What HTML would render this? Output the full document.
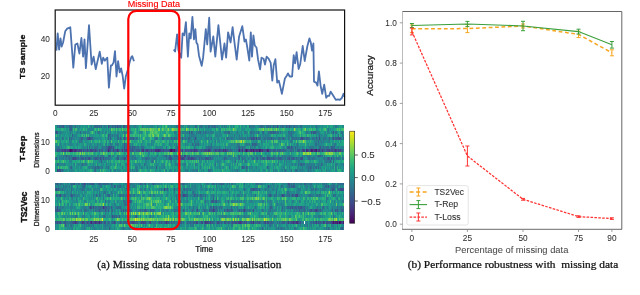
<!DOCTYPE html>
<html><head><meta charset="utf-8"><style>
html,body{margin:0;padding:0;background:#fff;width:640px;height:295px;overflow:hidden}
svg{display:block;font-family:'Liberation Sans', sans-serif;filter:blur(0.25px)}
</style></head><body>
<svg width="640" height="295" viewBox="0 0 640 295">
<defs><linearGradient id="cb" x1="0" y1="0" x2="0" y2="1"><stop offset="0.00" stop-color="#fde725"/><stop offset="0.05" stop-color="#dfe318"/><stop offset="0.10" stop-color="#bddf26"/><stop offset="0.15" stop-color="#9bd93c"/><stop offset="0.20" stop-color="#7ad151"/><stop offset="0.25" stop-color="#5ec962"/><stop offset="0.30" stop-color="#44bf70"/><stop offset="0.35" stop-color="#2fb47c"/><stop offset="0.40" stop-color="#22a884"/><stop offset="0.45" stop-color="#1e9c89"/><stop offset="0.50" stop-color="#21918c"/><stop offset="0.55" stop-color="#25848e"/><stop offset="0.60" stop-color="#2a788e"/><stop offset="0.65" stop-color="#2f6c8e"/><stop offset="0.70" stop-color="#355f8d"/><stop offset="0.75" stop-color="#3b528b"/><stop offset="0.80" stop-color="#414487"/><stop offset="0.85" stop-color="#463480"/><stop offset="0.90" stop-color="#482475"/><stop offset="0.95" stop-color="#471365"/><stop offset="1.00" stop-color="#440154"/></linearGradient></defs>
<polyline points="56.4,50.6 57.7,33.3 59.1,49.6 60.5,38.4 61.7,46.5 63.1,42.5 65.2,31.3 67.2,28.6 70.3,27.2 73.3,67.6 75.3,44.5 77.4,43.5 79.4,53.6 81.4,38.0 83.1,56.7 84.5,39.4 85.9,68.2 89.0,25.2 91.6,64.5 93.6,56.7 95.7,69.2 99.7,51.6 101.8,63.8 103.2,57.7 104.8,60.7 107.3,57.7 108.9,87.7 110.9,65.3 112.0,65.3 113.6,62.3 115.0,51.1 116.5,76.5 118.1,61.2 119.7,72.4 121.1,68.4 122.6,75.5 124.2,88.7 125.8,76.5 127.9,69.4 129.9,61.2 131.3,57.2 132.3,56.2 134.0,61.2" fill="none" stroke="#4c72b0" stroke-width="1.8" stroke-linejoin="round"/>
<polyline points="173.7,49.6 175.1,51.6 177.1,34.3 178.5,50.6 181.2,57.7 182.6,33.3 184.2,35.3 185.9,22.1 187.9,56.7 189.3,33.3 190.7,38.4 192.4,17.0 194.0,39.4 195.4,29.2 196.4,42.5 197.6,44.5 199.0,55.7 201.7,65.8 203.1,57.7 205.8,29.2 207.2,44.5 209.2,17.7 210.6,51.6 211.9,44.5 213.3,36.4 215.3,56.7 218.4,25.2 220.0,40.4 222.0,59.7 224.5,43.5 226.1,57.7 228.1,32.3 230.6,42.5 232.6,27.2 234.6,43.5 236.7,59.7 239.1,36.4 242.3,26.2 244.5,41.5 245.9,39.4 247.3,47.5 249.3,60.7 250.8,32.3 252.0,56.7 253.4,35.3 254.8,45.5 256.5,47.5 258.1,59.7 260.1,69.4 261.5,57.7 263.6,58.7 265.0,64.5 266.6,56.7 268.6,58.7 270.7,62.8 272.3,80.6 273.7,65.3 275.4,59.2 277.2,82.6 278.8,80.6 279.8,84.6 281.9,93.8 283.3,86.7 284.9,78.5 286.9,75.5 288.0,73.4 289.7,76.5 292.1,76.5 293.7,55.1 295.1,63.3 296.6,52.1 298.6,69.0 300.2,64.3 302.7,46.0 304.7,61.0 307.3,46.5 309.4,38.4 310.8,42.5 312.0,50.6 313.4,43.5 314.0,81.6 316.1,82.6 317.5,85.6 318.9,71.4 320.6,85.6 322.2,93.8 324.2,84.6 326.2,97.8 327.7,95.8 329.1,95.8 330.7,91.7 332.7,94.8 335.8,99.9 337.8,99.3 339.9,99.9 341.9,97.8 343.5,93.8 344.5,96.8" fill="none" stroke="#4c72b0" stroke-width="1.8" stroke-linejoin="round"/>
<rect x="55.2" y="10" width="289.4" height="95.2" fill="none" stroke="#111" stroke-width="1.2"/>
<text transform="translate(49.90,42.03) scale(0.87,1)" text-anchor="end" style="font-size:9.5px;fill:#2a2a2a;stroke:#2a2a2a;stroke-width:0.04px">40</text>
<text transform="translate(49.90,79.38) scale(0.87,1)" text-anchor="end" style="font-size:9.5px;fill:#2a2a2a;stroke:#2a2a2a;stroke-width:0.04px">20</text>
<text transform="translate(55.20,116.42) scale(0.87,1)" text-anchor="middle" style="font-size:9.5px;fill:#2a2a2a;stroke:#2a2a2a;stroke-width:0.04px">0</text>
<text transform="translate(93.78,116.42) scale(0.87,1)" text-anchor="middle" style="font-size:9.5px;fill:#2a2a2a;stroke:#2a2a2a;stroke-width:0.04px">25</text>
<text transform="translate(132.35,116.42) scale(0.87,1)" text-anchor="middle" style="font-size:9.5px;fill:#2a2a2a;stroke:#2a2a2a;stroke-width:0.04px">50</text>
<text transform="translate(170.93,116.42) scale(0.87,1)" text-anchor="middle" style="font-size:9.5px;fill:#2a2a2a;stroke:#2a2a2a;stroke-width:0.04px">75</text>
<text transform="translate(209.50,116.42) scale(0.87,1)" text-anchor="middle" style="font-size:9.5px;fill:#2a2a2a;stroke:#2a2a2a;stroke-width:0.04px">100</text>
<text transform="translate(248.07,116.42) scale(0.87,1)" text-anchor="middle" style="font-size:9.5px;fill:#2a2a2a;stroke:#2a2a2a;stroke-width:0.04px">125</text>
<text transform="translate(286.65,116.42) scale(0.87,1)" text-anchor="middle" style="font-size:9.5px;fill:#2a2a2a;stroke:#2a2a2a;stroke-width:0.04px">150</text>
<text transform="translate(325.22,116.42) scale(0.87,1)" text-anchor="middle" style="font-size:9.5px;fill:#2a2a2a;stroke:#2a2a2a;stroke-width:0.04px">175</text>
<text transform="translate(24.90,78.99) rotate(-90) scale(1.102,1)" style="font-family:'Liberation Sans', sans-serif;font-weight:bold;font-size:8.09px;fill:#111;stroke:#111;stroke-width:0.35px;white-space:pre">TS sample</text>
<g shape-rendering="crispEdges" style="filter:blur(0.45px)">
<path fill="#46085c" d="M70.06 148.60h1.00v2.95h-1.00zM170.82 148.60h1.00v2.95h-1.00z"/>
<path fill="#48186a" d="M71.06 148.60h1.00v2.95h-1.00zM169.82 148.60h1.00v2.95h-1.00zM173.81 148.60h1.00v2.95h-1.00zM245.64 148.60h1.00v2.95h-1.00zM252.62 148.60h1.00v2.95h-1.00zM258.61 148.60h1.00v2.95h-1.00zM311.48 148.60h1.00v2.95h-1.00zM316.47 148.60h1.00v2.95h-1.00z"/>
<path fill="#482576" d="M69.07 148.60h1.00v2.95h-1.00zM72.06 148.60h1.00v2.95h-1.00zM75.05 148.60h1.00v2.95h-1.00zM107.97 148.60h1.00v2.95h-1.00zM157.85 148.60h1.00v2.95h-1.00zM171.82 148.60h1.00v2.95h-1.00zM238.66 148.60h1.00v2.95h-1.00zM250.63 148.60h1.00v2.95h-1.00zM259.61 148.60h1.00v2.95h-1.00zM266.59 148.60h1.00v2.95h-1.00zM306.49 148.60h1.00v2.95h-1.00zM312.48 148.60h1.00v2.95h-1.00zM315.47 148.60h1.00v2.95h-1.00z"/>
<path fill="#46337f" d="M65.08 148.60h1.00v2.95h-1.00zM74.05 148.60h1.00v2.95h-1.00zM116.95 148.60h1.00v2.95h-1.00zM142.89 148.60h1.00v2.95h-1.00zM154.86 148.60h2.99v2.95h-2.99zM158.85 148.60h1.00v2.95h-1.00zM172.82 148.60h1.00v2.95h-1.00zM177.80 148.60h1.00v2.95h-1.00zM193.76 148.60h1.00v2.95h-1.00zM207.73 148.60h1.00v2.95h-1.00zM222.69 148.60h1.00v2.95h-1.00zM224.69 148.60h1.00v2.95h-1.00zM241.65 148.60h1.00v2.95h-1.00zM244.64 148.60h1.00v2.95h-1.00zM246.64 148.60h1.00v2.95h-1.00zM249.63 148.60h1.00v2.95h-1.00zM255.61 148.60h2.00v2.95h-2.00zM261.60 148.60h1.00v2.95h-1.00zM267.59 148.60h1.00v2.95h-1.00zM307.49 148.60h1.00v2.95h-1.00zM314.47 148.60h1.00v2.95h-1.00zM319.46 148.60h1.00v2.95h-1.00zM322.45 148.60h1.00v2.95h-1.00zM335.42 148.60h1.00v2.95h-1.00z"/>
<path fill="#424086" d="M89.02 136.80h1.00v2.95h-1.00zM255.61 136.80h1.00v2.95h-1.00zM108.97 145.65h1.00v2.95h-1.00zM62.08 148.60h1.00v2.95h-1.00zM64.08 148.60h1.00v2.95h-1.00zM67.07 148.60h2.00v2.95h-2.00zM73.06 148.60h1.00v2.95h-1.00zM76.05 148.60h1.00v2.95h-1.00zM79.04 148.60h1.00v2.95h-1.00zM81.04 148.60h1.00v2.95h-1.00zM90.02 148.60h2.00v2.95h-2.00zM95.00 148.60h1.00v2.95h-1.00zM108.97 148.60h1.00v2.95h-1.00zM112.96 148.60h1.00v2.95h-1.00zM121.94 148.60h1.00v2.95h-1.00zM123.93 148.60h1.00v2.95h-1.00zM125.93 148.60h2.00v2.95h-2.00zM141.89 148.60h1.00v2.95h-1.00zM145.88 148.60h2.00v2.95h-2.00zM150.87 148.60h1.00v2.95h-1.00zM159.85 148.60h1.00v2.95h-1.00zM162.84 148.60h1.00v2.95h-1.00zM168.82 148.60h1.00v2.95h-1.00zM181.79 148.60h1.00v2.95h-1.00zM190.77 148.60h1.00v2.95h-1.00zM194.76 148.60h2.00v2.95h-2.00zM205.74 148.60h1.00v2.95h-1.00zM208.73 148.60h1.00v2.95h-1.00zM214.71 148.60h1.00v2.95h-1.00zM218.70 148.60h1.00v2.95h-1.00zM251.62 148.60h1.00v2.95h-1.00zM253.62 148.60h2.00v2.95h-2.00zM257.61 148.60h1.00v2.95h-1.00zM260.60 148.60h1.00v2.95h-1.00zM302.50 148.60h2.00v2.95h-2.00zM310.48 148.60h1.00v2.95h-1.00zM313.47 148.60h1.00v2.95h-1.00zM318.46 148.60h1.00v2.95h-1.00zM329.44 148.60h1.00v2.95h-1.00zM336.42 148.60h1.00v2.95h-1.00zM338.41 148.60h1.00v2.95h-1.00zM340.41 148.60h1.00v2.95h-1.00zM183.79 154.50h2.00v2.95h-2.00zM73.06 157.45h1.00v2.95h-1.00zM75.05 157.45h1.00v2.95h-1.00zM177.80 157.45h1.00v2.95h-1.00zM181.79 157.45h2.00v2.95h-2.00zM187.78 157.45h1.00v2.95h-1.00zM190.77 157.45h1.00v2.95h-1.00zM57.10 169.25h1.00v2.95h-1.00z"/>
<path fill="#3e4c8a" d="M107.97 125.00h1.00v2.95h-1.00zM116.95 125.00h1.00v2.95h-1.00zM276.56 125.00h1.00v2.95h-1.00zM288.54 125.00h1.00v2.95h-1.00zM56.10 130.90h1.00v2.95h-1.00zM188.78 130.90h1.00v2.95h-1.00zM88.02 136.80h1.00v2.95h-1.00zM123.93 136.80h1.00v2.95h-1.00zM194.76 136.80h1.00v2.95h-1.00zM252.62 136.80h1.00v2.95h-1.00zM300.51 136.80h2.00v2.95h-2.00zM319.46 136.80h1.00v2.95h-1.00zM333.43 136.80h1.00v2.95h-1.00zM339.41 136.80h1.00v2.95h-1.00zM107.97 145.65h1.00v2.95h-1.00zM110.96 145.65h1.00v2.95h-1.00zM123.93 145.65h1.00v2.95h-1.00zM290.53 145.65h1.00v2.95h-1.00zM61.09 148.60h1.00v2.95h-1.00zM63.08 148.60h1.00v2.95h-1.00zM77.05 148.60h2.00v2.95h-2.00zM80.04 148.60h1.00v2.95h-1.00zM83.03 148.60h1.00v2.95h-1.00zM87.02 148.60h1.00v2.95h-1.00zM92.01 148.60h1.00v2.95h-1.00zM98.99 148.60h1.00v2.95h-1.00zM109.97 148.60h1.00v2.95h-1.00zM117.95 148.60h1.00v2.95h-1.00zM131.91 148.60h1.00v2.95h-1.00zM140.89 148.60h1.00v2.95h-1.00zM152.86 148.60h1.00v2.95h-1.00zM174.81 148.60h2.00v2.95h-2.00zM178.80 148.60h1.00v2.95h-1.00zM184.79 148.60h1.00v2.95h-1.00zM187.78 148.60h1.00v2.95h-1.00zM189.77 148.60h1.00v2.95h-1.00zM192.77 148.60h1.00v2.95h-1.00zM196.76 148.60h1.00v2.95h-1.00zM200.75 148.60h1.00v2.95h-1.00zM203.74 148.60h2.00v2.95h-2.00zM209.73 148.60h1.00v2.95h-1.00zM215.71 148.60h1.00v2.95h-1.00zM217.71 148.60h1.00v2.95h-1.00zM219.70 148.60h1.00v2.95h-1.00zM223.69 148.60h1.00v2.95h-1.00zM225.69 148.60h1.00v2.95h-1.00zM237.66 148.60h1.00v2.95h-1.00zM247.63 148.60h2.00v2.95h-2.00zM265.59 148.60h1.00v2.95h-1.00zM301.50 148.60h1.00v2.95h-1.00zM308.49 148.60h1.00v2.95h-1.00zM327.44 148.60h2.00v2.95h-2.00zM331.43 148.60h2.00v2.95h-2.00zM334.42 148.60h1.00v2.95h-1.00zM89.02 157.45h1.00v2.95h-1.00zM99.99 157.45h1.00v2.95h-1.00zM102.98 157.45h1.00v2.95h-1.00zM169.82 157.45h1.00v2.95h-1.00zM179.80 157.45h2.00v2.95h-2.00zM191.77 157.45h2.00v2.95h-2.00zM205.74 157.45h1.00v2.95h-1.00zM266.59 157.45h1.00v2.95h-1.00zM268.58 157.45h1.00v2.95h-1.00zM288.54 157.45h1.00v2.95h-1.00zM301.50 157.45h1.00v2.95h-1.00zM328.44 157.45h1.00v2.95h-1.00zM331.43 157.45h1.00v2.95h-1.00zM59.09 169.25h2.00v2.95h-2.00z"/>
<path fill="#38588c" d="M63.08 125.00h1.00v2.95h-1.00zM114.96 125.00h1.00v2.95h-1.00zM122.94 125.00h2.00v2.95h-2.00zM126.93 125.00h1.00v2.95h-1.00zM272.57 125.00h1.00v2.95h-1.00zM285.54 125.00h1.00v2.95h-1.00zM190.77 130.90h1.00v2.95h-1.00zM272.57 130.90h1.00v2.95h-1.00zM311.48 130.90h1.00v2.95h-1.00zM313.47 130.90h2.00v2.95h-2.00zM333.43 130.90h1.00v2.95h-1.00zM107.97 133.85h1.00v2.95h-1.00zM81.04 136.80h1.00v2.95h-1.00zM87.02 136.80h1.00v2.95h-1.00zM90.02 136.80h1.00v2.95h-1.00zM127.92 136.80h1.00v2.95h-1.00zM132.91 136.80h1.00v2.95h-1.00zM173.81 136.80h1.00v2.95h-1.00zM181.79 136.80h1.00v2.95h-1.00zM250.63 136.80h2.00v2.95h-2.00zM253.62 136.80h1.00v2.95h-1.00zM270.58 136.80h1.00v2.95h-1.00zM336.42 136.80h1.00v2.95h-1.00zM338.41 136.80h1.00v2.95h-1.00zM123.93 142.70h1.00v2.95h-1.00zM251.62 142.70h1.00v2.95h-1.00zM109.97 145.65h1.00v2.95h-1.00zM112.96 145.65h1.00v2.95h-1.00zM131.91 145.65h1.00v2.95h-1.00zM133.91 145.65h1.00v2.95h-1.00zM287.54 145.65h2.00v2.95h-2.00zM320.46 145.65h1.00v2.95h-1.00zM331.43 145.65h1.00v2.95h-1.00zM57.10 148.60h2.99v2.95h-2.99zM66.07 148.60h1.00v2.95h-1.00zM93.01 148.60h2.00v2.95h-2.00zM101.99 148.60h1.00v2.95h-1.00zM106.97 148.60h1.00v2.95h-1.00zM114.96 148.60h2.00v2.95h-2.00zM124.93 148.60h1.00v2.95h-1.00zM127.92 148.60h1.00v2.95h-1.00zM129.92 148.60h1.00v2.95h-1.00zM135.90 148.60h1.00v2.95h-1.00zM137.90 148.60h2.00v2.95h-2.00zM144.88 148.60h1.00v2.95h-1.00zM147.88 148.60h2.00v2.95h-2.00zM153.86 148.60h1.00v2.95h-1.00zM160.84 148.60h2.00v2.95h-2.00zM164.83 148.60h2.00v2.95h-2.00zM167.83 148.60h1.00v2.95h-1.00zM179.80 148.60h1.00v2.95h-1.00zM185.78 148.60h1.00v2.95h-1.00zM191.77 148.60h1.00v2.95h-1.00zM202.74 148.60h1.00v2.95h-1.00zM206.73 148.60h1.00v2.95h-1.00zM220.70 148.60h2.00v2.95h-2.00zM226.68 148.60h1.00v2.95h-1.00zM239.65 148.60h2.00v2.95h-2.00zM243.64 148.60h1.00v2.95h-1.00zM262.60 148.60h2.99v2.95h-2.99zM268.58 148.60h2.00v2.95h-2.00zM272.57 148.60h2.99v2.95h-2.99zM276.56 148.60h1.00v2.95h-1.00zM278.56 148.60h2.00v2.95h-2.00zM297.51 148.60h1.00v2.95h-1.00zM309.48 148.60h1.00v2.95h-1.00zM317.47 148.60h1.00v2.95h-1.00zM320.46 148.60h1.00v2.95h-1.00zM324.45 148.60h1.00v2.95h-1.00zM326.44 148.60h1.00v2.95h-1.00zM333.43 148.60h1.00v2.95h-1.00zM339.41 148.60h1.00v2.95h-1.00zM342.40 148.60h1.00v2.95h-1.00zM169.82 154.50h1.00v2.95h-1.00zM179.80 154.50h1.00v2.95h-1.00zM188.78 154.50h1.00v2.95h-1.00zM72.06 157.45h1.00v2.95h-1.00zM74.05 157.45h1.00v2.95h-1.00zM82.03 157.45h1.00v2.95h-1.00zM85.03 157.45h1.00v2.95h-1.00zM88.02 157.45h1.00v2.95h-1.00zM95.00 157.45h2.00v2.95h-2.00zM117.95 157.45h1.00v2.95h-1.00zM123.93 157.45h2.00v2.95h-2.00zM168.82 157.45h1.00v2.95h-1.00zM170.82 157.45h1.00v2.95h-1.00zM178.80 157.45h1.00v2.95h-1.00zM183.79 157.45h1.00v2.95h-1.00zM188.78 157.45h2.00v2.95h-2.00zM207.73 157.45h1.00v2.95h-1.00zM209.73 157.45h1.00v2.95h-1.00zM223.69 157.45h1.00v2.95h-1.00zM256.61 157.45h1.00v2.95h-1.00zM262.60 157.45h1.00v2.95h-1.00zM267.59 157.45h1.00v2.95h-1.00zM272.57 157.45h1.00v2.95h-1.00zM279.56 157.45h1.00v2.95h-1.00zM292.53 157.45h1.00v2.95h-1.00zM299.51 157.45h2.00v2.95h-2.00zM300.51 163.35h1.00v2.95h-1.00zM155.86 166.30h1.00v2.95h-1.00zM241.65 166.30h1.00v2.95h-1.00zM58.09 169.25h1.00v2.95h-1.00z"/>
<path fill="#33638d" d="M59.09 125.00h1.00v2.95h-1.00zM62.08 125.00h1.00v2.95h-1.00zM69.07 125.00h2.99v2.95h-2.99zM75.05 125.00h1.00v2.95h-1.00zM95.00 125.00h1.00v2.95h-1.00zM97.00 125.00h1.00v2.95h-1.00zM98.99 125.00h1.00v2.95h-1.00zM100.99 125.00h1.00v2.95h-1.00zM111.96 125.00h1.00v2.95h-1.00zM118.95 125.00h2.00v2.95h-2.00zM194.76 125.00h1.00v2.95h-1.00zM207.73 125.00h1.00v2.95h-1.00zM213.72 125.00h2.00v2.95h-2.00zM248.63 125.00h1.00v2.95h-1.00zM260.60 125.00h1.00v2.95h-1.00zM267.59 125.00h1.00v2.95h-1.00zM269.58 125.00h1.00v2.95h-1.00zM281.55 125.00h1.00v2.95h-1.00zM70.06 127.95h2.00v2.95h-2.00zM57.10 130.90h1.00v2.95h-1.00zM80.04 130.90h1.00v2.95h-1.00zM199.75 130.90h1.00v2.95h-1.00zM227.68 130.90h2.00v2.95h-2.00zM257.61 130.90h1.00v2.95h-1.00zM262.60 130.90h1.00v2.95h-1.00zM269.58 130.90h2.00v2.95h-2.00zM274.57 130.90h1.00v2.95h-1.00zM290.53 130.90h1.00v2.95h-1.00zM315.47 130.90h1.00v2.95h-1.00zM72.06 133.85h1.00v2.95h-1.00zM69.07 136.80h1.00v2.95h-1.00zM71.06 136.80h1.00v2.95h-1.00zM82.03 136.80h1.00v2.95h-1.00zM91.01 136.80h2.00v2.95h-2.00zM107.97 136.80h1.00v2.95h-1.00zM109.97 136.80h1.00v2.95h-1.00zM117.95 136.80h1.00v2.95h-1.00zM119.94 136.80h1.00v2.95h-1.00zM130.92 136.80h1.00v2.95h-1.00zM161.84 136.80h1.00v2.95h-1.00zM170.82 136.80h1.00v2.95h-1.00zM187.78 136.80h1.00v2.95h-1.00zM226.68 136.80h1.00v2.95h-1.00zM257.61 136.80h2.00v2.95h-2.00zM282.55 136.80h1.00v2.95h-1.00zM291.53 136.80h1.00v2.95h-1.00zM295.52 136.80h1.00v2.95h-1.00zM299.51 136.80h1.00v2.95h-1.00zM302.50 136.80h1.00v2.95h-1.00zM306.49 136.80h2.00v2.95h-2.00zM316.47 136.80h1.00v2.95h-1.00zM329.44 136.80h1.00v2.95h-1.00zM335.42 136.80h1.00v2.95h-1.00zM337.42 136.80h1.00v2.95h-1.00zM340.41 136.80h1.00v2.95h-1.00zM343.40 136.80h1.00v2.95h-1.00zM318.46 139.75h1.00v2.95h-1.00zM126.93 142.70h1.00v2.95h-1.00zM191.77 142.70h1.00v2.95h-1.00zM194.76 142.70h1.00v2.95h-1.00zM197.75 142.70h1.00v2.95h-1.00zM253.62 142.70h2.99v2.95h-2.99zM89.02 145.65h1.00v2.95h-1.00zM105.98 145.65h1.00v2.95h-1.00zM126.93 145.65h1.00v2.95h-1.00zM129.92 145.65h1.00v2.95h-1.00zM237.66 145.65h2.00v2.95h-2.00zM241.65 145.65h1.00v2.95h-1.00zM286.54 145.65h1.00v2.95h-1.00zM294.52 145.65h1.00v2.95h-1.00zM332.43 145.65h1.00v2.95h-1.00zM334.42 145.65h1.00v2.95h-1.00zM60.09 148.60h1.00v2.95h-1.00zM84.03 148.60h2.99v2.95h-2.99zM88.02 148.60h1.00v2.95h-1.00zM96.00 148.60h2.00v2.95h-2.00zM100.99 148.60h1.00v2.95h-1.00zM104.98 148.60h1.00v2.95h-1.00zM113.96 148.60h1.00v2.95h-1.00zM128.92 148.60h1.00v2.95h-1.00zM130.92 148.60h1.00v2.95h-1.00zM132.91 148.60h1.00v2.95h-1.00zM136.90 148.60h1.00v2.95h-1.00zM149.87 148.60h1.00v2.95h-1.00zM151.87 148.60h1.00v2.95h-1.00zM163.84 148.60h1.00v2.95h-1.00zM166.83 148.60h1.00v2.95h-1.00zM180.80 148.60h1.00v2.95h-1.00zM186.78 148.60h1.00v2.95h-1.00zM188.78 148.60h1.00v2.95h-1.00zM199.75 148.60h1.00v2.95h-1.00zM201.75 148.60h1.00v2.95h-1.00zM212.72 148.60h2.00v2.95h-2.00zM216.71 148.60h1.00v2.95h-1.00zM227.68 148.60h1.00v2.95h-1.00zM229.68 148.60h2.00v2.95h-2.00zM281.55 148.60h2.99v2.95h-2.99zM289.53 148.60h2.00v2.95h-2.00zM292.53 148.60h1.00v2.95h-1.00zM296.52 148.60h1.00v2.95h-1.00zM298.51 148.60h1.00v2.95h-1.00zM305.49 148.60h1.00v2.95h-1.00zM321.46 148.60h1.00v2.95h-1.00zM323.45 148.60h1.00v2.95h-1.00zM330.43 148.60h1.00v2.95h-1.00zM337.42 148.60h1.00v2.95h-1.00zM341.41 148.60h1.00v2.95h-1.00zM66.07 154.50h1.00v2.95h-1.00zM108.97 154.50h1.00v2.95h-1.00zM165.83 154.50h1.00v2.95h-1.00zM168.82 154.50h1.00v2.95h-1.00zM173.81 154.50h1.00v2.95h-1.00zM175.81 154.50h1.00v2.95h-1.00zM181.79 154.50h1.00v2.95h-1.00zM186.78 154.50h1.00v2.95h-1.00zM238.66 154.50h1.00v2.95h-1.00zM259.61 154.50h1.00v2.95h-1.00zM318.46 154.50h2.99v2.95h-2.99zM56.10 157.45h1.00v2.95h-1.00zM69.07 157.45h1.00v2.95h-1.00zM76.05 157.45h1.00v2.95h-1.00zM78.04 157.45h1.00v2.95h-1.00zM81.04 157.45h1.00v2.95h-1.00zM83.03 157.45h1.00v2.95h-1.00zM97.00 157.45h1.00v2.95h-1.00zM116.95 157.45h1.00v2.95h-1.00zM122.94 157.45h1.00v2.95h-1.00zM145.88 157.45h1.00v2.95h-1.00zM186.78 157.45h1.00v2.95h-1.00zM193.76 157.45h2.00v2.95h-2.00zM198.75 157.45h1.00v2.95h-1.00zM200.75 157.45h1.00v2.95h-1.00zM204.74 157.45h1.00v2.95h-1.00zM206.73 157.45h1.00v2.95h-1.00zM238.66 157.45h1.00v2.95h-1.00zM241.65 157.45h1.00v2.95h-1.00zM252.62 157.45h1.00v2.95h-1.00zM259.61 157.45h1.00v2.95h-1.00zM261.60 157.45h1.00v2.95h-1.00zM263.60 157.45h1.00v2.95h-1.00zM270.58 157.45h1.00v2.95h-1.00zM277.56 157.45h2.00v2.95h-2.00zM286.54 157.45h1.00v2.95h-1.00zM290.53 157.45h2.00v2.95h-2.00zM295.52 157.45h1.00v2.95h-1.00zM327.44 157.45h1.00v2.95h-1.00zM329.44 157.45h1.00v2.95h-1.00zM333.43 157.45h1.00v2.95h-1.00zM100.99 160.40h1.00v2.95h-1.00zM330.43 160.40h1.00v2.95h-1.00zM333.43 160.40h1.00v2.95h-1.00zM321.46 163.35h1.00v2.95h-1.00zM71.06 166.30h1.00v2.95h-1.00zM95.00 166.30h1.00v2.95h-1.00zM98.00 166.30h1.00v2.95h-1.00zM242.65 166.30h1.00v2.95h-1.00zM245.64 166.30h1.00v2.95h-1.00zM266.59 166.30h1.00v2.95h-1.00zM310.48 166.30h1.00v2.95h-1.00zM316.47 166.30h1.00v2.95h-1.00zM318.46 166.30h1.00v2.95h-1.00zM62.08 169.25h1.00v2.95h-1.00zM95.00 169.25h1.00v2.95h-1.00zM207.73 169.25h1.00v2.95h-1.00z"/>
<path fill="#2e6d8e" d="M57.10 125.00h1.00v2.95h-1.00zM60.09 125.00h2.00v2.95h-2.00zM91.01 125.00h1.00v2.95h-1.00zM94.01 125.00h1.00v2.95h-1.00zM96.00 125.00h1.00v2.95h-1.00zM108.97 125.00h1.00v2.95h-1.00zM112.96 125.00h1.00v2.95h-1.00zM117.95 125.00h1.00v2.95h-1.00zM128.92 125.00h1.00v2.95h-1.00zM134.91 125.00h1.00v2.95h-1.00zM141.89 125.00h1.00v2.95h-1.00zM175.81 125.00h1.00v2.95h-1.00zM195.76 125.00h1.00v2.95h-1.00zM199.75 125.00h2.00v2.95h-2.00zM208.73 125.00h1.00v2.95h-1.00zM210.72 125.00h2.99v2.95h-2.99zM216.71 125.00h1.00v2.95h-1.00zM223.69 125.00h1.00v2.95h-1.00zM259.61 125.00h1.00v2.95h-1.00zM261.60 125.00h1.00v2.95h-1.00zM265.59 125.00h2.00v2.95h-2.00zM274.57 125.00h1.00v2.95h-1.00zM279.56 125.00h1.00v2.95h-1.00zM282.55 125.00h1.00v2.95h-1.00zM286.54 125.00h1.00v2.95h-1.00zM290.53 125.00h1.00v2.95h-1.00zM292.53 125.00h2.00v2.95h-2.00zM299.51 125.00h2.00v2.95h-2.00zM316.47 125.00h1.00v2.95h-1.00zM335.42 125.00h1.00v2.95h-1.00zM69.07 127.95h1.00v2.95h-1.00zM328.44 127.95h1.00v2.95h-1.00zM55.10 130.90h1.00v2.95h-1.00zM98.00 130.90h1.00v2.95h-1.00zM123.93 130.90h1.00v2.95h-1.00zM173.81 130.90h1.00v2.95h-1.00zM178.80 130.90h1.00v2.95h-1.00zM191.77 130.90h1.00v2.95h-1.00zM197.75 130.90h1.00v2.95h-1.00zM202.74 130.90h1.00v2.95h-1.00zM204.74 130.90h1.00v2.95h-1.00zM224.69 130.90h1.00v2.95h-1.00zM249.63 130.90h2.00v2.95h-2.00zM267.59 130.90h1.00v2.95h-1.00zM271.58 130.90h1.00v2.95h-1.00zM273.57 130.90h1.00v2.95h-1.00zM276.56 130.90h2.00v2.95h-2.00zM279.56 130.90h1.00v2.95h-1.00zM287.54 130.90h2.00v2.95h-2.00zM316.47 130.90h1.00v2.95h-1.00zM335.42 130.90h2.00v2.95h-2.00zM341.41 130.90h2.00v2.95h-2.00zM108.97 133.85h2.00v2.95h-2.00zM111.96 133.85h1.00v2.95h-1.00zM116.95 133.85h1.00v2.95h-1.00zM233.67 133.85h1.00v2.95h-1.00zM290.53 133.85h1.00v2.95h-1.00zM319.46 133.85h1.00v2.95h-1.00zM338.41 133.85h1.00v2.95h-1.00zM342.40 133.85h1.00v2.95h-1.00zM62.08 136.80h1.00v2.95h-1.00zM116.95 136.80h1.00v2.95h-1.00zM124.93 136.80h1.00v2.95h-1.00zM128.92 136.80h2.00v2.95h-2.00zM131.91 136.80h1.00v2.95h-1.00zM135.90 136.80h1.00v2.95h-1.00zM154.86 136.80h2.00v2.95h-2.00zM162.84 136.80h1.00v2.95h-1.00zM171.82 136.80h1.00v2.95h-1.00zM175.81 136.80h1.00v2.95h-1.00zM184.79 136.80h1.00v2.95h-1.00zM188.78 136.80h1.00v2.95h-1.00zM207.73 136.80h1.00v2.95h-1.00zM210.72 136.80h1.00v2.95h-1.00zM230.68 136.80h1.00v2.95h-1.00zM246.64 136.80h1.00v2.95h-1.00zM248.63 136.80h2.00v2.95h-2.00zM259.61 136.80h1.00v2.95h-1.00zM263.60 136.80h2.00v2.95h-2.00zM266.59 136.80h2.99v2.95h-2.99zM272.57 136.80h1.00v2.95h-1.00zM277.56 136.80h2.00v2.95h-2.00zM281.55 136.80h1.00v2.95h-1.00zM293.52 136.80h1.00v2.95h-1.00zM297.51 136.80h1.00v2.95h-1.00zM303.50 136.80h2.00v2.95h-2.00zM308.49 136.80h2.00v2.95h-2.00zM312.48 136.80h2.00v2.95h-2.00zM324.45 136.80h1.00v2.95h-1.00zM332.43 136.80h1.00v2.95h-1.00zM341.41 136.80h1.00v2.95h-1.00zM79.04 139.75h1.00v2.95h-1.00zM193.76 139.75h1.00v2.95h-1.00zM109.97 142.70h1.00v2.95h-1.00zM124.93 142.70h1.00v2.95h-1.00zM178.80 142.70h1.00v2.95h-1.00zM210.72 142.70h1.00v2.95h-1.00zM252.62 142.70h1.00v2.95h-1.00zM296.52 142.70h1.00v2.95h-1.00zM315.47 142.70h2.00v2.95h-2.00zM58.09 145.65h1.00v2.95h-1.00zM87.02 145.65h1.00v2.95h-1.00zM106.97 145.65h1.00v2.95h-1.00zM111.96 145.65h1.00v2.95h-1.00zM125.93 145.65h1.00v2.95h-1.00zM128.92 145.65h1.00v2.95h-1.00zM132.91 145.65h1.00v2.95h-1.00zM137.90 145.65h1.00v2.95h-1.00zM140.89 145.65h2.99v2.95h-2.99zM165.83 145.65h1.00v2.95h-1.00zM176.81 145.65h2.00v2.95h-2.00zM207.73 145.65h3.99v2.95h-3.99zM249.63 145.65h1.00v2.95h-1.00zM291.53 145.65h1.00v2.95h-1.00zM319.46 145.65h1.00v2.95h-1.00zM323.45 145.65h1.00v2.95h-1.00zM326.44 145.65h2.99v2.95h-2.99zM333.43 145.65h1.00v2.95h-1.00zM56.10 148.60h1.00v2.95h-1.00zM89.02 148.60h1.00v2.95h-1.00zM105.98 148.60h1.00v2.95h-1.00zM110.96 148.60h2.00v2.95h-2.00zM118.95 148.60h1.00v2.95h-1.00zM120.94 148.60h1.00v2.95h-1.00zM133.91 148.60h2.00v2.95h-2.00zM143.89 148.60h1.00v2.95h-1.00zM197.75 148.60h2.00v2.95h-2.00zM210.72 148.60h1.00v2.95h-1.00zM228.68 148.60h1.00v2.95h-1.00zM231.67 148.60h1.00v2.95h-1.00zM233.67 148.60h1.00v2.95h-1.00zM235.66 148.60h1.00v2.95h-1.00zM242.65 148.60h1.00v2.95h-1.00zM270.58 148.60h2.00v2.95h-2.00zM277.56 148.60h1.00v2.95h-1.00zM280.55 148.60h1.00v2.95h-1.00zM284.54 148.60h1.00v2.95h-1.00zM294.52 148.60h1.00v2.95h-1.00zM300.51 148.60h1.00v2.95h-1.00zM325.45 148.60h1.00v2.95h-1.00zM69.07 154.50h1.00v2.95h-1.00zM71.06 154.50h1.00v2.95h-1.00zM101.99 154.50h1.00v2.95h-1.00zM107.97 154.50h1.00v2.95h-1.00zM109.97 154.50h1.00v2.95h-1.00zM116.95 154.50h1.00v2.95h-1.00zM125.93 154.50h1.00v2.95h-1.00zM156.85 154.50h1.00v2.95h-1.00zM164.83 154.50h1.00v2.95h-1.00zM177.80 154.50h2.00v2.95h-2.00zM187.78 154.50h1.00v2.95h-1.00zM199.75 154.50h1.00v2.95h-1.00zM218.70 154.50h1.00v2.95h-1.00zM237.66 154.50h1.00v2.95h-1.00zM277.56 154.50h1.00v2.95h-1.00zM281.55 154.50h1.00v2.95h-1.00zM307.49 154.50h1.00v2.95h-1.00zM322.45 154.50h1.00v2.95h-1.00zM63.08 157.45h1.00v2.95h-1.00zM77.05 157.45h1.00v2.95h-1.00zM80.04 157.45h1.00v2.95h-1.00zM86.03 157.45h2.00v2.95h-2.00zM90.02 157.45h1.00v2.95h-1.00zM93.01 157.45h2.00v2.95h-2.00zM98.00 157.45h1.00v2.95h-1.00zM100.99 157.45h1.00v2.95h-1.00zM104.98 157.45h2.00v2.95h-2.00zM107.97 157.45h1.00v2.95h-1.00zM131.91 157.45h1.00v2.95h-1.00zM134.91 157.45h1.00v2.95h-1.00zM144.88 157.45h1.00v2.95h-1.00zM146.88 157.45h1.00v2.95h-1.00zM165.83 157.45h1.00v2.95h-1.00zM167.83 157.45h1.00v2.95h-1.00zM171.82 157.45h1.00v2.95h-1.00zM184.79 157.45h2.00v2.95h-2.00zM195.76 157.45h1.00v2.95h-1.00zM202.74 157.45h1.00v2.95h-1.00zM211.72 157.45h1.00v2.95h-1.00zM225.69 157.45h1.00v2.95h-1.00zM237.66 157.45h1.00v2.95h-1.00zM251.62 157.45h1.00v2.95h-1.00zM255.61 157.45h1.00v2.95h-1.00zM269.58 157.45h1.00v2.95h-1.00zM271.58 157.45h1.00v2.95h-1.00zM273.57 157.45h2.00v2.95h-2.00zM280.55 157.45h2.00v2.95h-2.00zM284.54 157.45h1.00v2.95h-1.00zM287.54 157.45h1.00v2.95h-1.00zM293.52 157.45h1.00v2.95h-1.00zM297.51 157.45h1.00v2.95h-1.00zM308.49 157.45h2.00v2.95h-2.00zM312.48 157.45h2.00v2.95h-2.00zM324.45 157.45h1.00v2.95h-1.00zM336.42 157.45h1.00v2.95h-1.00zM338.41 157.45h1.00v2.95h-1.00zM342.40 157.45h1.00v2.95h-1.00zM151.87 160.40h1.00v2.95h-1.00zM234.67 160.40h1.00v2.95h-1.00zM57.10 163.35h1.00v2.95h-1.00zM82.03 163.35h1.00v2.95h-1.00zM143.89 163.35h1.00v2.95h-1.00zM194.76 163.35h1.00v2.95h-1.00zM214.71 163.35h1.00v2.95h-1.00zM297.51 163.35h1.00v2.95h-1.00zM299.51 163.35h1.00v2.95h-1.00zM302.50 163.35h2.00v2.95h-2.00zM343.40 163.35h1.00v2.95h-1.00zM70.06 166.30h1.00v2.95h-1.00zM97.00 166.30h1.00v2.95h-1.00zM107.97 166.30h1.00v2.95h-1.00zM228.68 166.30h1.00v2.95h-1.00zM243.64 166.30h1.00v2.95h-1.00zM246.64 166.30h1.00v2.95h-1.00zM308.49 166.30h1.00v2.95h-1.00zM311.48 166.30h1.00v2.95h-1.00zM313.47 166.30h1.00v2.95h-1.00zM114.96 169.25h1.00v2.95h-1.00zM131.91 169.25h1.00v2.95h-1.00zM135.90 169.25h1.00v2.95h-1.00zM196.76 169.25h1.00v2.95h-1.00zM208.73 169.25h1.00v2.95h-1.00zM236.66 169.25h1.00v2.95h-1.00zM284.54 169.25h1.00v2.95h-1.00zM290.53 169.25h1.00v2.95h-1.00zM294.52 169.25h2.00v2.95h-2.00zM308.49 169.25h1.00v2.95h-1.00z"/>
<path fill="#2a778e" d="M66.07 125.00h2.00v2.95h-2.00zM72.06 125.00h1.00v2.95h-1.00zM77.05 125.00h1.00v2.95h-1.00zM79.04 125.00h1.00v2.95h-1.00zM98.00 125.00h1.00v2.95h-1.00zM99.99 125.00h1.00v2.95h-1.00zM103.98 125.00h2.00v2.95h-2.00zM109.97 125.00h2.00v2.95h-2.00zM113.96 125.00h1.00v2.95h-1.00zM115.95 125.00h1.00v2.95h-1.00zM120.94 125.00h1.00v2.95h-1.00zM124.93 125.00h2.00v2.95h-2.00zM156.85 125.00h1.00v2.95h-1.00zM176.81 125.00h2.00v2.95h-2.00zM187.78 125.00h1.00v2.95h-1.00zM198.75 125.00h1.00v2.95h-1.00zM201.75 125.00h1.00v2.95h-1.00zM204.74 125.00h2.00v2.95h-2.00zM221.70 125.00h1.00v2.95h-1.00zM225.69 125.00h1.00v2.95h-1.00zM249.63 125.00h4.99v2.95h-4.99zM258.61 125.00h1.00v2.95h-1.00zM262.60 125.00h2.00v2.95h-2.00zM268.58 125.00h1.00v2.95h-1.00zM277.56 125.00h1.00v2.95h-1.00zM280.55 125.00h1.00v2.95h-1.00zM287.54 125.00h1.00v2.95h-1.00zM289.53 125.00h1.00v2.95h-1.00zM294.52 125.00h2.99v2.95h-2.99zM315.47 125.00h1.00v2.95h-1.00zM336.42 125.00h1.00v2.95h-1.00zM60.09 130.90h1.00v2.95h-1.00zM70.06 130.90h1.00v2.95h-1.00zM83.03 130.90h1.00v2.95h-1.00zM85.03 130.90h1.00v2.95h-1.00zM95.00 130.90h1.00v2.95h-1.00zM98.99 130.90h1.00v2.95h-1.00zM104.98 130.90h1.00v2.95h-1.00zM109.97 130.90h1.00v2.95h-1.00zM124.93 130.90h1.00v2.95h-1.00zM126.93 130.90h2.00v2.95h-2.00zM129.92 130.90h1.00v2.95h-1.00zM182.79 130.90h1.00v2.95h-1.00zM184.79 130.90h1.00v2.95h-1.00zM186.78 130.90h1.00v2.95h-1.00zM195.76 130.90h1.00v2.95h-1.00zM198.75 130.90h1.00v2.95h-1.00zM205.74 130.90h1.00v2.95h-1.00zM207.73 130.90h1.00v2.95h-1.00zM209.73 130.90h2.99v2.95h-2.99zM219.70 130.90h1.00v2.95h-1.00zM223.69 130.90h1.00v2.95h-1.00zM225.69 130.90h2.00v2.95h-2.00zM236.66 130.90h1.00v2.95h-1.00zM243.64 130.90h2.00v2.95h-2.00zM251.62 130.90h2.99v2.95h-2.99zM255.61 130.90h1.00v2.95h-1.00zM261.60 130.90h1.00v2.95h-1.00zM268.58 130.90h1.00v2.95h-1.00zM292.53 130.90h1.00v2.95h-1.00zM306.49 130.90h2.00v2.95h-2.00zM312.48 130.90h1.00v2.95h-1.00zM318.46 130.90h1.00v2.95h-1.00zM327.44 130.90h1.00v2.95h-1.00zM332.43 130.90h1.00v2.95h-1.00zM113.96 133.85h1.00v2.95h-1.00zM117.95 133.85h1.00v2.95h-1.00zM184.79 133.85h1.00v2.95h-1.00zM188.78 133.85h1.00v2.95h-1.00zM190.77 133.85h2.99v2.95h-2.99zM238.66 133.85h1.00v2.95h-1.00zM252.62 133.85h1.00v2.95h-1.00zM287.54 133.85h1.00v2.95h-1.00zM289.53 133.85h1.00v2.95h-1.00zM63.08 136.80h1.00v2.95h-1.00zM80.04 136.80h1.00v2.95h-1.00zM86.03 136.80h1.00v2.95h-1.00zM120.94 136.80h1.00v2.95h-1.00zM122.94 136.80h1.00v2.95h-1.00zM126.93 136.80h1.00v2.95h-1.00zM133.91 136.80h1.00v2.95h-1.00zM136.90 136.80h1.00v2.95h-1.00zM156.85 136.80h1.00v2.95h-1.00zM166.83 136.80h1.00v2.95h-1.00zM174.81 136.80h1.00v2.95h-1.00zM189.77 136.80h1.00v2.95h-1.00zM193.76 136.80h1.00v2.95h-1.00zM195.76 136.80h1.00v2.95h-1.00zM205.74 136.80h1.00v2.95h-1.00zM223.69 136.80h1.00v2.95h-1.00zM225.69 136.80h1.00v2.95h-1.00zM227.68 136.80h2.00v2.95h-2.00zM231.67 136.80h1.00v2.95h-1.00zM238.66 136.80h6.98v2.95h-6.98zM247.63 136.80h1.00v2.95h-1.00zM254.62 136.80h1.00v2.95h-1.00zM262.60 136.80h1.00v2.95h-1.00zM269.58 136.80h1.00v2.95h-1.00zM271.58 136.80h1.00v2.95h-1.00zM274.57 136.80h1.00v2.95h-1.00zM279.56 136.80h1.00v2.95h-1.00zM283.55 136.80h1.00v2.95h-1.00zM287.54 136.80h2.00v2.95h-2.00zM290.53 136.80h1.00v2.95h-1.00zM292.53 136.80h1.00v2.95h-1.00zM294.52 136.80h1.00v2.95h-1.00zM305.49 136.80h1.00v2.95h-1.00zM314.47 136.80h1.00v2.95h-1.00zM317.47 136.80h1.00v2.95h-1.00zM320.46 136.80h1.00v2.95h-1.00zM323.45 136.80h1.00v2.95h-1.00zM325.45 136.80h1.00v2.95h-1.00zM334.42 136.80h1.00v2.95h-1.00zM69.07 139.75h1.00v2.95h-1.00zM80.04 139.75h2.00v2.95h-2.00zM187.78 139.75h1.00v2.95h-1.00zM214.71 139.75h1.00v2.95h-1.00zM260.60 139.75h1.00v2.95h-1.00zM289.53 139.75h2.00v2.95h-2.00zM316.47 139.75h1.00v2.95h-1.00zM321.46 139.75h1.00v2.95h-1.00zM323.45 139.75h1.00v2.95h-1.00zM329.44 139.75h1.00v2.95h-1.00zM97.00 142.70h1.00v2.95h-1.00zM99.99 142.70h1.00v2.95h-1.00zM114.96 142.70h1.00v2.95h-1.00zM116.95 142.70h2.00v2.95h-2.00zM125.93 142.70h1.00v2.95h-1.00zM173.81 142.70h1.00v2.95h-1.00zM175.81 142.70h1.00v2.95h-1.00zM177.80 142.70h1.00v2.95h-1.00zM184.79 142.70h1.00v2.95h-1.00zM195.76 142.70h2.00v2.95h-2.00zM233.67 142.70h1.00v2.95h-1.00zM236.66 142.70h2.99v2.95h-2.99zM244.64 142.70h2.99v2.95h-2.99zM248.63 142.70h1.00v2.95h-1.00zM318.46 142.70h1.00v2.95h-1.00zM334.42 142.70h2.00v2.95h-2.00zM56.10 145.65h2.00v2.95h-2.00zM59.09 145.65h1.00v2.95h-1.00zM61.09 145.65h1.00v2.95h-1.00zM94.01 145.65h3.99v2.95h-3.99zM101.99 145.65h2.99v2.95h-2.99zM121.94 145.65h1.00v2.95h-1.00zM124.93 145.65h1.00v2.95h-1.00zM130.92 145.65h1.00v2.95h-1.00zM134.91 145.65h2.99v2.95h-2.99zM175.81 145.65h1.00v2.95h-1.00zM178.80 145.65h1.00v2.95h-1.00zM193.76 145.65h1.00v2.95h-1.00zM205.74 145.65h2.00v2.95h-2.00zM213.72 145.65h1.00v2.95h-1.00zM218.70 145.65h1.00v2.95h-1.00zM224.69 145.65h1.00v2.95h-1.00zM229.68 145.65h1.00v2.95h-1.00zM235.66 145.65h1.00v2.95h-1.00zM239.65 145.65h1.00v2.95h-1.00zM243.64 145.65h1.00v2.95h-1.00zM253.62 145.65h1.00v2.95h-1.00zM289.53 145.65h1.00v2.95h-1.00zM292.53 145.65h1.00v2.95h-1.00zM296.52 145.65h1.00v2.95h-1.00zM301.50 145.65h1.00v2.95h-1.00zM309.48 145.65h4.99v2.95h-4.99zM322.45 145.65h1.00v2.95h-1.00zM324.45 145.65h1.00v2.95h-1.00zM338.41 145.65h1.00v2.95h-1.00zM55.10 148.60h1.00v2.95h-1.00zM82.03 148.60h1.00v2.95h-1.00zM99.99 148.60h1.00v2.95h-1.00zM119.94 148.60h1.00v2.95h-1.00zM122.94 148.60h1.00v2.95h-1.00zM176.81 148.60h1.00v2.95h-1.00zM183.79 148.60h1.00v2.95h-1.00zM211.72 148.60h1.00v2.95h-1.00zM236.66 148.60h1.00v2.95h-1.00zM285.54 148.60h1.00v2.95h-1.00zM287.54 148.60h1.00v2.95h-1.00zM291.53 148.60h1.00v2.95h-1.00zM299.51 148.60h1.00v2.95h-1.00zM343.40 148.60h1.00v2.95h-1.00zM61.09 154.50h1.00v2.95h-1.00zM63.08 154.50h2.99v2.95h-2.99zM67.07 154.50h2.00v2.95h-2.00zM80.04 154.50h2.00v2.95h-2.00zM87.02 154.50h1.00v2.95h-1.00zM91.01 154.50h1.00v2.95h-1.00zM97.00 154.50h2.00v2.95h-2.00zM99.99 154.50h2.00v2.95h-2.00zM102.98 154.50h1.00v2.95h-1.00zM112.96 154.50h1.00v2.95h-1.00zM126.93 154.50h1.00v2.95h-1.00zM131.91 154.50h2.00v2.95h-2.00zM147.88 154.50h1.00v2.95h-1.00zM163.84 154.50h1.00v2.95h-1.00zM174.81 154.50h1.00v2.95h-1.00zM180.80 154.50h1.00v2.95h-1.00zM190.77 154.50h1.00v2.95h-1.00zM193.76 154.50h1.00v2.95h-1.00zM195.76 154.50h3.99v2.95h-3.99zM208.73 154.50h1.00v2.95h-1.00zM227.68 154.50h2.00v2.95h-2.00zM233.67 154.50h1.00v2.95h-1.00zM240.65 154.50h1.00v2.95h-1.00zM250.63 154.50h1.00v2.95h-1.00zM254.62 154.50h2.00v2.95h-2.00zM266.59 154.50h2.00v2.95h-2.00zM273.57 154.50h1.00v2.95h-1.00zM283.55 154.50h1.00v2.95h-1.00zM285.54 154.50h1.00v2.95h-1.00zM287.54 154.50h2.99v2.95h-2.99zM301.50 154.50h1.00v2.95h-1.00zM306.49 154.50h1.00v2.95h-1.00zM309.48 154.50h1.00v2.95h-1.00zM317.47 154.50h1.00v2.95h-1.00zM321.46 154.50h1.00v2.95h-1.00zM324.45 154.50h1.00v2.95h-1.00zM55.10 157.45h1.00v2.95h-1.00zM59.09 157.45h1.00v2.95h-1.00zM65.08 157.45h2.00v2.95h-2.00zM68.07 157.45h1.00v2.95h-1.00zM70.06 157.45h2.00v2.95h-2.00zM84.03 157.45h1.00v2.95h-1.00zM91.01 157.45h1.00v2.95h-1.00zM98.99 157.45h1.00v2.95h-1.00zM101.99 157.45h1.00v2.95h-1.00zM103.98 157.45h1.00v2.95h-1.00zM106.97 157.45h1.00v2.95h-1.00zM108.97 157.45h2.00v2.95h-2.00zM115.95 157.45h1.00v2.95h-1.00zM119.94 157.45h2.99v2.95h-2.99zM126.93 157.45h2.00v2.95h-2.00zM133.91 157.45h1.00v2.95h-1.00zM141.89 157.45h1.00v2.95h-1.00zM147.88 157.45h2.00v2.95h-2.00zM151.87 157.45h3.99v2.95h-3.99zM173.81 157.45h3.99v2.95h-3.99zM197.75 157.45h1.00v2.95h-1.00zM201.75 157.45h1.00v2.95h-1.00zM203.74 157.45h1.00v2.95h-1.00zM208.73 157.45h1.00v2.95h-1.00zM210.72 157.45h1.00v2.95h-1.00zM224.69 157.45h1.00v2.95h-1.00zM234.67 157.45h1.00v2.95h-1.00zM243.64 157.45h2.00v2.95h-2.00zM247.63 157.45h1.00v2.95h-1.00zM260.60 157.45h1.00v2.95h-1.00zM264.59 157.45h2.00v2.95h-2.00zM275.57 157.45h2.00v2.95h-2.00zM283.55 157.45h1.00v2.95h-1.00zM296.52 157.45h1.00v2.95h-1.00zM306.49 157.45h1.00v2.95h-1.00zM310.48 157.45h1.00v2.95h-1.00zM314.47 157.45h1.00v2.95h-1.00zM323.45 157.45h1.00v2.95h-1.00zM325.45 157.45h2.00v2.95h-2.00zM334.42 157.45h1.00v2.95h-1.00zM337.42 157.45h1.00v2.95h-1.00zM339.41 157.45h1.00v2.95h-1.00zM343.40 157.45h1.00v2.95h-1.00zM150.87 160.40h1.00v2.95h-1.00zM170.82 160.40h1.00v2.95h-1.00zM241.65 160.40h1.00v2.95h-1.00zM244.64 160.40h2.00v2.95h-2.00zM283.55 160.40h1.00v2.95h-1.00zM285.54 160.40h1.00v2.95h-1.00zM297.51 160.40h1.00v2.95h-1.00zM325.45 160.40h4.99v2.95h-4.99zM58.09 163.35h1.00v2.95h-1.00zM64.08 163.35h1.00v2.95h-1.00zM74.05 163.35h1.00v2.95h-1.00zM81.04 163.35h1.00v2.95h-1.00zM83.03 163.35h1.00v2.95h-1.00zM85.03 163.35h2.00v2.95h-2.00zM97.00 163.35h1.00v2.95h-1.00zM105.98 163.35h1.00v2.95h-1.00zM125.93 163.35h1.00v2.95h-1.00zM174.81 163.35h1.00v2.95h-1.00zM176.81 163.35h1.00v2.95h-1.00zM183.79 163.35h2.00v2.95h-2.00zM236.66 163.35h1.00v2.95h-1.00zM291.53 163.35h1.00v2.95h-1.00zM294.52 163.35h1.00v2.95h-1.00zM301.50 163.35h1.00v2.95h-1.00zM307.49 163.35h1.00v2.95h-1.00zM309.48 163.35h1.00v2.95h-1.00zM311.48 163.35h1.00v2.95h-1.00zM314.47 163.35h1.00v2.95h-1.00zM318.46 163.35h1.00v2.95h-1.00zM322.45 163.35h1.00v2.95h-1.00zM335.42 163.35h2.00v2.95h-2.00zM89.02 166.30h1.00v2.95h-1.00zM92.01 166.30h2.99v2.95h-2.99zM96.00 166.30h1.00v2.95h-1.00zM98.99 166.30h1.00v2.95h-1.00zM100.99 166.30h2.00v2.95h-2.00zM121.94 166.30h1.00v2.95h-1.00zM134.91 166.30h2.99v2.95h-2.99zM140.89 166.30h1.00v2.95h-1.00zM146.88 166.30h1.00v2.95h-1.00zM163.84 166.30h1.00v2.95h-1.00zM199.75 166.30h1.00v2.95h-1.00zM218.70 166.30h1.00v2.95h-1.00zM255.61 166.30h1.00v2.95h-1.00zM267.59 166.30h1.00v2.95h-1.00zM288.54 166.30h1.00v2.95h-1.00zM301.50 166.30h1.00v2.95h-1.00zM306.49 166.30h1.00v2.95h-1.00zM309.48 166.30h1.00v2.95h-1.00zM315.47 166.30h1.00v2.95h-1.00zM320.46 166.30h1.00v2.95h-1.00zM335.42 166.30h1.00v2.95h-1.00zM61.09 169.25h1.00v2.95h-1.00zM94.01 169.25h1.00v2.95h-1.00zM109.97 169.25h1.00v2.95h-1.00zM129.92 169.25h1.00v2.95h-1.00zM133.91 169.25h1.00v2.95h-1.00zM136.90 169.25h1.00v2.95h-1.00zM173.81 169.25h1.00v2.95h-1.00zM184.79 169.25h1.00v2.95h-1.00zM186.78 169.25h1.00v2.95h-1.00zM192.77 169.25h1.00v2.95h-1.00zM195.76 169.25h1.00v2.95h-1.00zM209.73 169.25h1.00v2.95h-1.00zM245.64 169.25h1.00v2.95h-1.00zM272.57 169.25h1.00v2.95h-1.00zM274.57 169.25h1.00v2.95h-1.00zM283.55 169.25h1.00v2.95h-1.00zM296.52 169.25h1.00v2.95h-1.00zM299.51 169.25h1.00v2.95h-1.00zM310.48 169.25h1.00v2.95h-1.00zM326.44 169.25h1.00v2.95h-1.00z"/>
<path fill="#26828e" d="M58.09 125.00h1.00v2.95h-1.00zM64.08 125.00h1.00v2.95h-1.00zM68.07 125.00h1.00v2.95h-1.00zM74.05 125.00h1.00v2.95h-1.00zM93.01 125.00h1.00v2.95h-1.00zM102.98 125.00h1.00v2.95h-1.00zM105.98 125.00h1.00v2.95h-1.00zM127.92 125.00h1.00v2.95h-1.00zM129.92 125.00h1.00v2.95h-1.00zM132.91 125.00h2.00v2.95h-2.00zM147.88 125.00h1.00v2.95h-1.00zM149.87 125.00h2.99v2.95h-2.99zM170.82 125.00h1.00v2.95h-1.00zM174.81 125.00h1.00v2.95h-1.00zM178.80 125.00h2.99v2.95h-2.99zM182.79 125.00h1.00v2.95h-1.00zM188.78 125.00h1.00v2.95h-1.00zM209.73 125.00h1.00v2.95h-1.00zM218.70 125.00h1.00v2.95h-1.00zM220.70 125.00h1.00v2.95h-1.00zM230.68 125.00h1.00v2.95h-1.00zM232.67 125.00h1.00v2.95h-1.00zM241.65 125.00h1.00v2.95h-1.00zM244.64 125.00h1.00v2.95h-1.00zM271.58 125.00h1.00v2.95h-1.00zM273.57 125.00h1.00v2.95h-1.00zM275.57 125.00h1.00v2.95h-1.00zM283.55 125.00h2.00v2.95h-2.00zM298.51 125.00h1.00v2.95h-1.00zM301.50 125.00h1.00v2.95h-1.00zM305.49 125.00h1.00v2.95h-1.00zM309.48 125.00h1.00v2.95h-1.00zM312.48 125.00h1.00v2.95h-1.00zM318.46 125.00h1.00v2.95h-1.00zM322.45 125.00h1.00v2.95h-1.00zM333.43 125.00h1.00v2.95h-1.00zM89.02 127.95h3.99v2.95h-3.99zM107.97 127.95h1.00v2.95h-1.00zM198.75 127.95h1.00v2.95h-1.00zM250.63 127.95h1.00v2.95h-1.00zM330.43 127.95h1.00v2.95h-1.00zM58.09 130.90h2.00v2.95h-2.00zM61.09 130.90h1.00v2.95h-1.00zM76.05 130.90h2.00v2.95h-2.00zM84.03 130.90h1.00v2.95h-1.00zM87.02 130.90h2.00v2.95h-2.00zM97.00 130.90h1.00v2.95h-1.00zM101.99 130.90h1.00v2.95h-1.00zM116.95 130.90h2.00v2.95h-2.00zM128.92 130.90h1.00v2.95h-1.00zM130.92 130.90h1.00v2.95h-1.00zM138.90 130.90h2.99v2.95h-2.99zM174.81 130.90h2.00v2.95h-2.00zM181.79 130.90h1.00v2.95h-1.00zM183.79 130.90h1.00v2.95h-1.00zM185.78 130.90h1.00v2.95h-1.00zM187.78 130.90h1.00v2.95h-1.00zM192.77 130.90h1.00v2.95h-1.00zM196.76 130.90h1.00v2.95h-1.00zM200.75 130.90h1.00v2.95h-1.00zM203.74 130.90h1.00v2.95h-1.00zM206.73 130.90h1.00v2.95h-1.00zM208.73 130.90h1.00v2.95h-1.00zM212.72 130.90h1.00v2.95h-1.00zM218.70 130.90h1.00v2.95h-1.00zM230.68 130.90h1.00v2.95h-1.00zM235.66 130.90h1.00v2.95h-1.00zM240.65 130.90h1.00v2.95h-1.00zM245.64 130.90h1.00v2.95h-1.00zM275.57 130.90h1.00v2.95h-1.00zM281.55 130.90h1.00v2.95h-1.00zM289.53 130.90h1.00v2.95h-1.00zM291.53 130.90h1.00v2.95h-1.00zM305.49 130.90h1.00v2.95h-1.00zM308.49 130.90h1.00v2.95h-1.00zM317.47 130.90h1.00v2.95h-1.00zM319.46 130.90h1.00v2.95h-1.00zM325.45 130.90h1.00v2.95h-1.00zM328.44 130.90h2.00v2.95h-2.00zM331.43 130.90h1.00v2.95h-1.00zM73.06 133.85h1.00v2.95h-1.00zM75.05 133.85h2.00v2.95h-2.00zM114.96 133.85h2.00v2.95h-2.00zM119.94 133.85h1.00v2.95h-1.00zM193.76 133.85h2.99v2.95h-2.99zM201.75 133.85h1.00v2.95h-1.00zM204.74 133.85h1.00v2.95h-1.00zM214.71 133.85h2.99v2.95h-2.99zM218.70 133.85h1.00v2.95h-1.00zM220.70 133.85h1.00v2.95h-1.00zM229.68 133.85h1.00v2.95h-1.00zM231.67 133.85h1.00v2.95h-1.00zM240.65 133.85h1.00v2.95h-1.00zM249.63 133.85h2.00v2.95h-2.00zM259.61 133.85h1.00v2.95h-1.00zM261.60 133.85h2.00v2.95h-2.00zM264.59 133.85h3.99v2.95h-3.99zM285.54 133.85h1.00v2.95h-1.00zM288.54 133.85h1.00v2.95h-1.00zM316.47 133.85h1.00v2.95h-1.00zM318.46 133.85h1.00v2.95h-1.00zM321.46 133.85h1.00v2.95h-1.00zM325.45 133.85h2.00v2.95h-2.00zM335.42 133.85h1.00v2.95h-1.00zM57.10 136.80h1.00v2.95h-1.00zM59.09 136.80h1.00v2.95h-1.00zM66.07 136.80h1.00v2.95h-1.00zM70.06 136.80h1.00v2.95h-1.00zM72.06 136.80h2.99v2.95h-2.99zM76.05 136.80h1.00v2.95h-1.00zM78.04 136.80h2.00v2.95h-2.00zM83.03 136.80h2.99v2.95h-2.99zM93.01 136.80h2.00v2.95h-2.00zM104.98 136.80h1.00v2.95h-1.00zM108.97 136.80h1.00v2.95h-1.00zM110.96 136.80h1.00v2.95h-1.00zM113.96 136.80h1.00v2.95h-1.00zM134.91 136.80h1.00v2.95h-1.00zM153.86 136.80h1.00v2.95h-1.00zM163.84 136.80h1.00v2.95h-1.00zM165.83 136.80h1.00v2.95h-1.00zM167.83 136.80h1.00v2.95h-1.00zM169.82 136.80h1.00v2.95h-1.00zM172.82 136.80h1.00v2.95h-1.00zM178.80 136.80h2.00v2.95h-2.00zM182.79 136.80h2.00v2.95h-2.00zM185.78 136.80h2.00v2.95h-2.00zM190.77 136.80h1.00v2.95h-1.00zM192.77 136.80h1.00v2.95h-1.00zM200.75 136.80h1.00v2.95h-1.00zM203.74 136.80h2.00v2.95h-2.00zM209.73 136.80h1.00v2.95h-1.00zM216.71 136.80h2.00v2.95h-2.00zM229.68 136.80h1.00v2.95h-1.00zM232.67 136.80h2.00v2.95h-2.00zM235.66 136.80h1.00v2.95h-1.00zM237.66 136.80h1.00v2.95h-1.00zM256.61 136.80h1.00v2.95h-1.00zM261.60 136.80h1.00v2.95h-1.00zM265.59 136.80h1.00v2.95h-1.00zM273.57 136.80h1.00v2.95h-1.00zM276.56 136.80h1.00v2.95h-1.00zM280.55 136.80h1.00v2.95h-1.00zM284.54 136.80h1.00v2.95h-1.00zM296.52 136.80h1.00v2.95h-1.00zM298.51 136.80h1.00v2.95h-1.00zM315.47 136.80h1.00v2.95h-1.00zM318.46 136.80h1.00v2.95h-1.00zM322.45 136.80h1.00v2.95h-1.00zM326.44 136.80h2.99v2.95h-2.99zM60.09 139.75h1.00v2.95h-1.00zM70.06 139.75h2.00v2.95h-2.00zM82.03 139.75h1.00v2.95h-1.00zM105.98 139.75h1.00v2.95h-1.00zM150.87 139.75h1.00v2.95h-1.00zM188.78 139.75h1.00v2.95h-1.00zM190.77 139.75h1.00v2.95h-1.00zM196.76 139.75h2.00v2.95h-2.00zM208.73 139.75h1.00v2.95h-1.00zM218.70 139.75h1.00v2.95h-1.00zM252.62 139.75h1.00v2.95h-1.00zM279.56 139.75h1.00v2.95h-1.00zM291.53 139.75h1.00v2.95h-1.00zM314.47 139.75h2.00v2.95h-2.00zM320.46 139.75h1.00v2.95h-1.00zM328.44 139.75h1.00v2.95h-1.00zM60.09 142.70h1.00v2.95h-1.00zM70.06 142.70h2.00v2.95h-2.00zM77.05 142.70h1.00v2.95h-1.00zM87.02 142.70h1.00v2.95h-1.00zM90.02 142.70h1.00v2.95h-1.00zM94.01 142.70h1.00v2.95h-1.00zM104.98 142.70h2.00v2.95h-2.00zM110.96 142.70h2.00v2.95h-2.00zM115.95 142.70h1.00v2.95h-1.00zM121.94 142.70h2.00v2.95h-2.00zM127.92 142.70h2.99v2.95h-2.99zM131.91 142.70h1.00v2.95h-1.00zM140.89 142.70h1.00v2.95h-1.00zM150.87 142.70h1.00v2.95h-1.00zM168.82 142.70h2.99v2.95h-2.99zM186.78 142.70h1.00v2.95h-1.00zM192.77 142.70h1.00v2.95h-1.00zM230.68 142.70h2.00v2.95h-2.00zM235.66 142.70h1.00v2.95h-1.00zM247.63 142.70h1.00v2.95h-1.00zM256.61 142.70h2.00v2.95h-2.00zM274.57 142.70h1.00v2.95h-1.00zM293.52 142.70h1.00v2.95h-1.00zM295.52 142.70h1.00v2.95h-1.00zM308.49 142.70h1.00v2.95h-1.00zM317.47 142.70h1.00v2.95h-1.00zM319.46 142.70h1.00v2.95h-1.00zM321.46 142.70h1.00v2.95h-1.00zM332.43 142.70h1.00v2.95h-1.00zM83.03 145.65h1.00v2.95h-1.00zM91.01 145.65h2.00v2.95h-2.00zM100.99 145.65h1.00v2.95h-1.00zM104.98 145.65h1.00v2.95h-1.00zM113.96 145.65h1.00v2.95h-1.00zM116.95 145.65h1.00v2.95h-1.00zM122.94 145.65h1.00v2.95h-1.00zM155.86 145.65h1.00v2.95h-1.00zM159.85 145.65h2.99v2.95h-2.99zM174.81 145.65h1.00v2.95h-1.00zM194.76 145.65h1.00v2.95h-1.00zM211.72 145.65h1.00v2.95h-1.00zM215.71 145.65h2.00v2.95h-2.00zM227.68 145.65h1.00v2.95h-1.00zM236.66 145.65h1.00v2.95h-1.00zM240.65 145.65h1.00v2.95h-1.00zM242.65 145.65h1.00v2.95h-1.00zM244.64 145.65h1.00v2.95h-1.00zM251.62 145.65h1.00v2.95h-1.00zM254.62 145.65h1.00v2.95h-1.00zM257.61 145.65h2.99v2.95h-2.99zM282.55 145.65h2.00v2.95h-2.00zM285.54 145.65h1.00v2.95h-1.00zM295.52 145.65h1.00v2.95h-1.00zM297.51 145.65h2.00v2.95h-2.00zM306.49 145.65h1.00v2.95h-1.00zM315.47 145.65h2.00v2.95h-2.00zM318.46 145.65h1.00v2.95h-1.00zM321.46 145.65h1.00v2.95h-1.00zM325.45 145.65h1.00v2.95h-1.00zM330.43 145.65h1.00v2.95h-1.00zM337.42 145.65h1.00v2.95h-1.00zM340.41 145.65h3.99v2.95h-3.99zM98.00 148.60h1.00v2.95h-1.00zM102.98 148.60h2.00v2.95h-2.00zM139.89 148.60h1.00v2.95h-1.00zM182.79 148.60h1.00v2.95h-1.00zM234.67 148.60h1.00v2.95h-1.00zM275.57 148.60h1.00v2.95h-1.00zM286.54 148.60h1.00v2.95h-1.00zM288.54 148.60h1.00v2.95h-1.00zM304.50 148.60h1.00v2.95h-1.00zM147.88 151.55h1.00v2.95h-1.00zM59.09 154.50h1.00v2.95h-1.00zM93.01 154.50h1.00v2.95h-1.00zM117.95 154.50h2.00v2.95h-2.00zM122.94 154.50h2.00v2.95h-2.00zM129.92 154.50h1.00v2.95h-1.00zM134.91 154.50h1.00v2.95h-1.00zM155.86 154.50h1.00v2.95h-1.00zM161.84 154.50h2.00v2.95h-2.00zM166.83 154.50h2.00v2.95h-2.00zM170.82 154.50h1.00v2.95h-1.00zM172.82 154.50h1.00v2.95h-1.00zM176.81 154.50h1.00v2.95h-1.00zM182.79 154.50h1.00v2.95h-1.00zM185.78 154.50h1.00v2.95h-1.00zM192.77 154.50h1.00v2.95h-1.00zM194.76 154.50h1.00v2.95h-1.00zM200.75 154.50h1.00v2.95h-1.00zM204.74 154.50h1.00v2.95h-1.00zM209.73 154.50h1.00v2.95h-1.00zM211.72 154.50h1.00v2.95h-1.00zM213.72 154.50h1.00v2.95h-1.00zM215.71 154.50h1.00v2.95h-1.00zM219.70 154.50h1.00v2.95h-1.00zM223.69 154.50h2.99v2.95h-2.99zM239.65 154.50h1.00v2.95h-1.00zM243.64 154.50h1.00v2.95h-1.00zM246.64 154.50h1.00v2.95h-1.00zM257.61 154.50h2.00v2.95h-2.00zM260.60 154.50h1.00v2.95h-1.00zM268.58 154.50h1.00v2.95h-1.00zM272.57 154.50h1.00v2.95h-1.00zM274.57 154.50h1.00v2.95h-1.00zM284.54 154.50h1.00v2.95h-1.00zM290.53 154.50h1.00v2.95h-1.00zM303.50 154.50h1.00v2.95h-1.00zM308.49 154.50h1.00v2.95h-1.00zM310.48 154.50h1.00v2.95h-1.00zM313.47 154.50h1.00v2.95h-1.00zM316.47 154.50h1.00v2.95h-1.00zM333.43 154.50h1.00v2.95h-1.00zM342.40 154.50h1.00v2.95h-1.00zM57.10 157.45h1.00v2.95h-1.00zM60.09 157.45h2.99v2.95h-2.99zM67.07 157.45h1.00v2.95h-1.00zM79.04 157.45h1.00v2.95h-1.00zM114.96 157.45h1.00v2.95h-1.00zM125.93 157.45h1.00v2.95h-1.00zM129.92 157.45h2.00v2.95h-2.00zM132.91 157.45h1.00v2.95h-1.00zM135.90 157.45h1.00v2.95h-1.00zM142.89 157.45h2.00v2.95h-2.00zM150.87 157.45h1.00v2.95h-1.00zM155.86 157.45h1.00v2.95h-1.00zM162.84 157.45h1.00v2.95h-1.00zM166.83 157.45h1.00v2.95h-1.00zM172.82 157.45h1.00v2.95h-1.00zM196.76 157.45h1.00v2.95h-1.00zM199.75 157.45h1.00v2.95h-1.00zM212.72 157.45h1.00v2.95h-1.00zM214.71 157.45h1.00v2.95h-1.00zM216.71 157.45h1.00v2.95h-1.00zM221.70 157.45h2.00v2.95h-2.00zM226.68 157.45h2.00v2.95h-2.00zM229.68 157.45h2.99v2.95h-2.99zM233.67 157.45h1.00v2.95h-1.00zM235.66 157.45h1.00v2.95h-1.00zM240.65 157.45h1.00v2.95h-1.00zM242.65 157.45h1.00v2.95h-1.00zM250.63 157.45h1.00v2.95h-1.00zM257.61 157.45h2.00v2.95h-2.00zM282.55 157.45h1.00v2.95h-1.00zM289.53 157.45h1.00v2.95h-1.00zM294.52 157.45h1.00v2.95h-1.00zM298.51 157.45h1.00v2.95h-1.00zM303.50 157.45h1.00v2.95h-1.00zM307.49 157.45h1.00v2.95h-1.00zM311.48 157.45h1.00v2.95h-1.00zM315.47 157.45h2.00v2.95h-2.00zM318.46 157.45h2.00v2.95h-2.00zM332.43 157.45h1.00v2.95h-1.00zM340.41 157.45h1.00v2.95h-1.00zM69.07 160.40h2.99v2.95h-2.99zM98.99 160.40h2.00v2.95h-2.00zM144.88 160.40h2.00v2.95h-2.00zM152.86 160.40h1.00v2.95h-1.00zM155.86 160.40h1.00v2.95h-1.00zM198.75 160.40h1.00v2.95h-1.00zM204.74 160.40h1.00v2.95h-1.00zM214.71 160.40h1.00v2.95h-1.00zM216.71 160.40h2.00v2.95h-2.00zM219.70 160.40h1.00v2.95h-1.00zM223.69 160.40h1.00v2.95h-1.00zM231.67 160.40h1.00v2.95h-1.00zM233.67 160.40h1.00v2.95h-1.00zM237.66 160.40h1.00v2.95h-1.00zM243.64 160.40h1.00v2.95h-1.00zM277.56 160.40h1.00v2.95h-1.00zM298.51 160.40h1.00v2.95h-1.00zM319.46 160.40h1.00v2.95h-1.00zM324.45 160.40h1.00v2.95h-1.00zM331.43 160.40h1.00v2.95h-1.00zM60.09 163.35h2.00v2.95h-2.00zM63.08 163.35h1.00v2.95h-1.00zM77.05 163.35h1.00v2.95h-1.00zM79.04 163.35h1.00v2.95h-1.00zM84.03 163.35h1.00v2.95h-1.00zM93.01 163.35h1.00v2.95h-1.00zM109.97 163.35h1.00v2.95h-1.00zM116.95 163.35h1.00v2.95h-1.00zM119.94 163.35h1.00v2.95h-1.00zM124.93 163.35h1.00v2.95h-1.00zM135.90 163.35h1.00v2.95h-1.00zM137.90 163.35h2.00v2.95h-2.00zM144.88 163.35h2.00v2.95h-2.00zM155.86 163.35h1.00v2.95h-1.00zM163.84 163.35h1.00v2.95h-1.00zM175.81 163.35h1.00v2.95h-1.00zM178.80 163.35h2.00v2.95h-2.00zM182.79 163.35h1.00v2.95h-1.00zM195.76 163.35h2.00v2.95h-2.00zM199.75 163.35h1.00v2.95h-1.00zM218.70 163.35h1.00v2.95h-1.00zM259.61 163.35h1.00v2.95h-1.00zM273.57 163.35h1.00v2.95h-1.00zM277.56 163.35h1.00v2.95h-1.00zM283.55 163.35h1.00v2.95h-1.00zM285.54 163.35h1.00v2.95h-1.00zM298.51 163.35h1.00v2.95h-1.00zM304.50 163.35h1.00v2.95h-1.00zM306.49 163.35h1.00v2.95h-1.00zM308.49 163.35h1.00v2.95h-1.00zM310.48 163.35h1.00v2.95h-1.00zM312.48 163.35h2.00v2.95h-2.00zM317.47 163.35h1.00v2.95h-1.00zM319.46 163.35h1.00v2.95h-1.00zM326.44 163.35h1.00v2.95h-1.00zM337.42 163.35h1.00v2.95h-1.00zM341.41 163.35h1.00v2.95h-1.00zM76.05 166.30h1.00v2.95h-1.00zM80.04 166.30h1.00v2.95h-1.00zM88.02 166.30h1.00v2.95h-1.00zM91.01 166.30h1.00v2.95h-1.00zM99.99 166.30h1.00v2.95h-1.00zM104.98 166.30h2.99v2.95h-2.99zM138.90 166.30h1.00v2.95h-1.00zM141.89 166.30h1.00v2.95h-1.00zM149.87 166.30h1.00v2.95h-1.00zM151.87 166.30h1.00v2.95h-1.00zM158.85 166.30h1.00v2.95h-1.00zM160.84 166.30h2.99v2.95h-2.99zM187.78 166.30h1.00v2.95h-1.00zM219.70 166.30h1.00v2.95h-1.00zM240.65 166.30h1.00v2.95h-1.00zM244.64 166.30h1.00v2.95h-1.00zM248.63 166.30h3.99v2.95h-3.99zM272.57 166.30h1.00v2.95h-1.00zM282.55 166.30h2.00v2.95h-2.00zM297.51 166.30h1.00v2.95h-1.00zM305.49 166.30h1.00v2.95h-1.00zM307.49 166.30h1.00v2.95h-1.00zM314.47 166.30h1.00v2.95h-1.00zM333.43 166.30h1.00v2.95h-1.00zM336.42 166.30h1.00v2.95h-1.00zM338.41 166.30h1.00v2.95h-1.00zM343.40 166.30h1.00v2.95h-1.00zM63.08 169.25h1.00v2.95h-1.00zM69.07 169.25h1.00v2.95h-1.00zM71.06 169.25h2.00v2.95h-2.00zM85.03 169.25h1.00v2.95h-1.00zM116.95 169.25h1.00v2.95h-1.00zM118.95 169.25h1.00v2.95h-1.00zM126.93 169.25h1.00v2.95h-1.00zM154.86 169.25h1.00v2.95h-1.00zM164.83 169.25h2.00v2.95h-2.00zM169.82 169.25h2.00v2.95h-2.00zM185.78 169.25h1.00v2.95h-1.00zM189.77 169.25h1.00v2.95h-1.00zM191.77 169.25h1.00v2.95h-1.00zM193.76 169.25h2.00v2.95h-2.00zM200.75 169.25h1.00v2.95h-1.00zM202.74 169.25h1.00v2.95h-1.00zM210.72 169.25h1.00v2.95h-1.00zM231.67 169.25h1.00v2.95h-1.00zM233.67 169.25h1.00v2.95h-1.00zM235.66 169.25h1.00v2.95h-1.00zM258.61 169.25h1.00v2.95h-1.00zM268.58 169.25h1.00v2.95h-1.00zM281.55 169.25h1.00v2.95h-1.00zM285.54 169.25h1.00v2.95h-1.00zM298.51 169.25h1.00v2.95h-1.00zM300.51 169.25h2.99v2.95h-2.99zM304.50 169.25h1.00v2.95h-1.00zM307.49 169.25h1.00v2.95h-1.00zM309.48 169.25h1.00v2.95h-1.00zM311.48 169.25h1.00v2.95h-1.00zM313.47 169.25h1.00v2.95h-1.00zM321.46 169.25h1.00v2.95h-1.00zM335.42 169.25h2.00v2.95h-2.00zM342.40 169.25h1.00v2.95h-1.00z"/>
<path fill="#228b8d" d="M65.08 125.00h1.00v2.95h-1.00zM73.06 125.00h1.00v2.95h-1.00zM80.04 125.00h1.00v2.95h-1.00zM82.03 125.00h1.00v2.95h-1.00zM86.03 125.00h2.00v2.95h-2.00zM90.02 125.00h1.00v2.95h-1.00zM130.92 125.00h2.00v2.95h-2.00zM135.90 125.00h2.00v2.95h-2.00zM142.89 125.00h1.00v2.95h-1.00zM144.88 125.00h2.99v2.95h-2.99zM148.87 125.00h1.00v2.95h-1.00zM152.86 125.00h1.00v2.95h-1.00zM157.85 125.00h1.00v2.95h-1.00zM160.84 125.00h1.00v2.95h-1.00zM167.83 125.00h1.00v2.95h-1.00zM169.82 125.00h1.00v2.95h-1.00zM172.82 125.00h2.00v2.95h-2.00zM181.79 125.00h1.00v2.95h-1.00zM184.79 125.00h1.00v2.95h-1.00zM186.78 125.00h1.00v2.95h-1.00zM189.77 125.00h1.00v2.95h-1.00zM191.77 125.00h2.99v2.95h-2.99zM196.76 125.00h1.00v2.95h-1.00zM202.74 125.00h2.00v2.95h-2.00zM206.73 125.00h1.00v2.95h-1.00zM215.71 125.00h1.00v2.95h-1.00zM217.71 125.00h1.00v2.95h-1.00zM224.69 125.00h1.00v2.95h-1.00zM227.68 125.00h1.00v2.95h-1.00zM238.66 125.00h1.00v2.95h-1.00zM245.64 125.00h1.00v2.95h-1.00zM254.62 125.00h1.00v2.95h-1.00zM256.61 125.00h2.00v2.95h-2.00zM270.58 125.00h1.00v2.95h-1.00zM291.53 125.00h1.00v2.95h-1.00zM297.51 125.00h1.00v2.95h-1.00zM303.50 125.00h2.00v2.95h-2.00zM306.49 125.00h2.99v2.95h-2.99zM311.48 125.00h1.00v2.95h-1.00zM313.47 125.00h1.00v2.95h-1.00zM317.47 125.00h1.00v2.95h-1.00zM319.46 125.00h1.00v2.95h-1.00zM337.42 125.00h2.00v2.95h-2.00zM342.40 125.00h2.00v2.95h-2.00zM67.07 127.95h1.00v2.95h-1.00zM72.06 127.95h1.00v2.95h-1.00zM78.04 127.95h1.00v2.95h-1.00zM87.02 127.95h2.00v2.95h-2.00zM93.01 127.95h1.00v2.95h-1.00zM101.99 127.95h1.00v2.95h-1.00zM105.98 127.95h1.00v2.95h-1.00zM109.97 127.95h1.00v2.95h-1.00zM129.92 127.95h1.00v2.95h-1.00zM136.90 127.95h1.00v2.95h-1.00zM202.74 127.95h1.00v2.95h-1.00zM204.74 127.95h1.00v2.95h-1.00zM206.73 127.95h2.00v2.95h-2.00zM209.73 127.95h1.00v2.95h-1.00zM214.71 127.95h1.00v2.95h-1.00zM218.70 127.95h2.00v2.95h-2.00zM241.65 127.95h1.00v2.95h-1.00zM243.64 127.95h1.00v2.95h-1.00zM252.62 127.95h1.00v2.95h-1.00zM300.51 127.95h1.00v2.95h-1.00zM316.47 127.95h2.00v2.95h-2.00zM327.44 127.95h1.00v2.95h-1.00zM62.08 130.90h2.00v2.95h-2.00zM65.08 130.90h1.00v2.95h-1.00zM67.07 130.90h1.00v2.95h-1.00zM69.07 130.90h1.00v2.95h-1.00zM71.06 130.90h2.00v2.95h-2.00zM78.04 130.90h2.00v2.95h-2.00zM81.04 130.90h1.00v2.95h-1.00zM89.02 130.90h1.00v2.95h-1.00zM99.99 130.90h1.00v2.95h-1.00zM102.98 130.90h1.00v2.95h-1.00zM105.98 130.90h1.00v2.95h-1.00zM107.97 130.90h1.00v2.95h-1.00zM114.96 130.90h1.00v2.95h-1.00zM118.95 130.90h1.00v2.95h-1.00zM121.94 130.90h2.00v2.95h-2.00zM141.89 130.90h1.00v2.95h-1.00zM177.80 130.90h1.00v2.95h-1.00zM179.80 130.90h1.00v2.95h-1.00zM189.77 130.90h1.00v2.95h-1.00zM193.76 130.90h1.00v2.95h-1.00zM201.75 130.90h1.00v2.95h-1.00zM214.71 130.90h3.99v2.95h-3.99zM222.69 130.90h1.00v2.95h-1.00zM231.67 130.90h1.00v2.95h-1.00zM237.66 130.90h1.00v2.95h-1.00zM246.64 130.90h1.00v2.95h-1.00zM254.62 130.90h1.00v2.95h-1.00zM256.61 130.90h1.00v2.95h-1.00zM258.61 130.90h1.00v2.95h-1.00zM263.60 130.90h1.00v2.95h-1.00zM266.59 130.90h1.00v2.95h-1.00zM285.54 130.90h1.00v2.95h-1.00zM293.52 130.90h1.00v2.95h-1.00zM309.48 130.90h2.00v2.95h-2.00zM324.45 130.90h1.00v2.95h-1.00zM337.42 130.90h1.00v2.95h-1.00zM340.41 130.90h1.00v2.95h-1.00zM57.10 133.85h1.00v2.95h-1.00zM59.09 133.85h2.00v2.95h-2.00zM64.08 133.85h1.00v2.95h-1.00zM69.07 133.85h2.00v2.95h-2.00zM74.05 133.85h1.00v2.95h-1.00zM89.02 133.85h1.00v2.95h-1.00zM98.99 133.85h1.00v2.95h-1.00zM110.96 133.85h1.00v2.95h-1.00zM123.93 133.85h1.00v2.95h-1.00zM174.81 133.85h2.00v2.95h-2.00zM186.78 133.85h1.00v2.95h-1.00zM189.77 133.85h1.00v2.95h-1.00zM197.75 133.85h1.00v2.95h-1.00zM199.75 133.85h2.00v2.95h-2.00zM202.74 133.85h1.00v2.95h-1.00zM208.73 133.85h1.00v2.95h-1.00zM217.71 133.85h1.00v2.95h-1.00zM219.70 133.85h1.00v2.95h-1.00zM227.68 133.85h1.00v2.95h-1.00zM235.66 133.85h2.99v2.95h-2.99zM241.65 133.85h1.00v2.95h-1.00zM246.64 133.85h1.00v2.95h-1.00zM263.60 133.85h1.00v2.95h-1.00zM268.58 133.85h2.00v2.95h-2.00zM275.57 133.85h1.00v2.95h-1.00zM291.53 133.85h2.00v2.95h-2.00zM294.52 133.85h1.00v2.95h-1.00zM320.46 133.85h1.00v2.95h-1.00zM322.45 133.85h1.00v2.95h-1.00zM324.45 133.85h1.00v2.95h-1.00zM333.43 133.85h1.00v2.95h-1.00zM343.40 133.85h1.00v2.95h-1.00zM55.10 136.80h2.00v2.95h-2.00zM58.09 136.80h1.00v2.95h-1.00zM95.00 136.80h3.99v2.95h-3.99zM99.99 136.80h2.00v2.95h-2.00zM106.97 136.80h1.00v2.95h-1.00zM114.96 136.80h2.00v2.95h-2.00zM118.95 136.80h1.00v2.95h-1.00zM138.90 136.80h1.00v2.95h-1.00zM140.89 136.80h1.00v2.95h-1.00zM146.88 136.80h1.00v2.95h-1.00zM159.85 136.80h1.00v2.95h-1.00zM164.83 136.80h1.00v2.95h-1.00zM168.82 136.80h1.00v2.95h-1.00zM176.81 136.80h1.00v2.95h-1.00zM180.80 136.80h1.00v2.95h-1.00zM191.77 136.80h1.00v2.95h-1.00zM196.76 136.80h1.00v2.95h-1.00zM198.75 136.80h2.00v2.95h-2.00zM206.73 136.80h1.00v2.95h-1.00zM213.72 136.80h2.00v2.95h-2.00zM220.70 136.80h2.99v2.95h-2.99zM236.66 136.80h1.00v2.95h-1.00zM245.64 136.80h1.00v2.95h-1.00zM260.60 136.80h1.00v2.95h-1.00zM275.57 136.80h1.00v2.95h-1.00zM286.54 136.80h1.00v2.95h-1.00zM310.48 136.80h2.00v2.95h-2.00zM321.46 136.80h1.00v2.95h-1.00zM330.43 136.80h2.00v2.95h-2.00zM342.40 136.80h1.00v2.95h-1.00zM77.05 139.75h1.00v2.95h-1.00zM85.03 139.75h2.00v2.95h-2.00zM108.97 139.75h2.00v2.95h-2.00zM116.95 139.75h1.00v2.95h-1.00zM141.89 139.75h1.00v2.95h-1.00zM151.87 139.75h2.99v2.95h-2.99zM168.82 139.75h1.00v2.95h-1.00zM171.82 139.75h1.00v2.95h-1.00zM178.80 139.75h1.00v2.95h-1.00zM189.77 139.75h1.00v2.95h-1.00zM194.76 139.75h2.00v2.95h-2.00zM211.72 139.75h1.00v2.95h-1.00zM213.72 139.75h1.00v2.95h-1.00zM216.71 139.75h2.00v2.95h-2.00zM220.70 139.75h1.00v2.95h-1.00zM254.62 139.75h2.00v2.95h-2.00zM261.60 139.75h1.00v2.95h-1.00zM263.60 139.75h1.00v2.95h-1.00zM266.59 139.75h1.00v2.95h-1.00zM272.57 139.75h1.00v2.95h-1.00zM317.47 139.75h1.00v2.95h-1.00zM319.46 139.75h1.00v2.95h-1.00zM322.45 139.75h1.00v2.95h-1.00zM324.45 139.75h3.99v2.95h-3.99zM333.43 139.75h1.00v2.95h-1.00zM340.41 139.75h1.00v2.95h-1.00zM59.09 142.70h1.00v2.95h-1.00zM61.09 142.70h1.00v2.95h-1.00zM64.08 142.70h2.00v2.95h-2.00zM68.07 142.70h2.00v2.95h-2.00zM72.06 142.70h2.00v2.95h-2.00zM76.05 142.70h1.00v2.95h-1.00zM83.03 142.70h1.00v2.95h-1.00zM89.02 142.70h1.00v2.95h-1.00zM91.01 142.70h1.00v2.95h-1.00zM98.00 142.70h1.00v2.95h-1.00zM101.99 142.70h1.00v2.95h-1.00zM107.97 142.70h2.00v2.95h-2.00zM119.94 142.70h1.00v2.95h-1.00zM146.88 142.70h2.99v2.95h-2.99zM151.87 142.70h2.00v2.95h-2.00zM162.84 142.70h2.00v2.95h-2.00zM189.77 142.70h1.00v2.95h-1.00zM193.76 142.70h1.00v2.95h-1.00zM198.75 142.70h2.00v2.95h-2.00zM202.74 142.70h1.00v2.95h-1.00zM207.73 142.70h1.00v2.95h-1.00zM209.73 142.70h1.00v2.95h-1.00zM214.71 142.70h1.00v2.95h-1.00zM228.68 142.70h2.00v2.95h-2.00zM250.63 142.70h1.00v2.95h-1.00zM258.61 142.70h1.00v2.95h-1.00zM260.60 142.70h2.00v2.95h-2.00zM272.57 142.70h1.00v2.95h-1.00zM276.56 142.70h1.00v2.95h-1.00zM284.54 142.70h1.00v2.95h-1.00zM288.54 142.70h1.00v2.95h-1.00zM290.53 142.70h1.00v2.95h-1.00zM297.51 142.70h1.00v2.95h-1.00zM314.47 142.70h1.00v2.95h-1.00zM320.46 142.70h1.00v2.95h-1.00zM322.45 142.70h2.00v2.95h-2.00zM333.43 142.70h1.00v2.95h-1.00zM336.42 142.70h1.00v2.95h-1.00zM55.10 145.65h1.00v2.95h-1.00zM65.08 145.65h1.00v2.95h-1.00zM77.05 145.65h1.00v2.95h-1.00zM82.03 145.65h1.00v2.95h-1.00zM84.03 145.65h2.00v2.95h-2.00zM98.00 145.65h1.00v2.95h-1.00zM119.94 145.65h2.00v2.95h-2.00zM127.92 145.65h1.00v2.95h-1.00zM138.90 145.65h2.00v2.95h-2.00zM143.89 145.65h1.00v2.95h-1.00zM154.86 145.65h1.00v2.95h-1.00zM156.85 145.65h2.99v2.95h-2.99zM170.82 145.65h1.00v2.95h-1.00zM201.75 145.65h1.00v2.95h-1.00zM204.74 145.65h1.00v2.95h-1.00zM212.72 145.65h1.00v2.95h-1.00zM214.71 145.65h1.00v2.95h-1.00zM217.71 145.65h1.00v2.95h-1.00zM219.70 145.65h1.00v2.95h-1.00zM226.68 145.65h1.00v2.95h-1.00zM228.68 145.65h1.00v2.95h-1.00zM232.67 145.65h2.99v2.95h-2.99zM250.63 145.65h1.00v2.95h-1.00zM263.60 145.65h1.00v2.95h-1.00zM293.52 145.65h1.00v2.95h-1.00zM299.51 145.65h1.00v2.95h-1.00zM302.50 145.65h1.00v2.95h-1.00zM307.49 145.65h2.00v2.95h-2.00zM314.47 145.65h1.00v2.95h-1.00zM329.44 145.65h1.00v2.95h-1.00zM335.42 145.65h2.00v2.95h-2.00zM232.67 148.60h1.00v2.95h-1.00zM295.52 148.60h1.00v2.95h-1.00zM148.87 151.55h1.00v2.95h-1.00zM264.59 151.55h2.00v2.95h-2.00zM267.59 151.55h1.00v2.95h-1.00zM290.53 151.55h1.00v2.95h-1.00zM57.10 154.50h1.00v2.95h-1.00zM60.09 154.50h1.00v2.95h-1.00zM62.08 154.50h1.00v2.95h-1.00zM70.06 154.50h1.00v2.95h-1.00zM74.05 154.50h2.00v2.95h-2.00zM78.04 154.50h1.00v2.95h-1.00zM82.03 154.50h1.00v2.95h-1.00zM85.03 154.50h2.00v2.95h-2.00zM89.02 154.50h1.00v2.95h-1.00zM94.01 154.50h2.00v2.95h-2.00zM111.96 154.50h1.00v2.95h-1.00zM120.94 154.50h2.00v2.95h-2.00zM127.92 154.50h2.00v2.95h-2.00zM130.92 154.50h1.00v2.95h-1.00zM133.91 154.50h1.00v2.95h-1.00zM150.87 154.50h2.00v2.95h-2.00zM191.77 154.50h1.00v2.95h-1.00zM201.75 154.50h2.00v2.95h-2.00zM212.72 154.50h1.00v2.95h-1.00zM216.71 154.50h1.00v2.95h-1.00zM220.70 154.50h2.00v2.95h-2.00zM229.68 154.50h2.00v2.95h-2.00zM236.66 154.50h1.00v2.95h-1.00zM242.65 154.50h1.00v2.95h-1.00zM244.64 154.50h1.00v2.95h-1.00zM248.63 154.50h2.00v2.95h-2.00zM253.62 154.50h1.00v2.95h-1.00zM256.61 154.50h1.00v2.95h-1.00zM261.60 154.50h1.00v2.95h-1.00zM265.59 154.50h1.00v2.95h-1.00zM269.58 154.50h1.00v2.95h-1.00zM280.55 154.50h1.00v2.95h-1.00zM282.55 154.50h1.00v2.95h-1.00zM286.54 154.50h1.00v2.95h-1.00zM291.53 154.50h1.00v2.95h-1.00zM297.51 154.50h2.00v2.95h-2.00zM304.50 154.50h2.00v2.95h-2.00zM311.48 154.50h1.00v2.95h-1.00zM314.47 154.50h2.00v2.95h-2.00zM336.42 154.50h1.00v2.95h-1.00zM92.01 157.45h1.00v2.95h-1.00zM110.96 157.45h2.00v2.95h-2.00zM128.92 157.45h1.00v2.95h-1.00zM136.90 157.45h1.00v2.95h-1.00zM140.89 157.45h1.00v2.95h-1.00zM149.87 157.45h1.00v2.95h-1.00zM158.85 157.45h2.99v2.95h-2.99zM163.84 157.45h2.00v2.95h-2.00zM218.70 157.45h2.99v2.95h-2.99zM228.68 157.45h1.00v2.95h-1.00zM232.67 157.45h1.00v2.95h-1.00zM236.66 157.45h1.00v2.95h-1.00zM246.64 157.45h1.00v2.95h-1.00zM248.63 157.45h1.00v2.95h-1.00zM253.62 157.45h2.00v2.95h-2.00zM285.54 157.45h1.00v2.95h-1.00zM302.50 157.45h1.00v2.95h-1.00zM317.47 157.45h1.00v2.95h-1.00zM320.46 157.45h2.99v2.95h-2.99zM330.43 157.45h1.00v2.95h-1.00zM335.42 157.45h1.00v2.95h-1.00zM85.03 160.40h1.00v2.95h-1.00zM98.00 160.40h1.00v2.95h-1.00zM101.99 160.40h1.00v2.95h-1.00zM103.98 160.40h2.00v2.95h-2.00zM107.97 160.40h1.00v2.95h-1.00zM109.97 160.40h1.00v2.95h-1.00zM147.88 160.40h1.00v2.95h-1.00zM169.82 160.40h1.00v2.95h-1.00zM173.81 160.40h2.00v2.95h-2.00zM199.75 160.40h2.00v2.95h-2.00zM207.73 160.40h1.00v2.95h-1.00zM218.70 160.40h1.00v2.95h-1.00zM255.61 160.40h1.00v2.95h-1.00zM279.56 160.40h2.00v2.95h-2.00zM287.54 160.40h3.99v2.95h-3.99zM295.52 160.40h1.00v2.95h-1.00zM320.46 160.40h2.99v2.95h-2.99zM59.09 163.35h1.00v2.95h-1.00zM62.08 163.35h1.00v2.95h-1.00zM65.08 163.35h1.00v2.95h-1.00zM69.07 163.35h1.00v2.95h-1.00zM71.06 163.35h1.00v2.95h-1.00zM73.06 163.35h1.00v2.95h-1.00zM78.04 163.35h1.00v2.95h-1.00zM80.04 163.35h1.00v2.95h-1.00zM90.02 163.35h1.00v2.95h-1.00zM100.99 163.35h2.99v2.95h-2.99zM107.97 163.35h1.00v2.95h-1.00zM113.96 163.35h1.00v2.95h-1.00zM126.93 163.35h1.00v2.95h-1.00zM129.92 163.35h1.00v2.95h-1.00zM133.91 163.35h2.00v2.95h-2.00zM139.89 163.35h1.00v2.95h-1.00zM156.85 163.35h2.00v2.95h-2.00zM160.84 163.35h2.99v2.95h-2.99zM170.82 163.35h1.00v2.95h-1.00zM177.80 163.35h1.00v2.95h-1.00zM181.79 163.35h1.00v2.95h-1.00zM189.77 163.35h1.00v2.95h-1.00zM202.74 163.35h1.00v2.95h-1.00zM213.72 163.35h1.00v2.95h-1.00zM225.69 163.35h1.00v2.95h-1.00zM227.68 163.35h2.99v2.95h-2.99zM231.67 163.35h1.00v2.95h-1.00zM233.67 163.35h1.00v2.95h-1.00zM243.64 163.35h1.00v2.95h-1.00zM250.63 163.35h1.00v2.95h-1.00zM267.59 163.35h1.00v2.95h-1.00zM269.58 163.35h1.00v2.95h-1.00zM272.57 163.35h1.00v2.95h-1.00zM276.56 163.35h1.00v2.95h-1.00zM288.54 163.35h2.99v2.95h-2.99zM293.52 163.35h1.00v2.95h-1.00zM295.52 163.35h1.00v2.95h-1.00zM316.47 163.35h1.00v2.95h-1.00zM320.46 163.35h1.00v2.95h-1.00zM324.45 163.35h1.00v2.95h-1.00zM332.43 163.35h1.00v2.95h-1.00zM340.41 163.35h1.00v2.95h-1.00zM342.40 163.35h1.00v2.95h-1.00zM69.07 166.30h1.00v2.95h-1.00zM72.06 166.30h1.00v2.95h-1.00zM78.04 166.30h1.00v2.95h-1.00zM81.04 166.30h1.00v2.95h-1.00zM90.02 166.30h1.00v2.95h-1.00zM108.97 166.30h1.00v2.95h-1.00zM126.93 166.30h1.00v2.95h-1.00zM143.89 166.30h1.00v2.95h-1.00zM145.88 166.30h1.00v2.95h-1.00zM148.87 166.30h1.00v2.95h-1.00zM150.87 166.30h1.00v2.95h-1.00zM153.86 166.30h1.00v2.95h-1.00zM156.85 166.30h1.00v2.95h-1.00zM182.79 166.30h2.99v2.95h-2.99zM194.76 166.30h1.00v2.95h-1.00zM196.76 166.30h1.00v2.95h-1.00zM210.72 166.30h1.00v2.95h-1.00zM214.71 166.30h1.00v2.95h-1.00zM216.71 166.30h1.00v2.95h-1.00zM221.70 166.30h2.00v2.95h-2.00zM229.68 166.30h1.00v2.95h-1.00zM231.67 166.30h1.00v2.95h-1.00zM238.66 166.30h1.00v2.95h-1.00zM254.62 166.30h1.00v2.95h-1.00zM268.58 166.30h1.00v2.95h-1.00zM280.55 166.30h2.00v2.95h-2.00zM286.54 166.30h1.00v2.95h-1.00zM296.52 166.30h1.00v2.95h-1.00zM299.51 166.30h1.00v2.95h-1.00zM304.50 166.30h1.00v2.95h-1.00zM312.48 166.30h1.00v2.95h-1.00zM317.47 166.30h1.00v2.95h-1.00zM319.46 166.30h1.00v2.95h-1.00zM324.45 166.30h1.00v2.95h-1.00zM330.43 166.30h1.00v2.95h-1.00zM332.43 166.30h1.00v2.95h-1.00zM340.41 166.30h1.00v2.95h-1.00zM65.08 169.25h2.00v2.95h-2.00zM70.06 169.25h1.00v2.95h-1.00zM74.05 169.25h1.00v2.95h-1.00zM78.04 169.25h1.00v2.95h-1.00zM98.99 169.25h1.00v2.95h-1.00zM107.97 169.25h1.00v2.95h-1.00zM112.96 169.25h2.00v2.95h-2.00zM117.95 169.25h1.00v2.95h-1.00zM119.94 169.25h1.00v2.95h-1.00zM122.94 169.25h1.00v2.95h-1.00zM124.93 169.25h1.00v2.95h-1.00zM128.92 169.25h1.00v2.95h-1.00zM134.91 169.25h1.00v2.95h-1.00zM158.85 169.25h2.00v2.95h-2.00zM168.82 169.25h1.00v2.95h-1.00zM174.81 169.25h1.00v2.95h-1.00zM187.78 169.25h1.00v2.95h-1.00zM190.77 169.25h1.00v2.95h-1.00zM211.72 169.25h1.00v2.95h-1.00zM229.68 169.25h1.00v2.95h-1.00zM234.67 169.25h1.00v2.95h-1.00zM237.66 169.25h2.00v2.95h-2.00zM246.64 169.25h1.00v2.95h-1.00zM248.63 169.25h1.00v2.95h-1.00zM251.62 169.25h2.99v2.95h-2.99zM255.61 169.25h1.00v2.95h-1.00zM257.61 169.25h1.00v2.95h-1.00zM262.60 169.25h2.99v2.95h-2.99zM267.59 169.25h1.00v2.95h-1.00zM275.57 169.25h2.00v2.95h-2.00zM279.56 169.25h2.00v2.95h-2.00zM288.54 169.25h2.00v2.95h-2.00zM297.51 169.25h1.00v2.95h-1.00zM303.50 169.25h1.00v2.95h-1.00zM314.47 169.25h1.00v2.95h-1.00zM328.44 169.25h2.00v2.95h-2.00z"/>
<path fill="#1f958b" d="M56.10 125.00h1.00v2.95h-1.00zM76.05 125.00h1.00v2.95h-1.00zM78.04 125.00h1.00v2.95h-1.00zM83.03 125.00h1.00v2.95h-1.00zM85.03 125.00h1.00v2.95h-1.00zM89.02 125.00h1.00v2.95h-1.00zM101.99 125.00h1.00v2.95h-1.00zM121.94 125.00h1.00v2.95h-1.00zM137.90 125.00h1.00v2.95h-1.00zM143.89 125.00h1.00v2.95h-1.00zM153.86 125.00h2.00v2.95h-2.00zM158.85 125.00h1.00v2.95h-1.00zM163.84 125.00h1.00v2.95h-1.00zM168.82 125.00h1.00v2.95h-1.00zM171.82 125.00h1.00v2.95h-1.00zM190.77 125.00h1.00v2.95h-1.00zM222.69 125.00h1.00v2.95h-1.00zM229.68 125.00h1.00v2.95h-1.00zM233.67 125.00h1.00v2.95h-1.00zM240.65 125.00h1.00v2.95h-1.00zM255.61 125.00h1.00v2.95h-1.00zM264.59 125.00h1.00v2.95h-1.00zM278.56 125.00h1.00v2.95h-1.00zM302.50 125.00h1.00v2.95h-1.00zM320.46 125.00h2.00v2.95h-2.00zM324.45 125.00h2.99v2.95h-2.99zM328.44 125.00h2.00v2.95h-2.00zM56.10 127.95h1.00v2.95h-1.00zM66.07 127.95h1.00v2.95h-1.00zM74.05 127.95h1.00v2.95h-1.00zM77.05 127.95h1.00v2.95h-1.00zM79.04 127.95h1.00v2.95h-1.00zM81.04 127.95h1.00v2.95h-1.00zM102.98 127.95h2.00v2.95h-2.00zM196.76 127.95h1.00v2.95h-1.00zM200.75 127.95h1.00v2.95h-1.00zM205.74 127.95h1.00v2.95h-1.00zM208.73 127.95h1.00v2.95h-1.00zM210.72 127.95h1.00v2.95h-1.00zM236.66 127.95h1.00v2.95h-1.00zM240.65 127.95h1.00v2.95h-1.00zM242.65 127.95h1.00v2.95h-1.00zM251.62 127.95h1.00v2.95h-1.00zM288.54 127.95h1.00v2.95h-1.00zM321.46 127.95h1.00v2.95h-1.00zM332.43 127.95h2.00v2.95h-2.00zM64.08 130.90h1.00v2.95h-1.00zM68.07 130.90h1.00v2.95h-1.00zM74.05 130.90h1.00v2.95h-1.00zM82.03 130.90h1.00v2.95h-1.00zM86.03 130.90h1.00v2.95h-1.00zM100.99 130.90h1.00v2.95h-1.00zM108.97 130.90h1.00v2.95h-1.00zM112.96 130.90h2.00v2.95h-2.00zM119.94 130.90h2.00v2.95h-2.00zM125.93 130.90h1.00v2.95h-1.00zM131.91 130.90h1.00v2.95h-1.00zM136.90 130.90h1.00v2.95h-1.00zM145.88 130.90h2.00v2.95h-2.00zM159.85 130.90h1.00v2.95h-1.00zM163.84 130.90h2.00v2.95h-2.00zM180.80 130.90h1.00v2.95h-1.00zM194.76 130.90h1.00v2.95h-1.00zM221.70 130.90h1.00v2.95h-1.00zM229.68 130.90h1.00v2.95h-1.00zM232.67 130.90h2.99v2.95h-2.99zM238.66 130.90h2.00v2.95h-2.00zM248.63 130.90h1.00v2.95h-1.00zM260.60 130.90h1.00v2.95h-1.00zM264.59 130.90h2.00v2.95h-2.00zM278.56 130.90h1.00v2.95h-1.00zM280.55 130.90h1.00v2.95h-1.00zM283.55 130.90h2.00v2.95h-2.00zM286.54 130.90h1.00v2.95h-1.00zM294.52 130.90h2.00v2.95h-2.00zM304.50 130.90h1.00v2.95h-1.00zM320.46 130.90h1.00v2.95h-1.00zM334.42 130.90h1.00v2.95h-1.00zM343.40 130.90h1.00v2.95h-1.00zM62.08 133.85h2.00v2.95h-2.00zM66.07 133.85h1.00v2.95h-1.00zM68.07 133.85h1.00v2.95h-1.00zM77.05 133.85h1.00v2.95h-1.00zM80.04 133.85h1.00v2.95h-1.00zM85.03 133.85h1.00v2.95h-1.00zM90.02 133.85h3.99v2.95h-3.99zM95.00 133.85h1.00v2.95h-1.00zM112.96 133.85h1.00v2.95h-1.00zM128.92 133.85h1.00v2.95h-1.00zM176.81 133.85h3.99v2.95h-3.99zM183.79 133.85h1.00v2.95h-1.00zM187.78 133.85h1.00v2.95h-1.00zM196.76 133.85h1.00v2.95h-1.00zM198.75 133.85h1.00v2.95h-1.00zM203.74 133.85h1.00v2.95h-1.00zM207.73 133.85h1.00v2.95h-1.00zM209.73 133.85h2.00v2.95h-2.00zM225.69 133.85h1.00v2.95h-1.00zM228.68 133.85h1.00v2.95h-1.00zM230.68 133.85h1.00v2.95h-1.00zM234.67 133.85h1.00v2.95h-1.00zM243.64 133.85h1.00v2.95h-1.00zM245.64 133.85h1.00v2.95h-1.00zM248.63 133.85h1.00v2.95h-1.00zM251.62 133.85h1.00v2.95h-1.00zM253.62 133.85h1.00v2.95h-1.00zM258.61 133.85h1.00v2.95h-1.00zM260.60 133.85h1.00v2.95h-1.00zM281.55 133.85h1.00v2.95h-1.00zM286.54 133.85h1.00v2.95h-1.00zM295.52 133.85h2.00v2.95h-2.00zM300.51 133.85h1.00v2.95h-1.00zM306.49 133.85h1.00v2.95h-1.00zM311.48 133.85h1.00v2.95h-1.00zM313.47 133.85h1.00v2.95h-1.00zM323.45 133.85h1.00v2.95h-1.00zM332.43 133.85h1.00v2.95h-1.00zM337.42 133.85h1.00v2.95h-1.00zM340.41 133.85h1.00v2.95h-1.00zM60.09 136.80h2.00v2.95h-2.00zM65.08 136.80h1.00v2.95h-1.00zM67.07 136.80h1.00v2.95h-1.00zM75.05 136.80h1.00v2.95h-1.00zM77.05 136.80h1.00v2.95h-1.00zM98.99 136.80h1.00v2.95h-1.00zM111.96 136.80h1.00v2.95h-1.00zM144.88 136.80h2.00v2.95h-2.00zM147.88 136.80h2.00v2.95h-2.00zM151.87 136.80h1.00v2.95h-1.00zM158.85 136.80h1.00v2.95h-1.00zM160.84 136.80h1.00v2.95h-1.00zM197.75 136.80h1.00v2.95h-1.00zM201.75 136.80h2.00v2.95h-2.00zM208.73 136.80h1.00v2.95h-1.00zM212.72 136.80h1.00v2.95h-1.00zM215.71 136.80h1.00v2.95h-1.00zM218.70 136.80h1.00v2.95h-1.00zM234.67 136.80h1.00v2.95h-1.00zM285.54 136.80h1.00v2.95h-1.00zM74.05 139.75h1.00v2.95h-1.00zM78.04 139.75h1.00v2.95h-1.00zM87.02 139.75h2.00v2.95h-2.00zM90.02 139.75h1.00v2.95h-1.00zM92.01 139.75h2.00v2.95h-2.00zM100.99 139.75h1.00v2.95h-1.00zM118.95 139.75h2.00v2.95h-2.00zM123.93 139.75h1.00v2.95h-1.00zM133.91 139.75h1.00v2.95h-1.00zM142.89 139.75h1.00v2.95h-1.00zM165.83 139.75h1.00v2.95h-1.00zM179.80 139.75h1.00v2.95h-1.00zM186.78 139.75h1.00v2.95h-1.00zM191.77 139.75h1.00v2.95h-1.00zM198.75 139.75h2.00v2.95h-2.00zM202.74 139.75h1.00v2.95h-1.00zM204.74 139.75h1.00v2.95h-1.00zM210.72 139.75h1.00v2.95h-1.00zM222.69 139.75h1.00v2.95h-1.00zM224.69 139.75h1.00v2.95h-1.00zM250.63 139.75h2.00v2.95h-2.00zM253.62 139.75h1.00v2.95h-1.00zM256.61 139.75h1.00v2.95h-1.00zM262.60 139.75h1.00v2.95h-1.00zM264.59 139.75h1.00v2.95h-1.00zM277.56 139.75h2.00v2.95h-2.00zM283.55 139.75h1.00v2.95h-1.00zM285.54 139.75h1.00v2.95h-1.00zM287.54 139.75h2.00v2.95h-2.00zM296.52 139.75h1.00v2.95h-1.00zM309.48 139.75h1.00v2.95h-1.00zM313.47 139.75h1.00v2.95h-1.00zM332.43 139.75h1.00v2.95h-1.00zM335.42 139.75h1.00v2.95h-1.00zM338.41 139.75h1.00v2.95h-1.00zM55.10 142.70h2.99v2.95h-2.99zM63.08 142.70h1.00v2.95h-1.00zM66.07 142.70h1.00v2.95h-1.00zM75.05 142.70h1.00v2.95h-1.00zM78.04 142.70h2.00v2.95h-2.00zM81.04 142.70h2.00v2.95h-2.00zM88.02 142.70h1.00v2.95h-1.00zM92.01 142.70h1.00v2.95h-1.00zM95.00 142.70h2.00v2.95h-2.00zM98.99 142.70h1.00v2.95h-1.00zM100.99 142.70h1.00v2.95h-1.00zM130.92 142.70h1.00v2.95h-1.00zM132.91 142.70h1.00v2.95h-1.00zM137.90 142.70h1.00v2.95h-1.00zM141.89 142.70h2.99v2.95h-2.99zM149.87 142.70h1.00v2.95h-1.00zM155.86 142.70h1.00v2.95h-1.00zM161.84 142.70h1.00v2.95h-1.00zM171.82 142.70h1.00v2.95h-1.00zM174.81 142.70h1.00v2.95h-1.00zM179.80 142.70h1.00v2.95h-1.00zM182.79 142.70h1.00v2.95h-1.00zM185.78 142.70h1.00v2.95h-1.00zM187.78 142.70h1.00v2.95h-1.00zM190.77 142.70h1.00v2.95h-1.00zM201.75 142.70h1.00v2.95h-1.00zM204.74 142.70h2.00v2.95h-2.00zM208.73 142.70h1.00v2.95h-1.00zM213.72 142.70h1.00v2.95h-1.00zM218.70 142.70h1.00v2.95h-1.00zM221.70 142.70h1.00v2.95h-1.00zM223.69 142.70h2.00v2.95h-2.00zM227.68 142.70h1.00v2.95h-1.00zM232.67 142.70h1.00v2.95h-1.00zM234.67 142.70h1.00v2.95h-1.00zM240.65 142.70h1.00v2.95h-1.00zM243.64 142.70h1.00v2.95h-1.00zM249.63 142.70h1.00v2.95h-1.00zM268.58 142.70h2.00v2.95h-2.00zM273.57 142.70h1.00v2.95h-1.00zM277.56 142.70h1.00v2.95h-1.00zM279.56 142.70h1.00v2.95h-1.00zM285.54 142.70h1.00v2.95h-1.00zM292.53 142.70h1.00v2.95h-1.00zM299.51 142.70h2.00v2.95h-2.00zM303.50 142.70h1.00v2.95h-1.00zM307.49 142.70h1.00v2.95h-1.00zM310.48 142.70h3.99v2.95h-3.99zM330.43 142.70h1.00v2.95h-1.00zM339.41 142.70h1.00v2.95h-1.00zM60.09 145.65h1.00v2.95h-1.00zM62.08 145.65h2.00v2.95h-2.00zM70.06 145.65h1.00v2.95h-1.00zM73.06 145.65h2.00v2.95h-2.00zM81.04 145.65h1.00v2.95h-1.00zM86.03 145.65h1.00v2.95h-1.00zM90.02 145.65h1.00v2.95h-1.00zM93.01 145.65h1.00v2.95h-1.00zM98.99 145.65h2.00v2.95h-2.00zM114.96 145.65h1.00v2.95h-1.00zM117.95 145.65h1.00v2.95h-1.00zM144.88 145.65h2.00v2.95h-2.00zM147.88 145.65h2.00v2.95h-2.00zM169.82 145.65h1.00v2.95h-1.00zM171.82 145.65h1.00v2.95h-1.00zM184.79 145.65h1.00v2.95h-1.00zM192.77 145.65h1.00v2.95h-1.00zM195.76 145.65h1.00v2.95h-1.00zM197.75 145.65h1.00v2.95h-1.00zM220.70 145.65h1.00v2.95h-1.00zM222.69 145.65h1.00v2.95h-1.00zM225.69 145.65h1.00v2.95h-1.00zM230.68 145.65h2.00v2.95h-2.00zM247.63 145.65h1.00v2.95h-1.00zM252.62 145.65h1.00v2.95h-1.00zM260.60 145.65h2.00v2.95h-2.00zM266.59 145.65h2.00v2.95h-2.00zM273.57 145.65h2.00v2.95h-2.00zM276.56 145.65h1.00v2.95h-1.00zM280.55 145.65h2.00v2.95h-2.00zM300.51 145.65h1.00v2.95h-1.00zM303.50 145.65h1.00v2.95h-1.00zM305.49 145.65h1.00v2.95h-1.00zM317.47 145.65h1.00v2.95h-1.00zM339.41 145.65h1.00v2.95h-1.00zM293.52 148.60h1.00v2.95h-1.00zM94.01 151.55h1.00v2.95h-1.00zM98.99 151.55h1.00v2.95h-1.00zM123.93 151.55h2.00v2.95h-2.00zM130.92 151.55h1.00v2.95h-1.00zM133.91 151.55h1.00v2.95h-1.00zM152.86 151.55h1.00v2.95h-1.00zM156.85 151.55h1.00v2.95h-1.00zM241.65 151.55h1.00v2.95h-1.00zM253.62 151.55h1.00v2.95h-1.00zM268.58 151.55h1.00v2.95h-1.00zM287.54 151.55h1.00v2.95h-1.00zM298.51 151.55h1.00v2.95h-1.00zM58.09 154.50h1.00v2.95h-1.00zM72.06 154.50h2.00v2.95h-2.00zM76.05 154.50h2.00v2.95h-2.00zM83.03 154.50h2.00v2.95h-2.00zM88.02 154.50h1.00v2.95h-1.00zM90.02 154.50h1.00v2.95h-1.00zM92.01 154.50h1.00v2.95h-1.00zM98.99 154.50h1.00v2.95h-1.00zM103.98 154.50h1.00v2.95h-1.00zM113.96 154.50h1.00v2.95h-1.00zM119.94 154.50h1.00v2.95h-1.00zM124.93 154.50h1.00v2.95h-1.00zM136.90 154.50h2.99v2.95h-2.99zM140.89 154.50h1.00v2.95h-1.00zM145.88 154.50h2.00v2.95h-2.00zM149.87 154.50h1.00v2.95h-1.00zM153.86 154.50h2.00v2.95h-2.00zM157.85 154.50h3.99v2.95h-3.99zM171.82 154.50h1.00v2.95h-1.00zM189.77 154.50h1.00v2.95h-1.00zM203.74 154.50h1.00v2.95h-1.00zM207.73 154.50h1.00v2.95h-1.00zM210.72 154.50h1.00v2.95h-1.00zM214.71 154.50h1.00v2.95h-1.00zM222.69 154.50h1.00v2.95h-1.00zM241.65 154.50h1.00v2.95h-1.00zM245.64 154.50h1.00v2.95h-1.00zM251.62 154.50h2.00v2.95h-2.00zM263.60 154.50h1.00v2.95h-1.00zM278.56 154.50h1.00v2.95h-1.00zM292.53 154.50h2.00v2.95h-2.00zM300.51 154.50h1.00v2.95h-1.00zM302.50 154.50h1.00v2.95h-1.00zM326.44 154.50h1.00v2.95h-1.00zM332.43 154.50h1.00v2.95h-1.00zM339.41 154.50h2.00v2.95h-2.00zM58.09 157.45h1.00v2.95h-1.00zM64.08 157.45h1.00v2.95h-1.00zM113.96 157.45h1.00v2.95h-1.00zM118.95 157.45h1.00v2.95h-1.00zM137.90 157.45h2.00v2.95h-2.00zM156.85 157.45h2.00v2.95h-2.00zM161.84 157.45h1.00v2.95h-1.00zM213.72 157.45h1.00v2.95h-1.00zM215.71 157.45h1.00v2.95h-1.00zM217.71 157.45h1.00v2.95h-1.00zM245.64 157.45h1.00v2.95h-1.00zM249.63 157.45h1.00v2.95h-1.00zM304.50 157.45h2.00v2.95h-2.00zM66.07 160.40h1.00v2.95h-1.00zM80.04 160.40h1.00v2.95h-1.00zM93.01 160.40h1.00v2.95h-1.00zM95.00 160.40h1.00v2.95h-1.00zM97.00 160.40h1.00v2.95h-1.00zM102.98 160.40h1.00v2.95h-1.00zM105.98 160.40h1.00v2.95h-1.00zM123.93 160.40h1.00v2.95h-1.00zM126.93 160.40h2.99v2.95h-2.99zM136.90 160.40h1.00v2.95h-1.00zM141.89 160.40h1.00v2.95h-1.00zM146.88 160.40h1.00v2.95h-1.00zM149.87 160.40h1.00v2.95h-1.00zM154.86 160.40h1.00v2.95h-1.00zM157.85 160.40h2.00v2.95h-2.00zM163.84 160.40h1.00v2.95h-1.00zM167.83 160.40h1.00v2.95h-1.00zM175.81 160.40h1.00v2.95h-1.00zM183.79 160.40h2.00v2.95h-2.00zM205.74 160.40h1.00v2.95h-1.00zM209.73 160.40h1.00v2.95h-1.00zM213.72 160.40h1.00v2.95h-1.00zM215.71 160.40h1.00v2.95h-1.00zM220.70 160.40h1.00v2.95h-1.00zM222.69 160.40h1.00v2.95h-1.00zM229.68 160.40h2.00v2.95h-2.00zM232.67 160.40h1.00v2.95h-1.00zM239.65 160.40h2.00v2.95h-2.00zM246.64 160.40h1.00v2.95h-1.00zM249.63 160.40h1.00v2.95h-1.00zM256.61 160.40h1.00v2.95h-1.00zM259.61 160.40h1.00v2.95h-1.00zM281.55 160.40h1.00v2.95h-1.00zM286.54 160.40h1.00v2.95h-1.00zM296.52 160.40h1.00v2.95h-1.00zM299.51 160.40h3.99v2.95h-3.99zM306.49 160.40h1.00v2.95h-1.00zM309.48 160.40h2.00v2.95h-2.00zM318.46 160.40h1.00v2.95h-1.00zM335.42 160.40h1.00v2.95h-1.00zM55.10 163.35h2.00v2.95h-2.00zM67.07 163.35h2.00v2.95h-2.00zM70.06 163.35h1.00v2.95h-1.00zM76.05 163.35h1.00v2.95h-1.00zM87.02 163.35h1.00v2.95h-1.00zM92.01 163.35h1.00v2.95h-1.00zM94.01 163.35h2.00v2.95h-2.00zM106.97 163.35h1.00v2.95h-1.00zM108.97 163.35h1.00v2.95h-1.00zM110.96 163.35h1.00v2.95h-1.00zM112.96 163.35h1.00v2.95h-1.00zM118.95 163.35h1.00v2.95h-1.00zM127.92 163.35h1.00v2.95h-1.00zM132.91 163.35h1.00v2.95h-1.00zM136.90 163.35h1.00v2.95h-1.00zM141.89 163.35h1.00v2.95h-1.00zM146.88 163.35h2.99v2.95h-2.99zM153.86 163.35h2.00v2.95h-2.00zM166.83 163.35h1.00v2.95h-1.00zM171.82 163.35h1.00v2.95h-1.00zM173.81 163.35h1.00v2.95h-1.00zM187.78 163.35h2.00v2.95h-2.00zM191.77 163.35h1.00v2.95h-1.00zM203.74 163.35h1.00v2.95h-1.00zM205.74 163.35h2.00v2.95h-2.00zM210.72 163.35h1.00v2.95h-1.00zM216.71 163.35h2.00v2.95h-2.00zM219.70 163.35h1.00v2.95h-1.00zM226.68 163.35h1.00v2.95h-1.00zM234.67 163.35h1.00v2.95h-1.00zM241.65 163.35h2.00v2.95h-2.00zM245.64 163.35h1.00v2.95h-1.00zM257.61 163.35h1.00v2.95h-1.00zM260.60 163.35h2.00v2.95h-2.00zM274.57 163.35h1.00v2.95h-1.00zM281.55 163.35h2.00v2.95h-2.00zM286.54 163.35h2.00v2.95h-2.00zM292.53 163.35h1.00v2.95h-1.00zM296.52 163.35h1.00v2.95h-1.00zM305.49 163.35h1.00v2.95h-1.00zM323.45 163.35h1.00v2.95h-1.00zM325.45 163.35h1.00v2.95h-1.00zM328.44 163.35h1.00v2.95h-1.00zM330.43 163.35h1.00v2.95h-1.00zM333.43 163.35h1.00v2.95h-1.00zM338.41 163.35h2.00v2.95h-2.00zM55.10 166.30h1.00v2.95h-1.00zM57.10 166.30h1.00v2.95h-1.00zM59.09 166.30h1.00v2.95h-1.00zM68.07 166.30h1.00v2.95h-1.00zM73.06 166.30h2.00v2.95h-2.00zM77.05 166.30h1.00v2.95h-1.00zM82.03 166.30h1.00v2.95h-1.00zM87.02 166.30h1.00v2.95h-1.00zM102.98 166.30h1.00v2.95h-1.00zM124.93 166.30h2.00v2.95h-2.00zM129.92 166.30h1.00v2.95h-1.00zM139.89 166.30h1.00v2.95h-1.00zM142.89 166.30h1.00v2.95h-1.00zM147.88 166.30h1.00v2.95h-1.00zM152.86 166.30h1.00v2.95h-1.00zM154.86 166.30h1.00v2.95h-1.00zM159.85 166.30h1.00v2.95h-1.00zM167.83 166.30h1.00v2.95h-1.00zM171.82 166.30h1.00v2.95h-1.00zM173.81 166.30h1.00v2.95h-1.00zM176.81 166.30h2.00v2.95h-2.00zM188.78 166.30h1.00v2.95h-1.00zM190.77 166.30h2.99v2.95h-2.99zM198.75 166.30h1.00v2.95h-1.00zM200.75 166.30h1.00v2.95h-1.00zM202.74 166.30h1.00v2.95h-1.00zM207.73 166.30h1.00v2.95h-1.00zM209.73 166.30h1.00v2.95h-1.00zM213.72 166.30h1.00v2.95h-1.00zM215.71 166.30h1.00v2.95h-1.00zM217.71 166.30h1.00v2.95h-1.00zM237.66 166.30h1.00v2.95h-1.00zM252.62 166.30h2.00v2.95h-2.00zM256.61 166.30h2.99v2.95h-2.99zM261.60 166.30h1.00v2.95h-1.00zM265.59 166.30h1.00v2.95h-1.00zM269.58 166.30h1.00v2.95h-1.00zM274.57 166.30h1.00v2.95h-1.00zM298.51 166.30h1.00v2.95h-1.00zM300.51 166.30h1.00v2.95h-1.00zM302.50 166.30h2.00v2.95h-2.00zM321.46 166.30h1.00v2.95h-1.00zM323.45 166.30h1.00v2.95h-1.00zM326.44 166.30h2.99v2.95h-2.99zM331.43 166.30h1.00v2.95h-1.00zM341.41 166.30h2.00v2.95h-2.00zM55.10 169.25h1.00v2.95h-1.00zM64.08 169.25h1.00v2.95h-1.00zM67.07 169.25h1.00v2.95h-1.00zM73.06 169.25h1.00v2.95h-1.00zM77.05 169.25h1.00v2.95h-1.00zM80.04 169.25h1.00v2.95h-1.00zM82.03 169.25h1.00v2.95h-1.00zM87.02 169.25h1.00v2.95h-1.00zM93.01 169.25h1.00v2.95h-1.00zM96.00 169.25h2.99v2.95h-2.99zM100.99 169.25h1.00v2.95h-1.00zM105.98 169.25h1.00v2.95h-1.00zM110.96 169.25h1.00v2.95h-1.00zM123.93 169.25h1.00v2.95h-1.00zM125.93 169.25h1.00v2.95h-1.00zM132.91 169.25h1.00v2.95h-1.00zM137.90 169.25h1.00v2.95h-1.00zM146.88 169.25h2.99v2.95h-2.99zM155.86 169.25h2.00v2.95h-2.00zM176.81 169.25h1.00v2.95h-1.00zM179.80 169.25h1.00v2.95h-1.00zM182.79 169.25h2.00v2.95h-2.00zM198.75 169.25h1.00v2.95h-1.00zM205.74 169.25h1.00v2.95h-1.00zM214.71 169.25h1.00v2.95h-1.00zM216.71 169.25h1.00v2.95h-1.00zM219.70 169.25h2.00v2.95h-2.00zM224.69 169.25h1.00v2.95h-1.00zM230.68 169.25h1.00v2.95h-1.00zM232.67 169.25h1.00v2.95h-1.00zM240.65 169.25h1.00v2.95h-1.00zM244.64 169.25h1.00v2.95h-1.00zM249.63 169.25h2.00v2.95h-2.00zM254.62 169.25h1.00v2.95h-1.00zM256.61 169.25h1.00v2.95h-1.00zM261.60 169.25h1.00v2.95h-1.00zM273.57 169.25h1.00v2.95h-1.00zM278.56 169.25h1.00v2.95h-1.00zM282.55 169.25h1.00v2.95h-1.00zM286.54 169.25h2.00v2.95h-2.00zM292.53 169.25h2.00v2.95h-2.00zM305.49 169.25h2.00v2.95h-2.00zM312.48 169.25h1.00v2.95h-1.00zM319.46 169.25h1.00v2.95h-1.00zM327.44 169.25h1.00v2.95h-1.00zM330.43 169.25h2.00v2.95h-2.00zM333.43 169.25h1.00v2.95h-1.00z"/>
<path fill="#1fa088" d="M55.10 125.00h1.00v2.95h-1.00zM81.04 125.00h1.00v2.95h-1.00zM84.03 125.00h1.00v2.95h-1.00zM92.01 125.00h1.00v2.95h-1.00zM106.97 125.00h1.00v2.95h-1.00zM140.89 125.00h1.00v2.95h-1.00zM159.85 125.00h1.00v2.95h-1.00zM166.83 125.00h1.00v2.95h-1.00zM219.70 125.00h1.00v2.95h-1.00zM226.68 125.00h1.00v2.95h-1.00zM231.67 125.00h1.00v2.95h-1.00zM237.66 125.00h1.00v2.95h-1.00zM242.65 125.00h2.00v2.95h-2.00zM310.48 125.00h1.00v2.95h-1.00zM314.47 125.00h1.00v2.95h-1.00zM323.45 125.00h1.00v2.95h-1.00zM334.42 125.00h1.00v2.95h-1.00zM339.41 125.00h2.99v2.95h-2.99zM55.10 127.95h1.00v2.95h-1.00zM59.09 127.95h2.00v2.95h-2.00zM64.08 127.95h1.00v2.95h-1.00zM82.03 127.95h1.00v2.95h-1.00zM85.03 127.95h1.00v2.95h-1.00zM97.00 127.95h1.00v2.95h-1.00zM104.98 127.95h1.00v2.95h-1.00zM106.97 127.95h1.00v2.95h-1.00zM114.96 127.95h1.00v2.95h-1.00zM120.94 127.95h1.00v2.95h-1.00zM128.92 127.95h1.00v2.95h-1.00zM184.79 127.95h1.00v2.95h-1.00zM201.75 127.95h1.00v2.95h-1.00zM217.71 127.95h1.00v2.95h-1.00zM224.69 127.95h1.00v2.95h-1.00zM237.66 127.95h2.00v2.95h-2.00zM244.64 127.95h1.00v2.95h-1.00zM246.64 127.95h2.00v2.95h-2.00zM249.63 127.95h1.00v2.95h-1.00zM253.62 127.95h2.99v2.95h-2.99zM287.54 127.95h1.00v2.95h-1.00zM291.53 127.95h1.00v2.95h-1.00zM306.49 127.95h1.00v2.95h-1.00zM312.48 127.95h1.00v2.95h-1.00zM318.46 127.95h1.00v2.95h-1.00zM322.45 127.95h1.00v2.95h-1.00zM329.44 127.95h1.00v2.95h-1.00zM331.43 127.95h1.00v2.95h-1.00zM334.42 127.95h1.00v2.95h-1.00zM66.07 130.90h1.00v2.95h-1.00zM75.05 130.90h1.00v2.95h-1.00zM96.00 130.90h1.00v2.95h-1.00zM103.98 130.90h1.00v2.95h-1.00zM110.96 130.90h1.00v2.95h-1.00zM132.91 130.90h1.00v2.95h-1.00zM137.90 130.90h1.00v2.95h-1.00zM147.88 130.90h1.00v2.95h-1.00zM161.84 130.90h2.00v2.95h-2.00zM168.82 130.90h3.99v2.95h-3.99zM176.81 130.90h1.00v2.95h-1.00zM213.72 130.90h1.00v2.95h-1.00zM220.70 130.90h1.00v2.95h-1.00zM241.65 130.90h2.00v2.95h-2.00zM259.61 130.90h1.00v2.95h-1.00zM282.55 130.90h1.00v2.95h-1.00zM296.52 130.90h1.00v2.95h-1.00zM300.51 130.90h1.00v2.95h-1.00zM303.50 130.90h1.00v2.95h-1.00zM321.46 130.90h2.99v2.95h-2.99zM330.43 130.90h1.00v2.95h-1.00zM338.41 130.90h1.00v2.95h-1.00zM55.10 133.85h1.00v2.95h-1.00zM61.09 133.85h1.00v2.95h-1.00zM65.08 133.85h1.00v2.95h-1.00zM67.07 133.85h1.00v2.95h-1.00zM71.06 133.85h1.00v2.95h-1.00zM78.04 133.85h2.00v2.95h-2.00zM83.03 133.85h1.00v2.95h-1.00zM87.02 133.85h1.00v2.95h-1.00zM94.01 133.85h1.00v2.95h-1.00zM96.00 133.85h2.99v2.95h-2.99zM99.99 133.85h2.00v2.95h-2.00zM103.98 133.85h2.00v2.95h-2.00zM118.95 133.85h1.00v2.95h-1.00zM120.94 133.85h2.00v2.95h-2.00zM124.93 133.85h1.00v2.95h-1.00zM138.90 133.85h1.00v2.95h-1.00zM140.89 133.85h1.00v2.95h-1.00zM146.88 133.85h1.00v2.95h-1.00zM159.85 133.85h2.00v2.95h-2.00zM171.82 133.85h1.00v2.95h-1.00zM173.81 133.85h1.00v2.95h-1.00zM181.79 133.85h1.00v2.95h-1.00zM185.78 133.85h1.00v2.95h-1.00zM205.74 133.85h1.00v2.95h-1.00zM221.70 133.85h1.00v2.95h-1.00zM223.69 133.85h2.00v2.95h-2.00zM232.67 133.85h1.00v2.95h-1.00zM239.65 133.85h1.00v2.95h-1.00zM244.64 133.85h1.00v2.95h-1.00zM247.63 133.85h1.00v2.95h-1.00zM255.61 133.85h1.00v2.95h-1.00zM257.61 133.85h1.00v2.95h-1.00zM272.57 133.85h1.00v2.95h-1.00zM276.56 133.85h2.99v2.95h-2.99zM284.54 133.85h1.00v2.95h-1.00zM293.52 133.85h1.00v2.95h-1.00zM297.51 133.85h2.00v2.95h-2.00zM305.49 133.85h1.00v2.95h-1.00zM315.47 133.85h1.00v2.95h-1.00zM317.47 133.85h1.00v2.95h-1.00zM327.44 133.85h1.00v2.95h-1.00zM336.42 133.85h1.00v2.95h-1.00zM341.41 133.85h1.00v2.95h-1.00zM64.08 136.80h1.00v2.95h-1.00zM101.99 136.80h2.00v2.95h-2.00zM105.98 136.80h1.00v2.95h-1.00zM112.96 136.80h1.00v2.95h-1.00zM121.94 136.80h1.00v2.95h-1.00zM125.93 136.80h1.00v2.95h-1.00zM137.90 136.80h1.00v2.95h-1.00zM177.80 136.80h1.00v2.95h-1.00zM211.72 136.80h1.00v2.95h-1.00zM219.70 136.80h1.00v2.95h-1.00zM289.53 136.80h1.00v2.95h-1.00zM62.08 139.75h1.00v2.95h-1.00zM64.08 139.75h2.00v2.95h-2.00zM67.07 139.75h1.00v2.95h-1.00zM75.05 139.75h1.00v2.95h-1.00zM83.03 139.75h2.00v2.95h-2.00zM99.99 139.75h1.00v2.95h-1.00zM111.96 139.75h4.99v2.95h-4.99zM120.94 139.75h1.00v2.95h-1.00zM131.91 139.75h1.00v2.95h-1.00zM134.91 139.75h2.00v2.95h-2.00zM138.90 139.75h1.00v2.95h-1.00zM143.89 139.75h1.00v2.95h-1.00zM146.88 139.75h2.00v2.95h-2.00zM159.85 139.75h1.00v2.95h-1.00zM169.82 139.75h1.00v2.95h-1.00zM172.82 139.75h1.00v2.95h-1.00zM180.80 139.75h2.00v2.95h-2.00zM192.77 139.75h1.00v2.95h-1.00zM203.74 139.75h1.00v2.95h-1.00zM205.74 139.75h1.00v2.95h-1.00zM207.73 139.75h1.00v2.95h-1.00zM209.73 139.75h1.00v2.95h-1.00zM221.70 139.75h1.00v2.95h-1.00zM223.69 139.75h1.00v2.95h-1.00zM225.69 139.75h2.00v2.95h-2.00zM267.59 139.75h2.99v2.95h-2.99zM281.55 139.75h2.00v2.95h-2.00zM293.52 139.75h2.00v2.95h-2.00zM306.49 139.75h2.00v2.95h-2.00zM311.48 139.75h2.00v2.95h-2.00zM330.43 139.75h2.00v2.95h-2.00zM336.42 139.75h2.00v2.95h-2.00zM341.41 139.75h1.00v2.95h-1.00zM62.08 142.70h1.00v2.95h-1.00zM67.07 142.70h1.00v2.95h-1.00zM74.05 142.70h1.00v2.95h-1.00zM80.04 142.70h1.00v2.95h-1.00zM86.03 142.70h1.00v2.95h-1.00zM93.01 142.70h1.00v2.95h-1.00zM112.96 142.70h2.00v2.95h-2.00zM118.95 142.70h1.00v2.95h-1.00zM120.94 142.70h1.00v2.95h-1.00zM134.91 142.70h1.00v2.95h-1.00zM136.90 142.70h1.00v2.95h-1.00zM139.89 142.70h1.00v2.95h-1.00zM158.85 142.70h1.00v2.95h-1.00zM164.83 142.70h1.00v2.95h-1.00zM167.83 142.70h1.00v2.95h-1.00zM172.82 142.70h1.00v2.95h-1.00zM176.81 142.70h1.00v2.95h-1.00zM181.79 142.70h1.00v2.95h-1.00zM183.79 142.70h1.00v2.95h-1.00zM188.78 142.70h1.00v2.95h-1.00zM200.75 142.70h1.00v2.95h-1.00zM203.74 142.70h1.00v2.95h-1.00zM211.72 142.70h2.00v2.95h-2.00zM216.71 142.70h1.00v2.95h-1.00zM219.70 142.70h1.00v2.95h-1.00zM259.61 142.70h1.00v2.95h-1.00zM264.59 142.70h1.00v2.95h-1.00zM266.59 142.70h1.00v2.95h-1.00zM270.58 142.70h1.00v2.95h-1.00zM275.57 142.70h1.00v2.95h-1.00zM287.54 142.70h1.00v2.95h-1.00zM291.53 142.70h1.00v2.95h-1.00zM294.52 142.70h1.00v2.95h-1.00zM301.50 142.70h2.00v2.95h-2.00zM305.49 142.70h2.00v2.95h-2.00zM324.45 142.70h2.00v2.95h-2.00zM327.44 142.70h2.99v2.95h-2.99zM338.41 142.70h1.00v2.95h-1.00zM341.41 142.70h1.00v2.95h-1.00zM64.08 145.65h1.00v2.95h-1.00zM72.06 145.65h1.00v2.95h-1.00zM75.05 145.65h1.00v2.95h-1.00zM79.04 145.65h2.00v2.95h-2.00zM118.95 145.65h1.00v2.95h-1.00zM146.88 145.65h1.00v2.95h-1.00zM149.87 145.65h2.00v2.95h-2.00zM152.86 145.65h1.00v2.95h-1.00zM162.84 145.65h2.99v2.95h-2.99zM166.83 145.65h2.00v2.95h-2.00zM179.80 145.65h1.00v2.95h-1.00zM189.77 145.65h2.00v2.95h-2.00zM196.76 145.65h1.00v2.95h-1.00zM202.74 145.65h2.00v2.95h-2.00zM221.70 145.65h1.00v2.95h-1.00zM223.69 145.65h1.00v2.95h-1.00zM245.64 145.65h2.00v2.95h-2.00zM255.61 145.65h2.00v2.95h-2.00zM262.60 145.65h1.00v2.95h-1.00zM264.59 145.65h1.00v2.95h-1.00zM268.58 145.65h1.00v2.95h-1.00zM275.57 145.65h1.00v2.95h-1.00zM277.56 145.65h2.00v2.95h-2.00zM58.09 151.55h2.00v2.95h-2.00zM65.08 151.55h1.00v2.95h-1.00zM98.00 151.55h1.00v2.95h-1.00zM107.97 151.55h1.00v2.95h-1.00zM113.96 151.55h2.00v2.95h-2.00zM129.92 151.55h1.00v2.95h-1.00zM144.88 151.55h1.00v2.95h-1.00zM157.85 151.55h1.00v2.95h-1.00zM160.84 151.55h1.00v2.95h-1.00zM178.80 151.55h1.00v2.95h-1.00zM181.79 151.55h1.00v2.95h-1.00zM198.75 151.55h2.00v2.95h-2.00zM218.70 151.55h1.00v2.95h-1.00zM224.69 151.55h2.00v2.95h-2.00zM245.64 151.55h1.00v2.95h-1.00zM252.62 151.55h1.00v2.95h-1.00zM255.61 151.55h2.00v2.95h-2.00zM258.61 151.55h1.00v2.95h-1.00zM263.60 151.55h1.00v2.95h-1.00zM278.56 151.55h1.00v2.95h-1.00zM285.54 151.55h2.00v2.95h-2.00zM288.54 151.55h1.00v2.95h-1.00zM291.53 151.55h2.00v2.95h-2.00zM316.47 151.55h1.00v2.95h-1.00zM320.46 151.55h1.00v2.95h-1.00zM96.00 154.50h1.00v2.95h-1.00zM105.98 154.50h2.00v2.95h-2.00zM110.96 154.50h1.00v2.95h-1.00zM115.95 154.50h1.00v2.95h-1.00zM143.89 154.50h1.00v2.95h-1.00zM148.87 154.50h1.00v2.95h-1.00zM152.86 154.50h1.00v2.95h-1.00zM206.73 154.50h1.00v2.95h-1.00zM217.71 154.50h1.00v2.95h-1.00zM226.68 154.50h1.00v2.95h-1.00zM231.67 154.50h1.00v2.95h-1.00zM235.66 154.50h1.00v2.95h-1.00zM271.58 154.50h1.00v2.95h-1.00zM275.57 154.50h2.00v2.95h-2.00zM279.56 154.50h1.00v2.95h-1.00zM294.52 154.50h2.00v2.95h-2.00zM299.51 154.50h1.00v2.95h-1.00zM312.48 154.50h1.00v2.95h-1.00zM323.45 154.50h1.00v2.95h-1.00zM338.41 154.50h1.00v2.95h-1.00zM343.40 154.50h1.00v2.95h-1.00zM112.96 157.45h1.00v2.95h-1.00zM139.89 157.45h1.00v2.95h-1.00zM239.65 157.45h1.00v2.95h-1.00zM341.41 157.45h1.00v2.95h-1.00zM59.09 160.40h2.00v2.95h-2.00zM67.07 160.40h2.00v2.95h-2.00zM72.06 160.40h1.00v2.95h-1.00zM75.05 160.40h1.00v2.95h-1.00zM94.01 160.40h1.00v2.95h-1.00zM96.00 160.40h1.00v2.95h-1.00zM112.96 160.40h2.00v2.95h-2.00zM119.94 160.40h1.00v2.95h-1.00zM124.93 160.40h1.00v2.95h-1.00zM129.92 160.40h1.00v2.95h-1.00zM131.91 160.40h1.00v2.95h-1.00zM133.91 160.40h1.00v2.95h-1.00zM138.90 160.40h1.00v2.95h-1.00zM142.89 160.40h2.00v2.95h-2.00zM148.87 160.40h1.00v2.95h-1.00zM159.85 160.40h1.00v2.95h-1.00zM172.82 160.40h1.00v2.95h-1.00zM177.80 160.40h1.00v2.95h-1.00zM187.78 160.40h1.00v2.95h-1.00zM202.74 160.40h1.00v2.95h-1.00zM210.72 160.40h2.00v2.95h-2.00zM224.69 160.40h1.00v2.95h-1.00zM238.66 160.40h1.00v2.95h-1.00zM248.63 160.40h1.00v2.95h-1.00zM251.62 160.40h1.00v2.95h-1.00zM258.61 160.40h1.00v2.95h-1.00zM275.57 160.40h1.00v2.95h-1.00zM278.56 160.40h1.00v2.95h-1.00zM284.54 160.40h1.00v2.95h-1.00zM303.50 160.40h1.00v2.95h-1.00zM312.48 160.40h2.00v2.95h-2.00zM317.47 160.40h1.00v2.95h-1.00zM323.45 160.40h1.00v2.95h-1.00zM334.42 160.40h1.00v2.95h-1.00zM340.41 160.40h2.00v2.95h-2.00zM66.07 163.35h1.00v2.95h-1.00zM72.06 163.35h1.00v2.95h-1.00zM89.02 163.35h1.00v2.95h-1.00zM91.01 163.35h1.00v2.95h-1.00zM98.00 163.35h2.99v2.95h-2.99zM103.98 163.35h2.00v2.95h-2.00zM111.96 163.35h1.00v2.95h-1.00zM117.95 163.35h1.00v2.95h-1.00zM123.93 163.35h1.00v2.95h-1.00zM128.92 163.35h1.00v2.95h-1.00zM131.91 163.35h1.00v2.95h-1.00zM140.89 163.35h1.00v2.95h-1.00zM142.89 163.35h1.00v2.95h-1.00zM151.87 163.35h1.00v2.95h-1.00zM158.85 163.35h2.00v2.95h-2.00zM172.82 163.35h1.00v2.95h-1.00zM180.80 163.35h1.00v2.95h-1.00zM192.77 163.35h1.00v2.95h-1.00zM197.75 163.35h2.00v2.95h-2.00zM207.73 163.35h2.00v2.95h-2.00zM212.72 163.35h1.00v2.95h-1.00zM223.69 163.35h2.00v2.95h-2.00zM244.64 163.35h1.00v2.95h-1.00zM249.63 163.35h1.00v2.95h-1.00zM252.62 163.35h1.00v2.95h-1.00zM258.61 163.35h1.00v2.95h-1.00zM262.60 163.35h2.00v2.95h-2.00zM266.59 163.35h1.00v2.95h-1.00zM268.58 163.35h1.00v2.95h-1.00zM271.58 163.35h1.00v2.95h-1.00zM275.57 163.35h1.00v2.95h-1.00zM280.55 163.35h1.00v2.95h-1.00zM284.54 163.35h1.00v2.95h-1.00zM315.47 163.35h1.00v2.95h-1.00zM329.44 163.35h1.00v2.95h-1.00zM56.10 166.30h1.00v2.95h-1.00zM75.05 166.30h1.00v2.95h-1.00zM79.04 166.30h1.00v2.95h-1.00zM103.98 166.30h1.00v2.95h-1.00zM109.97 166.30h1.00v2.95h-1.00zM111.96 166.30h1.00v2.95h-1.00zM116.95 166.30h4.99v2.95h-4.99zM122.94 166.30h2.00v2.95h-2.00zM128.92 166.30h1.00v2.95h-1.00zM131.91 166.30h1.00v2.95h-1.00zM137.90 166.30h1.00v2.95h-1.00zM144.88 166.30h1.00v2.95h-1.00zM157.85 166.30h1.00v2.95h-1.00zM164.83 166.30h1.00v2.95h-1.00zM166.83 166.30h1.00v2.95h-1.00zM169.82 166.30h1.00v2.95h-1.00zM174.81 166.30h2.00v2.95h-2.00zM180.80 166.30h1.00v2.95h-1.00zM185.78 166.30h2.00v2.95h-2.00zM189.77 166.30h1.00v2.95h-1.00zM195.76 166.30h1.00v2.95h-1.00zM205.74 166.30h1.00v2.95h-1.00zM211.72 166.30h1.00v2.95h-1.00zM220.70 166.30h1.00v2.95h-1.00zM223.69 166.30h2.00v2.95h-2.00zM226.68 166.30h1.00v2.95h-1.00zM230.68 166.30h1.00v2.95h-1.00zM232.67 166.30h2.00v2.95h-2.00zM235.66 166.30h1.00v2.95h-1.00zM247.63 166.30h1.00v2.95h-1.00zM259.61 166.30h2.00v2.95h-2.00zM262.60 166.30h2.00v2.95h-2.00zM270.58 166.30h2.00v2.95h-2.00zM277.56 166.30h2.99v2.95h-2.99zM287.54 166.30h1.00v2.95h-1.00zM289.53 166.30h2.00v2.95h-2.00zM294.52 166.30h1.00v2.95h-1.00zM322.45 166.30h1.00v2.95h-1.00zM329.44 166.30h1.00v2.95h-1.00zM339.41 166.30h1.00v2.95h-1.00zM56.10 169.25h1.00v2.95h-1.00zM68.07 169.25h1.00v2.95h-1.00zM76.05 169.25h1.00v2.95h-1.00zM79.04 169.25h1.00v2.95h-1.00zM81.04 169.25h1.00v2.95h-1.00zM83.03 169.25h2.00v2.95h-2.00zM86.03 169.25h1.00v2.95h-1.00zM89.02 169.25h1.00v2.95h-1.00zM92.01 169.25h1.00v2.95h-1.00zM106.97 169.25h1.00v2.95h-1.00zM108.97 169.25h1.00v2.95h-1.00zM115.95 169.25h1.00v2.95h-1.00zM120.94 169.25h2.00v2.95h-2.00zM130.92 169.25h1.00v2.95h-1.00zM141.89 169.25h2.99v2.95h-2.99zM152.86 169.25h1.00v2.95h-1.00zM157.85 169.25h1.00v2.95h-1.00zM160.84 169.25h2.99v2.95h-2.99zM167.83 169.25h1.00v2.95h-1.00zM171.82 169.25h1.00v2.95h-1.00zM175.81 169.25h1.00v2.95h-1.00zM178.80 169.25h1.00v2.95h-1.00zM180.80 169.25h2.00v2.95h-2.00zM188.78 169.25h1.00v2.95h-1.00zM199.75 169.25h1.00v2.95h-1.00zM201.75 169.25h1.00v2.95h-1.00zM203.74 169.25h2.00v2.95h-2.00zM206.73 169.25h1.00v2.95h-1.00zM218.70 169.25h1.00v2.95h-1.00zM226.68 169.25h1.00v2.95h-1.00zM228.68 169.25h1.00v2.95h-1.00zM239.65 169.25h1.00v2.95h-1.00zM241.65 169.25h2.99v2.95h-2.99zM259.61 169.25h1.00v2.95h-1.00zM266.59 169.25h1.00v2.95h-1.00zM270.58 169.25h1.00v2.95h-1.00zM315.47 169.25h1.00v2.95h-1.00zM317.47 169.25h2.00v2.95h-2.00zM320.46 169.25h1.00v2.95h-1.00zM322.45 169.25h2.99v2.95h-2.99zM341.41 169.25h1.00v2.95h-1.00zM343.40 169.25h1.00v2.95h-1.00z"/>
<path fill="#23a983" d="M138.90 125.00h2.00v2.95h-2.00zM155.86 125.00h1.00v2.95h-1.00zM183.79 125.00h1.00v2.95h-1.00zM185.78 125.00h1.00v2.95h-1.00zM197.75 125.00h1.00v2.95h-1.00zM235.66 125.00h1.00v2.95h-1.00zM246.64 125.00h2.00v2.95h-2.00zM330.43 125.00h2.99v2.95h-2.99zM57.10 127.95h2.00v2.95h-2.00zM63.08 127.95h1.00v2.95h-1.00zM65.08 127.95h1.00v2.95h-1.00zM68.07 127.95h1.00v2.95h-1.00zM80.04 127.95h1.00v2.95h-1.00zM84.03 127.95h1.00v2.95h-1.00zM94.01 127.95h1.00v2.95h-1.00zM96.00 127.95h1.00v2.95h-1.00zM98.99 127.95h1.00v2.95h-1.00zM100.99 127.95h1.00v2.95h-1.00zM108.97 127.95h1.00v2.95h-1.00zM116.95 127.95h2.00v2.95h-2.00zM126.93 127.95h2.00v2.95h-2.00zM131.91 127.95h1.00v2.95h-1.00zM133.91 127.95h1.00v2.95h-1.00zM135.90 127.95h1.00v2.95h-1.00zM138.90 127.95h1.00v2.95h-1.00zM159.85 127.95h1.00v2.95h-1.00zM188.78 127.95h1.00v2.95h-1.00zM192.77 127.95h1.00v2.95h-1.00zM199.75 127.95h1.00v2.95h-1.00zM211.72 127.95h2.99v2.95h-2.99zM230.68 127.95h1.00v2.95h-1.00zM239.65 127.95h1.00v2.95h-1.00zM245.64 127.95h1.00v2.95h-1.00zM248.63 127.95h1.00v2.95h-1.00zM278.56 127.95h1.00v2.95h-1.00zM284.54 127.95h2.99v2.95h-2.99zM290.53 127.95h1.00v2.95h-1.00zM292.53 127.95h1.00v2.95h-1.00zM295.52 127.95h2.00v2.95h-2.00zM299.51 127.95h1.00v2.95h-1.00zM301.50 127.95h1.00v2.95h-1.00zM308.49 127.95h1.00v2.95h-1.00zM319.46 127.95h1.00v2.95h-1.00zM326.44 127.95h1.00v2.95h-1.00zM335.42 127.95h2.00v2.95h-2.00zM340.41 127.95h1.00v2.95h-1.00zM73.06 130.90h1.00v2.95h-1.00zM90.02 130.90h1.00v2.95h-1.00zM93.01 130.90h2.00v2.95h-2.00zM106.97 130.90h1.00v2.95h-1.00zM111.96 130.90h1.00v2.95h-1.00zM115.95 130.90h1.00v2.95h-1.00zM135.90 130.90h1.00v2.95h-1.00zM148.87 130.90h1.00v2.95h-1.00zM160.84 130.90h1.00v2.95h-1.00zM172.82 130.90h1.00v2.95h-1.00zM297.51 130.90h1.00v2.95h-1.00zM302.50 130.90h1.00v2.95h-1.00zM326.44 130.90h1.00v2.95h-1.00zM339.41 130.90h1.00v2.95h-1.00zM58.09 133.85h1.00v2.95h-1.00zM81.04 133.85h1.00v2.95h-1.00zM106.97 133.85h1.00v2.95h-1.00zM131.91 133.85h1.00v2.95h-1.00zM134.91 133.85h1.00v2.95h-1.00zM136.90 133.85h1.00v2.95h-1.00zM141.89 133.85h2.00v2.95h-2.00zM145.88 133.85h1.00v2.95h-1.00zM158.85 133.85h1.00v2.95h-1.00zM161.84 133.85h1.00v2.95h-1.00zM166.83 133.85h1.00v2.95h-1.00zM170.82 133.85h1.00v2.95h-1.00zM172.82 133.85h1.00v2.95h-1.00zM180.80 133.85h1.00v2.95h-1.00zM206.73 133.85h1.00v2.95h-1.00zM211.72 133.85h1.00v2.95h-1.00zM213.72 133.85h1.00v2.95h-1.00zM222.69 133.85h1.00v2.95h-1.00zM242.65 133.85h1.00v2.95h-1.00zM254.62 133.85h1.00v2.95h-1.00zM273.57 133.85h2.00v2.95h-2.00zM279.56 133.85h2.00v2.95h-2.00zM301.50 133.85h1.00v2.95h-1.00zM304.50 133.85h1.00v2.95h-1.00zM309.48 133.85h1.00v2.95h-1.00zM312.48 133.85h1.00v2.95h-1.00zM314.47 133.85h1.00v2.95h-1.00zM328.44 133.85h2.00v2.95h-2.00zM334.42 133.85h1.00v2.95h-1.00zM68.07 136.80h1.00v2.95h-1.00zM103.98 136.80h1.00v2.95h-1.00zM141.89 136.80h1.00v2.95h-1.00zM152.86 136.80h1.00v2.95h-1.00zM157.85 136.80h1.00v2.95h-1.00zM59.09 139.75h1.00v2.95h-1.00zM61.09 139.75h1.00v2.95h-1.00zM63.08 139.75h1.00v2.95h-1.00zM68.07 139.75h1.00v2.95h-1.00zM72.06 139.75h2.00v2.95h-2.00zM89.02 139.75h1.00v2.95h-1.00zM94.01 139.75h1.00v2.95h-1.00zM97.00 139.75h2.00v2.95h-2.00zM101.99 139.75h2.00v2.95h-2.00zM107.97 139.75h1.00v2.95h-1.00zM130.92 139.75h1.00v2.95h-1.00zM132.91 139.75h1.00v2.95h-1.00zM136.90 139.75h1.00v2.95h-1.00zM144.88 139.75h1.00v2.95h-1.00zM148.87 139.75h1.00v2.95h-1.00zM160.84 139.75h1.00v2.95h-1.00zM164.83 139.75h1.00v2.95h-1.00zM170.82 139.75h1.00v2.95h-1.00zM175.81 139.75h1.00v2.95h-1.00zM177.80 139.75h1.00v2.95h-1.00zM184.79 139.75h2.00v2.95h-2.00zM201.75 139.75h1.00v2.95h-1.00zM212.72 139.75h1.00v2.95h-1.00zM219.70 139.75h1.00v2.95h-1.00zM227.68 139.75h1.00v2.95h-1.00zM245.64 139.75h1.00v2.95h-1.00zM247.63 139.75h1.00v2.95h-1.00zM259.61 139.75h1.00v2.95h-1.00zM280.55 139.75h1.00v2.95h-1.00zM284.54 139.75h1.00v2.95h-1.00zM308.49 139.75h1.00v2.95h-1.00zM342.40 139.75h2.00v2.95h-2.00zM85.03 142.70h1.00v2.95h-1.00zM102.98 142.70h1.00v2.95h-1.00zM106.97 142.70h1.00v2.95h-1.00zM138.90 142.70h1.00v2.95h-1.00zM144.88 142.70h2.00v2.95h-2.00zM153.86 142.70h2.00v2.95h-2.00zM156.85 142.70h1.00v2.95h-1.00zM160.84 142.70h1.00v2.95h-1.00zM165.83 142.70h2.00v2.95h-2.00zM180.80 142.70h1.00v2.95h-1.00zM206.73 142.70h1.00v2.95h-1.00zM215.71 142.70h1.00v2.95h-1.00zM217.71 142.70h1.00v2.95h-1.00zM220.70 142.70h1.00v2.95h-1.00zM239.65 142.70h1.00v2.95h-1.00zM241.65 142.70h2.00v2.95h-2.00zM262.60 142.70h2.00v2.95h-2.00zM265.59 142.70h1.00v2.95h-1.00zM267.59 142.70h1.00v2.95h-1.00zM278.56 142.70h1.00v2.95h-1.00zM298.51 142.70h1.00v2.95h-1.00zM309.48 142.70h1.00v2.95h-1.00zM337.42 142.70h1.00v2.95h-1.00zM340.41 142.70h1.00v2.95h-1.00zM342.40 142.70h2.00v2.95h-2.00zM66.07 145.65h1.00v2.95h-1.00zM71.06 145.65h1.00v2.95h-1.00zM76.05 145.65h1.00v2.95h-1.00zM78.04 145.65h1.00v2.95h-1.00zM88.02 145.65h1.00v2.95h-1.00zM115.95 145.65h1.00v2.95h-1.00zM153.86 145.65h1.00v2.95h-1.00zM172.82 145.65h2.00v2.95h-2.00zM180.80 145.65h3.99v2.95h-3.99zM186.78 145.65h1.00v2.95h-1.00zM191.77 145.65h1.00v2.95h-1.00zM198.75 145.65h2.99v2.95h-2.99zM269.58 145.65h1.00v2.95h-1.00zM284.54 145.65h1.00v2.95h-1.00zM304.50 145.65h1.00v2.95h-1.00zM57.10 151.55h1.00v2.95h-1.00zM62.08 151.55h1.00v2.95h-1.00zM64.08 151.55h1.00v2.95h-1.00zM70.06 151.55h2.99v2.95h-2.99zM74.05 151.55h1.00v2.95h-1.00zM81.04 151.55h1.00v2.95h-1.00zM95.00 151.55h1.00v2.95h-1.00zM97.00 151.55h1.00v2.95h-1.00zM109.97 151.55h1.00v2.95h-1.00zM122.94 151.55h1.00v2.95h-1.00zM127.92 151.55h2.00v2.95h-2.00zM142.89 151.55h1.00v2.95h-1.00zM145.88 151.55h2.00v2.95h-2.00zM150.87 151.55h1.00v2.95h-1.00zM155.86 151.55h1.00v2.95h-1.00zM162.84 151.55h1.00v2.95h-1.00zM172.82 151.55h3.99v2.95h-3.99zM183.79 151.55h1.00v2.95h-1.00zM193.76 151.55h1.00v2.95h-1.00zM223.69 151.55h1.00v2.95h-1.00zM237.66 151.55h1.00v2.95h-1.00zM239.65 151.55h2.00v2.95h-2.00zM244.64 151.55h1.00v2.95h-1.00zM257.61 151.55h1.00v2.95h-1.00zM259.61 151.55h1.00v2.95h-1.00zM261.60 151.55h2.00v2.95h-2.00zM266.59 151.55h1.00v2.95h-1.00zM269.58 151.55h1.00v2.95h-1.00zM272.57 151.55h1.00v2.95h-1.00zM277.56 151.55h1.00v2.95h-1.00zM284.54 151.55h1.00v2.95h-1.00zM293.52 151.55h2.00v2.95h-2.00zM300.51 151.55h1.00v2.95h-1.00zM315.47 151.55h1.00v2.95h-1.00zM321.46 151.55h1.00v2.95h-1.00zM335.42 151.55h1.00v2.95h-1.00zM342.40 151.55h1.00v2.95h-1.00zM56.10 154.50h1.00v2.95h-1.00zM79.04 154.50h1.00v2.95h-1.00zM104.98 154.50h1.00v2.95h-1.00zM114.96 154.50h1.00v2.95h-1.00zM135.90 154.50h1.00v2.95h-1.00zM144.88 154.50h1.00v2.95h-1.00zM205.74 154.50h1.00v2.95h-1.00zM264.59 154.50h1.00v2.95h-1.00zM270.58 154.50h1.00v2.95h-1.00zM296.52 154.50h1.00v2.95h-1.00zM325.45 154.50h1.00v2.95h-1.00zM327.44 154.50h2.99v2.95h-2.99zM334.42 154.50h2.00v2.95h-2.00zM56.10 160.40h1.00v2.95h-1.00zM64.08 160.40h1.00v2.95h-1.00zM73.06 160.40h2.00v2.95h-2.00zM76.05 160.40h2.99v2.95h-2.99zM82.03 160.40h1.00v2.95h-1.00zM86.03 160.40h1.00v2.95h-1.00zM108.97 160.40h1.00v2.95h-1.00zM115.95 160.40h2.00v2.95h-2.00zM120.94 160.40h2.99v2.95h-2.99zM125.93 160.40h1.00v2.95h-1.00zM132.91 160.40h1.00v2.95h-1.00zM140.89 160.40h1.00v2.95h-1.00zM156.85 160.40h1.00v2.95h-1.00zM160.84 160.40h1.00v2.95h-1.00zM162.84 160.40h1.00v2.95h-1.00zM164.83 160.40h1.00v2.95h-1.00zM171.82 160.40h1.00v2.95h-1.00zM180.80 160.40h2.00v2.95h-2.00zM186.78 160.40h1.00v2.95h-1.00zM188.78 160.40h1.00v2.95h-1.00zM190.77 160.40h1.00v2.95h-1.00zM192.77 160.40h1.00v2.95h-1.00zM194.76 160.40h1.00v2.95h-1.00zM196.76 160.40h1.00v2.95h-1.00zM203.74 160.40h1.00v2.95h-1.00zM208.73 160.40h1.00v2.95h-1.00zM212.72 160.40h1.00v2.95h-1.00zM221.70 160.40h1.00v2.95h-1.00zM225.69 160.40h2.00v2.95h-2.00zM228.68 160.40h1.00v2.95h-1.00zM235.66 160.40h2.00v2.95h-2.00zM247.63 160.40h1.00v2.95h-1.00zM250.63 160.40h1.00v2.95h-1.00zM252.62 160.40h1.00v2.95h-1.00zM254.62 160.40h1.00v2.95h-1.00zM257.61 160.40h1.00v2.95h-1.00zM261.60 160.40h1.00v2.95h-1.00zM263.60 160.40h1.00v2.95h-1.00zM266.59 160.40h1.00v2.95h-1.00zM268.58 160.40h2.99v2.95h-2.99zM272.57 160.40h1.00v2.95h-1.00zM274.57 160.40h1.00v2.95h-1.00zM282.55 160.40h1.00v2.95h-1.00zM291.53 160.40h2.00v2.95h-2.00zM294.52 160.40h1.00v2.95h-1.00zM311.48 160.40h1.00v2.95h-1.00zM316.47 160.40h1.00v2.95h-1.00zM332.43 160.40h1.00v2.95h-1.00zM336.42 160.40h2.99v2.95h-2.99zM342.40 160.40h1.00v2.95h-1.00zM88.02 163.35h1.00v2.95h-1.00zM114.96 163.35h1.00v2.95h-1.00zM120.94 163.35h2.99v2.95h-2.99zM185.78 163.35h1.00v2.95h-1.00zM190.77 163.35h1.00v2.95h-1.00zM200.75 163.35h1.00v2.95h-1.00zM204.74 163.35h1.00v2.95h-1.00zM220.70 163.35h1.00v2.95h-1.00zM230.68 163.35h1.00v2.95h-1.00zM238.66 163.35h1.00v2.95h-1.00zM240.65 163.35h1.00v2.95h-1.00zM251.62 163.35h1.00v2.95h-1.00zM253.62 163.35h2.99v2.95h-2.99zM264.59 163.35h1.00v2.95h-1.00zM270.58 163.35h1.00v2.95h-1.00zM279.56 163.35h1.00v2.95h-1.00zM327.44 163.35h1.00v2.95h-1.00zM334.42 163.35h1.00v2.95h-1.00zM62.08 166.30h1.00v2.95h-1.00zM64.08 166.30h1.00v2.95h-1.00zM83.03 166.30h2.99v2.95h-2.99zM112.96 166.30h1.00v2.95h-1.00zM115.95 166.30h1.00v2.95h-1.00zM127.92 166.30h1.00v2.95h-1.00zM133.91 166.30h1.00v2.95h-1.00zM165.83 166.30h1.00v2.95h-1.00zM170.82 166.30h1.00v2.95h-1.00zM172.82 166.30h1.00v2.95h-1.00zM178.80 166.30h1.00v2.95h-1.00zM181.79 166.30h1.00v2.95h-1.00zM197.75 166.30h1.00v2.95h-1.00zM201.75 166.30h1.00v2.95h-1.00zM204.74 166.30h1.00v2.95h-1.00zM227.68 166.30h1.00v2.95h-1.00zM236.66 166.30h1.00v2.95h-1.00zM239.65 166.30h1.00v2.95h-1.00zM264.59 166.30h1.00v2.95h-1.00zM273.57 166.30h1.00v2.95h-1.00zM275.57 166.30h1.00v2.95h-1.00zM285.54 166.30h1.00v2.95h-1.00zM291.53 166.30h2.99v2.95h-2.99zM295.52 166.30h1.00v2.95h-1.00zM325.45 166.30h1.00v2.95h-1.00zM75.05 169.25h1.00v2.95h-1.00zM88.02 169.25h1.00v2.95h-1.00zM101.99 169.25h1.00v2.95h-1.00zM103.98 169.25h2.00v2.95h-2.00zM127.92 169.25h1.00v2.95h-1.00zM138.90 169.25h1.00v2.95h-1.00zM140.89 169.25h1.00v2.95h-1.00zM145.88 169.25h1.00v2.95h-1.00zM150.87 169.25h2.00v2.95h-2.00zM153.86 169.25h1.00v2.95h-1.00zM166.83 169.25h1.00v2.95h-1.00zM172.82 169.25h1.00v2.95h-1.00zM212.72 169.25h2.00v2.95h-2.00zM215.71 169.25h1.00v2.95h-1.00zM217.71 169.25h1.00v2.95h-1.00zM222.69 169.25h2.00v2.95h-2.00zM225.69 169.25h1.00v2.95h-1.00zM227.68 169.25h1.00v2.95h-1.00zM260.60 169.25h1.00v2.95h-1.00zM269.58 169.25h1.00v2.95h-1.00zM271.58 169.25h1.00v2.95h-1.00zM291.53 169.25h1.00v2.95h-1.00zM316.47 169.25h1.00v2.95h-1.00zM325.45 169.25h1.00v2.95h-1.00zM332.43 169.25h1.00v2.95h-1.00zM334.42 169.25h1.00v2.95h-1.00zM337.42 169.25h1.00v2.95h-1.00z"/>
<path fill="#2eb37c" d="M88.02 125.00h1.00v2.95h-1.00zM161.84 125.00h2.00v2.95h-2.00zM228.68 125.00h1.00v2.95h-1.00zM234.67 125.00h1.00v2.95h-1.00zM236.66 125.00h1.00v2.95h-1.00zM239.65 125.00h1.00v2.95h-1.00zM327.44 125.00h1.00v2.95h-1.00zM61.09 127.95h2.00v2.95h-2.00zM86.03 127.95h1.00v2.95h-1.00zM99.99 127.95h1.00v2.95h-1.00zM122.94 127.95h2.99v2.95h-2.99zM130.92 127.95h1.00v2.95h-1.00zM132.91 127.95h1.00v2.95h-1.00zM137.90 127.95h1.00v2.95h-1.00zM156.85 127.95h1.00v2.95h-1.00zM160.84 127.95h1.00v2.95h-1.00zM163.84 127.95h1.00v2.95h-1.00zM165.83 127.95h1.00v2.95h-1.00zM168.82 127.95h2.00v2.95h-2.00zM177.80 127.95h1.00v2.95h-1.00zM180.80 127.95h1.00v2.95h-1.00zM183.79 127.95h1.00v2.95h-1.00zM195.76 127.95h1.00v2.95h-1.00zM203.74 127.95h1.00v2.95h-1.00zM216.71 127.95h1.00v2.95h-1.00zM221.70 127.95h2.00v2.95h-2.00zM225.69 127.95h2.99v2.95h-2.99zM229.68 127.95h1.00v2.95h-1.00zM231.67 127.95h1.00v2.95h-1.00zM235.66 127.95h1.00v2.95h-1.00zM256.61 127.95h2.00v2.95h-2.00zM263.60 127.95h1.00v2.95h-1.00zM272.57 127.95h1.00v2.95h-1.00zM276.56 127.95h1.00v2.95h-1.00zM279.56 127.95h2.00v2.95h-2.00zM289.53 127.95h1.00v2.95h-1.00zM297.51 127.95h2.00v2.95h-2.00zM307.49 127.95h1.00v2.95h-1.00zM310.48 127.95h1.00v2.95h-1.00zM314.47 127.95h2.00v2.95h-2.00zM320.46 127.95h1.00v2.95h-1.00zM323.45 127.95h1.00v2.95h-1.00zM338.41 127.95h1.00v2.95h-1.00zM91.01 130.90h1.00v2.95h-1.00zM133.91 130.90h1.00v2.95h-1.00zM142.89 130.90h2.00v2.95h-2.00zM157.85 130.90h2.00v2.95h-2.00zM166.83 130.90h2.00v2.95h-2.00zM247.63 130.90h1.00v2.95h-1.00zM301.50 130.90h1.00v2.95h-1.00zM101.99 133.85h1.00v2.95h-1.00zM129.92 133.85h2.00v2.95h-2.00zM135.90 133.85h1.00v2.95h-1.00zM143.89 133.85h1.00v2.95h-1.00zM150.87 133.85h1.00v2.95h-1.00zM153.86 133.85h2.00v2.95h-2.00zM165.83 133.85h1.00v2.95h-1.00zM169.82 133.85h1.00v2.95h-1.00zM212.72 133.85h1.00v2.95h-1.00zM270.58 133.85h2.00v2.95h-2.00zM282.55 133.85h2.00v2.95h-2.00zM302.50 133.85h2.00v2.95h-2.00zM308.49 133.85h1.00v2.95h-1.00zM310.48 133.85h1.00v2.95h-1.00zM330.43 133.85h1.00v2.95h-1.00zM339.41 133.85h1.00v2.95h-1.00zM139.89 136.80h1.00v2.95h-1.00zM150.87 136.80h1.00v2.95h-1.00zM224.69 136.80h1.00v2.95h-1.00zM57.10 139.75h2.00v2.95h-2.00zM66.07 139.75h1.00v2.95h-1.00zM76.05 139.75h1.00v2.95h-1.00zM95.00 139.75h2.00v2.95h-2.00zM103.98 139.75h2.00v2.95h-2.00zM106.97 139.75h1.00v2.95h-1.00zM121.94 139.75h1.00v2.95h-1.00zM128.92 139.75h1.00v2.95h-1.00zM139.89 139.75h1.00v2.95h-1.00zM145.88 139.75h1.00v2.95h-1.00zM149.87 139.75h1.00v2.95h-1.00zM154.86 139.75h1.00v2.95h-1.00zM156.85 139.75h2.99v2.95h-2.99zM161.84 139.75h1.00v2.95h-1.00zM163.84 139.75h1.00v2.95h-1.00zM166.83 139.75h2.00v2.95h-2.00zM174.81 139.75h1.00v2.95h-1.00zM215.71 139.75h1.00v2.95h-1.00zM228.68 139.75h2.00v2.95h-2.00zM233.67 139.75h1.00v2.95h-1.00zM241.65 139.75h1.00v2.95h-1.00zM246.64 139.75h1.00v2.95h-1.00zM248.63 139.75h1.00v2.95h-1.00zM258.61 139.75h1.00v2.95h-1.00zM265.59 139.75h1.00v2.95h-1.00zM286.54 139.75h1.00v2.95h-1.00zM292.53 139.75h1.00v2.95h-1.00zM297.51 139.75h1.00v2.95h-1.00zM305.49 139.75h1.00v2.95h-1.00zM310.48 139.75h1.00v2.95h-1.00zM334.42 139.75h1.00v2.95h-1.00zM339.41 139.75h1.00v2.95h-1.00zM84.03 142.70h1.00v2.95h-1.00zM103.98 142.70h1.00v2.95h-1.00zM133.91 142.70h1.00v2.95h-1.00zM135.90 142.70h1.00v2.95h-1.00zM157.85 142.70h1.00v2.95h-1.00zM159.85 142.70h1.00v2.95h-1.00zM222.69 142.70h1.00v2.95h-1.00zM226.68 142.70h1.00v2.95h-1.00zM271.58 142.70h1.00v2.95h-1.00zM282.55 142.70h2.00v2.95h-2.00zM289.53 142.70h1.00v2.95h-1.00zM331.43 142.70h1.00v2.95h-1.00zM67.07 145.65h1.00v2.95h-1.00zM69.07 145.65h1.00v2.95h-1.00zM151.87 145.65h1.00v2.95h-1.00zM168.82 145.65h1.00v2.95h-1.00zM185.78 145.65h1.00v2.95h-1.00zM187.78 145.65h2.00v2.95h-2.00zM248.63 145.65h1.00v2.95h-1.00zM265.59 145.65h1.00v2.95h-1.00zM270.58 145.65h2.99v2.95h-2.99zM279.56 145.65h1.00v2.95h-1.00zM55.10 151.55h2.00v2.95h-2.00zM60.09 151.55h1.00v2.95h-1.00zM67.07 151.55h1.00v2.95h-1.00zM75.05 151.55h1.00v2.95h-1.00zM78.04 151.55h1.00v2.95h-1.00zM85.03 151.55h2.99v2.95h-2.99zM89.02 151.55h1.00v2.95h-1.00zM93.01 151.55h1.00v2.95h-1.00zM96.00 151.55h1.00v2.95h-1.00zM101.99 151.55h1.00v2.95h-1.00zM104.98 151.55h1.00v2.95h-1.00zM106.97 151.55h1.00v2.95h-1.00zM108.97 151.55h1.00v2.95h-1.00zM115.95 151.55h1.00v2.95h-1.00zM117.95 151.55h1.00v2.95h-1.00zM120.94 151.55h2.00v2.95h-2.00zM125.93 151.55h2.00v2.95h-2.00zM134.91 151.55h3.99v2.95h-3.99zM140.89 151.55h1.00v2.95h-1.00zM149.87 151.55h1.00v2.95h-1.00zM151.87 151.55h1.00v2.95h-1.00zM153.86 151.55h1.00v2.95h-1.00zM158.85 151.55h2.00v2.95h-2.00zM161.84 151.55h1.00v2.95h-1.00zM165.83 151.55h1.00v2.95h-1.00zM168.82 151.55h1.00v2.95h-1.00zM179.80 151.55h1.00v2.95h-1.00zM187.78 151.55h2.00v2.95h-2.00zM190.77 151.55h1.00v2.95h-1.00zM200.75 151.55h1.00v2.95h-1.00zM213.72 151.55h1.00v2.95h-1.00zM219.70 151.55h1.00v2.95h-1.00zM231.67 151.55h1.00v2.95h-1.00zM233.67 151.55h3.99v2.95h-3.99zM243.64 151.55h1.00v2.95h-1.00zM248.63 151.55h1.00v2.95h-1.00zM274.57 151.55h1.00v2.95h-1.00zM282.55 151.55h2.00v2.95h-2.00zM297.51 151.55h1.00v2.95h-1.00zM299.51 151.55h1.00v2.95h-1.00zM301.50 151.55h1.00v2.95h-1.00zM312.48 151.55h1.00v2.95h-1.00zM322.45 151.55h2.00v2.95h-2.00zM336.42 151.55h1.00v2.95h-1.00zM338.41 151.55h1.00v2.95h-1.00zM341.41 151.55h1.00v2.95h-1.00zM343.40 151.55h1.00v2.95h-1.00zM139.89 154.50h1.00v2.95h-1.00zM234.67 154.50h1.00v2.95h-1.00zM247.63 154.50h1.00v2.95h-1.00zM262.60 154.50h1.00v2.95h-1.00zM330.43 154.50h2.00v2.95h-2.00zM57.10 160.40h1.00v2.95h-1.00zM61.09 160.40h2.00v2.95h-2.00zM65.08 160.40h1.00v2.95h-1.00zM79.04 160.40h1.00v2.95h-1.00zM81.04 160.40h1.00v2.95h-1.00zM84.03 160.40h1.00v2.95h-1.00zM87.02 160.40h1.00v2.95h-1.00zM89.02 160.40h1.00v2.95h-1.00zM91.01 160.40h1.00v2.95h-1.00zM106.97 160.40h1.00v2.95h-1.00zM110.96 160.40h2.00v2.95h-2.00zM114.96 160.40h1.00v2.95h-1.00zM117.95 160.40h1.00v2.95h-1.00zM130.92 160.40h1.00v2.95h-1.00zM137.90 160.40h1.00v2.95h-1.00zM139.89 160.40h1.00v2.95h-1.00zM166.83 160.40h1.00v2.95h-1.00zM168.82 160.40h1.00v2.95h-1.00zM176.81 160.40h1.00v2.95h-1.00zM178.80 160.40h2.00v2.95h-2.00zM182.79 160.40h1.00v2.95h-1.00zM185.78 160.40h1.00v2.95h-1.00zM189.77 160.40h1.00v2.95h-1.00zM201.75 160.40h1.00v2.95h-1.00zM206.73 160.40h1.00v2.95h-1.00zM242.65 160.40h1.00v2.95h-1.00zM260.60 160.40h1.00v2.95h-1.00zM264.59 160.40h1.00v2.95h-1.00zM267.59 160.40h1.00v2.95h-1.00zM276.56 160.40h1.00v2.95h-1.00zM293.52 160.40h1.00v2.95h-1.00zM304.50 160.40h2.00v2.95h-2.00zM307.49 160.40h2.00v2.95h-2.00zM315.47 160.40h1.00v2.95h-1.00zM339.41 160.40h1.00v2.95h-1.00zM343.40 160.40h1.00v2.95h-1.00zM75.05 163.35h1.00v2.95h-1.00zM96.00 163.35h1.00v2.95h-1.00zM130.92 163.35h1.00v2.95h-1.00zM149.87 163.35h2.00v2.95h-2.00zM164.83 163.35h1.00v2.95h-1.00zM167.83 163.35h1.00v2.95h-1.00zM169.82 163.35h1.00v2.95h-1.00zM186.78 163.35h1.00v2.95h-1.00zM193.76 163.35h1.00v2.95h-1.00zM201.75 163.35h1.00v2.95h-1.00zM209.73 163.35h1.00v2.95h-1.00zM211.72 163.35h1.00v2.95h-1.00zM215.71 163.35h1.00v2.95h-1.00zM232.67 163.35h1.00v2.95h-1.00zM235.66 163.35h1.00v2.95h-1.00zM237.66 163.35h1.00v2.95h-1.00zM246.64 163.35h1.00v2.95h-1.00zM248.63 163.35h1.00v2.95h-1.00zM256.61 163.35h1.00v2.95h-1.00zM278.56 163.35h1.00v2.95h-1.00zM331.43 163.35h1.00v2.95h-1.00zM60.09 166.30h1.00v2.95h-1.00zM63.08 166.30h1.00v2.95h-1.00zM66.07 166.30h2.00v2.95h-2.00zM86.03 166.30h1.00v2.95h-1.00zM110.96 166.30h1.00v2.95h-1.00zM113.96 166.30h1.00v2.95h-1.00zM132.91 166.30h1.00v2.95h-1.00zM168.82 166.30h1.00v2.95h-1.00zM193.76 166.30h1.00v2.95h-1.00zM203.74 166.30h1.00v2.95h-1.00zM206.73 166.30h1.00v2.95h-1.00zM212.72 166.30h1.00v2.95h-1.00zM234.67 166.30h1.00v2.95h-1.00zM276.56 166.30h1.00v2.95h-1.00zM284.54 166.30h1.00v2.95h-1.00zM334.42 166.30h1.00v2.95h-1.00zM337.42 166.30h1.00v2.95h-1.00zM90.02 169.25h2.00v2.95h-2.00zM111.96 169.25h1.00v2.95h-1.00zM144.88 169.25h1.00v2.95h-1.00zM177.80 169.25h1.00v2.95h-1.00zM197.75 169.25h1.00v2.95h-1.00zM247.63 169.25h1.00v2.95h-1.00zM265.59 169.25h1.00v2.95h-1.00zM277.56 169.25h1.00v2.95h-1.00zM338.41 169.25h2.99v2.95h-2.99z"/>
<path fill="#3fbc73" d="M164.83 125.00h1.00v2.95h-1.00zM73.06 127.95h1.00v2.95h-1.00zM75.05 127.95h2.00v2.95h-2.00zM83.03 127.95h1.00v2.95h-1.00zM95.00 127.95h1.00v2.95h-1.00zM111.96 127.95h2.99v2.95h-2.99zM118.95 127.95h2.00v2.95h-2.00zM125.93 127.95h1.00v2.95h-1.00zM134.91 127.95h1.00v2.95h-1.00zM145.88 127.95h1.00v2.95h-1.00zM147.88 127.95h1.00v2.95h-1.00zM153.86 127.95h1.00v2.95h-1.00zM155.86 127.95h1.00v2.95h-1.00zM164.83 127.95h1.00v2.95h-1.00zM176.81 127.95h1.00v2.95h-1.00zM181.79 127.95h2.00v2.95h-2.00zM189.77 127.95h2.99v2.95h-2.99zM194.76 127.95h1.00v2.95h-1.00zM215.71 127.95h1.00v2.95h-1.00zM220.70 127.95h1.00v2.95h-1.00zM223.69 127.95h1.00v2.95h-1.00zM228.68 127.95h1.00v2.95h-1.00zM233.67 127.95h2.00v2.95h-2.00zM259.61 127.95h1.00v2.95h-1.00zM265.59 127.95h2.00v2.95h-2.00zM268.58 127.95h1.00v2.95h-1.00zM271.58 127.95h1.00v2.95h-1.00zM274.57 127.95h1.00v2.95h-1.00zM281.55 127.95h1.00v2.95h-1.00zM283.55 127.95h1.00v2.95h-1.00zM294.52 127.95h1.00v2.95h-1.00zM302.50 127.95h1.00v2.95h-1.00zM309.48 127.95h1.00v2.95h-1.00zM313.47 127.95h1.00v2.95h-1.00zM324.45 127.95h1.00v2.95h-1.00zM341.41 127.95h2.00v2.95h-2.00zM134.91 130.90h1.00v2.95h-1.00zM152.86 130.90h2.00v2.95h-2.00zM156.85 130.90h1.00v2.95h-1.00zM165.83 130.90h1.00v2.95h-1.00zM298.51 130.90h1.00v2.95h-1.00zM56.10 133.85h1.00v2.95h-1.00zM82.03 133.85h1.00v2.95h-1.00zM84.03 133.85h1.00v2.95h-1.00zM88.02 133.85h1.00v2.95h-1.00zM102.98 133.85h1.00v2.95h-1.00zM105.98 133.85h1.00v2.95h-1.00zM127.92 133.85h1.00v2.95h-1.00zM132.91 133.85h2.00v2.95h-2.00zM137.90 133.85h1.00v2.95h-1.00zM144.88 133.85h1.00v2.95h-1.00zM147.88 133.85h1.00v2.95h-1.00zM155.86 133.85h1.00v2.95h-1.00zM162.84 133.85h1.00v2.95h-1.00zM182.79 133.85h1.00v2.95h-1.00zM226.68 133.85h1.00v2.95h-1.00zM299.51 133.85h1.00v2.95h-1.00zM307.49 133.85h1.00v2.95h-1.00zM331.43 133.85h1.00v2.95h-1.00zM143.89 136.80h1.00v2.95h-1.00zM149.87 136.80h1.00v2.95h-1.00zM91.01 139.75h1.00v2.95h-1.00zM98.99 139.75h1.00v2.95h-1.00zM117.95 139.75h1.00v2.95h-1.00zM124.93 139.75h3.99v2.95h-3.99zM137.90 139.75h1.00v2.95h-1.00zM140.89 139.75h1.00v2.95h-1.00zM155.86 139.75h1.00v2.95h-1.00zM162.84 139.75h1.00v2.95h-1.00zM173.81 139.75h1.00v2.95h-1.00zM183.79 139.75h1.00v2.95h-1.00zM200.75 139.75h1.00v2.95h-1.00zM231.67 139.75h1.00v2.95h-1.00zM244.64 139.75h1.00v2.95h-1.00zM249.63 139.75h1.00v2.95h-1.00zM257.61 139.75h1.00v2.95h-1.00zM270.58 139.75h1.00v2.95h-1.00zM274.57 139.75h1.00v2.95h-1.00zM276.56 139.75h1.00v2.95h-1.00zM298.51 139.75h1.00v2.95h-1.00zM300.51 139.75h2.00v2.95h-2.00zM58.09 142.70h1.00v2.95h-1.00zM225.69 142.70h1.00v2.95h-1.00zM286.54 142.70h1.00v2.95h-1.00zM304.50 142.70h1.00v2.95h-1.00zM326.44 142.70h1.00v2.95h-1.00zM68.07 145.65h1.00v2.95h-1.00zM61.09 151.55h1.00v2.95h-1.00zM68.07 151.55h2.00v2.95h-2.00zM73.06 151.55h1.00v2.95h-1.00zM76.05 151.55h1.00v2.95h-1.00zM83.03 151.55h1.00v2.95h-1.00zM90.02 151.55h2.00v2.95h-2.00zM99.99 151.55h2.00v2.95h-2.00zM111.96 151.55h2.00v2.95h-2.00zM116.95 151.55h1.00v2.95h-1.00zM119.94 151.55h1.00v2.95h-1.00zM143.89 151.55h1.00v2.95h-1.00zM154.86 151.55h1.00v2.95h-1.00zM163.84 151.55h2.00v2.95h-2.00zM166.83 151.55h1.00v2.95h-1.00zM182.79 151.55h1.00v2.95h-1.00zM184.79 151.55h1.00v2.95h-1.00zM186.78 151.55h1.00v2.95h-1.00zM189.77 151.55h1.00v2.95h-1.00zM192.77 151.55h1.00v2.95h-1.00zM194.76 151.55h2.00v2.95h-2.00zM201.75 151.55h1.00v2.95h-1.00zM207.73 151.55h1.00v2.95h-1.00zM211.72 151.55h1.00v2.95h-1.00zM214.71 151.55h1.00v2.95h-1.00zM220.70 151.55h2.99v2.95h-2.99zM227.68 151.55h1.00v2.95h-1.00zM238.66 151.55h1.00v2.95h-1.00zM246.64 151.55h1.00v2.95h-1.00zM273.57 151.55h1.00v2.95h-1.00zM275.57 151.55h1.00v2.95h-1.00zM280.55 151.55h1.00v2.95h-1.00zM289.53 151.55h1.00v2.95h-1.00zM295.52 151.55h1.00v2.95h-1.00zM311.48 151.55h1.00v2.95h-1.00zM313.47 151.55h2.00v2.95h-2.00zM318.46 151.55h2.00v2.95h-2.00zM333.43 151.55h1.00v2.95h-1.00zM337.42 151.55h1.00v2.95h-1.00zM55.10 154.50h1.00v2.95h-1.00zM141.89 154.50h1.00v2.95h-1.00zM337.42 154.50h1.00v2.95h-1.00zM341.41 154.50h1.00v2.95h-1.00zM55.10 160.40h1.00v2.95h-1.00zM58.09 160.40h1.00v2.95h-1.00zM90.02 160.40h1.00v2.95h-1.00zM92.01 160.40h1.00v2.95h-1.00zM118.95 160.40h1.00v2.95h-1.00zM135.90 160.40h1.00v2.95h-1.00zM161.84 160.40h1.00v2.95h-1.00zM165.83 160.40h1.00v2.95h-1.00zM191.77 160.40h1.00v2.95h-1.00zM193.76 160.40h1.00v2.95h-1.00zM197.75 160.40h1.00v2.95h-1.00zM227.68 160.40h1.00v2.95h-1.00zM262.60 160.40h1.00v2.95h-1.00zM273.57 160.40h1.00v2.95h-1.00zM314.47 160.40h1.00v2.95h-1.00zM115.95 163.35h1.00v2.95h-1.00zM152.86 163.35h1.00v2.95h-1.00zM165.83 163.35h1.00v2.95h-1.00zM168.82 163.35h1.00v2.95h-1.00zM221.70 163.35h2.00v2.95h-2.00zM239.65 163.35h1.00v2.95h-1.00zM265.59 163.35h1.00v2.95h-1.00zM61.09 166.30h1.00v2.95h-1.00zM65.08 166.30h1.00v2.95h-1.00zM130.92 166.30h1.00v2.95h-1.00zM179.80 166.30h1.00v2.95h-1.00zM208.73 166.30h1.00v2.95h-1.00zM225.69 166.30h1.00v2.95h-1.00zM99.99 169.25h1.00v2.95h-1.00zM102.98 169.25h1.00v2.95h-1.00zM139.89 169.25h1.00v2.95h-1.00zM149.87 169.25h1.00v2.95h-1.00zM163.84 169.25h1.00v2.95h-1.00zM221.70 169.25h1.00v2.95h-1.00z"/>
<path fill="#52c569" d="M165.83 125.00h1.00v2.95h-1.00zM98.00 127.95h1.00v2.95h-1.00zM115.95 127.95h1.00v2.95h-1.00zM139.89 127.95h2.99v2.95h-2.99zM143.89 127.95h1.00v2.95h-1.00zM148.87 127.95h1.00v2.95h-1.00zM151.87 127.95h1.00v2.95h-1.00zM154.86 127.95h1.00v2.95h-1.00zM162.84 127.95h1.00v2.95h-1.00zM166.83 127.95h1.00v2.95h-1.00zM170.82 127.95h1.00v2.95h-1.00zM174.81 127.95h2.00v2.95h-2.00zM178.80 127.95h2.00v2.95h-2.00zM186.78 127.95h2.00v2.95h-2.00zM193.76 127.95h1.00v2.95h-1.00zM197.75 127.95h1.00v2.95h-1.00zM258.61 127.95h1.00v2.95h-1.00zM260.60 127.95h2.00v2.95h-2.00zM264.59 127.95h1.00v2.95h-1.00zM269.58 127.95h1.00v2.95h-1.00zM273.57 127.95h1.00v2.95h-1.00zM277.56 127.95h1.00v2.95h-1.00zM282.55 127.95h1.00v2.95h-1.00zM303.50 127.95h2.00v2.95h-2.00zM311.48 127.95h1.00v2.95h-1.00zM325.45 127.95h1.00v2.95h-1.00zM337.42 127.95h1.00v2.95h-1.00zM339.41 127.95h1.00v2.95h-1.00zM343.40 127.95h1.00v2.95h-1.00zM92.01 130.90h1.00v2.95h-1.00zM144.88 130.90h1.00v2.95h-1.00zM149.87 130.90h2.00v2.95h-2.00zM154.86 130.90h2.00v2.95h-2.00zM299.51 130.90h1.00v2.95h-1.00zM86.03 133.85h1.00v2.95h-1.00zM122.94 133.85h1.00v2.95h-1.00zM126.93 133.85h1.00v2.95h-1.00zM139.89 133.85h1.00v2.95h-1.00zM148.87 133.85h1.00v2.95h-1.00zM156.85 133.85h1.00v2.95h-1.00zM164.83 133.85h1.00v2.95h-1.00zM168.82 133.85h1.00v2.95h-1.00zM256.61 133.85h1.00v2.95h-1.00zM142.89 136.80h1.00v2.95h-1.00zM55.10 139.75h1.00v2.95h-1.00zM110.96 139.75h1.00v2.95h-1.00zM122.94 139.75h1.00v2.95h-1.00zM129.92 139.75h1.00v2.95h-1.00zM176.81 139.75h1.00v2.95h-1.00zM182.79 139.75h1.00v2.95h-1.00zM206.73 139.75h1.00v2.95h-1.00zM230.68 139.75h1.00v2.95h-1.00zM232.67 139.75h1.00v2.95h-1.00zM234.67 139.75h1.00v2.95h-1.00zM236.66 139.75h2.00v2.95h-2.00zM243.64 139.75h1.00v2.95h-1.00zM271.58 139.75h1.00v2.95h-1.00zM273.57 139.75h1.00v2.95h-1.00zM275.57 139.75h1.00v2.95h-1.00zM295.52 139.75h1.00v2.95h-1.00zM299.51 139.75h1.00v2.95h-1.00zM303.50 139.75h2.00v2.95h-2.00zM281.55 142.70h1.00v2.95h-1.00zM66.07 151.55h1.00v2.95h-1.00zM77.05 151.55h1.00v2.95h-1.00zM79.04 151.55h1.00v2.95h-1.00zM88.02 151.55h1.00v2.95h-1.00zM92.01 151.55h1.00v2.95h-1.00zM103.98 151.55h1.00v2.95h-1.00zM105.98 151.55h1.00v2.95h-1.00zM110.96 151.55h1.00v2.95h-1.00zM131.91 151.55h2.00v2.95h-2.00zM138.90 151.55h1.00v2.95h-1.00zM141.89 151.55h1.00v2.95h-1.00zM171.82 151.55h1.00v2.95h-1.00zM185.78 151.55h1.00v2.95h-1.00zM196.76 151.55h2.00v2.95h-2.00zM202.74 151.55h2.00v2.95h-2.00zM205.74 151.55h1.00v2.95h-1.00zM209.73 151.55h1.00v2.95h-1.00zM212.72 151.55h1.00v2.95h-1.00zM215.71 151.55h2.99v2.95h-2.99zM228.68 151.55h2.00v2.95h-2.00zM242.65 151.55h1.00v2.95h-1.00zM247.63 151.55h1.00v2.95h-1.00zM250.63 151.55h2.00v2.95h-2.00zM254.62 151.55h1.00v2.95h-1.00zM270.58 151.55h2.00v2.95h-2.00zM279.56 151.55h1.00v2.95h-1.00zM296.52 151.55h1.00v2.95h-1.00zM324.45 151.55h1.00v2.95h-1.00zM334.42 151.55h1.00v2.95h-1.00zM142.89 154.50h1.00v2.95h-1.00zM63.08 160.40h1.00v2.95h-1.00zM83.03 160.40h1.00v2.95h-1.00zM134.91 160.40h1.00v2.95h-1.00zM153.86 160.40h1.00v2.95h-1.00zM195.76 160.40h1.00v2.95h-1.00zM265.59 160.40h1.00v2.95h-1.00zM271.58 160.40h1.00v2.95h-1.00zM247.63 163.35h1.00v2.95h-1.00zM58.09 166.30h1.00v2.95h-1.00zM114.96 166.30h1.00v2.95h-1.00z"/>
<path fill="#69cd5b" d="M110.96 127.95h1.00v2.95h-1.00zM121.94 127.95h1.00v2.95h-1.00zM142.89 127.95h1.00v2.95h-1.00zM144.88 127.95h1.00v2.95h-1.00zM146.88 127.95h1.00v2.95h-1.00zM150.87 127.95h1.00v2.95h-1.00zM152.86 127.95h1.00v2.95h-1.00zM161.84 127.95h1.00v2.95h-1.00zM173.81 127.95h1.00v2.95h-1.00zM267.59 127.95h1.00v2.95h-1.00zM270.58 127.95h1.00v2.95h-1.00zM151.87 130.90h1.00v2.95h-1.00zM125.93 133.85h1.00v2.95h-1.00zM149.87 133.85h1.00v2.95h-1.00zM151.87 133.85h1.00v2.95h-1.00zM157.85 133.85h1.00v2.95h-1.00zM167.83 133.85h1.00v2.95h-1.00zM56.10 139.75h1.00v2.95h-1.00zM238.66 139.75h1.00v2.95h-1.00zM280.55 142.70h1.00v2.95h-1.00zM84.03 151.55h1.00v2.95h-1.00zM118.95 151.55h1.00v2.95h-1.00zM167.83 151.55h1.00v2.95h-1.00zM169.82 151.55h2.00v2.95h-2.00zM176.81 151.55h2.00v2.95h-2.00zM191.77 151.55h1.00v2.95h-1.00zM204.74 151.55h1.00v2.95h-1.00zM210.72 151.55h1.00v2.95h-1.00zM226.68 151.55h1.00v2.95h-1.00zM230.68 151.55h1.00v2.95h-1.00zM232.67 151.55h1.00v2.95h-1.00zM249.63 151.55h1.00v2.95h-1.00zM260.60 151.55h1.00v2.95h-1.00zM276.56 151.55h1.00v2.95h-1.00zM281.55 151.55h1.00v2.95h-1.00zM305.49 151.55h2.00v2.95h-2.00zM309.48 151.55h1.00v2.95h-1.00zM317.47 151.55h1.00v2.95h-1.00zM325.45 151.55h1.00v2.95h-1.00zM327.44 151.55h2.00v2.95h-2.00zM339.41 151.55h2.00v2.95h-2.00zM232.67 154.50h1.00v2.95h-1.00zM88.02 160.40h1.00v2.95h-1.00zM253.62 160.40h1.00v2.95h-1.00z"/>
<path fill="#84d44b" d="M149.87 127.95h1.00v2.95h-1.00zM157.85 127.95h2.00v2.95h-2.00zM167.83 127.95h1.00v2.95h-1.00zM172.82 127.95h1.00v2.95h-1.00zM232.67 127.95h1.00v2.95h-1.00zM262.60 127.95h1.00v2.95h-1.00zM275.57 127.95h1.00v2.95h-1.00zM305.49 127.95h1.00v2.95h-1.00zM152.86 133.85h1.00v2.95h-1.00zM163.84 133.85h1.00v2.95h-1.00zM235.66 139.75h1.00v2.95h-1.00zM239.65 139.75h1.00v2.95h-1.00zM63.08 151.55h1.00v2.95h-1.00zM80.04 151.55h1.00v2.95h-1.00zM82.03 151.55h1.00v2.95h-1.00zM102.98 151.55h1.00v2.95h-1.00zM139.89 151.55h1.00v2.95h-1.00zM180.80 151.55h1.00v2.95h-1.00zM206.73 151.55h1.00v2.95h-1.00zM208.73 151.55h1.00v2.95h-1.00zM330.43 151.55h2.99v2.95h-2.99z"/>
<path fill="#9dd93b" d="M171.82 127.95h1.00v2.95h-1.00zM185.78 127.95h1.00v2.95h-1.00zM293.52 127.95h1.00v2.95h-1.00zM242.65 139.75h1.00v2.95h-1.00zM302.50 139.75h1.00v2.95h-1.00zM302.50 151.55h2.99v2.95h-2.99zM307.49 151.55h2.00v2.95h-2.00zM326.44 151.55h1.00v2.95h-1.00zM329.44 151.55h1.00v2.95h-1.00z"/>
<path fill="#bade28" d="M240.65 139.75h1.00v2.95h-1.00zM310.48 151.55h1.00v2.95h-1.00z"/>
<path fill="#46085c" d="M339.41 220.85h1.00v2.95h-1.00z"/>
<path fill="#48186a" d="M333.43 220.85h1.00v2.95h-1.00zM337.42 220.85h1.00v2.95h-1.00zM340.41 220.85h1.00v2.95h-1.00zM343.40 220.85h1.00v2.95h-1.00z"/>
<path fill="#482576" d="M91.01 220.85h1.00v2.95h-1.00zM98.99 220.85h1.00v2.95h-1.00zM335.42 220.85h2.00v2.95h-2.00z"/>
<path fill="#46337f" d="M102.98 206.10h1.00v2.95h-1.00zM75.05 220.85h1.00v2.95h-1.00zM82.03 220.85h1.00v2.95h-1.00zM95.00 220.85h1.00v2.95h-1.00zM165.83 220.85h1.00v2.95h-1.00zM204.74 220.85h1.00v2.95h-1.00zM239.65 220.85h1.00v2.95h-1.00zM252.62 220.85h1.00v2.95h-1.00zM292.53 220.85h1.00v2.95h-1.00zM295.52 220.85h2.00v2.95h-2.00zM332.43 220.85h1.00v2.95h-1.00zM334.42 220.85h1.00v2.95h-1.00z"/>
<path fill="#424086" d="M163.84 188.40h1.00v2.95h-1.00zM341.41 188.40h1.00v2.95h-1.00zM182.79 194.30h1.00v2.95h-1.00zM281.55 194.30h1.00v2.95h-1.00zM296.52 194.30h1.00v2.95h-1.00zM90.02 206.10h1.00v2.95h-1.00zM212.72 209.05h1.00v2.95h-1.00zM243.64 209.05h1.00v2.95h-1.00zM315.47 209.05h2.00v2.95h-2.00zM90.02 220.85h1.00v2.95h-1.00zM96.00 220.85h1.00v2.95h-1.00zM113.96 220.85h1.00v2.95h-1.00zM132.91 220.85h1.00v2.95h-1.00zM140.89 220.85h1.00v2.95h-1.00zM142.89 220.85h1.00v2.95h-1.00zM149.87 220.85h1.00v2.95h-1.00zM195.76 220.85h1.00v2.95h-1.00zM205.74 220.85h2.00v2.95h-2.00zM209.73 220.85h1.00v2.95h-1.00zM237.66 220.85h2.00v2.95h-2.00zM250.63 220.85h1.00v2.95h-1.00zM264.59 220.85h1.00v2.95h-1.00zM287.54 220.85h1.00v2.95h-1.00zM316.47 220.85h1.00v2.95h-1.00zM323.45 220.85h1.00v2.95h-1.00zM331.43 220.85h1.00v2.95h-1.00zM338.41 220.85h1.00v2.95h-1.00zM341.41 220.85h2.00v2.95h-2.00z"/>
<path fill="#3e4c8a" d="M74.05 182.50h1.00v2.95h-1.00zM84.03 182.50h1.00v2.95h-1.00zM92.01 182.50h1.00v2.95h-1.00zM287.54 182.50h1.00v2.95h-1.00zM56.10 188.40h1.00v2.95h-1.00zM252.62 188.40h1.00v2.95h-1.00zM340.41 188.40h1.00v2.95h-1.00zM342.40 188.40h2.00v2.95h-2.00zM60.09 194.30h1.00v2.95h-1.00zM183.79 194.30h1.00v2.95h-1.00zM291.53 194.30h1.00v2.95h-1.00zM294.52 194.30h2.00v2.95h-2.00zM128.92 200.20h1.00v2.95h-1.00zM57.10 206.10h1.00v2.95h-1.00zM93.01 206.10h1.00v2.95h-1.00zM212.72 206.10h1.00v2.95h-1.00zM291.53 206.10h1.00v2.95h-1.00zM300.51 206.10h1.00v2.95h-1.00zM57.10 209.05h1.00v2.95h-1.00zM196.76 209.05h1.00v2.95h-1.00zM213.72 209.05h1.00v2.95h-1.00zM226.68 209.05h1.00v2.95h-1.00zM252.62 209.05h1.00v2.95h-1.00zM311.48 209.05h1.00v2.95h-1.00zM111.96 214.95h1.00v2.95h-1.00zM57.10 220.85h1.00v2.95h-1.00zM60.09 220.85h1.00v2.95h-1.00zM73.06 220.85h2.00v2.95h-2.00zM76.05 220.85h1.00v2.95h-1.00zM83.03 220.85h2.00v2.95h-2.00zM87.02 220.85h1.00v2.95h-1.00zM93.01 220.85h2.00v2.95h-2.00zM97.00 220.85h2.00v2.95h-2.00zM99.99 220.85h1.00v2.95h-1.00zM103.98 220.85h1.00v2.95h-1.00zM126.93 220.85h2.00v2.95h-2.00zM130.92 220.85h2.00v2.95h-2.00zM133.91 220.85h1.00v2.95h-1.00zM141.89 220.85h1.00v2.95h-1.00zM143.89 220.85h2.00v2.95h-2.00zM160.84 220.85h1.00v2.95h-1.00zM196.76 220.85h1.00v2.95h-1.00zM200.75 220.85h2.00v2.95h-2.00zM207.73 220.85h1.00v2.95h-1.00zM216.71 220.85h2.00v2.95h-2.00zM223.69 220.85h1.00v2.95h-1.00zM231.67 220.85h1.00v2.95h-1.00zM234.67 220.85h2.00v2.95h-2.00zM240.65 220.85h1.00v2.95h-1.00zM243.64 220.85h1.00v2.95h-1.00zM245.64 220.85h1.00v2.95h-1.00zM258.61 220.85h1.00v2.95h-1.00zM266.59 220.85h2.00v2.95h-2.00zM290.53 220.85h2.00v2.95h-2.00zM293.52 220.85h2.00v2.95h-2.00zM297.51 220.85h1.00v2.95h-1.00zM299.51 220.85h1.00v2.95h-1.00zM318.46 220.85h1.00v2.95h-1.00zM324.45 220.85h1.00v2.95h-1.00zM326.44 220.85h2.00v2.95h-2.00z"/>
<path fill="#38588c" d="M57.10 182.50h1.00v2.95h-1.00zM85.03 182.50h1.00v2.95h-1.00zM98.99 182.50h1.00v2.95h-1.00zM110.96 182.50h1.00v2.95h-1.00zM139.89 182.50h1.00v2.95h-1.00zM152.86 182.50h1.00v2.95h-1.00zM220.70 182.50h1.00v2.95h-1.00zM288.54 182.50h1.00v2.95h-1.00zM303.50 182.50h1.00v2.95h-1.00zM305.49 182.50h1.00v2.95h-1.00zM113.96 185.45h1.00v2.95h-1.00zM267.59 185.45h1.00v2.95h-1.00zM292.53 185.45h1.00v2.95h-1.00zM328.44 185.45h1.00v2.95h-1.00zM58.09 188.40h1.00v2.95h-1.00zM173.81 188.40h1.00v2.95h-1.00zM332.43 188.40h2.00v2.95h-2.00zM56.10 194.30h1.00v2.95h-1.00zM71.06 194.30h1.00v2.95h-1.00zM184.79 194.30h1.00v2.95h-1.00zM193.76 194.30h1.00v2.95h-1.00zM269.58 194.30h1.00v2.95h-1.00zM282.55 194.30h1.00v2.95h-1.00zM212.72 197.25h1.00v2.95h-1.00zM129.92 200.20h1.00v2.95h-1.00zM211.72 200.20h2.00v2.95h-2.00zM215.71 200.20h1.00v2.95h-1.00zM91.01 206.10h1.00v2.95h-1.00zM103.98 206.10h1.00v2.95h-1.00zM105.98 206.10h1.00v2.95h-1.00zM110.96 206.10h1.00v2.95h-1.00zM289.53 206.10h1.00v2.95h-1.00zM294.52 206.10h1.00v2.95h-1.00zM297.51 206.10h1.00v2.95h-1.00zM299.51 206.10h1.00v2.95h-1.00zM55.10 209.05h1.00v2.95h-1.00zM98.99 209.05h1.00v2.95h-1.00zM104.98 209.05h1.00v2.95h-1.00zM107.97 209.05h1.00v2.95h-1.00zM122.94 209.05h1.00v2.95h-1.00zM144.88 209.05h1.00v2.95h-1.00zM149.87 209.05h1.00v2.95h-1.00zM182.79 209.05h1.00v2.95h-1.00zM208.73 209.05h1.00v2.95h-1.00zM211.72 209.05h1.00v2.95h-1.00zM223.69 209.05h1.00v2.95h-1.00zM230.68 209.05h1.00v2.95h-1.00zM238.66 209.05h1.00v2.95h-1.00zM242.65 209.05h1.00v2.95h-1.00zM298.51 209.05h1.00v2.95h-1.00zM310.48 209.05h1.00v2.95h-1.00zM317.47 209.05h1.00v2.95h-1.00zM320.46 209.05h1.00v2.95h-1.00zM335.42 209.05h1.00v2.95h-1.00zM337.42 209.05h1.00v2.95h-1.00zM342.40 209.05h1.00v2.95h-1.00zM113.96 214.95h1.00v2.95h-1.00zM118.95 214.95h1.00v2.95h-1.00zM135.90 214.95h1.00v2.95h-1.00zM55.10 220.85h1.00v2.95h-1.00zM59.09 220.85h1.00v2.95h-1.00zM64.08 220.85h2.00v2.95h-2.00zM72.06 220.85h1.00v2.95h-1.00zM77.05 220.85h1.00v2.95h-1.00zM88.02 220.85h1.00v2.95h-1.00zM92.01 220.85h1.00v2.95h-1.00zM100.99 220.85h1.00v2.95h-1.00zM104.98 220.85h1.00v2.95h-1.00zM119.94 220.85h1.00v2.95h-1.00zM124.93 220.85h1.00v2.95h-1.00zM135.90 220.85h1.00v2.95h-1.00zM148.87 220.85h1.00v2.95h-1.00zM158.85 220.85h1.00v2.95h-1.00zM163.84 220.85h2.00v2.95h-2.00zM166.83 220.85h2.00v2.95h-2.00zM170.82 220.85h1.00v2.95h-1.00zM179.80 220.85h2.00v2.95h-2.00zM192.77 220.85h1.00v2.95h-1.00zM203.74 220.85h1.00v2.95h-1.00zM211.72 220.85h1.00v2.95h-1.00zM224.69 220.85h1.00v2.95h-1.00zM227.68 220.85h1.00v2.95h-1.00zM233.67 220.85h1.00v2.95h-1.00zM241.65 220.85h1.00v2.95h-1.00zM256.61 220.85h1.00v2.95h-1.00zM263.60 220.85h1.00v2.95h-1.00zM270.58 220.85h1.00v2.95h-1.00zM281.55 220.85h1.00v2.95h-1.00zM283.55 220.85h1.00v2.95h-1.00zM289.53 220.85h1.00v2.95h-1.00zM313.47 220.85h1.00v2.95h-1.00zM315.47 220.85h1.00v2.95h-1.00zM320.46 220.85h1.00v2.95h-1.00zM328.44 220.85h2.99v2.95h-2.99zM65.08 223.80h1.00v2.95h-1.00zM108.97 226.75h1.00v2.95h-1.00z"/>
<path fill="#33638d" d="M60.09 182.50h1.00v2.95h-1.00zM71.06 182.50h2.99v2.95h-2.99zM78.04 182.50h1.00v2.95h-1.00zM82.03 182.50h2.00v2.95h-2.00zM87.02 182.50h1.00v2.95h-1.00zM89.02 182.50h2.99v2.95h-2.99zM93.01 182.50h1.00v2.95h-1.00zM99.99 182.50h1.00v2.95h-1.00zM102.98 182.50h2.00v2.95h-2.00zM105.98 182.50h1.00v2.95h-1.00zM141.89 182.50h1.00v2.95h-1.00zM144.88 182.50h1.00v2.95h-1.00zM182.79 182.50h1.00v2.95h-1.00zM212.72 182.50h1.00v2.95h-1.00zM215.71 182.50h1.00v2.95h-1.00zM222.69 182.50h1.00v2.95h-1.00zM243.64 182.50h1.00v2.95h-1.00zM290.53 182.50h1.00v2.95h-1.00zM293.52 182.50h1.00v2.95h-1.00zM311.48 182.50h1.00v2.95h-1.00zM343.40 182.50h1.00v2.95h-1.00zM83.03 185.45h2.00v2.95h-2.00zM114.96 185.45h1.00v2.95h-1.00zM119.94 185.45h1.00v2.95h-1.00zM128.92 185.45h1.00v2.95h-1.00zM288.54 185.45h1.00v2.95h-1.00zM290.53 185.45h1.00v2.95h-1.00zM293.52 185.45h1.00v2.95h-1.00zM326.44 185.45h1.00v2.95h-1.00zM333.43 185.45h1.00v2.95h-1.00zM55.10 188.40h1.00v2.95h-1.00zM62.08 188.40h1.00v2.95h-1.00zM71.06 188.40h1.00v2.95h-1.00zM82.03 188.40h1.00v2.95h-1.00zM166.83 188.40h1.00v2.95h-1.00zM183.79 188.40h1.00v2.95h-1.00zM243.64 188.40h1.00v2.95h-1.00zM250.63 188.40h2.00v2.95h-2.00zM253.62 188.40h2.99v2.95h-2.99zM258.61 188.40h1.00v2.95h-1.00zM315.47 188.40h1.00v2.95h-1.00zM339.41 188.40h1.00v2.95h-1.00zM59.09 194.30h1.00v2.95h-1.00zM72.06 194.30h1.00v2.95h-1.00zM96.00 194.30h1.00v2.95h-1.00zM98.99 194.30h1.00v2.95h-1.00zM107.97 194.30h2.00v2.95h-2.00zM185.78 194.30h2.00v2.95h-2.00zM196.76 194.30h1.00v2.95h-1.00zM199.75 194.30h1.00v2.95h-1.00zM254.62 194.30h1.00v2.95h-1.00zM268.58 194.30h1.00v2.95h-1.00zM283.55 194.30h1.00v2.95h-1.00zM288.54 194.30h1.00v2.95h-1.00zM292.53 194.30h1.00v2.95h-1.00zM319.46 194.30h1.00v2.95h-1.00zM333.43 194.30h1.00v2.95h-1.00zM104.98 200.20h1.00v2.95h-1.00zM127.92 200.20h1.00v2.95h-1.00zM210.72 200.20h1.00v2.95h-1.00zM214.71 200.20h1.00v2.95h-1.00zM124.93 203.15h1.00v2.95h-1.00zM127.92 203.15h1.00v2.95h-1.00zM304.50 203.15h1.00v2.95h-1.00zM55.10 206.10h1.00v2.95h-1.00zM89.02 206.10h1.00v2.95h-1.00zM96.00 206.10h1.00v2.95h-1.00zM98.00 206.10h1.00v2.95h-1.00zM99.99 206.10h1.00v2.95h-1.00zM101.99 206.10h1.00v2.95h-1.00zM104.98 206.10h1.00v2.95h-1.00zM119.94 206.10h1.00v2.95h-1.00zM209.73 206.10h1.00v2.95h-1.00zM215.71 206.10h1.00v2.95h-1.00zM230.68 206.10h1.00v2.95h-1.00zM269.58 206.10h2.00v2.95h-2.00zM281.55 206.10h1.00v2.95h-1.00zM287.54 206.10h1.00v2.95h-1.00zM295.52 206.10h1.00v2.95h-1.00zM298.51 206.10h1.00v2.95h-1.00zM303.50 206.10h1.00v2.95h-1.00zM323.45 206.10h1.00v2.95h-1.00zM341.41 206.10h1.00v2.95h-1.00zM56.10 209.05h1.00v2.95h-1.00zM58.09 209.05h2.99v2.95h-2.99zM85.03 209.05h1.00v2.95h-1.00zM95.00 209.05h1.00v2.95h-1.00zM111.96 209.05h1.00v2.95h-1.00zM120.94 209.05h1.00v2.95h-1.00zM124.93 209.05h1.00v2.95h-1.00zM127.92 209.05h2.99v2.95h-2.99zM139.89 209.05h1.00v2.95h-1.00zM143.89 209.05h1.00v2.95h-1.00zM145.88 209.05h1.00v2.95h-1.00zM152.86 209.05h1.00v2.95h-1.00zM191.77 209.05h1.00v2.95h-1.00zM195.76 209.05h1.00v2.95h-1.00zM203.74 209.05h1.00v2.95h-1.00zM209.73 209.05h2.00v2.95h-2.00zM227.68 209.05h2.00v2.95h-2.00zM231.67 209.05h1.00v2.95h-1.00zM240.65 209.05h1.00v2.95h-1.00zM244.64 209.05h1.00v2.95h-1.00zM269.58 209.05h1.00v2.95h-1.00zM303.50 209.05h1.00v2.95h-1.00zM305.49 209.05h1.00v2.95h-1.00zM313.47 209.05h2.00v2.95h-2.00zM318.46 209.05h1.00v2.95h-1.00zM332.43 209.05h1.00v2.95h-1.00zM341.41 209.05h1.00v2.95h-1.00zM103.98 214.95h1.00v2.95h-1.00zM115.95 214.95h1.00v2.95h-1.00zM56.10 220.85h1.00v2.95h-1.00zM58.09 220.85h1.00v2.95h-1.00zM71.06 220.85h1.00v2.95h-1.00zM81.04 220.85h1.00v2.95h-1.00zM86.03 220.85h1.00v2.95h-1.00zM107.97 220.85h1.00v2.95h-1.00zM111.96 220.85h2.00v2.95h-2.00zM114.96 220.85h1.00v2.95h-1.00zM122.94 220.85h1.00v2.95h-1.00zM129.92 220.85h1.00v2.95h-1.00zM134.91 220.85h1.00v2.95h-1.00zM136.90 220.85h1.00v2.95h-1.00zM139.89 220.85h1.00v2.95h-1.00zM182.79 220.85h1.00v2.95h-1.00zM186.78 220.85h1.00v2.95h-1.00zM189.77 220.85h1.00v2.95h-1.00zM193.76 220.85h1.00v2.95h-1.00zM208.73 220.85h1.00v2.95h-1.00zM210.72 220.85h1.00v2.95h-1.00zM212.72 220.85h1.00v2.95h-1.00zM218.70 220.85h1.00v2.95h-1.00zM220.70 220.85h1.00v2.95h-1.00zM228.68 220.85h1.00v2.95h-1.00zM230.68 220.85h1.00v2.95h-1.00zM232.67 220.85h1.00v2.95h-1.00zM236.66 220.85h1.00v2.95h-1.00zM244.64 220.85h1.00v2.95h-1.00zM249.63 220.85h1.00v2.95h-1.00zM251.62 220.85h1.00v2.95h-1.00zM254.62 220.85h1.00v2.95h-1.00zM257.61 220.85h1.00v2.95h-1.00zM269.58 220.85h1.00v2.95h-1.00zM278.56 220.85h1.00v2.95h-1.00zM282.55 220.85h1.00v2.95h-1.00zM286.54 220.85h1.00v2.95h-1.00zM298.51 220.85h1.00v2.95h-1.00zM311.48 220.85h1.00v2.95h-1.00zM319.46 220.85h1.00v2.95h-1.00zM321.46 220.85h1.00v2.95h-1.00zM261.60 226.75h1.00v2.95h-1.00zM328.44 226.75h1.00v2.95h-1.00zM341.41 226.75h2.00v2.95h-2.00z"/>
<path fill="#2e6d8e" d="M56.10 182.50h1.00v2.95h-1.00zM58.09 182.50h1.00v2.95h-1.00zM70.06 182.50h1.00v2.95h-1.00zM79.04 182.50h1.00v2.95h-1.00zM81.04 182.50h1.00v2.95h-1.00zM94.01 182.50h1.00v2.95h-1.00zM98.00 182.50h1.00v2.95h-1.00zM100.99 182.50h1.00v2.95h-1.00zM104.98 182.50h1.00v2.95h-1.00zM106.97 182.50h2.00v2.95h-2.00zM111.96 182.50h1.00v2.95h-1.00zM129.92 182.50h1.00v2.95h-1.00zM140.89 182.50h1.00v2.95h-1.00zM143.89 182.50h1.00v2.95h-1.00zM151.87 182.50h1.00v2.95h-1.00zM153.86 182.50h1.00v2.95h-1.00zM178.80 182.50h1.00v2.95h-1.00zM181.79 182.50h1.00v2.95h-1.00zM183.79 182.50h1.00v2.95h-1.00zM205.74 182.50h1.00v2.95h-1.00zM211.72 182.50h1.00v2.95h-1.00zM213.72 182.50h1.00v2.95h-1.00zM218.70 182.50h2.00v2.95h-2.00zM221.70 182.50h1.00v2.95h-1.00zM226.68 182.50h1.00v2.95h-1.00zM228.68 182.50h1.00v2.95h-1.00zM230.68 182.50h2.00v2.95h-2.00zM255.61 182.50h2.99v2.95h-2.99zM259.61 182.50h2.00v2.95h-2.00zM271.58 182.50h1.00v2.95h-1.00zM292.53 182.50h1.00v2.95h-1.00zM300.51 182.50h1.00v2.95h-1.00zM304.50 182.50h1.00v2.95h-1.00zM309.48 182.50h1.00v2.95h-1.00zM324.45 182.50h1.00v2.95h-1.00zM326.44 182.50h1.00v2.95h-1.00zM332.43 182.50h1.00v2.95h-1.00zM337.42 182.50h1.00v2.95h-1.00zM339.41 182.50h3.99v2.95h-3.99zM63.08 185.45h1.00v2.95h-1.00zM100.99 185.45h1.00v2.95h-1.00zM116.95 185.45h1.00v2.95h-1.00zM118.95 185.45h1.00v2.95h-1.00zM200.75 185.45h1.00v2.95h-1.00zM280.55 185.45h1.00v2.95h-1.00zM287.54 185.45h1.00v2.95h-1.00zM291.53 185.45h1.00v2.95h-1.00zM310.48 185.45h1.00v2.95h-1.00zM325.45 185.45h1.00v2.95h-1.00zM331.43 185.45h1.00v2.95h-1.00zM334.42 185.45h1.00v2.95h-1.00zM337.42 185.45h1.00v2.95h-1.00zM57.10 188.40h1.00v2.95h-1.00zM126.93 188.40h1.00v2.95h-1.00zM160.84 188.40h1.00v2.95h-1.00zM182.79 188.40h1.00v2.95h-1.00zM186.78 188.40h1.00v2.95h-1.00zM189.77 188.40h1.00v2.95h-1.00zM212.72 188.40h1.00v2.95h-1.00zM249.63 188.40h1.00v2.95h-1.00zM256.61 188.40h1.00v2.95h-1.00zM264.59 188.40h1.00v2.95h-1.00zM275.57 188.40h1.00v2.95h-1.00zM311.48 188.40h1.00v2.95h-1.00zM313.47 188.40h1.00v2.95h-1.00zM331.43 188.40h1.00v2.95h-1.00zM334.42 188.40h1.00v2.95h-1.00zM337.42 188.40h2.00v2.95h-2.00zM103.98 191.35h2.00v2.95h-2.00zM110.96 191.35h1.00v2.95h-1.00zM181.79 191.35h1.00v2.95h-1.00zM192.77 191.35h1.00v2.95h-1.00zM275.57 191.35h1.00v2.95h-1.00zM286.54 191.35h2.00v2.95h-2.00zM57.10 194.30h1.00v2.95h-1.00zM64.08 194.30h2.00v2.95h-2.00zM70.06 194.30h1.00v2.95h-1.00zM74.05 194.30h1.00v2.95h-1.00zM93.01 194.30h1.00v2.95h-1.00zM106.97 194.30h1.00v2.95h-1.00zM118.95 194.30h2.00v2.95h-2.00zM122.94 194.30h1.00v2.95h-1.00zM125.93 194.30h1.00v2.95h-1.00zM128.92 194.30h2.00v2.95h-2.00zM133.91 194.30h1.00v2.95h-1.00zM149.87 194.30h1.00v2.95h-1.00zM152.86 194.30h1.00v2.95h-1.00zM179.80 194.30h1.00v2.95h-1.00zM181.79 194.30h1.00v2.95h-1.00zM194.76 194.30h1.00v2.95h-1.00zM200.75 194.30h1.00v2.95h-1.00zM204.74 194.30h1.00v2.95h-1.00zM267.59 194.30h1.00v2.95h-1.00zM270.58 194.30h1.00v2.95h-1.00zM273.57 194.30h1.00v2.95h-1.00zM275.57 194.30h1.00v2.95h-1.00zM280.55 194.30h1.00v2.95h-1.00zM286.54 194.30h2.00v2.95h-2.00zM309.48 194.30h2.00v2.95h-2.00zM317.47 194.30h1.00v2.95h-1.00zM335.42 194.30h1.00v2.95h-1.00zM102.98 197.25h1.00v2.95h-1.00zM215.71 197.25h1.00v2.95h-1.00zM60.09 200.20h1.00v2.95h-1.00zM122.94 200.20h2.00v2.95h-2.00zM126.93 200.20h1.00v2.95h-1.00zM130.92 200.20h1.00v2.95h-1.00zM179.80 200.20h1.00v2.95h-1.00zM204.74 200.20h1.00v2.95h-1.00zM227.68 200.20h1.00v2.95h-1.00zM95.00 206.10h1.00v2.95h-1.00zM98.99 206.10h1.00v2.95h-1.00zM107.97 206.10h2.00v2.95h-2.00zM116.95 206.10h2.99v2.95h-2.99zM192.77 206.10h1.00v2.95h-1.00zM210.72 206.10h1.00v2.95h-1.00zM218.70 206.10h1.00v2.95h-1.00zM220.70 206.10h1.00v2.95h-1.00zM243.64 206.10h1.00v2.95h-1.00zM254.62 206.10h1.00v2.95h-1.00zM286.54 206.10h1.00v2.95h-1.00zM288.54 206.10h1.00v2.95h-1.00zM290.53 206.10h1.00v2.95h-1.00zM292.53 206.10h2.00v2.95h-2.00zM296.52 206.10h1.00v2.95h-1.00zM301.50 206.10h2.00v2.95h-2.00zM317.47 206.10h1.00v2.95h-1.00zM322.45 206.10h1.00v2.95h-1.00zM337.42 206.10h1.00v2.95h-1.00zM343.40 206.10h1.00v2.95h-1.00zM81.04 209.05h1.00v2.95h-1.00zM84.03 209.05h1.00v2.95h-1.00zM86.03 209.05h1.00v2.95h-1.00zM93.01 209.05h1.00v2.95h-1.00zM97.00 209.05h1.00v2.95h-1.00zM99.99 209.05h1.00v2.95h-1.00zM105.98 209.05h1.00v2.95h-1.00zM110.96 209.05h1.00v2.95h-1.00zM130.92 209.05h1.00v2.95h-1.00zM141.89 209.05h1.00v2.95h-1.00zM150.87 209.05h2.00v2.95h-2.00zM173.81 209.05h2.00v2.95h-2.00zM177.80 209.05h2.00v2.95h-2.00zM183.79 209.05h1.00v2.95h-1.00zM204.74 209.05h1.00v2.95h-1.00zM214.71 209.05h2.99v2.95h-2.99zM218.70 209.05h1.00v2.95h-1.00zM225.69 209.05h1.00v2.95h-1.00zM229.68 209.05h1.00v2.95h-1.00zM236.66 209.05h1.00v2.95h-1.00zM245.64 209.05h1.00v2.95h-1.00zM248.63 209.05h2.00v2.95h-2.00zM261.60 209.05h1.00v2.95h-1.00zM280.55 209.05h1.00v2.95h-1.00zM293.52 209.05h1.00v2.95h-1.00zM295.52 209.05h1.00v2.95h-1.00zM300.51 209.05h1.00v2.95h-1.00zM302.50 209.05h1.00v2.95h-1.00zM304.50 209.05h1.00v2.95h-1.00zM307.49 209.05h1.00v2.95h-1.00zM309.48 209.05h1.00v2.95h-1.00zM312.48 209.05h1.00v2.95h-1.00zM319.46 209.05h1.00v2.95h-1.00zM322.45 209.05h1.00v2.95h-1.00zM336.42 209.05h1.00v2.95h-1.00zM343.40 209.05h1.00v2.95h-1.00zM75.05 214.95h2.00v2.95h-2.00zM102.98 214.95h1.00v2.95h-1.00zM112.96 214.95h1.00v2.95h-1.00zM134.91 214.95h1.00v2.95h-1.00zM149.87 214.95h1.00v2.95h-1.00zM237.66 214.95h1.00v2.95h-1.00zM333.43 214.95h1.00v2.95h-1.00zM61.09 220.85h1.00v2.95h-1.00zM63.08 220.85h1.00v2.95h-1.00zM66.07 220.85h2.00v2.95h-2.00zM69.07 220.85h2.00v2.95h-2.00zM78.04 220.85h1.00v2.95h-1.00zM80.04 220.85h1.00v2.95h-1.00zM89.02 220.85h1.00v2.95h-1.00zM101.99 220.85h1.00v2.95h-1.00zM108.97 220.85h1.00v2.95h-1.00zM110.96 220.85h1.00v2.95h-1.00zM120.94 220.85h1.00v2.95h-1.00zM123.93 220.85h1.00v2.95h-1.00zM125.93 220.85h1.00v2.95h-1.00zM128.92 220.85h1.00v2.95h-1.00zM145.88 220.85h1.00v2.95h-1.00zM154.86 220.85h1.00v2.95h-1.00zM157.85 220.85h1.00v2.95h-1.00zM159.85 220.85h1.00v2.95h-1.00zM161.84 220.85h2.00v2.95h-2.00zM168.82 220.85h1.00v2.95h-1.00zM172.82 220.85h2.00v2.95h-2.00zM187.78 220.85h2.00v2.95h-2.00zM190.77 220.85h2.00v2.95h-2.00zM194.76 220.85h1.00v2.95h-1.00zM198.75 220.85h2.00v2.95h-2.00zM213.72 220.85h1.00v2.95h-1.00zM215.71 220.85h1.00v2.95h-1.00zM219.70 220.85h1.00v2.95h-1.00zM221.70 220.85h1.00v2.95h-1.00zM225.69 220.85h2.00v2.95h-2.00zM242.65 220.85h1.00v2.95h-1.00zM247.63 220.85h2.00v2.95h-2.00zM253.62 220.85h1.00v2.95h-1.00zM255.61 220.85h1.00v2.95h-1.00zM259.61 220.85h1.00v2.95h-1.00zM262.60 220.85h1.00v2.95h-1.00zM268.58 220.85h1.00v2.95h-1.00zM271.58 220.85h2.00v2.95h-2.00zM276.56 220.85h1.00v2.95h-1.00zM280.55 220.85h1.00v2.95h-1.00zM285.54 220.85h1.00v2.95h-1.00zM288.54 220.85h1.00v2.95h-1.00zM310.48 220.85h1.00v2.95h-1.00zM314.47 220.85h1.00v2.95h-1.00zM317.47 220.85h1.00v2.95h-1.00zM322.45 220.85h1.00v2.95h-1.00zM71.06 223.80h1.00v2.95h-1.00zM93.01 223.80h1.00v2.95h-1.00zM104.98 223.80h1.00v2.95h-1.00zM269.58 223.80h1.00v2.95h-1.00zM307.49 223.80h1.00v2.95h-1.00zM122.94 226.75h1.00v2.95h-1.00zM175.81 226.75h1.00v2.95h-1.00zM277.56 226.75h1.00v2.95h-1.00zM280.55 226.75h1.00v2.95h-1.00zM293.52 226.75h1.00v2.95h-1.00zM326.44 226.75h1.00v2.95h-1.00z"/>
<path fill="#2a778e" d="M55.10 182.50h1.00v2.95h-1.00zM61.09 182.50h2.00v2.95h-2.00zM67.07 182.50h1.00v2.95h-1.00zM76.05 182.50h1.00v2.95h-1.00zM88.02 182.50h1.00v2.95h-1.00zM97.00 182.50h1.00v2.95h-1.00zM101.99 182.50h1.00v2.95h-1.00zM108.97 182.50h1.00v2.95h-1.00zM124.93 182.50h1.00v2.95h-1.00zM128.92 182.50h1.00v2.95h-1.00zM130.92 182.50h2.00v2.95h-2.00zM135.90 182.50h1.00v2.95h-1.00zM138.90 182.50h1.00v2.95h-1.00zM147.88 182.50h2.00v2.95h-2.00zM154.86 182.50h1.00v2.95h-1.00zM156.85 182.50h1.00v2.95h-1.00zM158.85 182.50h1.00v2.95h-1.00zM170.82 182.50h1.00v2.95h-1.00zM180.80 182.50h1.00v2.95h-1.00zM186.78 182.50h1.00v2.95h-1.00zM188.78 182.50h1.00v2.95h-1.00zM199.75 182.50h1.00v2.95h-1.00zM206.73 182.50h1.00v2.95h-1.00zM210.72 182.50h1.00v2.95h-1.00zM217.71 182.50h1.00v2.95h-1.00zM223.69 182.50h1.00v2.95h-1.00zM234.67 182.50h1.00v2.95h-1.00zM248.63 182.50h1.00v2.95h-1.00zM254.62 182.50h1.00v2.95h-1.00zM273.57 182.50h1.00v2.95h-1.00zM286.54 182.50h1.00v2.95h-1.00zM295.52 182.50h1.00v2.95h-1.00zM297.51 182.50h1.00v2.95h-1.00zM299.51 182.50h1.00v2.95h-1.00zM306.49 182.50h2.00v2.95h-2.00zM318.46 182.50h1.00v2.95h-1.00zM322.45 182.50h2.00v2.95h-2.00zM333.43 182.50h2.00v2.95h-2.00zM338.41 182.50h1.00v2.95h-1.00zM58.09 185.45h1.00v2.95h-1.00zM65.08 185.45h2.00v2.95h-2.00zM69.07 185.45h1.00v2.95h-1.00zM71.06 185.45h1.00v2.95h-1.00zM77.05 185.45h1.00v2.95h-1.00zM82.03 185.45h1.00v2.95h-1.00zM99.99 185.45h1.00v2.95h-1.00zM110.96 185.45h2.00v2.95h-2.00zM117.95 185.45h1.00v2.95h-1.00zM125.93 185.45h1.00v2.95h-1.00zM127.92 185.45h1.00v2.95h-1.00zM132.91 185.45h2.00v2.95h-2.00zM178.80 185.45h1.00v2.95h-1.00zM194.76 185.45h1.00v2.95h-1.00zM215.71 185.45h1.00v2.95h-1.00zM268.58 185.45h1.00v2.95h-1.00zM272.57 185.45h1.00v2.95h-1.00zM276.56 185.45h1.00v2.95h-1.00zM281.55 185.45h1.00v2.95h-1.00zM286.54 185.45h1.00v2.95h-1.00zM289.53 185.45h1.00v2.95h-1.00zM305.49 185.45h1.00v2.95h-1.00zM307.49 185.45h1.00v2.95h-1.00zM324.45 185.45h1.00v2.95h-1.00zM327.44 185.45h1.00v2.95h-1.00zM332.43 185.45h1.00v2.95h-1.00zM340.41 185.45h1.00v2.95h-1.00zM342.40 185.45h1.00v2.95h-1.00zM59.09 188.40h2.00v2.95h-2.00zM80.04 188.40h1.00v2.95h-1.00zM83.03 188.40h2.00v2.95h-2.00zM88.02 188.40h1.00v2.95h-1.00zM125.93 188.40h1.00v2.95h-1.00zM139.89 188.40h1.00v2.95h-1.00zM143.89 188.40h2.00v2.95h-2.00zM148.87 188.40h1.00v2.95h-1.00zM164.83 188.40h2.00v2.95h-2.00zM185.78 188.40h1.00v2.95h-1.00zM205.74 188.40h1.00v2.95h-1.00zM208.73 188.40h1.00v2.95h-1.00zM226.68 188.40h1.00v2.95h-1.00zM236.66 188.40h1.00v2.95h-1.00zM267.59 188.40h1.00v2.95h-1.00zM271.58 188.40h1.00v2.95h-1.00zM297.51 188.40h2.99v2.95h-2.99zM306.49 188.40h1.00v2.95h-1.00zM312.48 188.40h1.00v2.95h-1.00zM316.47 188.40h1.00v2.95h-1.00zM320.46 188.40h1.00v2.95h-1.00zM322.45 188.40h2.99v2.95h-2.99zM330.43 188.40h1.00v2.95h-1.00zM71.06 191.35h1.00v2.95h-1.00zM98.99 191.35h1.00v2.95h-1.00zM102.98 191.35h1.00v2.95h-1.00zM173.81 191.35h1.00v2.95h-1.00zM186.78 191.35h1.00v2.95h-1.00zM191.77 191.35h1.00v2.95h-1.00zM228.68 191.35h1.00v2.95h-1.00zM239.65 191.35h1.00v2.95h-1.00zM58.09 194.30h1.00v2.95h-1.00zM61.09 194.30h1.00v2.95h-1.00zM63.08 194.30h1.00v2.95h-1.00zM73.06 194.30h1.00v2.95h-1.00zM83.03 194.30h1.00v2.95h-1.00zM97.00 194.30h1.00v2.95h-1.00zM99.99 194.30h1.00v2.95h-1.00zM102.98 194.30h1.00v2.95h-1.00zM111.96 194.30h1.00v2.95h-1.00zM120.94 194.30h2.00v2.95h-2.00zM124.93 194.30h1.00v2.95h-1.00zM126.93 194.30h1.00v2.95h-1.00zM130.92 194.30h1.00v2.95h-1.00zM132.91 194.30h1.00v2.95h-1.00zM153.86 194.30h1.00v2.95h-1.00zM175.81 194.30h1.00v2.95h-1.00zM177.80 194.30h2.00v2.95h-2.00zM192.77 194.30h1.00v2.95h-1.00zM195.76 194.30h1.00v2.95h-1.00zM201.75 194.30h2.00v2.95h-2.00zM211.72 194.30h2.00v2.95h-2.00zM233.67 194.30h1.00v2.95h-1.00zM236.66 194.30h2.99v2.95h-2.99zM240.65 194.30h1.00v2.95h-1.00zM243.64 194.30h2.00v2.95h-2.00zM274.57 194.30h1.00v2.95h-1.00zM285.54 194.30h1.00v2.95h-1.00zM290.53 194.30h1.00v2.95h-1.00zM293.52 194.30h1.00v2.95h-1.00zM297.51 194.30h2.00v2.95h-2.00zM300.51 194.30h1.00v2.95h-1.00zM308.49 194.30h1.00v2.95h-1.00zM311.48 194.30h2.00v2.95h-2.00zM316.47 194.30h1.00v2.95h-1.00zM320.46 194.30h1.00v2.95h-1.00zM334.42 194.30h1.00v2.95h-1.00zM343.40 194.30h1.00v2.95h-1.00zM72.06 197.25h1.00v2.95h-1.00zM76.05 197.25h1.00v2.95h-1.00zM170.82 197.25h1.00v2.95h-1.00zM175.81 197.25h1.00v2.95h-1.00zM200.75 197.25h1.00v2.95h-1.00zM204.74 197.25h1.00v2.95h-1.00zM326.44 197.25h2.00v2.95h-2.00zM337.42 197.25h1.00v2.95h-1.00zM84.03 200.20h1.00v2.95h-1.00zM124.93 200.20h1.00v2.95h-1.00zM176.81 200.20h1.00v2.95h-1.00zM186.78 200.20h1.00v2.95h-1.00zM213.72 200.20h1.00v2.95h-1.00zM217.71 200.20h1.00v2.95h-1.00zM224.69 200.20h1.00v2.95h-1.00zM230.68 200.20h2.00v2.95h-2.00zM233.67 200.20h1.00v2.95h-1.00zM236.66 200.20h1.00v2.95h-1.00zM238.66 200.20h1.00v2.95h-1.00zM240.65 200.20h1.00v2.95h-1.00zM243.64 200.20h1.00v2.95h-1.00zM250.63 200.20h1.00v2.95h-1.00zM261.60 200.20h2.00v2.95h-2.00zM269.58 200.20h1.00v2.95h-1.00zM291.53 200.20h1.00v2.95h-1.00zM298.51 200.20h1.00v2.95h-1.00zM320.46 200.20h1.00v2.95h-1.00zM326.44 200.20h1.00v2.95h-1.00zM334.42 200.20h1.00v2.95h-1.00zM342.40 200.20h2.00v2.95h-2.00zM113.96 203.15h1.00v2.95h-1.00zM123.93 203.15h1.00v2.95h-1.00zM126.93 203.15h1.00v2.95h-1.00zM270.58 203.15h1.00v2.95h-1.00zM276.56 203.15h1.00v2.95h-1.00zM280.55 203.15h1.00v2.95h-1.00zM60.09 206.10h1.00v2.95h-1.00zM62.08 206.10h2.00v2.95h-2.00zM70.06 206.10h1.00v2.95h-1.00zM84.03 206.10h2.00v2.95h-2.00zM92.01 206.10h1.00v2.95h-1.00zM94.01 206.10h1.00v2.95h-1.00zM100.99 206.10h1.00v2.95h-1.00zM106.97 206.10h1.00v2.95h-1.00zM111.96 206.10h1.00v2.95h-1.00zM114.96 206.10h2.00v2.95h-2.00zM128.92 206.10h1.00v2.95h-1.00zM188.78 206.10h1.00v2.95h-1.00zM196.76 206.10h1.00v2.95h-1.00zM213.72 206.10h2.00v2.95h-2.00zM219.70 206.10h1.00v2.95h-1.00zM221.70 206.10h1.00v2.95h-1.00zM233.67 206.10h1.00v2.95h-1.00zM236.66 206.10h1.00v2.95h-1.00zM264.59 206.10h1.00v2.95h-1.00zM268.58 206.10h1.00v2.95h-1.00zM271.58 206.10h1.00v2.95h-1.00zM283.55 206.10h1.00v2.95h-1.00zM285.54 206.10h1.00v2.95h-1.00zM307.49 206.10h1.00v2.95h-1.00zM320.46 206.10h1.00v2.95h-1.00zM327.44 206.10h1.00v2.95h-1.00zM332.43 206.10h1.00v2.95h-1.00zM340.41 206.10h1.00v2.95h-1.00zM71.06 209.05h1.00v2.95h-1.00zM88.02 209.05h1.00v2.95h-1.00zM90.02 209.05h1.00v2.95h-1.00zM98.00 209.05h1.00v2.95h-1.00zM100.99 209.05h3.99v2.95h-3.99zM113.96 209.05h1.00v2.95h-1.00zM126.93 209.05h1.00v2.95h-1.00zM135.90 209.05h1.00v2.95h-1.00zM137.90 209.05h1.00v2.95h-1.00zM140.89 209.05h1.00v2.95h-1.00zM142.89 209.05h1.00v2.95h-1.00zM147.88 209.05h1.00v2.95h-1.00zM153.86 209.05h1.00v2.95h-1.00zM162.84 209.05h1.00v2.95h-1.00zM165.83 209.05h2.00v2.95h-2.00zM170.82 209.05h1.00v2.95h-1.00zM175.81 209.05h2.00v2.95h-2.00zM186.78 209.05h1.00v2.95h-1.00zM192.77 209.05h1.00v2.95h-1.00zM198.75 209.05h1.00v2.95h-1.00zM202.74 209.05h1.00v2.95h-1.00zM205.74 209.05h1.00v2.95h-1.00zM224.69 209.05h1.00v2.95h-1.00zM234.67 209.05h1.00v2.95h-1.00zM237.66 209.05h1.00v2.95h-1.00zM239.65 209.05h1.00v2.95h-1.00zM241.65 209.05h1.00v2.95h-1.00zM246.64 209.05h2.00v2.95h-2.00zM251.62 209.05h1.00v2.95h-1.00zM262.60 209.05h1.00v2.95h-1.00zM267.59 209.05h2.00v2.95h-2.00zM271.58 209.05h1.00v2.95h-1.00zM281.55 209.05h1.00v2.95h-1.00zM283.55 209.05h1.00v2.95h-1.00zM289.53 209.05h1.00v2.95h-1.00zM292.53 209.05h1.00v2.95h-1.00zM296.52 209.05h1.00v2.95h-1.00zM299.51 209.05h1.00v2.95h-1.00zM301.50 209.05h1.00v2.95h-1.00zM321.46 209.05h1.00v2.95h-1.00zM331.43 209.05h1.00v2.95h-1.00zM338.41 209.05h1.00v2.95h-1.00zM340.41 209.05h1.00v2.95h-1.00zM84.03 212.00h1.00v2.95h-1.00zM104.98 212.00h1.00v2.95h-1.00zM110.96 212.00h1.00v2.95h-1.00zM268.58 212.00h1.00v2.95h-1.00zM67.07 214.95h1.00v2.95h-1.00zM82.03 214.95h1.00v2.95h-1.00zM84.03 214.95h1.00v2.95h-1.00zM90.02 214.95h1.00v2.95h-1.00zM98.99 214.95h1.00v2.95h-1.00zM104.98 214.95h1.00v2.95h-1.00zM110.96 214.95h1.00v2.95h-1.00zM114.96 214.95h1.00v2.95h-1.00zM116.95 214.95h1.00v2.95h-1.00zM126.93 214.95h1.00v2.95h-1.00zM129.92 214.95h1.00v2.95h-1.00zM152.86 214.95h1.00v2.95h-1.00zM196.76 214.95h1.00v2.95h-1.00zM221.70 214.95h1.00v2.95h-1.00zM224.69 214.95h2.00v2.95h-2.00zM236.66 214.95h1.00v2.95h-1.00zM243.64 214.95h1.00v2.95h-1.00zM245.64 214.95h1.00v2.95h-1.00zM247.63 214.95h1.00v2.95h-1.00zM258.61 214.95h1.00v2.95h-1.00zM273.57 214.95h1.00v2.95h-1.00zM318.46 214.95h2.99v2.95h-2.99zM62.08 220.85h1.00v2.95h-1.00zM68.07 220.85h1.00v2.95h-1.00zM85.03 220.85h1.00v2.95h-1.00zM102.98 220.85h1.00v2.95h-1.00zM106.97 220.85h1.00v2.95h-1.00zM116.95 220.85h1.00v2.95h-1.00zM118.95 220.85h1.00v2.95h-1.00zM137.90 220.85h1.00v2.95h-1.00zM146.88 220.85h2.00v2.95h-2.00zM150.87 220.85h3.99v2.95h-3.99zM171.82 220.85h1.00v2.95h-1.00zM175.81 220.85h2.00v2.95h-2.00zM178.80 220.85h1.00v2.95h-1.00zM185.78 220.85h1.00v2.95h-1.00zM229.68 220.85h1.00v2.95h-1.00zM260.60 220.85h2.00v2.95h-2.00zM265.59 220.85h1.00v2.95h-1.00zM279.56 220.85h1.00v2.95h-1.00zM301.50 220.85h2.99v2.95h-2.99zM306.49 220.85h1.00v2.95h-1.00zM312.48 220.85h1.00v2.95h-1.00zM325.45 220.85h1.00v2.95h-1.00zM66.07 223.80h1.00v2.95h-1.00zM68.07 223.80h1.00v2.95h-1.00zM70.06 223.80h1.00v2.95h-1.00zM84.03 223.80h1.00v2.95h-1.00zM88.02 223.80h2.00v2.95h-2.00zM106.97 223.80h1.00v2.95h-1.00zM178.80 223.80h1.00v2.95h-1.00zM189.77 223.80h1.00v2.95h-1.00zM191.77 223.80h2.00v2.95h-2.00zM203.74 223.80h1.00v2.95h-1.00zM230.68 223.80h2.00v2.95h-2.00zM268.58 223.80h1.00v2.95h-1.00zM299.51 223.80h1.00v2.95h-1.00zM304.50 223.80h1.00v2.95h-1.00zM311.48 223.80h1.00v2.95h-1.00zM319.46 223.80h1.00v2.95h-1.00zM331.43 223.80h1.00v2.95h-1.00zM337.42 223.80h1.00v2.95h-1.00zM72.06 226.75h1.00v2.95h-1.00zM84.03 226.75h1.00v2.95h-1.00zM94.01 226.75h1.00v2.95h-1.00zM121.94 226.75h1.00v2.95h-1.00zM128.92 226.75h1.00v2.95h-1.00zM133.91 226.75h1.00v2.95h-1.00zM140.89 226.75h1.00v2.95h-1.00zM266.59 226.75h1.00v2.95h-1.00zM275.57 226.75h1.00v2.95h-1.00zM279.56 226.75h1.00v2.95h-1.00zM281.55 226.75h1.00v2.95h-1.00zM283.55 226.75h1.00v2.95h-1.00zM294.52 226.75h1.00v2.95h-1.00zM340.41 226.75h1.00v2.95h-1.00zM343.40 226.75h1.00v2.95h-1.00z"/>
<path fill="#26828e" d="M65.08 182.50h1.00v2.95h-1.00zM68.07 182.50h1.00v2.95h-1.00zM75.05 182.50h1.00v2.95h-1.00zM77.05 182.50h1.00v2.95h-1.00zM86.03 182.50h1.00v2.95h-1.00zM96.00 182.50h1.00v2.95h-1.00zM118.95 182.50h1.00v2.95h-1.00zM125.93 182.50h1.00v2.95h-1.00zM127.92 182.50h1.00v2.95h-1.00zM132.91 182.50h2.00v2.95h-2.00zM137.90 182.50h1.00v2.95h-1.00zM149.87 182.50h2.00v2.95h-2.00zM155.86 182.50h1.00v2.95h-1.00zM157.85 182.50h1.00v2.95h-1.00zM160.84 182.50h1.00v2.95h-1.00zM166.83 182.50h1.00v2.95h-1.00zM179.80 182.50h1.00v2.95h-1.00zM184.79 182.50h2.00v2.95h-2.00zM191.77 182.50h1.00v2.95h-1.00zM193.76 182.50h2.00v2.95h-2.00zM196.76 182.50h1.00v2.95h-1.00zM203.74 182.50h1.00v2.95h-1.00zM207.73 182.50h2.00v2.95h-2.00zM225.69 182.50h1.00v2.95h-1.00zM252.62 182.50h1.00v2.95h-1.00zM261.60 182.50h3.99v2.95h-3.99zM266.59 182.50h1.00v2.95h-1.00zM269.58 182.50h1.00v2.95h-1.00zM275.57 182.50h1.00v2.95h-1.00zM281.55 182.50h2.00v2.95h-2.00zM285.54 182.50h1.00v2.95h-1.00zM289.53 182.50h1.00v2.95h-1.00zM308.49 182.50h1.00v2.95h-1.00zM310.48 182.50h1.00v2.95h-1.00zM316.47 182.50h1.00v2.95h-1.00zM55.10 185.45h1.00v2.95h-1.00zM60.09 185.45h1.00v2.95h-1.00zM85.03 185.45h1.00v2.95h-1.00zM92.01 185.45h1.00v2.95h-1.00zM98.99 185.45h1.00v2.95h-1.00zM122.94 185.45h1.00v2.95h-1.00zM126.93 185.45h1.00v2.95h-1.00zM129.92 185.45h1.00v2.95h-1.00zM131.91 185.45h1.00v2.95h-1.00zM141.89 185.45h1.00v2.95h-1.00zM144.88 185.45h1.00v2.95h-1.00zM188.78 185.45h1.00v2.95h-1.00zM190.77 185.45h3.99v2.95h-3.99zM204.74 185.45h1.00v2.95h-1.00zM220.70 185.45h1.00v2.95h-1.00zM243.64 185.45h1.00v2.95h-1.00zM266.59 185.45h1.00v2.95h-1.00zM269.58 185.45h2.00v2.95h-2.00zM294.52 185.45h1.00v2.95h-1.00zM304.50 185.45h1.00v2.95h-1.00zM306.49 185.45h1.00v2.95h-1.00zM312.48 185.45h1.00v2.95h-1.00zM316.47 185.45h1.00v2.95h-1.00zM329.44 185.45h2.00v2.95h-2.00zM335.42 185.45h2.00v2.95h-2.00zM61.09 188.40h1.00v2.95h-1.00zM63.08 188.40h2.99v2.95h-2.99zM67.07 188.40h1.00v2.95h-1.00zM69.07 188.40h1.00v2.95h-1.00zM73.06 188.40h1.00v2.95h-1.00zM76.05 188.40h1.00v2.95h-1.00zM81.04 188.40h1.00v2.95h-1.00zM90.02 188.40h1.00v2.95h-1.00zM93.01 188.40h2.99v2.95h-2.99zM97.00 188.40h1.00v2.95h-1.00zM98.99 188.40h1.00v2.95h-1.00zM121.94 188.40h1.00v2.95h-1.00zM140.89 188.40h2.00v2.95h-2.00zM158.85 188.40h1.00v2.95h-1.00zM167.83 188.40h1.00v2.95h-1.00zM175.81 188.40h2.00v2.95h-2.00zM178.80 188.40h2.00v2.95h-2.00zM184.79 188.40h1.00v2.95h-1.00zM187.78 188.40h2.00v2.95h-2.00zM191.77 188.40h3.99v2.95h-3.99zM199.75 188.40h2.99v2.95h-2.99zM204.74 188.40h1.00v2.95h-1.00zM219.70 188.40h2.00v2.95h-2.00zM224.69 188.40h1.00v2.95h-1.00zM227.68 188.40h1.00v2.95h-1.00zM233.67 188.40h1.00v2.95h-1.00zM242.65 188.40h1.00v2.95h-1.00zM244.64 188.40h1.00v2.95h-1.00zM257.61 188.40h1.00v2.95h-1.00zM259.61 188.40h1.00v2.95h-1.00zM263.60 188.40h1.00v2.95h-1.00zM265.59 188.40h2.00v2.95h-2.00zM272.57 188.40h2.00v2.95h-2.00zM282.55 188.40h1.00v2.95h-1.00zM296.52 188.40h1.00v2.95h-1.00zM317.47 188.40h2.00v2.95h-2.00zM325.45 188.40h2.00v2.95h-2.00zM328.44 188.40h1.00v2.95h-1.00zM335.42 188.40h1.00v2.95h-1.00zM67.07 191.35h1.00v2.95h-1.00zM70.06 191.35h1.00v2.95h-1.00zM78.04 191.35h1.00v2.95h-1.00zM84.03 191.35h1.00v2.95h-1.00zM100.99 191.35h1.00v2.95h-1.00zM106.97 191.35h1.00v2.95h-1.00zM111.96 191.35h1.00v2.95h-1.00zM114.96 191.35h1.00v2.95h-1.00zM193.76 191.35h2.00v2.95h-2.00zM250.63 191.35h1.00v2.95h-1.00zM268.58 191.35h2.00v2.95h-2.00zM288.54 191.35h2.00v2.95h-2.00zM293.52 191.35h1.00v2.95h-1.00zM295.52 191.35h2.99v2.95h-2.99zM315.47 191.35h1.00v2.95h-1.00zM320.46 191.35h1.00v2.95h-1.00zM332.43 191.35h1.00v2.95h-1.00zM62.08 194.30h1.00v2.95h-1.00zM67.07 194.30h1.00v2.95h-1.00zM75.05 194.30h4.99v2.95h-4.99zM104.98 194.30h2.00v2.95h-2.00zM114.96 194.30h1.00v2.95h-1.00zM123.93 194.30h1.00v2.95h-1.00zM127.92 194.30h1.00v2.95h-1.00zM137.90 194.30h1.00v2.95h-1.00zM141.89 194.30h2.99v2.95h-2.99zM160.84 194.30h2.00v2.95h-2.00zM165.83 194.30h2.00v2.95h-2.00zM176.81 194.30h1.00v2.95h-1.00zM180.80 194.30h1.00v2.95h-1.00zM189.77 194.30h2.99v2.95h-2.99zM198.75 194.30h1.00v2.95h-1.00zM203.74 194.30h1.00v2.95h-1.00zM206.73 194.30h1.00v2.95h-1.00zM210.72 194.30h1.00v2.95h-1.00zM213.72 194.30h1.00v2.95h-1.00zM215.71 194.30h1.00v2.95h-1.00zM220.70 194.30h1.00v2.95h-1.00zM228.68 194.30h1.00v2.95h-1.00zM232.67 194.30h1.00v2.95h-1.00zM250.63 194.30h1.00v2.95h-1.00zM252.62 194.30h1.00v2.95h-1.00zM264.59 194.30h1.00v2.95h-1.00zM266.59 194.30h1.00v2.95h-1.00zM277.56 194.30h2.99v2.95h-2.99zM289.53 194.30h1.00v2.95h-1.00zM303.50 194.30h1.00v2.95h-1.00zM305.49 194.30h2.00v2.95h-2.00zM313.47 194.30h1.00v2.95h-1.00zM315.47 194.30h1.00v2.95h-1.00zM318.46 194.30h1.00v2.95h-1.00zM321.46 194.30h1.00v2.95h-1.00zM339.41 194.30h1.00v2.95h-1.00zM64.08 197.25h1.00v2.95h-1.00zM68.07 197.25h1.00v2.95h-1.00zM71.06 197.25h1.00v2.95h-1.00zM82.03 197.25h1.00v2.95h-1.00zM93.01 197.25h1.00v2.95h-1.00zM126.93 197.25h1.00v2.95h-1.00zM186.78 197.25h1.00v2.95h-1.00zM199.75 197.25h1.00v2.95h-1.00zM201.75 197.25h1.00v2.95h-1.00zM305.49 197.25h1.00v2.95h-1.00zM57.10 200.20h1.00v2.95h-1.00zM76.05 200.20h2.00v2.95h-2.00zM95.00 200.20h1.00v2.95h-1.00zM107.97 200.20h2.00v2.95h-2.00zM113.96 200.20h1.00v2.95h-1.00zM116.95 200.20h1.00v2.95h-1.00zM125.93 200.20h1.00v2.95h-1.00zM164.83 200.20h1.00v2.95h-1.00zM173.81 200.20h1.00v2.95h-1.00zM177.80 200.20h1.00v2.95h-1.00zM182.79 200.20h1.00v2.95h-1.00zM185.78 200.20h1.00v2.95h-1.00zM203.74 200.20h1.00v2.95h-1.00zM206.73 200.20h1.00v2.95h-1.00zM216.71 200.20h1.00v2.95h-1.00zM218.70 200.20h2.00v2.95h-2.00zM226.68 200.20h1.00v2.95h-1.00zM232.67 200.20h1.00v2.95h-1.00zM234.67 200.20h1.00v2.95h-1.00zM249.63 200.20h1.00v2.95h-1.00zM266.59 200.20h2.99v2.95h-2.99zM270.58 200.20h1.00v2.95h-1.00zM282.55 200.20h1.00v2.95h-1.00zM292.53 200.20h1.00v2.95h-1.00zM299.51 200.20h1.00v2.95h-1.00zM305.49 200.20h1.00v2.95h-1.00zM64.08 203.15h1.00v2.95h-1.00zM68.07 203.15h1.00v2.95h-1.00zM71.06 203.15h1.00v2.95h-1.00zM107.97 203.15h1.00v2.95h-1.00zM114.96 203.15h1.00v2.95h-1.00zM120.94 203.15h1.00v2.95h-1.00zM125.93 203.15h1.00v2.95h-1.00zM129.92 203.15h1.00v2.95h-1.00zM152.86 203.15h1.00v2.95h-1.00zM204.74 203.15h1.00v2.95h-1.00zM207.73 203.15h1.00v2.95h-1.00zM268.58 203.15h1.00v2.95h-1.00zM275.57 203.15h1.00v2.95h-1.00zM282.55 203.15h1.00v2.95h-1.00zM56.10 206.10h1.00v2.95h-1.00zM58.09 206.10h2.00v2.95h-2.00zM61.09 206.10h1.00v2.95h-1.00zM71.06 206.10h2.00v2.95h-2.00zM74.05 206.10h1.00v2.95h-1.00zM82.03 206.10h2.00v2.95h-2.00zM88.02 206.10h1.00v2.95h-1.00zM97.00 206.10h1.00v2.95h-1.00zM127.92 206.10h1.00v2.95h-1.00zM129.92 206.10h1.00v2.95h-1.00zM135.90 206.10h1.00v2.95h-1.00zM173.81 206.10h1.00v2.95h-1.00zM176.81 206.10h1.00v2.95h-1.00zM178.80 206.10h1.00v2.95h-1.00zM183.79 206.10h1.00v2.95h-1.00zM189.77 206.10h1.00v2.95h-1.00zM195.76 206.10h1.00v2.95h-1.00zM199.75 206.10h1.00v2.95h-1.00zM202.74 206.10h1.00v2.95h-1.00zM204.74 206.10h1.00v2.95h-1.00zM208.73 206.10h1.00v2.95h-1.00zM216.71 206.10h2.00v2.95h-2.00zM226.68 206.10h1.00v2.95h-1.00zM235.66 206.10h1.00v2.95h-1.00zM253.62 206.10h1.00v2.95h-1.00zM255.61 206.10h1.00v2.95h-1.00zM274.57 206.10h2.00v2.95h-2.00zM282.55 206.10h1.00v2.95h-1.00zM304.50 206.10h2.99v2.95h-2.99zM319.46 206.10h1.00v2.95h-1.00zM324.45 206.10h1.00v2.95h-1.00zM326.44 206.10h1.00v2.95h-1.00zM334.42 206.10h1.00v2.95h-1.00zM338.41 206.10h2.00v2.95h-2.00zM342.40 206.10h1.00v2.95h-1.00zM80.04 209.05h1.00v2.95h-1.00zM87.02 209.05h1.00v2.95h-1.00zM91.01 209.05h1.00v2.95h-1.00zM96.00 209.05h1.00v2.95h-1.00zM106.97 209.05h1.00v2.95h-1.00zM108.97 209.05h1.00v2.95h-1.00zM123.93 209.05h1.00v2.95h-1.00zM125.93 209.05h1.00v2.95h-1.00zM131.91 209.05h1.00v2.95h-1.00zM138.90 209.05h1.00v2.95h-1.00zM146.88 209.05h1.00v2.95h-1.00zM154.86 209.05h1.00v2.95h-1.00zM158.85 209.05h1.00v2.95h-1.00zM160.84 209.05h2.00v2.95h-2.00zM167.83 209.05h1.00v2.95h-1.00zM172.82 209.05h1.00v2.95h-1.00zM179.80 209.05h1.00v2.95h-1.00zM189.77 209.05h2.00v2.95h-2.00zM193.76 209.05h1.00v2.95h-1.00zM197.75 209.05h1.00v2.95h-1.00zM201.75 209.05h1.00v2.95h-1.00zM206.73 209.05h1.00v2.95h-1.00zM221.70 209.05h1.00v2.95h-1.00zM232.67 209.05h1.00v2.95h-1.00zM255.61 209.05h1.00v2.95h-1.00zM260.60 209.05h1.00v2.95h-1.00zM264.59 209.05h1.00v2.95h-1.00zM272.57 209.05h3.99v2.95h-3.99zM277.56 209.05h1.00v2.95h-1.00zM294.52 209.05h1.00v2.95h-1.00zM297.51 209.05h1.00v2.95h-1.00zM308.49 209.05h1.00v2.95h-1.00zM324.45 209.05h1.00v2.95h-1.00zM328.44 209.05h1.00v2.95h-1.00zM334.42 209.05h1.00v2.95h-1.00zM339.41 209.05h1.00v2.95h-1.00zM117.95 212.00h1.00v2.95h-1.00zM160.84 212.00h1.00v2.95h-1.00zM173.81 212.00h1.00v2.95h-1.00zM243.64 212.00h1.00v2.95h-1.00zM258.61 212.00h1.00v2.95h-1.00zM266.59 212.00h2.00v2.95h-2.00zM300.51 212.00h1.00v2.95h-1.00zM333.43 212.00h1.00v2.95h-1.00zM337.42 212.00h1.00v2.95h-1.00zM64.08 214.95h2.00v2.95h-2.00zM71.06 214.95h1.00v2.95h-1.00zM73.06 214.95h1.00v2.95h-1.00zM83.03 214.95h1.00v2.95h-1.00zM106.97 214.95h1.00v2.95h-1.00zM108.97 214.95h1.00v2.95h-1.00zM117.95 214.95h1.00v2.95h-1.00zM124.93 214.95h1.00v2.95h-1.00zM139.89 214.95h1.00v2.95h-1.00zM178.80 214.95h1.00v2.95h-1.00zM195.76 214.95h1.00v2.95h-1.00zM215.71 214.95h1.00v2.95h-1.00zM218.70 214.95h2.99v2.95h-2.99zM222.69 214.95h2.00v2.95h-2.00zM227.68 214.95h1.00v2.95h-1.00zM229.68 214.95h1.00v2.95h-1.00zM234.67 214.95h1.00v2.95h-1.00zM238.66 214.95h1.00v2.95h-1.00zM240.65 214.95h1.00v2.95h-1.00zM242.65 214.95h1.00v2.95h-1.00zM244.64 214.95h1.00v2.95h-1.00zM260.60 214.95h2.00v2.95h-2.00zM264.59 214.95h1.00v2.95h-1.00zM268.58 214.95h1.00v2.95h-1.00zM275.57 214.95h1.00v2.95h-1.00zM288.54 214.95h2.00v2.95h-2.00zM315.47 214.95h2.00v2.95h-2.00zM322.45 214.95h1.00v2.95h-1.00zM334.42 214.95h1.00v2.95h-1.00zM79.04 220.85h1.00v2.95h-1.00zM117.95 220.85h1.00v2.95h-1.00zM121.94 220.85h1.00v2.95h-1.00zM138.90 220.85h1.00v2.95h-1.00zM169.82 220.85h1.00v2.95h-1.00zM174.81 220.85h1.00v2.95h-1.00zM181.79 220.85h1.00v2.95h-1.00zM197.75 220.85h1.00v2.95h-1.00zM202.74 220.85h1.00v2.95h-1.00zM214.71 220.85h1.00v2.95h-1.00zM246.64 220.85h1.00v2.95h-1.00zM273.57 220.85h2.99v2.95h-2.99zM277.56 220.85h1.00v2.95h-1.00zM284.54 220.85h1.00v2.95h-1.00zM300.51 220.85h1.00v2.95h-1.00zM304.50 220.85h1.00v2.95h-1.00zM307.49 220.85h1.00v2.95h-1.00zM309.48 220.85h1.00v2.95h-1.00zM55.10 223.80h1.00v2.95h-1.00zM72.06 223.80h1.00v2.95h-1.00zM86.03 223.80h1.00v2.95h-1.00zM90.02 223.80h2.99v2.95h-2.99zM102.98 223.80h2.00v2.95h-2.00zM107.97 223.80h2.99v2.95h-2.99zM144.88 223.80h1.00v2.95h-1.00zM175.81 223.80h1.00v2.95h-1.00zM179.80 223.80h2.00v2.95h-2.00zM187.78 223.80h1.00v2.95h-1.00zM190.77 223.80h1.00v2.95h-1.00zM204.74 223.80h1.00v2.95h-1.00zM209.73 223.80h1.00v2.95h-1.00zM215.71 223.80h1.00v2.95h-1.00zM218.70 223.80h1.00v2.95h-1.00zM220.70 223.80h1.00v2.95h-1.00zM227.68 223.80h1.00v2.95h-1.00zM264.59 223.80h1.00v2.95h-1.00zM270.58 223.80h2.00v2.95h-2.00zM273.57 223.80h2.99v2.95h-2.99zM285.54 223.80h2.00v2.95h-2.00zM303.50 223.80h1.00v2.95h-1.00zM305.49 223.80h2.00v2.95h-2.00zM309.48 223.80h1.00v2.95h-1.00zM313.47 223.80h1.00v2.95h-1.00zM320.46 223.80h1.00v2.95h-1.00zM332.43 223.80h2.00v2.95h-2.00zM343.40 223.80h1.00v2.95h-1.00zM67.07 226.75h1.00v2.95h-1.00zM69.07 226.75h1.00v2.95h-1.00zM71.06 226.75h1.00v2.95h-1.00zM82.03 226.75h1.00v2.95h-1.00zM85.03 226.75h1.00v2.95h-1.00zM90.02 226.75h1.00v2.95h-1.00zM102.98 226.75h2.99v2.95h-2.99zM113.96 226.75h1.00v2.95h-1.00zM123.93 226.75h2.00v2.95h-2.00zM127.92 226.75h1.00v2.95h-1.00zM131.91 226.75h1.00v2.95h-1.00zM152.86 226.75h1.00v2.95h-1.00zM173.81 226.75h1.00v2.95h-1.00zM177.80 226.75h2.00v2.95h-2.00zM226.68 226.75h1.00v2.95h-1.00zM228.68 226.75h1.00v2.95h-1.00zM258.61 226.75h1.00v2.95h-1.00zM262.60 226.75h1.00v2.95h-1.00zM264.59 226.75h1.00v2.95h-1.00zM282.55 226.75h1.00v2.95h-1.00zM286.54 226.75h2.00v2.95h-2.00zM309.48 226.75h1.00v2.95h-1.00zM316.47 226.75h1.00v2.95h-1.00zM324.45 226.75h1.00v2.95h-1.00zM329.44 226.75h1.00v2.95h-1.00zM333.43 226.75h1.00v2.95h-1.00z"/>
<path fill="#228b8d" d="M59.09 182.50h1.00v2.95h-1.00zM63.08 182.50h1.00v2.95h-1.00zM109.97 182.50h1.00v2.95h-1.00zM116.95 182.50h2.00v2.95h-2.00zM119.94 182.50h2.00v2.95h-2.00zM122.94 182.50h2.00v2.95h-2.00zM126.93 182.50h1.00v2.95h-1.00zM134.91 182.50h1.00v2.95h-1.00zM142.89 182.50h1.00v2.95h-1.00zM145.88 182.50h1.00v2.95h-1.00zM159.85 182.50h1.00v2.95h-1.00zM161.84 182.50h1.00v2.95h-1.00zM163.84 182.50h1.00v2.95h-1.00zM168.82 182.50h1.00v2.95h-1.00zM171.82 182.50h1.00v2.95h-1.00zM177.80 182.50h1.00v2.95h-1.00zM187.78 182.50h1.00v2.95h-1.00zM190.77 182.50h1.00v2.95h-1.00zM198.75 182.50h1.00v2.95h-1.00zM214.71 182.50h1.00v2.95h-1.00zM216.71 182.50h1.00v2.95h-1.00zM232.67 182.50h2.00v2.95h-2.00zM242.65 182.50h1.00v2.95h-1.00zM245.64 182.50h2.00v2.95h-2.00zM251.62 182.50h1.00v2.95h-1.00zM258.61 182.50h1.00v2.95h-1.00zM272.57 182.50h1.00v2.95h-1.00zM280.55 182.50h1.00v2.95h-1.00zM283.55 182.50h2.00v2.95h-2.00zM291.53 182.50h1.00v2.95h-1.00zM296.52 182.50h1.00v2.95h-1.00zM298.51 182.50h1.00v2.95h-1.00zM301.50 182.50h2.00v2.95h-2.00zM312.48 182.50h1.00v2.95h-1.00zM314.47 182.50h1.00v2.95h-1.00zM320.46 182.50h1.00v2.95h-1.00zM325.45 182.50h1.00v2.95h-1.00zM327.44 182.50h2.00v2.95h-2.00zM335.42 182.50h1.00v2.95h-1.00zM56.10 185.45h2.00v2.95h-2.00zM59.09 185.45h1.00v2.95h-1.00zM64.08 185.45h1.00v2.95h-1.00zM67.07 185.45h2.00v2.95h-2.00zM72.06 185.45h1.00v2.95h-1.00zM80.04 185.45h2.00v2.95h-2.00zM87.02 185.45h1.00v2.95h-1.00zM93.01 185.45h1.00v2.95h-1.00zM95.00 185.45h1.00v2.95h-1.00zM97.00 185.45h2.00v2.95h-2.00zM103.98 185.45h1.00v2.95h-1.00zM109.97 185.45h1.00v2.95h-1.00zM112.96 185.45h1.00v2.95h-1.00zM120.94 185.45h2.00v2.95h-2.00zM123.93 185.45h1.00v2.95h-1.00zM134.91 185.45h2.00v2.95h-2.00zM149.87 185.45h1.00v2.95h-1.00zM166.83 185.45h1.00v2.95h-1.00zM181.79 185.45h2.99v2.95h-2.99zM186.78 185.45h1.00v2.95h-1.00zM195.76 185.45h1.00v2.95h-1.00zM199.75 185.45h1.00v2.95h-1.00zM202.74 185.45h1.00v2.95h-1.00zM218.70 185.45h1.00v2.95h-1.00zM225.69 185.45h1.00v2.95h-1.00zM228.68 185.45h1.00v2.95h-1.00zM235.66 185.45h2.99v2.95h-2.99zM245.64 185.45h1.00v2.95h-1.00zM247.63 185.45h2.00v2.95h-2.00zM254.62 185.45h1.00v2.95h-1.00zM256.61 185.45h1.00v2.95h-1.00zM261.60 185.45h1.00v2.95h-1.00zM273.57 185.45h1.00v2.95h-1.00zM277.56 185.45h1.00v2.95h-1.00zM279.56 185.45h1.00v2.95h-1.00zM282.55 185.45h1.00v2.95h-1.00zM285.54 185.45h1.00v2.95h-1.00zM295.52 185.45h2.00v2.95h-2.00zM299.51 185.45h1.00v2.95h-1.00zM301.50 185.45h1.00v2.95h-1.00zM303.50 185.45h1.00v2.95h-1.00zM309.48 185.45h1.00v2.95h-1.00zM311.48 185.45h1.00v2.95h-1.00zM322.45 185.45h2.00v2.95h-2.00zM338.41 185.45h1.00v2.95h-1.00zM66.07 188.40h1.00v2.95h-1.00zM72.06 188.40h1.00v2.95h-1.00zM77.05 188.40h2.99v2.95h-2.99zM86.03 188.40h2.00v2.95h-2.00zM96.00 188.40h1.00v2.95h-1.00zM98.00 188.40h1.00v2.95h-1.00zM104.98 188.40h2.00v2.95h-2.00zM109.97 188.40h1.00v2.95h-1.00zM111.96 188.40h2.00v2.95h-2.00zM116.95 188.40h2.00v2.95h-2.00zM123.93 188.40h2.00v2.95h-2.00zM128.92 188.40h2.00v2.95h-2.00zM155.86 188.40h1.00v2.95h-1.00zM157.85 188.40h1.00v2.95h-1.00zM161.84 188.40h2.00v2.95h-2.00zM169.82 188.40h1.00v2.95h-1.00zM172.82 188.40h1.00v2.95h-1.00zM174.81 188.40h1.00v2.95h-1.00zM177.80 188.40h1.00v2.95h-1.00zM190.77 188.40h1.00v2.95h-1.00zM195.76 188.40h2.00v2.95h-2.00zM203.74 188.40h1.00v2.95h-1.00zM206.73 188.40h1.00v2.95h-1.00zM209.73 188.40h2.00v2.95h-2.00zM215.71 188.40h2.00v2.95h-2.00zM218.70 188.40h1.00v2.95h-1.00zM221.70 188.40h2.99v2.95h-2.99zM225.69 188.40h1.00v2.95h-1.00zM230.68 188.40h2.00v2.95h-2.00zM234.67 188.40h1.00v2.95h-1.00zM245.64 188.40h1.00v2.95h-1.00zM260.60 188.40h2.00v2.95h-2.00zM268.58 188.40h2.99v2.95h-2.99zM276.56 188.40h1.00v2.95h-1.00zM287.54 188.40h1.00v2.95h-1.00zM295.52 188.40h1.00v2.95h-1.00zM305.49 188.40h1.00v2.95h-1.00zM310.48 188.40h1.00v2.95h-1.00zM321.46 188.40h1.00v2.95h-1.00zM327.44 188.40h1.00v2.95h-1.00zM64.08 191.35h1.00v2.95h-1.00zM66.07 191.35h1.00v2.95h-1.00zM68.07 191.35h1.00v2.95h-1.00zM74.05 191.35h1.00v2.95h-1.00zM76.05 191.35h1.00v2.95h-1.00zM81.04 191.35h2.00v2.95h-2.00zM86.03 191.35h1.00v2.95h-1.00zM93.01 191.35h1.00v2.95h-1.00zM97.00 191.35h1.00v2.95h-1.00zM113.96 191.35h1.00v2.95h-1.00zM124.93 191.35h1.00v2.95h-1.00zM166.83 191.35h1.00v2.95h-1.00zM178.80 191.35h1.00v2.95h-1.00zM182.79 191.35h2.00v2.95h-2.00zM185.78 191.35h1.00v2.95h-1.00zM196.76 191.35h1.00v2.95h-1.00zM215.71 191.35h1.00v2.95h-1.00zM248.63 191.35h2.00v2.95h-2.00zM266.59 191.35h2.00v2.95h-2.00zM278.56 191.35h1.00v2.95h-1.00zM283.55 191.35h1.00v2.95h-1.00zM285.54 191.35h1.00v2.95h-1.00zM290.53 191.35h2.99v2.95h-2.99zM298.51 191.35h1.00v2.95h-1.00zM302.50 191.35h1.00v2.95h-1.00zM311.48 191.35h1.00v2.95h-1.00zM335.42 191.35h1.00v2.95h-1.00zM66.07 194.30h1.00v2.95h-1.00zM68.07 194.30h2.00v2.95h-2.00zM82.03 194.30h1.00v2.95h-1.00zM85.03 194.30h1.00v2.95h-1.00zM91.01 194.30h1.00v2.95h-1.00zM94.01 194.30h2.00v2.95h-2.00zM109.97 194.30h2.00v2.95h-2.00zM113.96 194.30h1.00v2.95h-1.00zM116.95 194.30h2.00v2.95h-2.00zM131.91 194.30h1.00v2.95h-1.00zM135.90 194.30h2.00v2.95h-2.00zM139.89 194.30h1.00v2.95h-1.00zM147.88 194.30h2.00v2.95h-2.00zM154.86 194.30h1.00v2.95h-1.00zM156.85 194.30h2.99v2.95h-2.99zM169.82 194.30h1.00v2.95h-1.00zM173.81 194.30h2.00v2.95h-2.00zM187.78 194.30h2.00v2.95h-2.00zM197.75 194.30h1.00v2.95h-1.00zM209.73 194.30h1.00v2.95h-1.00zM217.71 194.30h1.00v2.95h-1.00zM219.70 194.30h1.00v2.95h-1.00zM225.69 194.30h2.00v2.95h-2.00zM235.66 194.30h1.00v2.95h-1.00zM241.65 194.30h1.00v2.95h-1.00zM249.63 194.30h1.00v2.95h-1.00zM253.62 194.30h1.00v2.95h-1.00zM261.60 194.30h1.00v2.95h-1.00zM271.58 194.30h2.00v2.95h-2.00zM284.54 194.30h1.00v2.95h-1.00zM299.51 194.30h1.00v2.95h-1.00zM301.50 194.30h1.00v2.95h-1.00zM307.49 194.30h1.00v2.95h-1.00zM314.47 194.30h1.00v2.95h-1.00zM322.45 194.30h2.00v2.95h-2.00zM326.44 194.30h1.00v2.95h-1.00zM338.41 194.30h1.00v2.95h-1.00zM341.41 194.30h1.00v2.95h-1.00zM57.10 197.25h2.00v2.95h-2.00zM81.04 197.25h1.00v2.95h-1.00zM89.02 197.25h1.00v2.95h-1.00zM91.01 197.25h1.00v2.95h-1.00zM98.00 197.25h1.00v2.95h-1.00zM99.99 197.25h1.00v2.95h-1.00zM124.93 197.25h1.00v2.95h-1.00zM139.89 197.25h1.00v2.95h-1.00zM159.85 197.25h1.00v2.95h-1.00zM173.81 197.25h1.00v2.95h-1.00zM176.81 197.25h1.00v2.95h-1.00zM180.80 197.25h2.99v2.95h-2.99zM185.78 197.25h1.00v2.95h-1.00zM191.77 197.25h1.00v2.95h-1.00zM195.76 197.25h1.00v2.95h-1.00zM209.73 197.25h2.00v2.95h-2.00zM218.70 197.25h2.00v2.95h-2.00zM224.69 197.25h1.00v2.95h-1.00zM295.52 197.25h1.00v2.95h-1.00zM306.49 197.25h1.00v2.95h-1.00zM328.44 197.25h1.00v2.95h-1.00zM336.42 197.25h1.00v2.95h-1.00zM340.41 197.25h1.00v2.95h-1.00zM343.40 197.25h1.00v2.95h-1.00zM72.06 200.20h2.99v2.95h-2.99zM85.03 200.20h2.00v2.95h-2.00zM96.00 200.20h1.00v2.95h-1.00zM98.99 200.20h1.00v2.95h-1.00zM117.95 200.20h1.00v2.95h-1.00zM120.94 200.20h1.00v2.95h-1.00zM161.84 200.20h1.00v2.95h-1.00zM170.82 200.20h2.00v2.95h-2.00zM178.80 200.20h1.00v2.95h-1.00zM180.80 200.20h1.00v2.95h-1.00zM183.79 200.20h2.00v2.95h-2.00zM193.76 200.20h2.00v2.95h-2.00zM205.74 200.20h1.00v2.95h-1.00zM207.73 200.20h1.00v2.95h-1.00zM209.73 200.20h1.00v2.95h-1.00zM228.68 200.20h1.00v2.95h-1.00zM235.66 200.20h1.00v2.95h-1.00zM237.66 200.20h1.00v2.95h-1.00zM239.65 200.20h1.00v2.95h-1.00zM242.65 200.20h1.00v2.95h-1.00zM244.64 200.20h2.00v2.95h-2.00zM248.63 200.20h1.00v2.95h-1.00zM251.62 200.20h2.00v2.95h-2.00zM254.62 200.20h1.00v2.95h-1.00zM258.61 200.20h2.99v2.95h-2.99zM264.59 200.20h1.00v2.95h-1.00zM275.57 200.20h2.00v2.95h-2.00zM278.56 200.20h1.00v2.95h-1.00zM280.55 200.20h1.00v2.95h-1.00zM285.54 200.20h2.00v2.95h-2.00zM296.52 200.20h1.00v2.95h-1.00zM303.50 200.20h2.00v2.95h-2.00zM308.49 200.20h1.00v2.95h-1.00zM311.48 200.20h1.00v2.95h-1.00zM316.47 200.20h1.00v2.95h-1.00zM332.43 200.20h1.00v2.95h-1.00zM337.42 200.20h2.00v2.95h-2.00zM341.41 200.20h1.00v2.95h-1.00zM67.07 203.15h1.00v2.95h-1.00zM72.06 203.15h1.00v2.95h-1.00zM91.01 203.15h1.00v2.95h-1.00zM111.96 203.15h1.00v2.95h-1.00zM118.95 203.15h1.00v2.95h-1.00zM122.94 203.15h1.00v2.95h-1.00zM128.92 203.15h1.00v2.95h-1.00zM130.92 203.15h1.00v2.95h-1.00zM132.91 203.15h1.00v2.95h-1.00zM135.90 203.15h1.00v2.95h-1.00zM154.86 203.15h1.00v2.95h-1.00zM163.84 203.15h1.00v2.95h-1.00zM196.76 203.15h1.00v2.95h-1.00zM201.75 203.15h1.00v2.95h-1.00zM227.68 203.15h1.00v2.95h-1.00zM244.64 203.15h1.00v2.95h-1.00zM248.63 203.15h1.00v2.95h-1.00zM264.59 203.15h1.00v2.95h-1.00zM269.58 203.15h1.00v2.95h-1.00zM277.56 203.15h2.99v2.95h-2.99zM281.55 203.15h1.00v2.95h-1.00zM290.53 203.15h1.00v2.95h-1.00zM305.49 203.15h1.00v2.95h-1.00zM309.48 203.15h2.00v2.95h-2.00zM331.43 203.15h1.00v2.95h-1.00zM333.43 203.15h1.00v2.95h-1.00zM335.42 203.15h1.00v2.95h-1.00zM337.42 203.15h1.00v2.95h-1.00zM64.08 206.10h4.99v2.95h-4.99zM73.06 206.10h1.00v2.95h-1.00zM75.05 206.10h1.00v2.95h-1.00zM81.04 206.10h1.00v2.95h-1.00zM86.03 206.10h2.00v2.95h-2.00zM109.97 206.10h1.00v2.95h-1.00zM112.96 206.10h2.00v2.95h-2.00zM120.94 206.10h1.00v2.95h-1.00zM122.94 206.10h2.00v2.95h-2.00zM131.91 206.10h1.00v2.95h-1.00zM133.91 206.10h1.00v2.95h-1.00zM175.81 206.10h1.00v2.95h-1.00zM180.80 206.10h1.00v2.95h-1.00zM186.78 206.10h1.00v2.95h-1.00zM191.77 206.10h1.00v2.95h-1.00zM193.76 206.10h2.00v2.95h-2.00zM201.75 206.10h1.00v2.95h-1.00zM211.72 206.10h1.00v2.95h-1.00zM224.69 206.10h2.00v2.95h-2.00zM227.68 206.10h2.99v2.95h-2.99zM231.67 206.10h1.00v2.95h-1.00zM244.64 206.10h1.00v2.95h-1.00zM250.63 206.10h1.00v2.95h-1.00zM277.56 206.10h2.00v2.95h-2.00zM280.55 206.10h1.00v2.95h-1.00zM308.49 206.10h1.00v2.95h-1.00zM313.47 206.10h1.00v2.95h-1.00zM315.47 206.10h2.00v2.95h-2.00zM318.46 206.10h1.00v2.95h-1.00zM328.44 206.10h1.00v2.95h-1.00zM331.43 206.10h1.00v2.95h-1.00zM333.43 206.10h1.00v2.95h-1.00zM335.42 206.10h2.00v2.95h-2.00zM61.09 209.05h1.00v2.95h-1.00zM64.08 209.05h2.00v2.95h-2.00zM75.05 209.05h4.99v2.95h-4.99zM83.03 209.05h1.00v2.95h-1.00zM114.96 209.05h1.00v2.95h-1.00zM116.95 209.05h2.00v2.95h-2.00zM119.94 209.05h1.00v2.95h-1.00zM121.94 209.05h1.00v2.95h-1.00zM133.91 209.05h2.00v2.95h-2.00zM136.90 209.05h1.00v2.95h-1.00zM148.87 209.05h1.00v2.95h-1.00zM157.85 209.05h1.00v2.95h-1.00zM163.84 209.05h2.00v2.95h-2.00zM180.80 209.05h2.00v2.95h-2.00zM185.78 209.05h1.00v2.95h-1.00zM188.78 209.05h1.00v2.95h-1.00zM200.75 209.05h1.00v2.95h-1.00zM219.70 209.05h2.00v2.95h-2.00zM250.63 209.05h1.00v2.95h-1.00zM253.62 209.05h1.00v2.95h-1.00zM256.61 209.05h1.00v2.95h-1.00zM258.61 209.05h1.00v2.95h-1.00zM270.58 209.05h1.00v2.95h-1.00zM282.55 209.05h1.00v2.95h-1.00zM286.54 209.05h2.00v2.95h-2.00zM326.44 209.05h1.00v2.95h-1.00zM330.43 209.05h1.00v2.95h-1.00zM333.43 209.05h1.00v2.95h-1.00zM56.10 212.00h1.00v2.95h-1.00zM89.02 212.00h1.00v2.95h-1.00zM107.97 212.00h1.00v2.95h-1.00zM111.96 212.00h1.00v2.95h-1.00zM113.96 212.00h1.00v2.95h-1.00zM163.84 212.00h1.00v2.95h-1.00zM199.75 212.00h2.00v2.95h-2.00zM215.71 212.00h1.00v2.95h-1.00zM221.70 212.00h1.00v2.95h-1.00zM245.64 212.00h1.00v2.95h-1.00zM270.58 212.00h2.00v2.95h-2.00zM303.50 212.00h1.00v2.95h-1.00zM341.41 212.00h1.00v2.95h-1.00zM57.10 214.95h1.00v2.95h-1.00zM62.08 214.95h2.00v2.95h-2.00zM69.07 214.95h1.00v2.95h-1.00zM72.06 214.95h1.00v2.95h-1.00zM74.05 214.95h1.00v2.95h-1.00zM77.05 214.95h1.00v2.95h-1.00zM91.01 214.95h1.00v2.95h-1.00zM99.99 214.95h1.00v2.95h-1.00zM101.99 214.95h1.00v2.95h-1.00zM119.94 214.95h1.00v2.95h-1.00zM121.94 214.95h2.00v2.95h-2.00zM132.91 214.95h2.00v2.95h-2.00zM136.90 214.95h1.00v2.95h-1.00zM145.88 214.95h1.00v2.95h-1.00zM148.87 214.95h1.00v2.95h-1.00zM151.87 214.95h1.00v2.95h-1.00zM156.85 214.95h1.00v2.95h-1.00zM179.80 214.95h1.00v2.95h-1.00zM182.79 214.95h1.00v2.95h-1.00zM198.75 214.95h2.00v2.95h-2.00zM209.73 214.95h1.00v2.95h-1.00zM217.71 214.95h1.00v2.95h-1.00zM226.68 214.95h1.00v2.95h-1.00zM228.68 214.95h1.00v2.95h-1.00zM230.68 214.95h1.00v2.95h-1.00zM233.67 214.95h1.00v2.95h-1.00zM239.65 214.95h1.00v2.95h-1.00zM246.64 214.95h1.00v2.95h-1.00zM248.63 214.95h1.00v2.95h-1.00zM269.58 214.95h2.00v2.95h-2.00zM274.57 214.95h1.00v2.95h-1.00zM283.55 214.95h1.00v2.95h-1.00zM287.54 214.95h1.00v2.95h-1.00zM293.52 214.95h1.00v2.95h-1.00zM306.49 214.95h2.00v2.95h-2.00zM313.47 214.95h2.00v2.95h-2.00zM317.47 214.95h1.00v2.95h-1.00zM321.46 214.95h1.00v2.95h-1.00zM324.45 214.95h1.00v2.95h-1.00zM331.43 214.95h1.00v2.95h-1.00zM335.42 214.95h1.00v2.95h-1.00zM342.40 214.95h1.00v2.95h-1.00zM111.96 217.90h1.00v2.95h-1.00zM218.70 217.90h1.00v2.95h-1.00zM298.51 217.90h1.00v2.95h-1.00zM105.98 220.85h1.00v2.95h-1.00zM155.86 220.85h2.00v2.95h-2.00zM177.80 220.85h1.00v2.95h-1.00zM183.79 220.85h1.00v2.95h-1.00zM222.69 220.85h1.00v2.95h-1.00zM305.49 220.85h1.00v2.95h-1.00zM57.10 223.80h1.00v2.95h-1.00zM67.07 223.80h1.00v2.95h-1.00zM73.06 223.80h1.00v2.95h-1.00zM77.05 223.80h1.00v2.95h-1.00zM82.03 223.80h1.00v2.95h-1.00zM85.03 223.80h1.00v2.95h-1.00zM87.02 223.80h1.00v2.95h-1.00zM97.00 223.80h2.99v2.95h-2.99zM100.99 223.80h1.00v2.95h-1.00zM105.98 223.80h1.00v2.95h-1.00zM113.96 223.80h1.00v2.95h-1.00zM142.89 223.80h1.00v2.95h-1.00zM152.86 223.80h2.99v2.95h-2.99zM174.81 223.80h1.00v2.95h-1.00zM177.80 223.80h1.00v2.95h-1.00zM182.79 223.80h1.00v2.95h-1.00zM185.78 223.80h2.00v2.95h-2.00zM212.72 223.80h2.00v2.95h-2.00zM216.71 223.80h1.00v2.95h-1.00zM260.60 223.80h1.00v2.95h-1.00zM263.60 223.80h1.00v2.95h-1.00zM266.59 223.80h2.00v2.95h-2.00zM277.56 223.80h2.99v2.95h-2.99zM297.51 223.80h1.00v2.95h-1.00zM301.50 223.80h1.00v2.95h-1.00zM310.48 223.80h1.00v2.95h-1.00zM326.44 223.80h2.00v2.95h-2.00zM342.40 223.80h1.00v2.95h-1.00zM55.10 226.75h1.00v2.95h-1.00zM57.10 226.75h1.00v2.95h-1.00zM75.05 226.75h1.00v2.95h-1.00zM81.04 226.75h1.00v2.95h-1.00zM83.03 226.75h1.00v2.95h-1.00zM92.01 226.75h2.00v2.95h-2.00zM95.00 226.75h2.00v2.95h-2.00zM98.99 226.75h2.99v2.95h-2.99zM105.98 226.75h2.00v2.95h-2.00zM109.97 226.75h2.00v2.95h-2.00zM120.94 226.75h1.00v2.95h-1.00zM126.93 226.75h1.00v2.95h-1.00zM129.92 226.75h1.00v2.95h-1.00zM132.91 226.75h1.00v2.95h-1.00zM135.90 226.75h1.00v2.95h-1.00zM139.89 226.75h1.00v2.95h-1.00zM141.89 226.75h1.00v2.95h-1.00zM146.88 226.75h1.00v2.95h-1.00zM149.87 226.75h1.00v2.95h-1.00zM170.82 226.75h1.00v2.95h-1.00zM174.81 226.75h1.00v2.95h-1.00zM176.81 226.75h1.00v2.95h-1.00zM185.78 226.75h2.00v2.95h-2.00zM196.76 226.75h1.00v2.95h-1.00zM198.75 226.75h1.00v2.95h-1.00zM203.74 226.75h2.00v2.95h-2.00zM213.72 226.75h1.00v2.95h-1.00zM225.69 226.75h1.00v2.95h-1.00zM245.64 226.75h1.00v2.95h-1.00zM256.61 226.75h1.00v2.95h-1.00zM259.61 226.75h2.00v2.95h-2.00zM268.58 226.75h2.00v2.95h-2.00zM274.57 226.75h1.00v2.95h-1.00zM276.56 226.75h1.00v2.95h-1.00zM278.56 226.75h1.00v2.95h-1.00zM289.53 226.75h1.00v2.95h-1.00zM295.52 226.75h2.00v2.95h-2.00zM307.49 226.75h1.00v2.95h-1.00zM311.48 226.75h1.00v2.95h-1.00zM317.47 226.75h1.00v2.95h-1.00zM323.45 226.75h1.00v2.95h-1.00zM327.44 226.75h1.00v2.95h-1.00zM332.43 226.75h1.00v2.95h-1.00zM335.42 226.75h1.00v2.95h-1.00zM337.42 226.75h1.00v2.95h-1.00z"/>
<path fill="#1f958b" d="M66.07 182.50h1.00v2.95h-1.00zM95.00 182.50h1.00v2.95h-1.00zM112.96 182.50h3.99v2.95h-3.99zM136.90 182.50h1.00v2.95h-1.00zM164.83 182.50h1.00v2.95h-1.00zM167.83 182.50h1.00v2.95h-1.00zM172.82 182.50h2.00v2.95h-2.00zM175.81 182.50h2.00v2.95h-2.00zM192.77 182.50h1.00v2.95h-1.00zM195.76 182.50h1.00v2.95h-1.00zM197.75 182.50h1.00v2.95h-1.00zM200.75 182.50h1.00v2.95h-1.00zM204.74 182.50h1.00v2.95h-1.00zM209.73 182.50h1.00v2.95h-1.00zM224.69 182.50h1.00v2.95h-1.00zM227.68 182.50h1.00v2.95h-1.00zM229.68 182.50h1.00v2.95h-1.00zM237.66 182.50h1.00v2.95h-1.00zM240.65 182.50h1.00v2.95h-1.00zM244.64 182.50h1.00v2.95h-1.00zM249.63 182.50h1.00v2.95h-1.00zM267.59 182.50h1.00v2.95h-1.00zM270.58 182.50h1.00v2.95h-1.00zM276.56 182.50h1.00v2.95h-1.00zM294.52 182.50h1.00v2.95h-1.00zM313.47 182.50h1.00v2.95h-1.00zM315.47 182.50h1.00v2.95h-1.00zM317.47 182.50h1.00v2.95h-1.00zM330.43 182.50h2.00v2.95h-2.00zM61.09 185.45h2.00v2.95h-2.00zM70.06 185.45h1.00v2.95h-1.00zM79.04 185.45h1.00v2.95h-1.00zM94.01 185.45h1.00v2.95h-1.00zM101.99 185.45h1.00v2.95h-1.00zM104.98 185.45h1.00v2.95h-1.00zM130.92 185.45h1.00v2.95h-1.00zM139.89 185.45h1.00v2.95h-1.00zM148.87 185.45h1.00v2.95h-1.00zM152.86 185.45h1.00v2.95h-1.00zM173.81 185.45h1.00v2.95h-1.00zM179.80 185.45h1.00v2.95h-1.00zM187.78 185.45h1.00v2.95h-1.00zM196.76 185.45h2.00v2.95h-2.00zM216.71 185.45h2.00v2.95h-2.00zM221.70 185.45h1.00v2.95h-1.00zM223.69 185.45h2.00v2.95h-2.00zM226.68 185.45h1.00v2.95h-1.00zM242.65 185.45h1.00v2.95h-1.00zM246.64 185.45h1.00v2.95h-1.00zM250.63 185.45h1.00v2.95h-1.00zM253.62 185.45h1.00v2.95h-1.00zM255.61 185.45h1.00v2.95h-1.00zM264.59 185.45h2.00v2.95h-2.00zM271.58 185.45h1.00v2.95h-1.00zM274.57 185.45h2.00v2.95h-2.00zM283.55 185.45h2.00v2.95h-2.00zM297.51 185.45h1.00v2.95h-1.00zM300.51 185.45h1.00v2.95h-1.00zM308.49 185.45h1.00v2.95h-1.00zM313.47 185.45h1.00v2.95h-1.00zM341.41 185.45h1.00v2.95h-1.00zM343.40 185.45h1.00v2.95h-1.00zM68.07 188.40h1.00v2.95h-1.00zM74.05 188.40h1.00v2.95h-1.00zM85.03 188.40h1.00v2.95h-1.00zM89.02 188.40h1.00v2.95h-1.00zM91.01 188.40h1.00v2.95h-1.00zM102.98 188.40h2.00v2.95h-2.00zM108.97 188.40h1.00v2.95h-1.00zM115.95 188.40h1.00v2.95h-1.00zM118.95 188.40h1.00v2.95h-1.00zM127.92 188.40h1.00v2.95h-1.00zM135.90 188.40h1.00v2.95h-1.00zM145.88 188.40h1.00v2.95h-1.00zM147.88 188.40h1.00v2.95h-1.00zM151.87 188.40h2.00v2.95h-2.00zM159.85 188.40h1.00v2.95h-1.00zM170.82 188.40h1.00v2.95h-1.00zM180.80 188.40h2.00v2.95h-2.00zM198.75 188.40h1.00v2.95h-1.00zM202.74 188.40h1.00v2.95h-1.00zM228.68 188.40h1.00v2.95h-1.00zM235.66 188.40h1.00v2.95h-1.00zM237.66 188.40h2.00v2.95h-2.00zM240.65 188.40h1.00v2.95h-1.00zM246.64 188.40h1.00v2.95h-1.00zM262.60 188.40h1.00v2.95h-1.00zM274.57 188.40h1.00v2.95h-1.00zM279.56 188.40h1.00v2.95h-1.00zM286.54 188.40h1.00v2.95h-1.00zM288.54 188.40h1.00v2.95h-1.00zM293.52 188.40h1.00v2.95h-1.00zM301.50 188.40h3.99v2.95h-3.99zM307.49 188.40h2.99v2.95h-2.99zM314.47 188.40h1.00v2.95h-1.00zM319.46 188.40h1.00v2.95h-1.00zM69.07 191.35h1.00v2.95h-1.00zM73.06 191.35h1.00v2.95h-1.00zM79.04 191.35h2.00v2.95h-2.00zM85.03 191.35h1.00v2.95h-1.00zM94.01 191.35h1.00v2.95h-1.00zM96.00 191.35h1.00v2.95h-1.00zM99.99 191.35h1.00v2.95h-1.00zM101.99 191.35h1.00v2.95h-1.00zM105.98 191.35h1.00v2.95h-1.00zM107.97 191.35h1.00v2.95h-1.00zM109.97 191.35h1.00v2.95h-1.00zM112.96 191.35h1.00v2.95h-1.00zM115.95 191.35h2.00v2.95h-2.00zM122.94 191.35h1.00v2.95h-1.00zM125.93 191.35h1.00v2.95h-1.00zM130.92 191.35h1.00v2.95h-1.00zM135.90 191.35h1.00v2.95h-1.00zM141.89 191.35h1.00v2.95h-1.00zM167.83 191.35h1.00v2.95h-1.00zM172.82 191.35h1.00v2.95h-1.00zM180.80 191.35h1.00v2.95h-1.00zM199.75 191.35h1.00v2.95h-1.00zM202.74 191.35h1.00v2.95h-1.00zM209.73 191.35h1.00v2.95h-1.00zM233.67 191.35h1.00v2.95h-1.00zM238.66 191.35h1.00v2.95h-1.00zM241.65 191.35h1.00v2.95h-1.00zM243.64 191.35h3.99v2.95h-3.99zM262.60 191.35h1.00v2.95h-1.00zM270.58 191.35h2.00v2.95h-2.00zM274.57 191.35h1.00v2.95h-1.00zM277.56 191.35h1.00v2.95h-1.00zM280.55 191.35h1.00v2.95h-1.00zM299.51 191.35h1.00v2.95h-1.00zM312.48 191.35h2.00v2.95h-2.00zM327.44 191.35h1.00v2.95h-1.00zM339.41 191.35h1.00v2.95h-1.00zM342.40 191.35h1.00v2.95h-1.00zM84.03 194.30h1.00v2.95h-1.00zM87.02 194.30h2.99v2.95h-2.99zM98.00 194.30h1.00v2.95h-1.00zM100.99 194.30h2.00v2.95h-2.00zM134.91 194.30h1.00v2.95h-1.00zM138.90 194.30h1.00v2.95h-1.00zM146.88 194.30h1.00v2.95h-1.00zM150.87 194.30h2.00v2.95h-2.00zM155.86 194.30h1.00v2.95h-1.00zM159.85 194.30h1.00v2.95h-1.00zM164.83 194.30h1.00v2.95h-1.00zM167.83 194.30h1.00v2.95h-1.00zM170.82 194.30h1.00v2.95h-1.00zM172.82 194.30h1.00v2.95h-1.00zM205.74 194.30h1.00v2.95h-1.00zM218.70 194.30h1.00v2.95h-1.00zM221.70 194.30h2.99v2.95h-2.99zM229.68 194.30h1.00v2.95h-1.00zM239.65 194.30h1.00v2.95h-1.00zM245.64 194.30h1.00v2.95h-1.00zM247.63 194.30h2.00v2.95h-2.00zM251.62 194.30h1.00v2.95h-1.00zM256.61 194.30h1.00v2.95h-1.00zM258.61 194.30h1.00v2.95h-1.00zM263.60 194.30h1.00v2.95h-1.00zM276.56 194.30h1.00v2.95h-1.00zM302.50 194.30h1.00v2.95h-1.00zM304.50 194.30h1.00v2.95h-1.00zM324.45 194.30h1.00v2.95h-1.00zM331.43 194.30h2.00v2.95h-2.00zM336.42 194.30h2.00v2.95h-2.00zM340.41 194.30h1.00v2.95h-1.00zM59.09 197.25h2.00v2.95h-2.00zM63.08 197.25h1.00v2.95h-1.00zM66.07 197.25h2.00v2.95h-2.00zM74.05 197.25h1.00v2.95h-1.00zM77.05 197.25h1.00v2.95h-1.00zM79.04 197.25h2.00v2.95h-2.00zM85.03 197.25h1.00v2.95h-1.00zM88.02 197.25h1.00v2.95h-1.00zM90.02 197.25h1.00v2.95h-1.00zM95.00 197.25h1.00v2.95h-1.00zM122.94 197.25h1.00v2.95h-1.00zM125.93 197.25h1.00v2.95h-1.00zM127.92 197.25h2.99v2.95h-2.99zM183.79 197.25h1.00v2.95h-1.00zM188.78 197.25h2.00v2.95h-2.00zM192.77 197.25h1.00v2.95h-1.00zM194.76 197.25h1.00v2.95h-1.00zM196.76 197.25h1.00v2.95h-1.00zM206.73 197.25h1.00v2.95h-1.00zM211.72 197.25h1.00v2.95h-1.00zM228.68 197.25h1.00v2.95h-1.00zM233.67 197.25h1.00v2.95h-1.00zM243.64 197.25h1.00v2.95h-1.00zM264.59 197.25h1.00v2.95h-1.00zM266.59 197.25h1.00v2.95h-1.00zM273.57 197.25h1.00v2.95h-1.00zM275.57 197.25h1.00v2.95h-1.00zM279.56 197.25h1.00v2.95h-1.00zM287.54 197.25h2.00v2.95h-2.00zM299.51 197.25h1.00v2.95h-1.00zM301.50 197.25h1.00v2.95h-1.00zM304.50 197.25h1.00v2.95h-1.00zM330.43 197.25h1.00v2.95h-1.00zM341.41 197.25h1.00v2.95h-1.00zM55.10 200.20h2.00v2.95h-2.00zM70.06 200.20h2.00v2.95h-2.00zM75.05 200.20h1.00v2.95h-1.00zM81.04 200.20h1.00v2.95h-1.00zM88.02 200.20h1.00v2.95h-1.00zM90.02 200.20h1.00v2.95h-1.00zM102.98 200.20h1.00v2.95h-1.00zM105.98 200.20h2.00v2.95h-2.00zM109.97 200.20h1.00v2.95h-1.00zM112.96 200.20h1.00v2.95h-1.00zM118.95 200.20h2.00v2.95h-2.00zM131.91 200.20h1.00v2.95h-1.00zM135.90 200.20h1.00v2.95h-1.00zM143.89 200.20h2.00v2.95h-2.00zM163.84 200.20h1.00v2.95h-1.00zM165.83 200.20h2.00v2.95h-2.00zM187.78 200.20h1.00v2.95h-1.00zM198.75 200.20h1.00v2.95h-1.00zM225.69 200.20h1.00v2.95h-1.00zM247.63 200.20h1.00v2.95h-1.00zM253.62 200.20h1.00v2.95h-1.00zM255.61 200.20h2.99v2.95h-2.99zM271.58 200.20h1.00v2.95h-1.00zM273.57 200.20h2.00v2.95h-2.00zM279.56 200.20h1.00v2.95h-1.00zM281.55 200.20h1.00v2.95h-1.00zM283.55 200.20h1.00v2.95h-1.00zM287.54 200.20h1.00v2.95h-1.00zM290.53 200.20h1.00v2.95h-1.00zM293.52 200.20h1.00v2.95h-1.00zM307.49 200.20h1.00v2.95h-1.00zM313.47 200.20h1.00v2.95h-1.00zM317.47 200.20h2.00v2.95h-2.00zM322.45 200.20h1.00v2.95h-1.00zM331.43 200.20h1.00v2.95h-1.00zM335.42 200.20h1.00v2.95h-1.00zM339.41 200.20h2.00v2.95h-2.00zM57.10 203.15h2.00v2.95h-2.00zM60.09 203.15h1.00v2.95h-1.00zM77.05 203.15h1.00v2.95h-1.00zM104.98 203.15h1.00v2.95h-1.00zM110.96 203.15h1.00v2.95h-1.00zM112.96 203.15h1.00v2.95h-1.00zM119.94 203.15h1.00v2.95h-1.00zM121.94 203.15h1.00v2.95h-1.00zM133.91 203.15h1.00v2.95h-1.00zM139.89 203.15h1.00v2.95h-1.00zM141.89 203.15h1.00v2.95h-1.00zM164.83 203.15h1.00v2.95h-1.00zM170.82 203.15h1.00v2.95h-1.00zM173.81 203.15h1.00v2.95h-1.00zM192.77 203.15h2.99v2.95h-2.99zM203.74 203.15h1.00v2.95h-1.00zM219.70 203.15h1.00v2.95h-1.00zM245.64 203.15h2.00v2.95h-2.00zM251.62 203.15h2.00v2.95h-2.00zM254.62 203.15h1.00v2.95h-1.00zM283.55 203.15h1.00v2.95h-1.00zM286.54 203.15h2.99v2.95h-2.99zM291.53 203.15h1.00v2.95h-1.00zM295.52 203.15h1.00v2.95h-1.00zM297.51 203.15h1.00v2.95h-1.00zM303.50 203.15h1.00v2.95h-1.00zM313.47 203.15h2.99v2.95h-2.99zM318.46 203.15h2.99v2.95h-2.99zM328.44 203.15h1.00v2.95h-1.00zM334.42 203.15h1.00v2.95h-1.00zM338.41 203.15h1.00v2.95h-1.00zM69.07 206.10h1.00v2.95h-1.00zM80.04 206.10h1.00v2.95h-1.00zM121.94 206.10h1.00v2.95h-1.00zM124.93 206.10h1.00v2.95h-1.00zM132.91 206.10h1.00v2.95h-1.00zM144.88 206.10h1.00v2.95h-1.00zM174.81 206.10h1.00v2.95h-1.00zM179.80 206.10h1.00v2.95h-1.00zM181.79 206.10h1.00v2.95h-1.00zM185.78 206.10h1.00v2.95h-1.00zM187.78 206.10h1.00v2.95h-1.00zM190.77 206.10h1.00v2.95h-1.00zM203.74 206.10h1.00v2.95h-1.00zM207.73 206.10h1.00v2.95h-1.00zM223.69 206.10h1.00v2.95h-1.00zM232.67 206.10h1.00v2.95h-1.00zM234.67 206.10h1.00v2.95h-1.00zM237.66 206.10h1.00v2.95h-1.00zM240.65 206.10h1.00v2.95h-1.00zM242.65 206.10h1.00v2.95h-1.00zM245.64 206.10h2.00v2.95h-2.00zM248.63 206.10h1.00v2.95h-1.00zM251.62 206.10h1.00v2.95h-1.00zM256.61 206.10h1.00v2.95h-1.00zM261.60 206.10h1.00v2.95h-1.00zM266.59 206.10h2.00v2.95h-2.00zM272.57 206.10h1.00v2.95h-1.00zM284.54 206.10h1.00v2.95h-1.00zM309.48 206.10h1.00v2.95h-1.00zM312.48 206.10h1.00v2.95h-1.00zM314.47 206.10h1.00v2.95h-1.00zM325.45 206.10h1.00v2.95h-1.00zM330.43 206.10h1.00v2.95h-1.00zM62.08 209.05h2.00v2.95h-2.00zM67.07 209.05h2.00v2.95h-2.00zM70.06 209.05h1.00v2.95h-1.00zM73.06 209.05h2.00v2.95h-2.00zM82.03 209.05h1.00v2.95h-1.00zM89.02 209.05h1.00v2.95h-1.00zM92.01 209.05h1.00v2.95h-1.00zM94.01 209.05h1.00v2.95h-1.00zM112.96 209.05h1.00v2.95h-1.00zM155.86 209.05h2.00v2.95h-2.00zM168.82 209.05h1.00v2.95h-1.00zM171.82 209.05h1.00v2.95h-1.00zM194.76 209.05h1.00v2.95h-1.00zM207.73 209.05h1.00v2.95h-1.00zM222.69 209.05h1.00v2.95h-1.00zM233.67 209.05h1.00v2.95h-1.00zM254.62 209.05h1.00v2.95h-1.00zM257.61 209.05h1.00v2.95h-1.00zM259.61 209.05h1.00v2.95h-1.00zM263.60 209.05h1.00v2.95h-1.00zM265.59 209.05h2.00v2.95h-2.00zM278.56 209.05h1.00v2.95h-1.00zM284.54 209.05h1.00v2.95h-1.00zM288.54 209.05h1.00v2.95h-1.00zM290.53 209.05h2.00v2.95h-2.00zM306.49 209.05h1.00v2.95h-1.00zM323.45 209.05h1.00v2.95h-1.00zM325.45 209.05h1.00v2.95h-1.00zM327.44 209.05h1.00v2.95h-1.00zM329.44 209.05h1.00v2.95h-1.00zM55.10 212.00h1.00v2.95h-1.00zM66.07 212.00h1.00v2.95h-1.00zM68.07 212.00h1.00v2.95h-1.00zM98.99 212.00h2.00v2.95h-2.00zM102.98 212.00h1.00v2.95h-1.00zM105.98 212.00h2.00v2.95h-2.00zM114.96 212.00h1.00v2.95h-1.00zM120.94 212.00h2.00v2.95h-2.00zM124.93 212.00h1.00v2.95h-1.00zM165.83 212.00h1.00v2.95h-1.00zM168.82 212.00h1.00v2.95h-1.00zM205.74 212.00h1.00v2.95h-1.00zM212.72 212.00h1.00v2.95h-1.00zM244.64 212.00h1.00v2.95h-1.00zM252.62 212.00h1.00v2.95h-1.00zM288.54 212.00h1.00v2.95h-1.00zM292.53 212.00h1.00v2.95h-1.00zM316.47 212.00h2.99v2.95h-2.99zM326.44 212.00h1.00v2.95h-1.00zM338.41 212.00h2.00v2.95h-2.00zM343.40 212.00h1.00v2.95h-1.00zM68.07 214.95h1.00v2.95h-1.00zM70.06 214.95h1.00v2.95h-1.00zM80.04 214.95h2.00v2.95h-2.00zM85.03 214.95h2.99v2.95h-2.99zM92.01 214.95h2.00v2.95h-2.00zM96.00 214.95h1.00v2.95h-1.00zM100.99 214.95h1.00v2.95h-1.00zM105.98 214.95h1.00v2.95h-1.00zM107.97 214.95h1.00v2.95h-1.00zM109.97 214.95h1.00v2.95h-1.00zM120.94 214.95h1.00v2.95h-1.00zM123.93 214.95h1.00v2.95h-1.00zM125.93 214.95h1.00v2.95h-1.00zM127.92 214.95h1.00v2.95h-1.00zM131.91 214.95h1.00v2.95h-1.00zM137.90 214.95h1.00v2.95h-1.00zM157.85 214.95h1.00v2.95h-1.00zM163.84 214.95h1.00v2.95h-1.00zM176.81 214.95h2.00v2.95h-2.00zM183.79 214.95h1.00v2.95h-1.00zM185.78 214.95h2.00v2.95h-2.00zM189.77 214.95h1.00v2.95h-1.00zM192.77 214.95h2.99v2.95h-2.99zM197.75 214.95h1.00v2.95h-1.00zM200.75 214.95h2.00v2.95h-2.00zM207.73 214.95h1.00v2.95h-1.00zM212.72 214.95h1.00v2.95h-1.00zM235.66 214.95h1.00v2.95h-1.00zM241.65 214.95h1.00v2.95h-1.00zM252.62 214.95h1.00v2.95h-1.00zM257.61 214.95h1.00v2.95h-1.00zM259.61 214.95h1.00v2.95h-1.00zM262.60 214.95h1.00v2.95h-1.00zM266.59 214.95h1.00v2.95h-1.00zM272.57 214.95h1.00v2.95h-1.00zM277.56 214.95h1.00v2.95h-1.00zM280.55 214.95h2.00v2.95h-2.00zM286.54 214.95h1.00v2.95h-1.00zM303.50 214.95h2.00v2.95h-2.00zM309.48 214.95h2.00v2.95h-2.00zM323.45 214.95h1.00v2.95h-1.00zM326.44 214.95h1.00v2.95h-1.00zM337.42 214.95h1.00v2.95h-1.00zM343.40 214.95h1.00v2.95h-1.00zM65.08 217.90h1.00v2.95h-1.00zM212.72 217.90h2.00v2.95h-2.00zM297.51 217.90h1.00v2.95h-1.00zM300.51 217.90h1.00v2.95h-1.00zM303.50 217.90h1.00v2.95h-1.00zM109.97 220.85h1.00v2.95h-1.00zM115.95 220.85h1.00v2.95h-1.00zM308.49 220.85h1.00v2.95h-1.00zM56.10 223.80h1.00v2.95h-1.00zM58.09 223.80h1.00v2.95h-1.00zM75.05 223.80h1.00v2.95h-1.00zM81.04 223.80h1.00v2.95h-1.00zM83.03 223.80h1.00v2.95h-1.00zM95.00 223.80h1.00v2.95h-1.00zM99.99 223.80h1.00v2.95h-1.00zM110.96 223.80h1.00v2.95h-1.00zM116.95 223.80h1.00v2.95h-1.00zM145.88 223.80h1.00v2.95h-1.00zM162.84 223.80h1.00v2.95h-1.00zM170.82 223.80h2.00v2.95h-2.00zM181.79 223.80h1.00v2.95h-1.00zM183.79 223.80h1.00v2.95h-1.00zM194.76 223.80h1.00v2.95h-1.00zM198.75 223.80h1.00v2.95h-1.00zM200.75 223.80h1.00v2.95h-1.00zM217.71 223.80h1.00v2.95h-1.00zM225.69 223.80h1.00v2.95h-1.00zM240.65 223.80h1.00v2.95h-1.00zM251.62 223.80h1.00v2.95h-1.00zM262.60 223.80h1.00v2.95h-1.00zM280.55 223.80h2.00v2.95h-2.00zM287.54 223.80h1.00v2.95h-1.00zM289.53 223.80h2.00v2.95h-2.00zM292.53 223.80h1.00v2.95h-1.00zM296.52 223.80h1.00v2.95h-1.00zM298.51 223.80h1.00v2.95h-1.00zM300.51 223.80h1.00v2.95h-1.00zM316.47 223.80h1.00v2.95h-1.00zM334.42 223.80h2.00v2.95h-2.00zM339.41 223.80h1.00v2.95h-1.00zM341.41 223.80h1.00v2.95h-1.00zM56.10 226.75h1.00v2.95h-1.00zM58.09 226.75h1.00v2.95h-1.00zM65.08 226.75h2.00v2.95h-2.00zM68.07 226.75h1.00v2.95h-1.00zM70.06 226.75h1.00v2.95h-1.00zM97.00 226.75h2.00v2.95h-2.00zM107.97 226.75h1.00v2.95h-1.00zM111.96 226.75h2.00v2.95h-2.00zM115.95 226.75h1.00v2.95h-1.00zM119.94 226.75h1.00v2.95h-1.00zM125.93 226.75h1.00v2.95h-1.00zM130.92 226.75h1.00v2.95h-1.00zM136.90 226.75h2.00v2.95h-2.00zM158.85 226.75h1.00v2.95h-1.00zM162.84 226.75h1.00v2.95h-1.00zM181.79 226.75h1.00v2.95h-1.00zM183.79 226.75h1.00v2.95h-1.00zM192.77 226.75h1.00v2.95h-1.00zM197.75 226.75h1.00v2.95h-1.00zM209.73 226.75h2.00v2.95h-2.00zM214.71 226.75h1.00v2.95h-1.00zM224.69 226.75h1.00v2.95h-1.00zM230.68 226.75h1.00v2.95h-1.00zM249.63 226.75h2.00v2.95h-2.00zM271.58 226.75h1.00v2.95h-1.00zM273.57 226.75h1.00v2.95h-1.00zM284.54 226.75h2.00v2.95h-2.00zM291.53 226.75h1.00v2.95h-1.00zM306.49 226.75h1.00v2.95h-1.00zM312.48 226.75h1.00v2.95h-1.00zM314.47 226.75h1.00v2.95h-1.00zM318.46 226.75h2.00v2.95h-2.00zM321.46 226.75h1.00v2.95h-1.00zM325.45 226.75h1.00v2.95h-1.00zM330.43 226.75h2.00v2.95h-2.00zM334.42 226.75h1.00v2.95h-1.00zM338.41 226.75h1.00v2.95h-1.00z"/>
<path fill="#1fa088" d="M64.08 182.50h1.00v2.95h-1.00zM69.07 182.50h1.00v2.95h-1.00zM80.04 182.50h1.00v2.95h-1.00zM121.94 182.50h1.00v2.95h-1.00zM146.88 182.50h1.00v2.95h-1.00zM169.82 182.50h1.00v2.95h-1.00zM174.81 182.50h1.00v2.95h-1.00zM202.74 182.50h1.00v2.95h-1.00zM235.66 182.50h2.00v2.95h-2.00zM238.66 182.50h1.00v2.95h-1.00zM250.63 182.50h1.00v2.95h-1.00zM253.62 182.50h1.00v2.95h-1.00zM265.59 182.50h1.00v2.95h-1.00zM268.58 182.50h1.00v2.95h-1.00zM277.56 182.50h2.99v2.95h-2.99zM319.46 182.50h1.00v2.95h-1.00zM321.46 182.50h1.00v2.95h-1.00zM76.05 185.45h1.00v2.95h-1.00zM78.04 185.45h1.00v2.95h-1.00zM86.03 185.45h1.00v2.95h-1.00zM88.02 185.45h2.00v2.95h-2.00zM91.01 185.45h1.00v2.95h-1.00zM102.98 185.45h1.00v2.95h-1.00zM106.97 185.45h2.99v2.95h-2.99zM115.95 185.45h1.00v2.95h-1.00zM137.90 185.45h1.00v2.95h-1.00zM140.89 185.45h1.00v2.95h-1.00zM147.88 185.45h1.00v2.95h-1.00zM151.87 185.45h1.00v2.95h-1.00zM161.84 185.45h1.00v2.95h-1.00zM163.84 185.45h1.00v2.95h-1.00zM168.82 185.45h1.00v2.95h-1.00zM172.82 185.45h1.00v2.95h-1.00zM174.81 185.45h1.00v2.95h-1.00zM176.81 185.45h1.00v2.95h-1.00zM198.75 185.45h1.00v2.95h-1.00zM205.74 185.45h1.00v2.95h-1.00zM209.73 185.45h1.00v2.95h-1.00zM212.72 185.45h2.00v2.95h-2.00zM219.70 185.45h1.00v2.95h-1.00zM227.68 185.45h1.00v2.95h-1.00zM229.68 185.45h2.00v2.95h-2.00zM244.64 185.45h1.00v2.95h-1.00zM249.63 185.45h1.00v2.95h-1.00zM252.62 185.45h1.00v2.95h-1.00zM263.60 185.45h1.00v2.95h-1.00zM315.47 185.45h1.00v2.95h-1.00zM317.47 185.45h1.00v2.95h-1.00zM319.46 185.45h2.00v2.95h-2.00zM339.41 185.45h1.00v2.95h-1.00zM70.06 188.40h1.00v2.95h-1.00zM75.05 188.40h1.00v2.95h-1.00zM106.97 188.40h2.00v2.95h-2.00zM113.96 188.40h2.00v2.95h-2.00zM120.94 188.40h1.00v2.95h-1.00zM130.92 188.40h2.00v2.95h-2.00zM133.91 188.40h2.00v2.95h-2.00zM142.89 188.40h1.00v2.95h-1.00zM146.88 188.40h1.00v2.95h-1.00zM149.87 188.40h1.00v2.95h-1.00zM153.86 188.40h2.00v2.95h-2.00zM156.85 188.40h1.00v2.95h-1.00zM171.82 188.40h1.00v2.95h-1.00zM197.75 188.40h1.00v2.95h-1.00zM211.72 188.40h1.00v2.95h-1.00zM213.72 188.40h2.00v2.95h-2.00zM217.71 188.40h1.00v2.95h-1.00zM232.67 188.40h1.00v2.95h-1.00zM239.65 188.40h1.00v2.95h-1.00zM241.65 188.40h1.00v2.95h-1.00zM247.63 188.40h2.00v2.95h-2.00zM277.56 188.40h2.00v2.95h-2.00zM289.53 188.40h1.00v2.95h-1.00zM292.53 188.40h1.00v2.95h-1.00zM294.52 188.40h1.00v2.95h-1.00zM300.51 188.40h1.00v2.95h-1.00zM329.44 188.40h1.00v2.95h-1.00zM65.08 191.35h1.00v2.95h-1.00zM75.05 191.35h1.00v2.95h-1.00zM91.01 191.35h2.00v2.95h-2.00zM95.00 191.35h1.00v2.95h-1.00zM98.00 191.35h1.00v2.95h-1.00zM118.95 191.35h2.00v2.95h-2.00zM123.93 191.35h1.00v2.95h-1.00zM127.92 191.35h1.00v2.95h-1.00zM145.88 191.35h1.00v2.95h-1.00zM147.88 191.35h1.00v2.95h-1.00zM149.87 191.35h1.00v2.95h-1.00zM157.85 191.35h1.00v2.95h-1.00zM163.84 191.35h1.00v2.95h-1.00zM165.83 191.35h1.00v2.95h-1.00zM168.82 191.35h2.99v2.95h-2.99zM174.81 191.35h1.00v2.95h-1.00zM177.80 191.35h1.00v2.95h-1.00zM184.79 191.35h1.00v2.95h-1.00zM188.78 191.35h2.99v2.95h-2.99zM195.76 191.35h1.00v2.95h-1.00zM197.75 191.35h1.00v2.95h-1.00zM200.75 191.35h2.00v2.95h-2.00zM203.74 191.35h2.00v2.95h-2.00zM220.70 191.35h1.00v2.95h-1.00zM226.68 191.35h1.00v2.95h-1.00zM229.68 191.35h2.00v2.95h-2.00zM234.67 191.35h1.00v2.95h-1.00zM236.66 191.35h2.00v2.95h-2.00zM240.65 191.35h1.00v2.95h-1.00zM256.61 191.35h1.00v2.95h-1.00zM259.61 191.35h2.00v2.95h-2.00zM272.57 191.35h2.00v2.95h-2.00zM276.56 191.35h1.00v2.95h-1.00zM279.56 191.35h1.00v2.95h-1.00zM294.52 191.35h1.00v2.95h-1.00zM303.50 191.35h1.00v2.95h-1.00zM310.48 191.35h1.00v2.95h-1.00zM314.47 191.35h1.00v2.95h-1.00zM316.47 191.35h2.00v2.95h-2.00zM319.46 191.35h1.00v2.95h-1.00zM324.45 191.35h1.00v2.95h-1.00zM334.42 191.35h1.00v2.95h-1.00zM336.42 191.35h2.00v2.95h-2.00zM343.40 191.35h1.00v2.95h-1.00zM55.10 194.30h1.00v2.95h-1.00zM80.04 194.30h2.00v2.95h-2.00zM90.02 194.30h1.00v2.95h-1.00zM92.01 194.30h1.00v2.95h-1.00zM144.88 194.30h2.00v2.95h-2.00zM163.84 194.30h1.00v2.95h-1.00zM171.82 194.30h1.00v2.95h-1.00zM207.73 194.30h1.00v2.95h-1.00zM214.71 194.30h1.00v2.95h-1.00zM224.69 194.30h1.00v2.95h-1.00zM227.68 194.30h1.00v2.95h-1.00zM230.68 194.30h2.00v2.95h-2.00zM234.67 194.30h1.00v2.95h-1.00zM262.60 194.30h1.00v2.95h-1.00zM265.59 194.30h1.00v2.95h-1.00zM329.44 194.30h1.00v2.95h-1.00zM342.40 194.30h1.00v2.95h-1.00zM55.10 197.25h1.00v2.95h-1.00zM65.08 197.25h1.00v2.95h-1.00zM70.06 197.25h1.00v2.95h-1.00zM73.06 197.25h1.00v2.95h-1.00zM75.05 197.25h1.00v2.95h-1.00zM84.03 197.25h1.00v2.95h-1.00zM86.03 197.25h2.00v2.95h-2.00zM92.01 197.25h1.00v2.95h-1.00zM94.01 197.25h1.00v2.95h-1.00zM100.99 197.25h1.00v2.95h-1.00zM103.98 197.25h1.00v2.95h-1.00zM111.96 197.25h1.00v2.95h-1.00zM118.95 197.25h1.00v2.95h-1.00zM136.90 197.25h1.00v2.95h-1.00zM154.86 197.25h1.00v2.95h-1.00zM160.84 197.25h2.00v2.95h-2.00zM168.82 197.25h2.00v2.95h-2.00zM172.82 197.25h1.00v2.95h-1.00zM177.80 197.25h2.00v2.95h-2.00zM193.76 197.25h1.00v2.95h-1.00zM198.75 197.25h1.00v2.95h-1.00zM203.74 197.25h1.00v2.95h-1.00zM213.72 197.25h1.00v2.95h-1.00zM222.69 197.25h2.00v2.95h-2.00zM234.67 197.25h1.00v2.95h-1.00zM236.66 197.25h2.99v2.95h-2.99zM244.64 197.25h2.00v2.95h-2.00zM260.60 197.25h1.00v2.95h-1.00zM267.59 197.25h2.99v2.95h-2.99zM272.57 197.25h1.00v2.95h-1.00zM274.57 197.25h1.00v2.95h-1.00zM286.54 197.25h1.00v2.95h-1.00zM290.53 197.25h1.00v2.95h-1.00zM300.51 197.25h1.00v2.95h-1.00zM309.48 197.25h2.00v2.95h-2.00zM318.46 197.25h2.00v2.95h-2.00zM321.46 197.25h1.00v2.95h-1.00zM335.42 197.25h1.00v2.95h-1.00zM342.40 197.25h1.00v2.95h-1.00zM58.09 200.20h2.00v2.95h-2.00zM61.09 200.20h1.00v2.95h-1.00zM69.07 200.20h1.00v2.95h-1.00zM82.03 200.20h2.00v2.95h-2.00zM89.02 200.20h1.00v2.95h-1.00zM92.01 200.20h2.99v2.95h-2.99zM99.99 200.20h1.00v2.95h-1.00zM101.99 200.20h1.00v2.95h-1.00zM110.96 200.20h2.00v2.95h-2.00zM115.95 200.20h1.00v2.95h-1.00zM121.94 200.20h1.00v2.95h-1.00zM141.89 200.20h1.00v2.95h-1.00zM146.88 200.20h1.00v2.95h-1.00zM172.82 200.20h1.00v2.95h-1.00zM181.79 200.20h1.00v2.95h-1.00zM188.78 200.20h1.00v2.95h-1.00zM191.77 200.20h2.00v2.95h-2.00zM196.76 200.20h2.00v2.95h-2.00zM208.73 200.20h1.00v2.95h-1.00zM220.70 200.20h1.00v2.95h-1.00zM223.69 200.20h1.00v2.95h-1.00zM241.65 200.20h1.00v2.95h-1.00zM263.60 200.20h1.00v2.95h-1.00zM288.54 200.20h2.00v2.95h-2.00zM294.52 200.20h1.00v2.95h-1.00zM297.51 200.20h1.00v2.95h-1.00zM306.49 200.20h1.00v2.95h-1.00zM319.46 200.20h1.00v2.95h-1.00zM321.46 200.20h1.00v2.95h-1.00zM323.45 200.20h1.00v2.95h-1.00zM325.45 200.20h1.00v2.95h-1.00zM327.44 200.20h2.99v2.95h-2.99zM333.43 200.20h1.00v2.95h-1.00zM55.10 203.15h1.00v2.95h-1.00zM70.06 203.15h1.00v2.95h-1.00zM83.03 203.15h1.00v2.95h-1.00zM88.02 203.15h1.00v2.95h-1.00zM90.02 203.15h1.00v2.95h-1.00zM103.98 203.15h1.00v2.95h-1.00zM108.97 203.15h1.00v2.95h-1.00zM115.95 203.15h2.00v2.95h-2.00zM134.91 203.15h1.00v2.95h-1.00zM151.87 203.15h1.00v2.95h-1.00zM153.86 203.15h1.00v2.95h-1.00zM168.82 203.15h1.00v2.95h-1.00zM174.81 203.15h2.00v2.95h-2.00zM182.79 203.15h2.00v2.95h-2.00zM185.78 203.15h1.00v2.95h-1.00zM191.77 203.15h1.00v2.95h-1.00zM195.76 203.15h1.00v2.95h-1.00zM197.75 203.15h1.00v2.95h-1.00zM199.75 203.15h1.00v2.95h-1.00zM205.74 203.15h1.00v2.95h-1.00zM209.73 203.15h2.00v2.95h-2.00zM212.72 203.15h1.00v2.95h-1.00zM214.71 203.15h2.00v2.95h-2.00zM217.71 203.15h1.00v2.95h-1.00zM225.69 203.15h1.00v2.95h-1.00zM247.63 203.15h1.00v2.95h-1.00zM249.63 203.15h2.00v2.95h-2.00zM255.61 203.15h1.00v2.95h-1.00zM266.59 203.15h2.00v2.95h-2.00zM271.58 203.15h1.00v2.95h-1.00zM274.57 203.15h1.00v2.95h-1.00zM292.53 203.15h1.00v2.95h-1.00zM296.52 203.15h1.00v2.95h-1.00zM299.51 203.15h1.00v2.95h-1.00zM301.50 203.15h2.00v2.95h-2.00zM306.49 203.15h2.00v2.95h-2.00zM311.48 203.15h2.00v2.95h-2.00zM323.45 203.15h1.00v2.95h-1.00zM327.44 203.15h1.00v2.95h-1.00zM330.43 203.15h1.00v2.95h-1.00zM332.43 203.15h1.00v2.95h-1.00zM339.41 203.15h1.00v2.95h-1.00zM341.41 203.15h1.00v2.95h-1.00zM76.05 206.10h1.00v2.95h-1.00zM125.93 206.10h1.00v2.95h-1.00zM130.92 206.10h1.00v2.95h-1.00zM141.89 206.10h1.00v2.95h-1.00zM156.85 206.10h1.00v2.95h-1.00zM161.84 206.10h1.00v2.95h-1.00zM172.82 206.10h1.00v2.95h-1.00zM177.80 206.10h1.00v2.95h-1.00zM182.79 206.10h1.00v2.95h-1.00zM200.75 206.10h1.00v2.95h-1.00zM205.74 206.10h1.00v2.95h-1.00zM222.69 206.10h1.00v2.95h-1.00zM238.66 206.10h2.00v2.95h-2.00zM249.63 206.10h1.00v2.95h-1.00zM252.62 206.10h1.00v2.95h-1.00zM258.61 206.10h1.00v2.95h-1.00zM263.60 206.10h1.00v2.95h-1.00zM279.56 206.10h1.00v2.95h-1.00zM321.46 206.10h1.00v2.95h-1.00zM329.44 206.10h1.00v2.95h-1.00zM66.07 209.05h1.00v2.95h-1.00zM69.07 209.05h1.00v2.95h-1.00zM72.06 209.05h1.00v2.95h-1.00zM109.97 209.05h1.00v2.95h-1.00zM115.95 209.05h1.00v2.95h-1.00zM118.95 209.05h1.00v2.95h-1.00zM132.91 209.05h1.00v2.95h-1.00zM169.82 209.05h1.00v2.95h-1.00zM184.79 209.05h1.00v2.95h-1.00zM187.78 209.05h1.00v2.95h-1.00zM199.75 209.05h1.00v2.95h-1.00zM217.71 209.05h1.00v2.95h-1.00zM235.66 209.05h1.00v2.95h-1.00zM60.09 212.00h1.00v2.95h-1.00zM71.06 212.00h1.00v2.95h-1.00zM76.05 212.00h1.00v2.95h-1.00zM81.04 212.00h2.00v2.95h-2.00zM87.02 212.00h2.00v2.95h-2.00zM90.02 212.00h2.00v2.95h-2.00zM93.01 212.00h1.00v2.95h-1.00zM103.98 212.00h1.00v2.95h-1.00zM109.97 212.00h1.00v2.95h-1.00zM112.96 212.00h1.00v2.95h-1.00zM115.95 212.00h2.00v2.95h-2.00zM122.94 212.00h1.00v2.95h-1.00zM129.92 212.00h1.00v2.95h-1.00zM161.84 212.00h1.00v2.95h-1.00zM167.83 212.00h1.00v2.95h-1.00zM169.82 212.00h1.00v2.95h-1.00zM178.80 212.00h1.00v2.95h-1.00zM180.80 212.00h1.00v2.95h-1.00zM203.74 212.00h1.00v2.95h-1.00zM206.73 212.00h1.00v2.95h-1.00zM214.71 212.00h1.00v2.95h-1.00zM219.70 212.00h1.00v2.95h-1.00zM227.68 212.00h2.00v2.95h-2.00zM242.65 212.00h1.00v2.95h-1.00zM250.63 212.00h1.00v2.95h-1.00zM254.62 212.00h1.00v2.95h-1.00zM256.61 212.00h2.00v2.95h-2.00zM259.61 212.00h1.00v2.95h-1.00zM269.58 212.00h1.00v2.95h-1.00zM281.55 212.00h1.00v2.95h-1.00zM285.54 212.00h2.00v2.95h-2.00zM289.53 212.00h1.00v2.95h-1.00zM291.53 212.00h1.00v2.95h-1.00zM293.52 212.00h1.00v2.95h-1.00zM299.51 212.00h1.00v2.95h-1.00zM304.50 212.00h1.00v2.95h-1.00zM309.48 212.00h1.00v2.95h-1.00zM315.47 212.00h1.00v2.95h-1.00zM319.46 212.00h1.00v2.95h-1.00zM322.45 212.00h1.00v2.95h-1.00zM327.44 212.00h1.00v2.95h-1.00zM335.42 212.00h1.00v2.95h-1.00zM55.10 214.95h2.00v2.95h-2.00zM58.09 214.95h1.00v2.95h-1.00zM60.09 214.95h2.00v2.95h-2.00zM66.07 214.95h1.00v2.95h-1.00zM79.04 214.95h1.00v2.95h-1.00zM88.02 214.95h2.00v2.95h-2.00zM95.00 214.95h1.00v2.95h-1.00zM97.00 214.95h1.00v2.95h-1.00zM128.92 214.95h1.00v2.95h-1.00zM150.87 214.95h1.00v2.95h-1.00zM153.86 214.95h2.00v2.95h-2.00zM158.85 214.95h2.00v2.95h-2.00zM166.83 214.95h1.00v2.95h-1.00zM169.82 214.95h2.00v2.95h-2.00zM173.81 214.95h2.99v2.95h-2.99zM190.77 214.95h1.00v2.95h-1.00zM208.73 214.95h1.00v2.95h-1.00zM211.72 214.95h1.00v2.95h-1.00zM213.72 214.95h2.00v2.95h-2.00zM216.71 214.95h1.00v2.95h-1.00zM231.67 214.95h2.00v2.95h-2.00zM249.63 214.95h1.00v2.95h-1.00zM255.61 214.95h2.00v2.95h-2.00zM263.60 214.95h1.00v2.95h-1.00zM267.59 214.95h1.00v2.95h-1.00zM271.58 214.95h1.00v2.95h-1.00zM282.55 214.95h1.00v2.95h-1.00zM285.54 214.95h1.00v2.95h-1.00zM290.53 214.95h1.00v2.95h-1.00zM292.53 214.95h1.00v2.95h-1.00zM308.49 214.95h1.00v2.95h-1.00zM327.44 214.95h2.00v2.95h-2.00zM338.41 214.95h1.00v2.95h-1.00zM340.41 214.95h2.00v2.95h-2.00zM56.10 217.90h1.00v2.95h-1.00zM105.98 217.90h1.00v2.95h-1.00zM110.96 217.90h1.00v2.95h-1.00zM113.96 217.90h1.00v2.95h-1.00zM127.92 217.90h1.00v2.95h-1.00zM173.81 217.90h1.00v2.95h-1.00zM186.78 217.90h1.00v2.95h-1.00zM210.72 217.90h1.00v2.95h-1.00zM215.71 217.90h1.00v2.95h-1.00zM239.65 217.90h1.00v2.95h-1.00zM296.52 217.90h1.00v2.95h-1.00zM299.51 217.90h1.00v2.95h-1.00zM313.47 217.90h1.00v2.95h-1.00zM316.47 217.90h1.00v2.95h-1.00zM319.46 217.90h1.00v2.95h-1.00zM184.79 220.85h1.00v2.95h-1.00zM64.08 223.80h1.00v2.95h-1.00zM69.07 223.80h1.00v2.95h-1.00zM76.05 223.80h1.00v2.95h-1.00zM94.01 223.80h1.00v2.95h-1.00zM96.00 223.80h1.00v2.95h-1.00zM111.96 223.80h2.00v2.95h-2.00zM114.96 223.80h1.00v2.95h-1.00zM122.94 223.80h1.00v2.95h-1.00zM125.93 223.80h1.00v2.95h-1.00zM128.92 223.80h1.00v2.95h-1.00zM137.90 223.80h1.00v2.95h-1.00zM139.89 223.80h1.00v2.95h-1.00zM141.89 223.80h1.00v2.95h-1.00zM150.87 223.80h1.00v2.95h-1.00zM157.85 223.80h1.00v2.95h-1.00zM161.84 223.80h1.00v2.95h-1.00zM163.84 223.80h1.00v2.95h-1.00zM165.83 223.80h2.00v2.95h-2.00zM168.82 223.80h1.00v2.95h-1.00zM176.81 223.80h1.00v2.95h-1.00zM188.78 223.80h1.00v2.95h-1.00zM195.76 223.80h2.00v2.95h-2.00zM199.75 223.80h1.00v2.95h-1.00zM205.74 223.80h1.00v2.95h-1.00zM207.73 223.80h1.00v2.95h-1.00zM210.72 223.80h1.00v2.95h-1.00zM219.70 223.80h1.00v2.95h-1.00zM221.70 223.80h1.00v2.95h-1.00zM223.69 223.80h2.00v2.95h-2.00zM226.68 223.80h1.00v2.95h-1.00zM228.68 223.80h2.00v2.95h-2.00zM239.65 223.80h1.00v2.95h-1.00zM249.63 223.80h1.00v2.95h-1.00zM252.62 223.80h1.00v2.95h-1.00zM261.60 223.80h1.00v2.95h-1.00zM282.55 223.80h2.99v2.95h-2.99zM288.54 223.80h1.00v2.95h-1.00zM293.52 223.80h1.00v2.95h-1.00zM302.50 223.80h1.00v2.95h-1.00zM308.49 223.80h1.00v2.95h-1.00zM314.47 223.80h1.00v2.95h-1.00zM318.46 223.80h1.00v2.95h-1.00zM322.45 223.80h1.00v2.95h-1.00zM329.44 223.80h1.00v2.95h-1.00zM336.42 223.80h1.00v2.95h-1.00zM61.09 226.75h1.00v2.95h-1.00zM64.08 226.75h1.00v2.95h-1.00zM78.04 226.75h2.99v2.95h-2.99zM86.03 226.75h1.00v2.95h-1.00zM88.02 226.75h1.00v2.95h-1.00zM91.01 226.75h1.00v2.95h-1.00zM114.96 226.75h1.00v2.95h-1.00zM118.95 226.75h1.00v2.95h-1.00zM143.89 226.75h2.00v2.95h-2.00zM147.88 226.75h2.00v2.95h-2.00zM156.85 226.75h1.00v2.95h-1.00zM168.82 226.75h2.00v2.95h-2.00zM171.82 226.75h2.00v2.95h-2.00zM182.79 226.75h1.00v2.95h-1.00zM187.78 226.75h1.00v2.95h-1.00zM199.75 226.75h2.00v2.95h-2.00zM205.74 226.75h2.00v2.95h-2.00zM211.72 226.75h1.00v2.95h-1.00zM221.70 226.75h2.99v2.95h-2.99zM231.67 226.75h1.00v2.95h-1.00zM234.67 226.75h2.99v2.95h-2.99zM240.65 226.75h1.00v2.95h-1.00zM243.64 226.75h1.00v2.95h-1.00zM252.62 226.75h1.00v2.95h-1.00zM255.61 226.75h1.00v2.95h-1.00zM257.61 226.75h1.00v2.95h-1.00zM265.59 226.75h1.00v2.95h-1.00zM267.59 226.75h1.00v2.95h-1.00zM270.58 226.75h1.00v2.95h-1.00zM272.57 226.75h1.00v2.95h-1.00zM288.54 226.75h1.00v2.95h-1.00zM290.53 226.75h1.00v2.95h-1.00zM292.53 226.75h1.00v2.95h-1.00zM297.51 226.75h2.00v2.95h-2.00zM301.50 226.75h1.00v2.95h-1.00zM308.49 226.75h1.00v2.95h-1.00zM310.48 226.75h1.00v2.95h-1.00zM320.46 226.75h1.00v2.95h-1.00zM322.45 226.75h1.00v2.95h-1.00z"/>
<path fill="#23a983" d="M162.84 182.50h1.00v2.95h-1.00zM165.83 182.50h1.00v2.95h-1.00zM189.77 182.50h1.00v2.95h-1.00zM201.75 182.50h1.00v2.95h-1.00zM247.63 182.50h1.00v2.95h-1.00zM274.57 182.50h1.00v2.95h-1.00zM336.42 182.50h1.00v2.95h-1.00zM75.05 185.45h1.00v2.95h-1.00zM90.02 185.45h1.00v2.95h-1.00zM96.00 185.45h1.00v2.95h-1.00zM124.93 185.45h1.00v2.95h-1.00zM142.89 185.45h2.00v2.95h-2.00zM145.88 185.45h1.00v2.95h-1.00zM150.87 185.45h1.00v2.95h-1.00zM158.85 185.45h1.00v2.95h-1.00zM160.84 185.45h1.00v2.95h-1.00zM175.81 185.45h1.00v2.95h-1.00zM185.78 185.45h1.00v2.95h-1.00zM189.77 185.45h1.00v2.95h-1.00zM201.75 185.45h1.00v2.95h-1.00zM206.73 185.45h1.00v2.95h-1.00zM210.72 185.45h1.00v2.95h-1.00zM222.69 185.45h1.00v2.95h-1.00zM239.65 185.45h1.00v2.95h-1.00zM251.62 185.45h1.00v2.95h-1.00zM260.60 185.45h1.00v2.95h-1.00zM278.56 185.45h1.00v2.95h-1.00zM298.51 185.45h1.00v2.95h-1.00zM302.50 185.45h1.00v2.95h-1.00zM318.46 185.45h1.00v2.95h-1.00zM321.46 185.45h1.00v2.95h-1.00zM101.99 188.40h1.00v2.95h-1.00zM110.96 188.40h1.00v2.95h-1.00zM119.94 188.40h1.00v2.95h-1.00zM122.94 188.40h1.00v2.95h-1.00zM138.90 188.40h1.00v2.95h-1.00zM168.82 188.40h1.00v2.95h-1.00zM207.73 188.40h1.00v2.95h-1.00zM229.68 188.40h1.00v2.95h-1.00zM280.55 188.40h1.00v2.95h-1.00zM290.53 188.40h2.00v2.95h-2.00zM56.10 191.35h1.00v2.95h-1.00zM60.09 191.35h2.99v2.95h-2.99zM72.06 191.35h1.00v2.95h-1.00zM77.05 191.35h1.00v2.95h-1.00zM83.03 191.35h1.00v2.95h-1.00zM88.02 191.35h2.99v2.95h-2.99zM108.97 191.35h1.00v2.95h-1.00zM121.94 191.35h1.00v2.95h-1.00zM131.91 191.35h1.00v2.95h-1.00zM133.91 191.35h2.00v2.95h-2.00zM146.88 191.35h1.00v2.95h-1.00zM152.86 191.35h1.00v2.95h-1.00zM155.86 191.35h1.00v2.95h-1.00zM158.85 191.35h1.00v2.95h-1.00zM164.83 191.35h1.00v2.95h-1.00zM171.82 191.35h1.00v2.95h-1.00zM175.81 191.35h2.00v2.95h-2.00zM187.78 191.35h1.00v2.95h-1.00zM208.73 191.35h1.00v2.95h-1.00zM211.72 191.35h1.00v2.95h-1.00zM213.72 191.35h2.00v2.95h-2.00zM217.71 191.35h2.99v2.95h-2.99zM221.70 191.35h1.00v2.95h-1.00zM224.69 191.35h2.00v2.95h-2.00zM227.68 191.35h1.00v2.95h-1.00zM232.67 191.35h1.00v2.95h-1.00zM235.66 191.35h1.00v2.95h-1.00zM247.63 191.35h1.00v2.95h-1.00zM251.62 191.35h2.00v2.95h-2.00zM254.62 191.35h1.00v2.95h-1.00zM258.61 191.35h1.00v2.95h-1.00zM263.60 191.35h2.00v2.95h-2.00zM282.55 191.35h1.00v2.95h-1.00zM300.51 191.35h2.00v2.95h-2.00zM318.46 191.35h1.00v2.95h-1.00zM322.45 191.35h1.00v2.95h-1.00zM326.44 191.35h1.00v2.95h-1.00zM330.43 191.35h1.00v2.95h-1.00zM333.43 191.35h1.00v2.95h-1.00zM340.41 191.35h2.00v2.95h-2.00zM86.03 194.30h1.00v2.95h-1.00zM103.98 194.30h1.00v2.95h-1.00zM115.95 194.30h1.00v2.95h-1.00zM162.84 194.30h1.00v2.95h-1.00zM168.82 194.30h1.00v2.95h-1.00zM208.73 194.30h1.00v2.95h-1.00zM216.71 194.30h1.00v2.95h-1.00zM242.65 194.30h1.00v2.95h-1.00zM246.64 194.30h1.00v2.95h-1.00zM255.61 194.30h1.00v2.95h-1.00zM259.61 194.30h2.00v2.95h-2.00zM328.44 194.30h1.00v2.95h-1.00zM56.10 197.25h1.00v2.95h-1.00zM62.08 197.25h1.00v2.95h-1.00zM69.07 197.25h1.00v2.95h-1.00zM78.04 197.25h1.00v2.95h-1.00zM98.99 197.25h1.00v2.95h-1.00zM101.99 197.25h1.00v2.95h-1.00zM104.98 197.25h2.00v2.95h-2.00zM107.97 197.25h2.00v2.95h-2.00zM110.96 197.25h1.00v2.95h-1.00zM113.96 197.25h4.99v2.95h-4.99zM119.94 197.25h1.00v2.95h-1.00zM123.93 197.25h1.00v2.95h-1.00zM138.90 197.25h1.00v2.95h-1.00zM144.88 197.25h1.00v2.95h-1.00zM151.87 197.25h2.00v2.95h-2.00zM162.84 197.25h2.99v2.95h-2.99zM166.83 197.25h2.00v2.95h-2.00zM171.82 197.25h1.00v2.95h-1.00zM174.81 197.25h1.00v2.95h-1.00zM179.80 197.25h1.00v2.95h-1.00zM184.79 197.25h1.00v2.95h-1.00zM187.78 197.25h1.00v2.95h-1.00zM190.77 197.25h1.00v2.95h-1.00zM202.74 197.25h1.00v2.95h-1.00zM205.74 197.25h1.00v2.95h-1.00zM207.73 197.25h1.00v2.95h-1.00zM214.71 197.25h1.00v2.95h-1.00zM217.71 197.25h1.00v2.95h-1.00zM220.70 197.25h2.00v2.95h-2.00zM231.67 197.25h1.00v2.95h-1.00zM248.63 197.25h1.00v2.95h-1.00zM280.55 197.25h1.00v2.95h-1.00zM289.53 197.25h1.00v2.95h-1.00zM297.51 197.25h2.00v2.95h-2.00zM312.48 197.25h1.00v2.95h-1.00zM320.46 197.25h1.00v2.95h-1.00zM324.45 197.25h1.00v2.95h-1.00zM329.44 197.25h1.00v2.95h-1.00zM331.43 197.25h2.00v2.95h-2.00zM334.42 197.25h1.00v2.95h-1.00zM338.41 197.25h1.00v2.95h-1.00zM63.08 200.20h2.99v2.95h-2.99zM67.07 200.20h2.00v2.95h-2.00zM78.04 200.20h2.00v2.95h-2.00zM91.01 200.20h1.00v2.95h-1.00zM98.00 200.20h1.00v2.95h-1.00zM103.98 200.20h1.00v2.95h-1.00zM132.91 200.20h2.00v2.95h-2.00zM137.90 200.20h1.00v2.95h-1.00zM145.88 200.20h1.00v2.95h-1.00zM147.88 200.20h1.00v2.95h-1.00zM151.87 200.20h1.00v2.95h-1.00zM160.84 200.20h1.00v2.95h-1.00zM162.84 200.20h1.00v2.95h-1.00zM167.83 200.20h2.00v2.95h-2.00zM175.81 200.20h1.00v2.95h-1.00zM189.77 200.20h1.00v2.95h-1.00zM195.76 200.20h1.00v2.95h-1.00zM199.75 200.20h1.00v2.95h-1.00zM222.69 200.20h1.00v2.95h-1.00zM229.68 200.20h1.00v2.95h-1.00zM246.64 200.20h1.00v2.95h-1.00zM277.56 200.20h1.00v2.95h-1.00zM300.51 200.20h2.99v2.95h-2.99zM309.48 200.20h2.00v2.95h-2.00zM315.47 200.20h1.00v2.95h-1.00zM324.45 200.20h1.00v2.95h-1.00zM336.42 200.20h1.00v2.95h-1.00zM56.10 203.15h1.00v2.95h-1.00zM61.09 203.15h1.00v2.95h-1.00zM65.08 203.15h2.00v2.95h-2.00zM69.07 203.15h1.00v2.95h-1.00zM73.06 203.15h2.99v2.95h-2.99zM80.04 203.15h2.00v2.95h-2.00zM92.01 203.15h2.99v2.95h-2.99zM106.97 203.15h1.00v2.95h-1.00zM109.97 203.15h1.00v2.95h-1.00zM117.95 203.15h1.00v2.95h-1.00zM131.91 203.15h1.00v2.95h-1.00zM136.90 203.15h2.00v2.95h-2.00zM140.89 203.15h1.00v2.95h-1.00zM144.88 203.15h1.00v2.95h-1.00zM156.85 203.15h2.00v2.95h-2.00zM159.85 203.15h3.99v2.95h-3.99zM165.83 203.15h1.00v2.95h-1.00zM169.82 203.15h1.00v2.95h-1.00zM172.82 203.15h1.00v2.95h-1.00zM186.78 203.15h1.00v2.95h-1.00zM188.78 203.15h1.00v2.95h-1.00zM198.75 203.15h1.00v2.95h-1.00zM200.75 203.15h1.00v2.95h-1.00zM202.74 203.15h1.00v2.95h-1.00zM206.73 203.15h1.00v2.95h-1.00zM208.73 203.15h1.00v2.95h-1.00zM213.72 203.15h1.00v2.95h-1.00zM216.71 203.15h1.00v2.95h-1.00zM220.70 203.15h1.00v2.95h-1.00zM224.69 203.15h1.00v2.95h-1.00zM226.68 203.15h1.00v2.95h-1.00zM228.68 203.15h1.00v2.95h-1.00zM243.64 203.15h1.00v2.95h-1.00zM253.62 203.15h1.00v2.95h-1.00zM256.61 203.15h1.00v2.95h-1.00zM261.60 203.15h2.00v2.95h-2.00zM272.57 203.15h1.00v2.95h-1.00zM289.53 203.15h1.00v2.95h-1.00zM293.52 203.15h2.00v2.95h-2.00zM298.51 203.15h1.00v2.95h-1.00zM300.51 203.15h1.00v2.95h-1.00zM308.49 203.15h1.00v2.95h-1.00zM317.47 203.15h1.00v2.95h-1.00zM325.45 203.15h2.00v2.95h-2.00zM329.44 203.15h1.00v2.95h-1.00zM340.41 203.15h1.00v2.95h-1.00zM342.40 203.15h1.00v2.95h-1.00zM77.05 206.10h2.99v2.95h-2.99zM126.93 206.10h1.00v2.95h-1.00zM134.91 206.10h1.00v2.95h-1.00zM139.89 206.10h2.00v2.95h-2.00zM149.87 206.10h1.00v2.95h-1.00zM155.86 206.10h1.00v2.95h-1.00zM158.85 206.10h1.00v2.95h-1.00zM160.84 206.10h1.00v2.95h-1.00zM184.79 206.10h1.00v2.95h-1.00zM197.75 206.10h1.00v2.95h-1.00zM241.65 206.10h1.00v2.95h-1.00zM257.61 206.10h1.00v2.95h-1.00zM260.60 206.10h1.00v2.95h-1.00zM265.59 206.10h1.00v2.95h-1.00zM273.57 206.10h1.00v2.95h-1.00zM276.56 206.10h1.00v2.95h-1.00zM310.48 206.10h2.00v2.95h-2.00zM276.56 209.05h1.00v2.95h-1.00zM279.56 209.05h1.00v2.95h-1.00zM285.54 209.05h1.00v2.95h-1.00zM57.10 212.00h1.00v2.95h-1.00zM63.08 212.00h1.00v2.95h-1.00zM65.08 212.00h1.00v2.95h-1.00zM73.06 212.00h1.00v2.95h-1.00zM79.04 212.00h2.00v2.95h-2.00zM85.03 212.00h2.00v2.95h-2.00zM96.00 212.00h1.00v2.95h-1.00zM98.00 212.00h1.00v2.95h-1.00zM108.97 212.00h1.00v2.95h-1.00zM152.86 212.00h1.00v2.95h-1.00zM164.83 212.00h1.00v2.95h-1.00zM166.83 212.00h1.00v2.95h-1.00zM170.82 212.00h2.00v2.95h-2.00zM174.81 212.00h2.99v2.95h-2.99zM179.80 212.00h1.00v2.95h-1.00zM181.79 212.00h2.99v2.95h-2.99zM191.77 212.00h1.00v2.95h-1.00zM204.74 212.00h1.00v2.95h-1.00zM210.72 212.00h1.00v2.95h-1.00zM225.69 212.00h1.00v2.95h-1.00zM240.65 212.00h1.00v2.95h-1.00zM246.64 212.00h1.00v2.95h-1.00zM253.62 212.00h1.00v2.95h-1.00zM255.61 212.00h1.00v2.95h-1.00zM263.60 212.00h2.00v2.95h-2.00zM272.57 212.00h1.00v2.95h-1.00zM277.56 212.00h1.00v2.95h-1.00zM282.55 212.00h2.00v2.95h-2.00zM287.54 212.00h1.00v2.95h-1.00zM290.53 212.00h1.00v2.95h-1.00zM294.52 212.00h1.00v2.95h-1.00zM297.51 212.00h1.00v2.95h-1.00zM306.49 212.00h1.00v2.95h-1.00zM332.43 212.00h1.00v2.95h-1.00zM336.42 212.00h1.00v2.95h-1.00zM340.41 212.00h1.00v2.95h-1.00zM98.00 214.95h1.00v2.95h-1.00zM130.92 214.95h1.00v2.95h-1.00zM141.89 214.95h1.00v2.95h-1.00zM143.89 214.95h2.00v2.95h-2.00zM147.88 214.95h1.00v2.95h-1.00zM160.84 214.95h2.00v2.95h-2.00zM180.80 214.95h2.00v2.95h-2.00zM184.79 214.95h1.00v2.95h-1.00zM191.77 214.95h1.00v2.95h-1.00zM203.74 214.95h1.00v2.95h-1.00zM210.72 214.95h1.00v2.95h-1.00zM250.63 214.95h2.00v2.95h-2.00zM254.62 214.95h1.00v2.95h-1.00zM265.59 214.95h1.00v2.95h-1.00zM276.56 214.95h1.00v2.95h-1.00zM278.56 214.95h1.00v2.95h-1.00zM291.53 214.95h1.00v2.95h-1.00zM296.52 214.95h1.00v2.95h-1.00zM299.51 214.95h1.00v2.95h-1.00zM301.50 214.95h1.00v2.95h-1.00zM305.49 214.95h1.00v2.95h-1.00zM311.48 214.95h1.00v2.95h-1.00zM325.45 214.95h1.00v2.95h-1.00zM329.44 214.95h1.00v2.95h-1.00zM332.43 214.95h1.00v2.95h-1.00zM336.42 214.95h1.00v2.95h-1.00zM88.02 217.90h1.00v2.95h-1.00zM104.98 217.90h1.00v2.95h-1.00zM106.97 217.90h2.00v2.95h-2.00zM112.96 217.90h1.00v2.95h-1.00zM119.94 217.90h2.00v2.95h-2.00zM122.94 217.90h2.00v2.95h-2.00zM126.93 217.90h1.00v2.95h-1.00zM178.80 217.90h1.00v2.95h-1.00zM185.78 217.90h1.00v2.95h-1.00zM187.78 217.90h1.00v2.95h-1.00zM202.74 217.90h1.00v2.95h-1.00zM207.73 217.90h1.00v2.95h-1.00zM209.73 217.90h1.00v2.95h-1.00zM214.71 217.90h1.00v2.95h-1.00zM233.67 217.90h1.00v2.95h-1.00zM238.66 217.90h1.00v2.95h-1.00zM240.65 217.90h1.00v2.95h-1.00zM270.58 217.90h1.00v2.95h-1.00zM272.57 217.90h2.00v2.95h-2.00zM275.57 217.90h1.00v2.95h-1.00zM292.53 217.90h1.00v2.95h-1.00zM309.48 217.90h1.00v2.95h-1.00zM312.48 217.90h1.00v2.95h-1.00zM318.46 217.90h1.00v2.95h-1.00zM325.45 217.90h1.00v2.95h-1.00zM333.43 217.90h1.00v2.95h-1.00zM338.41 217.90h1.00v2.95h-1.00zM60.09 223.80h1.00v2.95h-1.00zM74.05 223.80h1.00v2.95h-1.00zM78.04 223.80h2.00v2.95h-2.00zM101.99 223.80h1.00v2.95h-1.00zM117.95 223.80h1.00v2.95h-1.00zM126.93 223.80h1.00v2.95h-1.00zM143.89 223.80h1.00v2.95h-1.00zM146.88 223.80h1.00v2.95h-1.00zM149.87 223.80h1.00v2.95h-1.00zM151.87 223.80h1.00v2.95h-1.00zM156.85 223.80h1.00v2.95h-1.00zM158.85 223.80h2.99v2.95h-2.99zM164.83 223.80h1.00v2.95h-1.00zM172.82 223.80h2.00v2.95h-2.00zM184.79 223.80h1.00v2.95h-1.00zM197.75 223.80h1.00v2.95h-1.00zM201.75 223.80h2.00v2.95h-2.00zM214.71 223.80h1.00v2.95h-1.00zM222.69 223.80h1.00v2.95h-1.00zM236.66 223.80h1.00v2.95h-1.00zM245.64 223.80h1.00v2.95h-1.00zM250.63 223.80h1.00v2.95h-1.00zM254.62 223.80h1.00v2.95h-1.00zM257.61 223.80h1.00v2.95h-1.00zM265.59 223.80h1.00v2.95h-1.00zM272.57 223.80h1.00v2.95h-1.00zM291.53 223.80h1.00v2.95h-1.00zM294.52 223.80h1.00v2.95h-1.00zM312.48 223.80h1.00v2.95h-1.00zM315.47 223.80h1.00v2.95h-1.00zM317.47 223.80h1.00v2.95h-1.00zM321.46 223.80h1.00v2.95h-1.00zM323.45 223.80h1.00v2.95h-1.00zM328.44 223.80h1.00v2.95h-1.00zM338.41 223.80h1.00v2.95h-1.00zM62.08 226.75h1.00v2.95h-1.00zM73.06 226.75h2.00v2.95h-2.00zM76.05 226.75h2.00v2.95h-2.00zM87.02 226.75h1.00v2.95h-1.00zM101.99 226.75h1.00v2.95h-1.00zM117.95 226.75h1.00v2.95h-1.00zM134.91 226.75h1.00v2.95h-1.00zM142.89 226.75h1.00v2.95h-1.00zM150.87 226.75h2.00v2.95h-2.00zM153.86 226.75h1.00v2.95h-1.00zM160.84 226.75h2.00v2.95h-2.00zM166.83 226.75h2.00v2.95h-2.00zM179.80 226.75h2.00v2.95h-2.00zM188.78 226.75h3.99v2.95h-3.99zM202.74 226.75h1.00v2.95h-1.00zM207.73 226.75h1.00v2.95h-1.00zM212.72 226.75h1.00v2.95h-1.00zM215.71 226.75h2.00v2.95h-2.00zM219.70 226.75h1.00v2.95h-1.00zM229.68 226.75h1.00v2.95h-1.00zM246.64 226.75h1.00v2.95h-1.00zM253.62 226.75h2.00v2.95h-2.00zM263.60 226.75h1.00v2.95h-1.00zM300.51 226.75h1.00v2.95h-1.00zM304.50 226.75h2.00v2.95h-2.00zM313.47 226.75h1.00v2.95h-1.00zM315.47 226.75h1.00v2.95h-1.00zM336.42 226.75h1.00v2.95h-1.00zM339.41 226.75h1.00v2.95h-1.00z"/>
<path fill="#2eb37c" d="M239.65 182.50h1.00v2.95h-1.00zM241.65 182.50h1.00v2.95h-1.00zM329.44 182.50h1.00v2.95h-1.00zM73.06 185.45h2.00v2.95h-2.00zM105.98 185.45h1.00v2.95h-1.00zM136.90 185.45h1.00v2.95h-1.00zM153.86 185.45h2.99v2.95h-2.99zM159.85 185.45h1.00v2.95h-1.00zM162.84 185.45h1.00v2.95h-1.00zM165.83 185.45h1.00v2.95h-1.00zM167.83 185.45h1.00v2.95h-1.00zM169.82 185.45h1.00v2.95h-1.00zM177.80 185.45h1.00v2.95h-1.00zM180.80 185.45h1.00v2.95h-1.00zM184.79 185.45h1.00v2.95h-1.00zM203.74 185.45h1.00v2.95h-1.00zM211.72 185.45h1.00v2.95h-1.00zM214.71 185.45h1.00v2.95h-1.00zM233.67 185.45h2.00v2.95h-2.00zM238.66 185.45h1.00v2.95h-1.00zM240.65 185.45h2.00v2.95h-2.00zM262.60 185.45h1.00v2.95h-1.00zM314.47 185.45h1.00v2.95h-1.00zM92.01 188.40h1.00v2.95h-1.00zM99.99 188.40h1.00v2.95h-1.00zM137.90 188.40h1.00v2.95h-1.00zM150.87 188.40h1.00v2.95h-1.00zM281.55 188.40h1.00v2.95h-1.00zM283.55 188.40h1.00v2.95h-1.00zM285.54 188.40h1.00v2.95h-1.00zM336.42 188.40h1.00v2.95h-1.00zM57.10 191.35h1.00v2.95h-1.00zM63.08 191.35h1.00v2.95h-1.00zM87.02 191.35h1.00v2.95h-1.00zM126.93 191.35h1.00v2.95h-1.00zM139.89 191.35h2.00v2.95h-2.00zM144.88 191.35h1.00v2.95h-1.00zM160.84 191.35h1.00v2.95h-1.00zM162.84 191.35h1.00v2.95h-1.00zM179.80 191.35h1.00v2.95h-1.00zM198.75 191.35h1.00v2.95h-1.00zM205.74 191.35h1.00v2.95h-1.00zM207.73 191.35h1.00v2.95h-1.00zM210.72 191.35h1.00v2.95h-1.00zM212.72 191.35h1.00v2.95h-1.00zM216.71 191.35h1.00v2.95h-1.00zM222.69 191.35h2.00v2.95h-2.00zM231.67 191.35h1.00v2.95h-1.00zM253.62 191.35h1.00v2.95h-1.00zM255.61 191.35h1.00v2.95h-1.00zM261.60 191.35h1.00v2.95h-1.00zM281.55 191.35h1.00v2.95h-1.00zM284.54 191.35h1.00v2.95h-1.00zM307.49 191.35h2.00v2.95h-2.00zM321.46 191.35h1.00v2.95h-1.00zM325.45 191.35h1.00v2.95h-1.00zM331.43 191.35h1.00v2.95h-1.00zM338.41 191.35h1.00v2.95h-1.00zM112.96 194.30h1.00v2.95h-1.00zM140.89 194.30h1.00v2.95h-1.00zM325.45 194.30h1.00v2.95h-1.00zM330.43 194.30h1.00v2.95h-1.00zM112.96 197.25h1.00v2.95h-1.00zM121.94 197.25h1.00v2.95h-1.00zM130.92 197.25h1.00v2.95h-1.00zM133.91 197.25h1.00v2.95h-1.00zM135.90 197.25h1.00v2.95h-1.00zM137.90 197.25h1.00v2.95h-1.00zM141.89 197.25h1.00v2.95h-1.00zM143.89 197.25h1.00v2.95h-1.00zM153.86 197.25h1.00v2.95h-1.00zM155.86 197.25h3.99v2.95h-3.99zM208.73 197.25h1.00v2.95h-1.00zM225.69 197.25h2.00v2.95h-2.00zM232.67 197.25h1.00v2.95h-1.00zM235.66 197.25h1.00v2.95h-1.00zM250.63 197.25h1.00v2.95h-1.00zM252.62 197.25h1.00v2.95h-1.00zM258.61 197.25h1.00v2.95h-1.00zM270.58 197.25h2.00v2.95h-2.00zM277.56 197.25h2.00v2.95h-2.00zM282.55 197.25h1.00v2.95h-1.00zM285.54 197.25h1.00v2.95h-1.00zM291.53 197.25h3.99v2.95h-3.99zM296.52 197.25h1.00v2.95h-1.00zM303.50 197.25h1.00v2.95h-1.00zM307.49 197.25h2.00v2.95h-2.00zM315.47 197.25h1.00v2.95h-1.00zM322.45 197.25h2.00v2.95h-2.00zM325.45 197.25h1.00v2.95h-1.00zM333.43 197.25h1.00v2.95h-1.00zM339.41 197.25h1.00v2.95h-1.00zM80.04 200.20h1.00v2.95h-1.00zM87.02 200.20h1.00v2.95h-1.00zM97.00 200.20h1.00v2.95h-1.00zM100.99 200.20h1.00v2.95h-1.00zM114.96 200.20h1.00v2.95h-1.00zM140.89 200.20h1.00v2.95h-1.00zM142.89 200.20h1.00v2.95h-1.00zM148.87 200.20h2.00v2.95h-2.00zM153.86 200.20h1.00v2.95h-1.00zM158.85 200.20h1.00v2.95h-1.00zM174.81 200.20h1.00v2.95h-1.00zM201.75 200.20h2.00v2.95h-2.00zM221.70 200.20h1.00v2.95h-1.00zM265.59 200.20h1.00v2.95h-1.00zM272.57 200.20h1.00v2.95h-1.00zM295.52 200.20h1.00v2.95h-1.00zM312.48 200.20h1.00v2.95h-1.00zM314.47 200.20h1.00v2.95h-1.00zM63.08 203.15h1.00v2.95h-1.00zM82.03 203.15h1.00v2.95h-1.00zM84.03 203.15h1.00v2.95h-1.00zM98.00 203.15h1.00v2.95h-1.00zM100.99 203.15h1.00v2.95h-1.00zM138.90 203.15h1.00v2.95h-1.00zM142.89 203.15h2.00v2.95h-2.00zM148.87 203.15h1.00v2.95h-1.00zM158.85 203.15h1.00v2.95h-1.00zM166.83 203.15h1.00v2.95h-1.00zM171.82 203.15h1.00v2.95h-1.00zM176.81 203.15h1.00v2.95h-1.00zM179.80 203.15h1.00v2.95h-1.00zM184.79 203.15h1.00v2.95h-1.00zM187.78 203.15h1.00v2.95h-1.00zM189.77 203.15h1.00v2.95h-1.00zM218.70 203.15h1.00v2.95h-1.00zM221.70 203.15h1.00v2.95h-1.00zM242.65 203.15h1.00v2.95h-1.00zM285.54 203.15h1.00v2.95h-1.00zM316.47 203.15h1.00v2.95h-1.00zM324.45 203.15h1.00v2.95h-1.00zM137.90 206.10h1.00v2.95h-1.00zM142.89 206.10h2.00v2.95h-2.00zM146.88 206.10h2.99v2.95h-2.99zM154.86 206.10h1.00v2.95h-1.00zM157.85 206.10h1.00v2.95h-1.00zM159.85 206.10h1.00v2.95h-1.00zM170.82 206.10h1.00v2.95h-1.00zM198.75 206.10h1.00v2.95h-1.00zM206.73 206.10h1.00v2.95h-1.00zM247.63 206.10h1.00v2.95h-1.00zM259.61 206.10h1.00v2.95h-1.00zM262.60 206.10h1.00v2.95h-1.00zM159.85 209.05h1.00v2.95h-1.00zM59.09 212.00h1.00v2.95h-1.00zM67.07 212.00h1.00v2.95h-1.00zM69.07 212.00h1.00v2.95h-1.00zM77.05 212.00h1.00v2.95h-1.00zM92.01 212.00h1.00v2.95h-1.00zM97.00 212.00h1.00v2.95h-1.00zM100.99 212.00h1.00v2.95h-1.00zM118.95 212.00h1.00v2.95h-1.00zM151.87 212.00h1.00v2.95h-1.00zM154.86 212.00h1.00v2.95h-1.00zM177.80 212.00h1.00v2.95h-1.00zM188.78 212.00h1.00v2.95h-1.00zM190.77 212.00h1.00v2.95h-1.00zM192.77 212.00h1.00v2.95h-1.00zM194.76 212.00h2.00v2.95h-2.00zM197.75 212.00h1.00v2.95h-1.00zM207.73 212.00h1.00v2.95h-1.00zM216.71 212.00h2.99v2.95h-2.99zM224.69 212.00h1.00v2.95h-1.00zM226.68 212.00h1.00v2.95h-1.00zM233.67 212.00h1.00v2.95h-1.00zM235.66 212.00h1.00v2.95h-1.00zM237.66 212.00h1.00v2.95h-1.00zM248.63 212.00h1.00v2.95h-1.00zM251.62 212.00h1.00v2.95h-1.00zM260.60 212.00h1.00v2.95h-1.00zM276.56 212.00h1.00v2.95h-1.00zM278.56 212.00h2.00v2.95h-2.00zM295.52 212.00h1.00v2.95h-1.00zM298.51 212.00h1.00v2.95h-1.00zM301.50 212.00h1.00v2.95h-1.00zM305.49 212.00h1.00v2.95h-1.00zM307.49 212.00h1.00v2.95h-1.00zM310.48 212.00h1.00v2.95h-1.00zM313.47 212.00h1.00v2.95h-1.00zM320.46 212.00h1.00v2.95h-1.00zM323.45 212.00h1.00v2.95h-1.00zM328.44 212.00h2.99v2.95h-2.99zM334.42 212.00h1.00v2.95h-1.00zM342.40 212.00h1.00v2.95h-1.00zM59.09 214.95h1.00v2.95h-1.00zM78.04 214.95h1.00v2.95h-1.00zM94.01 214.95h1.00v2.95h-1.00zM138.90 214.95h1.00v2.95h-1.00zM140.89 214.95h1.00v2.95h-1.00zM146.88 214.95h1.00v2.95h-1.00zM155.86 214.95h1.00v2.95h-1.00zM162.84 214.95h1.00v2.95h-1.00zM164.83 214.95h1.00v2.95h-1.00zM168.82 214.95h1.00v2.95h-1.00zM171.82 214.95h2.00v2.95h-2.00zM187.78 214.95h2.00v2.95h-2.00zM202.74 214.95h1.00v2.95h-1.00zM204.74 214.95h2.00v2.95h-2.00zM284.54 214.95h1.00v2.95h-1.00zM297.51 214.95h1.00v2.95h-1.00zM300.51 214.95h1.00v2.95h-1.00zM312.48 214.95h1.00v2.95h-1.00zM330.43 214.95h1.00v2.95h-1.00zM339.41 214.95h1.00v2.95h-1.00zM58.09 217.90h1.00v2.95h-1.00zM71.06 217.90h1.00v2.95h-1.00zM84.03 217.90h1.00v2.95h-1.00zM89.02 217.90h2.00v2.95h-2.00zM102.98 217.90h2.00v2.95h-2.00zM109.97 217.90h1.00v2.95h-1.00zM124.93 217.90h2.00v2.95h-2.00zM184.79 217.90h1.00v2.95h-1.00zM189.77 217.90h1.00v2.95h-1.00zM192.77 217.90h1.00v2.95h-1.00zM204.74 217.90h1.00v2.95h-1.00zM216.71 217.90h2.00v2.95h-2.00zM219.70 217.90h1.00v2.95h-1.00zM230.68 217.90h1.00v2.95h-1.00zM250.63 217.90h1.00v2.95h-1.00zM252.62 217.90h1.00v2.95h-1.00zM254.62 217.90h1.00v2.95h-1.00zM269.58 217.90h1.00v2.95h-1.00zM274.57 217.90h1.00v2.95h-1.00zM277.56 217.90h1.00v2.95h-1.00zM279.56 217.90h1.00v2.95h-1.00zM287.54 217.90h1.00v2.95h-1.00zM293.52 217.90h2.00v2.95h-2.00zM305.49 217.90h1.00v2.95h-1.00zM307.49 217.90h1.00v2.95h-1.00zM310.48 217.90h2.00v2.95h-2.00zM315.47 217.90h1.00v2.95h-1.00zM322.45 217.90h2.99v2.95h-2.99zM326.44 217.90h2.00v2.95h-2.00zM337.42 217.90h1.00v2.95h-1.00zM59.09 223.80h1.00v2.95h-1.00zM115.95 223.80h1.00v2.95h-1.00zM121.94 223.80h1.00v2.95h-1.00zM124.93 223.80h1.00v2.95h-1.00zM127.92 223.80h1.00v2.95h-1.00zM133.91 223.80h1.00v2.95h-1.00zM135.90 223.80h1.00v2.95h-1.00zM147.88 223.80h1.00v2.95h-1.00zM169.82 223.80h1.00v2.95h-1.00zM193.76 223.80h1.00v2.95h-1.00zM211.72 223.80h1.00v2.95h-1.00zM232.67 223.80h1.00v2.95h-1.00zM234.67 223.80h1.00v2.95h-1.00zM237.66 223.80h2.00v2.95h-2.00zM242.65 223.80h2.00v2.95h-2.00zM253.62 223.80h1.00v2.95h-1.00zM256.61 223.80h1.00v2.95h-1.00zM258.61 223.80h2.00v2.95h-2.00zM276.56 223.80h1.00v2.95h-1.00zM330.43 223.80h1.00v2.95h-1.00zM340.41 223.80h1.00v2.95h-1.00zM59.09 226.75h2.00v2.95h-2.00zM63.08 226.75h1.00v2.95h-1.00zM89.02 226.75h1.00v2.95h-1.00zM116.95 226.75h1.00v2.95h-1.00zM138.90 226.75h1.00v2.95h-1.00zM145.88 226.75h1.00v2.95h-1.00zM154.86 226.75h1.00v2.95h-1.00zM164.83 226.75h2.00v2.95h-2.00zM184.79 226.75h1.00v2.95h-1.00zM193.76 226.75h1.00v2.95h-1.00zM195.76 226.75h1.00v2.95h-1.00zM208.73 226.75h1.00v2.95h-1.00zM217.71 226.75h2.00v2.95h-2.00zM227.68 226.75h1.00v2.95h-1.00zM233.67 226.75h1.00v2.95h-1.00zM237.66 226.75h1.00v2.95h-1.00zM239.65 226.75h1.00v2.95h-1.00zM242.65 226.75h1.00v2.95h-1.00zM244.64 226.75h1.00v2.95h-1.00zM248.63 226.75h1.00v2.95h-1.00zM299.51 226.75h1.00v2.95h-1.00zM303.50 226.75h1.00v2.95h-1.00z"/>
<path fill="#3fbc73" d="M138.90 185.45h1.00v2.95h-1.00zM157.85 185.45h1.00v2.95h-1.00zM170.82 185.45h2.00v2.95h-2.00zM207.73 185.45h2.00v2.95h-2.00zM232.67 185.45h1.00v2.95h-1.00zM258.61 185.45h2.00v2.95h-2.00zM100.99 188.40h1.00v2.95h-1.00zM132.91 188.40h1.00v2.95h-1.00zM136.90 188.40h1.00v2.95h-1.00zM55.10 191.35h1.00v2.95h-1.00zM58.09 191.35h1.00v2.95h-1.00zM117.95 191.35h1.00v2.95h-1.00zM120.94 191.35h1.00v2.95h-1.00zM128.92 191.35h2.00v2.95h-2.00zM137.90 191.35h1.00v2.95h-1.00zM142.89 191.35h2.00v2.95h-2.00zM148.87 191.35h1.00v2.95h-1.00zM153.86 191.35h1.00v2.95h-1.00zM242.65 191.35h1.00v2.95h-1.00zM265.59 191.35h1.00v2.95h-1.00zM304.50 191.35h1.00v2.95h-1.00zM309.48 191.35h1.00v2.95h-1.00zM323.45 191.35h1.00v2.95h-1.00zM328.44 191.35h1.00v2.95h-1.00zM257.61 194.30h1.00v2.95h-1.00zM327.44 194.30h1.00v2.95h-1.00zM61.09 197.25h1.00v2.95h-1.00zM83.03 197.25h1.00v2.95h-1.00zM96.00 197.25h2.00v2.95h-2.00zM106.97 197.25h1.00v2.95h-1.00zM131.91 197.25h2.00v2.95h-2.00zM145.88 197.25h1.00v2.95h-1.00zM150.87 197.25h1.00v2.95h-1.00zM197.75 197.25h1.00v2.95h-1.00zM216.71 197.25h1.00v2.95h-1.00zM227.68 197.25h1.00v2.95h-1.00zM229.68 197.25h2.00v2.95h-2.00zM239.65 197.25h2.00v2.95h-2.00zM242.65 197.25h1.00v2.95h-1.00zM246.64 197.25h2.00v2.95h-2.00zM249.63 197.25h1.00v2.95h-1.00zM253.62 197.25h1.00v2.95h-1.00zM259.61 197.25h1.00v2.95h-1.00zM261.60 197.25h1.00v2.95h-1.00zM265.59 197.25h1.00v2.95h-1.00zM276.56 197.25h1.00v2.95h-1.00zM283.55 197.25h1.00v2.95h-1.00zM302.50 197.25h1.00v2.95h-1.00zM311.48 197.25h1.00v2.95h-1.00zM314.47 197.25h1.00v2.95h-1.00zM62.08 200.20h1.00v2.95h-1.00zM66.07 200.20h1.00v2.95h-1.00zM134.91 200.20h1.00v2.95h-1.00zM136.90 200.20h1.00v2.95h-1.00zM139.89 200.20h1.00v2.95h-1.00zM152.86 200.20h1.00v2.95h-1.00zM169.82 200.20h1.00v2.95h-1.00zM200.75 200.20h1.00v2.95h-1.00zM62.08 203.15h1.00v2.95h-1.00zM76.05 203.15h1.00v2.95h-1.00zM78.04 203.15h1.00v2.95h-1.00zM95.00 203.15h2.99v2.95h-2.99zM98.99 203.15h1.00v2.95h-1.00zM105.98 203.15h1.00v2.95h-1.00zM149.87 203.15h1.00v2.95h-1.00zM178.80 203.15h1.00v2.95h-1.00zM181.79 203.15h1.00v2.95h-1.00zM211.72 203.15h1.00v2.95h-1.00zM230.68 203.15h1.00v2.95h-1.00zM237.66 203.15h2.00v2.95h-2.00zM258.61 203.15h1.00v2.95h-1.00zM265.59 203.15h1.00v2.95h-1.00zM284.54 203.15h1.00v2.95h-1.00zM321.46 203.15h1.00v2.95h-1.00zM136.90 206.10h1.00v2.95h-1.00zM138.90 206.10h1.00v2.95h-1.00zM145.88 206.10h1.00v2.95h-1.00zM153.86 206.10h1.00v2.95h-1.00zM162.84 206.10h1.00v2.95h-1.00zM171.82 206.10h1.00v2.95h-1.00zM58.09 212.00h1.00v2.95h-1.00zM74.05 212.00h1.00v2.95h-1.00zM101.99 212.00h1.00v2.95h-1.00zM119.94 212.00h1.00v2.95h-1.00zM123.93 212.00h1.00v2.95h-1.00zM127.92 212.00h1.00v2.95h-1.00zM131.91 212.00h1.00v2.95h-1.00zM133.91 212.00h1.00v2.95h-1.00zM135.90 212.00h2.00v2.95h-2.00zM139.89 212.00h1.00v2.95h-1.00zM143.89 212.00h1.00v2.95h-1.00zM149.87 212.00h1.00v2.95h-1.00zM162.84 212.00h1.00v2.95h-1.00zM172.82 212.00h1.00v2.95h-1.00zM186.78 212.00h2.00v2.95h-2.00zM193.76 212.00h1.00v2.95h-1.00zM196.76 212.00h1.00v2.95h-1.00zM201.75 212.00h1.00v2.95h-1.00zM209.73 212.00h1.00v2.95h-1.00zM211.72 212.00h1.00v2.95h-1.00zM213.72 212.00h1.00v2.95h-1.00zM222.69 212.00h1.00v2.95h-1.00zM229.68 212.00h2.99v2.95h-2.99zM234.67 212.00h1.00v2.95h-1.00zM236.66 212.00h1.00v2.95h-1.00zM241.65 212.00h1.00v2.95h-1.00zM247.63 212.00h1.00v2.95h-1.00zM261.60 212.00h2.00v2.95h-2.00zM265.59 212.00h1.00v2.95h-1.00zM273.57 212.00h2.00v2.95h-2.00zM280.55 212.00h1.00v2.95h-1.00zM296.52 212.00h1.00v2.95h-1.00zM311.48 212.00h2.00v2.95h-2.00zM314.47 212.00h1.00v2.95h-1.00zM321.46 212.00h1.00v2.95h-1.00zM324.45 212.00h2.00v2.95h-2.00zM142.89 214.95h1.00v2.95h-1.00zM165.83 214.95h1.00v2.95h-1.00zM206.73 214.95h1.00v2.95h-1.00zM253.62 214.95h1.00v2.95h-1.00zM279.56 214.95h1.00v2.95h-1.00zM295.52 214.95h1.00v2.95h-1.00zM302.50 214.95h1.00v2.95h-1.00zM55.10 217.90h1.00v2.95h-1.00zM57.10 217.90h1.00v2.95h-1.00zM59.09 217.90h3.99v2.95h-3.99zM66.07 217.90h3.99v2.95h-3.99zM75.05 217.90h1.00v2.95h-1.00zM91.01 217.90h2.00v2.95h-2.00zM98.99 217.90h1.00v2.95h-1.00zM108.97 217.90h1.00v2.95h-1.00zM114.96 217.90h2.00v2.95h-2.00zM128.92 217.90h1.00v2.95h-1.00zM155.86 217.90h1.00v2.95h-1.00zM157.85 217.90h1.00v2.95h-1.00zM170.82 217.90h1.00v2.95h-1.00zM176.81 217.90h1.00v2.95h-1.00zM179.80 217.90h1.00v2.95h-1.00zM190.77 217.90h2.00v2.95h-2.00zM198.75 217.90h1.00v2.95h-1.00zM205.74 217.90h1.00v2.95h-1.00zM224.69 217.90h1.00v2.95h-1.00zM236.66 217.90h1.00v2.95h-1.00zM244.64 217.90h1.00v2.95h-1.00zM256.61 217.90h1.00v2.95h-1.00zM259.61 217.90h2.99v2.95h-2.99zM268.58 217.90h1.00v2.95h-1.00zM278.56 217.90h1.00v2.95h-1.00zM286.54 217.90h1.00v2.95h-1.00zM290.53 217.90h2.00v2.95h-2.00zM301.50 217.90h2.00v2.95h-2.00zM304.50 217.90h1.00v2.95h-1.00zM308.49 217.90h1.00v2.95h-1.00zM317.47 217.90h1.00v2.95h-1.00zM320.46 217.90h2.00v2.95h-2.00zM340.41 217.90h1.00v2.95h-1.00zM343.40 217.90h1.00v2.95h-1.00zM62.08 223.80h1.00v2.95h-1.00zM80.04 223.80h1.00v2.95h-1.00zM119.94 223.80h1.00v2.95h-1.00zM129.92 223.80h1.00v2.95h-1.00zM131.91 223.80h1.00v2.95h-1.00zM136.90 223.80h1.00v2.95h-1.00zM138.90 223.80h1.00v2.95h-1.00zM155.86 223.80h1.00v2.95h-1.00zM167.83 223.80h1.00v2.95h-1.00zM206.73 223.80h1.00v2.95h-1.00zM208.73 223.80h1.00v2.95h-1.00zM233.67 223.80h1.00v2.95h-1.00zM235.66 223.80h1.00v2.95h-1.00zM255.61 223.80h1.00v2.95h-1.00zM295.52 223.80h1.00v2.95h-1.00zM324.45 223.80h1.00v2.95h-1.00zM155.86 226.75h1.00v2.95h-1.00zM157.85 226.75h1.00v2.95h-1.00zM159.85 226.75h1.00v2.95h-1.00zM163.84 226.75h1.00v2.95h-1.00zM194.76 226.75h1.00v2.95h-1.00zM201.75 226.75h1.00v2.95h-1.00zM232.67 226.75h1.00v2.95h-1.00zM238.66 226.75h1.00v2.95h-1.00zM241.65 226.75h1.00v2.95h-1.00zM251.62 226.75h1.00v2.95h-1.00z"/>
<path fill="#52c569" d="M146.88 185.45h1.00v2.95h-1.00zM156.85 185.45h1.00v2.95h-1.00zM164.83 185.45h1.00v2.95h-1.00zM231.67 185.45h1.00v2.95h-1.00zM257.61 185.45h1.00v2.95h-1.00zM284.54 188.40h1.00v2.95h-1.00zM59.09 191.35h1.00v2.95h-1.00zM132.91 191.35h1.00v2.95h-1.00zM136.90 191.35h1.00v2.95h-1.00zM151.87 191.35h1.00v2.95h-1.00zM154.86 191.35h1.00v2.95h-1.00zM159.85 191.35h1.00v2.95h-1.00zM161.84 191.35h1.00v2.95h-1.00zM206.73 191.35h1.00v2.95h-1.00zM257.61 191.35h1.00v2.95h-1.00zM306.49 191.35h1.00v2.95h-1.00zM109.97 197.25h1.00v2.95h-1.00zM120.94 197.25h1.00v2.95h-1.00zM134.91 197.25h1.00v2.95h-1.00zM140.89 197.25h1.00v2.95h-1.00zM142.89 197.25h1.00v2.95h-1.00zM147.88 197.25h1.00v2.95h-1.00zM149.87 197.25h1.00v2.95h-1.00zM165.83 197.25h1.00v2.95h-1.00zM241.65 197.25h1.00v2.95h-1.00zM256.61 197.25h1.00v2.95h-1.00zM263.60 197.25h1.00v2.95h-1.00zM281.55 197.25h1.00v2.95h-1.00zM313.47 197.25h1.00v2.95h-1.00zM316.47 197.25h2.00v2.95h-2.00zM138.90 200.20h1.00v2.95h-1.00zM154.86 200.20h2.99v2.95h-2.99zM159.85 200.20h1.00v2.95h-1.00zM190.77 200.20h1.00v2.95h-1.00zM284.54 200.20h1.00v2.95h-1.00zM330.43 200.20h1.00v2.95h-1.00zM59.09 203.15h1.00v2.95h-1.00zM79.04 203.15h1.00v2.95h-1.00zM89.02 203.15h1.00v2.95h-1.00zM99.99 203.15h1.00v2.95h-1.00zM101.99 203.15h1.00v2.95h-1.00zM145.88 203.15h2.99v2.95h-2.99zM155.86 203.15h1.00v2.95h-1.00zM190.77 203.15h1.00v2.95h-1.00zM222.69 203.15h1.00v2.95h-1.00zM229.68 203.15h1.00v2.95h-1.00zM231.67 203.15h1.00v2.95h-1.00zM234.67 203.15h1.00v2.95h-1.00zM236.66 203.15h1.00v2.95h-1.00zM240.65 203.15h2.00v2.95h-2.00zM257.61 203.15h1.00v2.95h-1.00zM259.61 203.15h2.00v2.95h-2.00zM263.60 203.15h1.00v2.95h-1.00zM273.57 203.15h1.00v2.95h-1.00zM322.45 203.15h1.00v2.95h-1.00zM343.40 203.15h1.00v2.95h-1.00zM150.87 206.10h2.99v2.95h-2.99zM168.82 206.10h1.00v2.95h-1.00zM61.09 212.00h1.00v2.95h-1.00zM64.08 212.00h1.00v2.95h-1.00zM83.03 212.00h1.00v2.95h-1.00zM94.01 212.00h2.00v2.95h-2.00zM125.93 212.00h2.00v2.95h-2.00zM128.92 212.00h1.00v2.95h-1.00zM140.89 212.00h2.00v2.95h-2.00zM144.88 212.00h1.00v2.95h-1.00zM147.88 212.00h2.00v2.95h-2.00zM155.86 212.00h1.00v2.95h-1.00zM208.73 212.00h1.00v2.95h-1.00zM220.70 212.00h1.00v2.95h-1.00zM232.67 212.00h1.00v2.95h-1.00zM238.66 212.00h2.00v2.95h-2.00zM275.57 212.00h1.00v2.95h-1.00zM284.54 212.00h1.00v2.95h-1.00zM302.50 212.00h1.00v2.95h-1.00zM298.51 214.95h1.00v2.95h-1.00zM64.08 217.90h1.00v2.95h-1.00zM81.04 217.90h2.00v2.95h-2.00zM85.03 217.90h1.00v2.95h-1.00zM93.01 217.90h1.00v2.95h-1.00zM95.00 217.90h1.00v2.95h-1.00zM118.95 217.90h1.00v2.95h-1.00zM121.94 217.90h1.00v2.95h-1.00zM129.92 217.90h1.00v2.95h-1.00zM131.91 217.90h1.00v2.95h-1.00zM139.89 217.90h1.00v2.95h-1.00zM141.89 217.90h1.00v2.95h-1.00zM144.88 217.90h1.00v2.95h-1.00zM146.88 217.90h1.00v2.95h-1.00zM151.87 217.90h1.00v2.95h-1.00zM153.86 217.90h2.00v2.95h-2.00zM158.85 217.90h3.99v2.95h-3.99zM168.82 217.90h1.00v2.95h-1.00zM171.82 217.90h1.00v2.95h-1.00zM175.81 217.90h1.00v2.95h-1.00zM180.80 217.90h1.00v2.95h-1.00zM183.79 217.90h1.00v2.95h-1.00zM188.78 217.90h1.00v2.95h-1.00zM194.76 217.90h1.00v2.95h-1.00zM197.75 217.90h1.00v2.95h-1.00zM199.75 217.90h2.99v2.95h-2.99zM211.72 217.90h1.00v2.95h-1.00zM225.69 217.90h1.00v2.95h-1.00zM228.68 217.90h1.00v2.95h-1.00zM231.67 217.90h1.00v2.95h-1.00zM235.66 217.90h1.00v2.95h-1.00zM243.64 217.90h1.00v2.95h-1.00zM249.63 217.90h1.00v2.95h-1.00zM255.61 217.90h1.00v2.95h-1.00zM258.61 217.90h1.00v2.95h-1.00zM262.60 217.90h1.00v2.95h-1.00zM266.59 217.90h1.00v2.95h-1.00zM276.56 217.90h1.00v2.95h-1.00zM280.55 217.90h2.00v2.95h-2.00zM283.55 217.90h1.00v2.95h-1.00zM285.54 217.90h1.00v2.95h-1.00zM306.49 217.90h1.00v2.95h-1.00zM314.47 217.90h1.00v2.95h-1.00zM331.43 217.90h1.00v2.95h-1.00zM339.41 217.90h1.00v2.95h-1.00zM341.41 217.90h2.00v2.95h-2.00zM61.09 223.80h1.00v2.95h-1.00zM118.95 223.80h1.00v2.95h-1.00zM120.94 223.80h1.00v2.95h-1.00zM132.91 223.80h1.00v2.95h-1.00zM134.91 223.80h1.00v2.95h-1.00zM140.89 223.80h1.00v2.95h-1.00zM148.87 223.80h1.00v2.95h-1.00zM241.65 223.80h1.00v2.95h-1.00zM246.64 223.80h2.99v2.95h-2.99zM325.45 223.80h1.00v2.95h-1.00zM220.70 226.75h1.00v2.95h-1.00zM247.63 226.75h1.00v2.95h-1.00zM302.50 226.75h1.00v2.95h-1.00z"/>
<path fill="#69cd5b" d="M150.87 191.35h1.00v2.95h-1.00zM156.85 191.35h1.00v2.95h-1.00zM305.49 191.35h1.00v2.95h-1.00zM146.88 197.25h1.00v2.95h-1.00zM251.62 197.25h1.00v2.95h-1.00zM254.62 197.25h1.00v2.95h-1.00zM262.60 197.25h1.00v2.95h-1.00zM284.54 197.25h1.00v2.95h-1.00zM150.87 200.20h1.00v2.95h-1.00zM157.85 200.20h1.00v2.95h-1.00zM86.03 203.15h2.00v2.95h-2.00zM167.83 203.15h1.00v2.95h-1.00zM180.80 203.15h1.00v2.95h-1.00zM223.69 203.15h1.00v2.95h-1.00zM336.42 203.15h1.00v2.95h-1.00zM163.84 206.10h1.00v2.95h-1.00zM166.83 206.10h2.00v2.95h-2.00zM62.08 212.00h1.00v2.95h-1.00zM70.06 212.00h1.00v2.95h-1.00zM72.06 212.00h1.00v2.95h-1.00zM75.05 212.00h1.00v2.95h-1.00zM78.04 212.00h1.00v2.95h-1.00zM137.90 212.00h1.00v2.95h-1.00zM156.85 212.00h1.00v2.95h-1.00zM184.79 212.00h2.00v2.95h-2.00zM189.77 212.00h1.00v2.95h-1.00zM198.75 212.00h1.00v2.95h-1.00zM202.74 212.00h1.00v2.95h-1.00zM223.69 212.00h1.00v2.95h-1.00zM249.63 212.00h1.00v2.95h-1.00zM308.49 212.00h1.00v2.95h-1.00zM331.43 212.00h1.00v2.95h-1.00zM294.52 214.95h1.00v2.95h-1.00zM63.08 217.90h1.00v2.95h-1.00zM70.06 217.90h1.00v2.95h-1.00zM72.06 217.90h2.99v2.95h-2.99zM77.05 217.90h1.00v2.95h-1.00zM86.03 217.90h2.00v2.95h-2.00zM97.00 217.90h1.00v2.95h-1.00zM99.99 217.90h2.00v2.95h-2.00zM117.95 217.90h1.00v2.95h-1.00zM130.92 217.90h1.00v2.95h-1.00zM133.91 217.90h1.00v2.95h-1.00zM143.89 217.90h1.00v2.95h-1.00zM145.88 217.90h1.00v2.95h-1.00zM147.88 217.90h2.00v2.95h-2.00zM162.84 217.90h2.00v2.95h-2.00zM166.83 217.90h1.00v2.95h-1.00zM174.81 217.90h1.00v2.95h-1.00zM182.79 217.90h1.00v2.95h-1.00zM195.76 217.90h2.00v2.95h-2.00zM203.74 217.90h1.00v2.95h-1.00zM206.73 217.90h1.00v2.95h-1.00zM220.70 217.90h1.00v2.95h-1.00zM229.68 217.90h1.00v2.95h-1.00zM242.65 217.90h1.00v2.95h-1.00zM245.64 217.90h1.00v2.95h-1.00zM248.63 217.90h1.00v2.95h-1.00zM257.61 217.90h1.00v2.95h-1.00zM264.59 217.90h1.00v2.95h-1.00zM267.59 217.90h1.00v2.95h-1.00zM282.55 217.90h1.00v2.95h-1.00zM289.53 217.90h1.00v2.95h-1.00zM295.52 217.90h1.00v2.95h-1.00zM328.44 217.90h1.00v2.95h-1.00zM330.43 217.90h1.00v2.95h-1.00zM332.43 217.90h1.00v2.95h-1.00zM335.42 217.90h1.00v2.95h-1.00zM63.08 223.80h1.00v2.95h-1.00zM123.93 223.80h1.00v2.95h-1.00zM244.64 223.80h1.00v2.95h-1.00z"/>
<path fill="#84d44b" d="M329.44 191.35h1.00v2.95h-1.00zM148.87 197.25h1.00v2.95h-1.00zM255.61 197.25h1.00v2.95h-1.00zM257.61 197.25h1.00v2.95h-1.00zM85.03 203.15h1.00v2.95h-1.00zM150.87 203.15h1.00v2.95h-1.00zM177.80 203.15h1.00v2.95h-1.00zM233.67 203.15h1.00v2.95h-1.00zM235.66 203.15h1.00v2.95h-1.00zM239.65 203.15h1.00v2.95h-1.00zM164.83 206.10h1.00v2.95h-1.00zM169.82 206.10h1.00v2.95h-1.00zM130.92 212.00h1.00v2.95h-1.00zM145.88 212.00h2.00v2.95h-2.00zM153.86 212.00h1.00v2.95h-1.00zM157.85 212.00h2.00v2.95h-2.00zM167.83 214.95h1.00v2.95h-1.00zM78.04 217.90h2.00v2.95h-2.00zM83.03 217.90h1.00v2.95h-1.00zM96.00 217.90h1.00v2.95h-1.00zM98.00 217.90h1.00v2.95h-1.00zM132.91 217.90h1.00v2.95h-1.00zM135.90 217.90h1.00v2.95h-1.00zM137.90 217.90h1.00v2.95h-1.00zM149.87 217.90h2.00v2.95h-2.00zM152.86 217.90h1.00v2.95h-1.00zM156.85 217.90h1.00v2.95h-1.00zM165.83 217.90h1.00v2.95h-1.00zM169.82 217.90h1.00v2.95h-1.00zM177.80 217.90h1.00v2.95h-1.00zM181.79 217.90h1.00v2.95h-1.00zM208.73 217.90h1.00v2.95h-1.00zM222.69 217.90h2.00v2.95h-2.00zM226.68 217.90h2.00v2.95h-2.00zM237.66 217.90h1.00v2.95h-1.00zM241.65 217.90h1.00v2.95h-1.00zM253.62 217.90h1.00v2.95h-1.00zM271.58 217.90h1.00v2.95h-1.00zM284.54 217.90h1.00v2.95h-1.00zM288.54 217.90h1.00v2.95h-1.00zM329.44 217.90h1.00v2.95h-1.00zM130.92 223.80h1.00v2.95h-1.00z"/>
<path fill="#9dd93b" d="M138.90 191.35h1.00v2.95h-1.00zM102.98 203.15h1.00v2.95h-1.00zM232.67 203.15h1.00v2.95h-1.00zM165.83 206.10h1.00v2.95h-1.00zM132.91 212.00h1.00v2.95h-1.00zM134.91 212.00h1.00v2.95h-1.00zM142.89 212.00h1.00v2.95h-1.00zM150.87 212.00h1.00v2.95h-1.00zM159.85 212.00h1.00v2.95h-1.00zM94.01 217.90h1.00v2.95h-1.00zM116.95 217.90h1.00v2.95h-1.00zM138.90 217.90h1.00v2.95h-1.00zM140.89 217.90h1.00v2.95h-1.00zM142.89 217.90h1.00v2.95h-1.00zM164.83 217.90h1.00v2.95h-1.00zM172.82 217.90h1.00v2.95h-1.00zM193.76 217.90h1.00v2.95h-1.00zM221.70 217.90h1.00v2.95h-1.00zM234.67 217.90h1.00v2.95h-1.00zM246.64 217.90h2.00v2.95h-2.00zM251.62 217.90h1.00v2.95h-1.00zM265.59 217.90h1.00v2.95h-1.00zM334.42 217.90h1.00v2.95h-1.00z"/>
<path fill="#bade28" d="M138.90 212.00h1.00v2.95h-1.00zM76.05 217.90h1.00v2.95h-1.00zM80.04 217.90h1.00v2.95h-1.00zM136.90 217.90h1.00v2.95h-1.00zM167.83 217.90h1.00v2.95h-1.00zM232.67 217.90h1.00v2.95h-1.00zM336.42 217.90h1.00v2.95h-1.00z"/>
<path fill="#d8e219" d="M263.60 217.90h1.00v2.95h-1.00z"/>
<path fill="#f1e51d" d="M101.99 217.90h1.00v2.95h-1.00zM134.91 217.90h1.00v2.95h-1.00z"/>
</g>
<text transform="translate(49.90,144.82) scale(0.87,1)" text-anchor="end" style="font-size:9.5px;fill:#2a2a2a;stroke:#2a2a2a;stroke-width:0.04px">10</text>
<text transform="translate(49.90,174.17) scale(0.87,1)" text-anchor="end" style="font-size:9.5px;fill:#2a2a2a;stroke:#2a2a2a;stroke-width:0.04px">0</text>
<text transform="translate(49.90,202.67) scale(0.87,1)" text-anchor="end" style="font-size:9.5px;fill:#2a2a2a;stroke:#2a2a2a;stroke-width:0.04px">10</text>
<text transform="translate(49.90,232.17) scale(0.87,1)" text-anchor="end" style="font-size:9.5px;fill:#2a2a2a;stroke:#2a2a2a;stroke-width:0.04px">0</text>
<text transform="translate(25.23,161.49) rotate(-90) scale(1.329,1)" style="font-family:'Liberation Sans', sans-serif;font-weight:bold;font-size:7.00px;fill:#111;stroke:#111;stroke-width:0.35px;white-space:pre">T-Rep</text>
<text transform="translate(26.62,222.49) rotate(-90) scale(1.043,1)" style="font-family:'Liberation Sans', sans-serif;font-weight:bold;font-size:8.31px;fill:#111;stroke:#111;stroke-width:0.35px;white-space:pre">TS2Vec</text>
<text transform="translate(38.88,167.69) rotate(-90) scale(0.961,1)" style="font-family:'Liberation Sans', sans-serif;font-weight:normal;font-size:7.03px;fill:#222;stroke:#222;stroke-width:0.3px;white-space:pre">Dimensions</text>
<text transform="translate(38.88,226.30) rotate(-90) scale(0.977,1)" style="font-family:'Liberation Sans', sans-serif;font-weight:normal;font-size:7.03px;fill:#222;stroke:#222;stroke-width:0.3px;white-space:pre">Dimensions</text>
<text transform="translate(93.78,241.52) scale(0.87,1)" text-anchor="middle" style="font-size:9.5px;fill:#2a2a2a;stroke:#2a2a2a;stroke-width:0.04px">25</text>
<text transform="translate(132.35,241.52) scale(0.87,1)" text-anchor="middle" style="font-size:9.5px;fill:#2a2a2a;stroke:#2a2a2a;stroke-width:0.04px">50</text>
<text transform="translate(170.93,241.52) scale(0.87,1)" text-anchor="middle" style="font-size:9.5px;fill:#2a2a2a;stroke:#2a2a2a;stroke-width:0.04px">75</text>
<text transform="translate(209.50,241.52) scale(0.87,1)" text-anchor="middle" style="font-size:9.5px;fill:#2a2a2a;stroke:#2a2a2a;stroke-width:0.04px">100</text>
<text transform="translate(248.07,241.52) scale(0.87,1)" text-anchor="middle" style="font-size:9.5px;fill:#2a2a2a;stroke:#2a2a2a;stroke-width:0.04px">125</text>
<text transform="translate(286.65,241.52) scale(0.87,1)" text-anchor="middle" style="font-size:9.5px;fill:#2a2a2a;stroke:#2a2a2a;stroke-width:0.04px">150</text>
<text transform="translate(325.22,241.52) scale(0.87,1)" text-anchor="middle" style="font-size:9.5px;fill:#2a2a2a;stroke:#2a2a2a;stroke-width:0.04px">175</text>
<text transform="translate(195.29,252.27) scale(0.990,1)" style="font-family:'Liberation Sans', sans-serif;font-weight:normal;font-size:8.24px;fill:#222;stroke:#222;stroke-width:0.25px;white-space:pre">Time</text>
<rect x="349.7" y="131.2" width="5" height="92" fill="url(#cb)" stroke="#222" stroke-width="0.6"/>
<g stroke="#333" stroke-width="0.8"><line x1="354.8" y1="155" x2="357.8" y2="155"/><line x1="354.8" y1="177.6" x2="357.8" y2="177.6"/><line x1="354.8" y1="201" x2="357.8" y2="201"/></g>
<text transform="translate(361.20,158.32) scale(1.03,1)" text-anchor="start" style="font-size:9.5px;fill:#2a2a2a;stroke:#2a2a2a;stroke-width:0.04px">0.5</text>
<text transform="translate(361.20,181.12) scale(1.03,1)" text-anchor="start" style="font-size:9.5px;fill:#2a2a2a;stroke:#2a2a2a;stroke-width:0.04px">0.0</text>
<text transform="translate(367.30,204.62) scale(1.03,1)" text-anchor="start" style="font-size:9.5px;fill:#2a2a2a;stroke:#2a2a2a;stroke-width:0.04px">0.5</text>
<rect x="361.5" y="200.9" width="5.3" height="0.9" fill="#333"/>
<text transform="translate(127.72,6.64) scale(0.975,1)" style="font-family:'Liberation Sans', sans-serif;font-weight:normal;font-size:9.30px;fill:#ff0000;stroke:#ff0000;stroke-width:0.15px;white-space:pre">Missing Data</text>
<rect x="128.3" y="10.9" width="51" height="218.2" rx="8" ry="8" fill="none" stroke="#ff0000" stroke-width="2.2"/>
<text transform="translate(97.30,267.96) scale(1.040,1)" style="font-family:'Liberation Serif', serif;font-weight:normal;font-size:10.89px;fill:#111;stroke:#111;stroke-width:0.25px;white-space:pre">(a) Missing data robustness visualisation</text>
<path d="M402.5 229.3 V11.5" fill="none" stroke="#bbb" stroke-width="1"/><path d="M402 229.4 H622" fill="none" stroke="#888" stroke-width="1.1"/>
<path d="M402.5 11.5 H621.8 V229.3" fill="none" stroke="#666" stroke-width="1"/>
<g stroke="#888" stroke-width="0.8"><line x1="399.8" y1="224.2" x2="402.5" y2="224.2"/><line x1="399.8" y1="183.9" x2="402.5" y2="183.9"/><line x1="399.8" y1="143.6" x2="402.5" y2="143.6"/><line x1="399.8" y1="103.4" x2="402.5" y2="103.4"/><line x1="399.8" y1="63.1" x2="402.5" y2="63.1"/><line x1="399.8" y1="22.8" x2="402.5" y2="22.8"/><line x1="411.9" y1="229.3" x2="411.9" y2="232"/><line x1="467.4" y1="229.3" x2="467.4" y2="232"/><line x1="523.0" y1="229.3" x2="523.0" y2="232"/><line x1="578.5" y1="229.3" x2="578.5" y2="232"/><line x1="611.9" y1="229.3" x2="611.9" y2="232"/></g>
<text transform="translate(396.80,227.12) scale(0.87,1)" text-anchor="end" style="font-size:9.5px;fill:#2a2a2a;stroke:#2a2a2a;stroke-width:0.04px">0.0</text>
<text transform="translate(396.80,186.84) scale(0.87,1)" text-anchor="end" style="font-size:9.5px;fill:#2a2a2a;stroke:#2a2a2a;stroke-width:0.04px">0.2</text>
<text transform="translate(396.80,146.56) scale(0.87,1)" text-anchor="end" style="font-size:9.5px;fill:#2a2a2a;stroke:#2a2a2a;stroke-width:0.04px">0.4</text>
<text transform="translate(396.80,106.28) scale(0.87,1)" text-anchor="end" style="font-size:9.5px;fill:#2a2a2a;stroke:#2a2a2a;stroke-width:0.04px">0.6</text>
<text transform="translate(396.80,66.00) scale(0.87,1)" text-anchor="end" style="font-size:9.5px;fill:#2a2a2a;stroke:#2a2a2a;stroke-width:0.04px">0.8</text>
<text transform="translate(396.80,25.72) scale(0.87,1)" text-anchor="end" style="font-size:9.5px;fill:#2a2a2a;stroke:#2a2a2a;stroke-width:0.04px">1.0</text>
<text transform="translate(411.90,241.42) scale(0.87,1)" text-anchor="middle" style="font-size:9.5px;fill:#2a2a2a;stroke:#2a2a2a;stroke-width:0.04px">0</text>
<text transform="translate(467.45,241.42) scale(0.87,1)" text-anchor="middle" style="font-size:9.5px;fill:#2a2a2a;stroke:#2a2a2a;stroke-width:0.04px">25</text>
<text transform="translate(523.00,241.42) scale(0.87,1)" text-anchor="middle" style="font-size:9.5px;fill:#2a2a2a;stroke:#2a2a2a;stroke-width:0.04px">50</text>
<text transform="translate(578.55,241.42) scale(0.87,1)" text-anchor="middle" style="font-size:9.5px;fill:#2a2a2a;stroke:#2a2a2a;stroke-width:0.04px">75</text>
<text transform="translate(611.88,241.42) scale(0.87,1)" text-anchor="middle" style="font-size:9.5px;fill:#2a2a2a;stroke:#2a2a2a;stroke-width:0.04px">90</text>
<text transform="translate(373.28,95.65) rotate(-90) scale(1.167,1)" style="font-family:'Liberation Sans', sans-serif;font-weight:normal;font-size:8.44px;fill:#222;stroke:#222;stroke-width:0.25px;white-space:pre">Accuracy</text>
<text transform="translate(455.00,252.76) scale(1.100,1)" style="font-family:'Liberation Sans', sans-serif;font-weight:normal;font-size:8.51px;fill:#4a4a4a;stroke:#4a4a4a;stroke-width:0.05px;white-space:pre">Percentage of missing data</text>
<polyline points="411.9,28.8 467.4,28.6 523.0,26.0 578.5,34.4 611.9,52.8" fill="none" stroke="#f8a51e" stroke-width="1.5" stroke-dasharray="3.8 2.6"/>
<line x1="411.9" y1="25.0" x2="411.9" y2="32.6" stroke="#f8a51e" stroke-width="1.0"/><line x1="409.9" y1="25.0" x2="413.9" y2="25.0" stroke="#f8a51e" stroke-width="1.0"/><line x1="409.9" y1="32.6" x2="413.9" y2="32.6" stroke="#f8a51e" stroke-width="1.0"/><line x1="467.4" y1="24.6" x2="467.4" y2="32.6" stroke="#f8a51e" stroke-width="1.0"/><line x1="465.4" y1="24.6" x2="469.4" y2="24.6" stroke="#f8a51e" stroke-width="1.0"/><line x1="465.4" y1="32.6" x2="469.4" y2="32.6" stroke="#f8a51e" stroke-width="1.0"/><line x1="523.0" y1="24.0" x2="523.0" y2="28.0" stroke="#f8a51e" stroke-width="1.0"/><line x1="521.0" y1="24.0" x2="525.0" y2="24.0" stroke="#f8a51e" stroke-width="1.0"/><line x1="521.0" y1="28.0" x2="525.0" y2="28.0" stroke="#f8a51e" stroke-width="1.0"/><line x1="578.5" y1="31.2" x2="578.5" y2="37.6" stroke="#f8a51e" stroke-width="1.0"/><line x1="576.5" y1="31.2" x2="580.5" y2="31.2" stroke="#f8a51e" stroke-width="1.0"/><line x1="576.5" y1="37.6" x2="580.5" y2="37.6" stroke="#f8a51e" stroke-width="1.0"/><line x1="611.9" y1="49.8" x2="611.9" y2="55.8" stroke="#f8a51e" stroke-width="1.0"/><line x1="609.9" y1="49.8" x2="613.9" y2="49.8" stroke="#f8a51e" stroke-width="1.0"/><line x1="609.9" y1="55.8" x2="613.9" y2="55.8" stroke="#f8a51e" stroke-width="1.0"/>
<polyline points="411.9,25.5 467.4,24.0 523.0,26.0 578.5,31.6 611.9,44.8" fill="none" stroke="#3a9f3a" stroke-width="1.1"/>
<line x1="411.9" y1="23.5" x2="411.9" y2="27.5" stroke="#3a9f3a" stroke-width="1.0"/><line x1="409.9" y1="23.5" x2="413.9" y2="23.5" stroke="#3a9f3a" stroke-width="1.0"/><line x1="409.9" y1="27.5" x2="413.9" y2="27.5" stroke="#3a9f3a" stroke-width="1.0"/><line x1="467.4" y1="21.4" x2="467.4" y2="26.6" stroke="#3a9f3a" stroke-width="1.0"/><line x1="465.4" y1="21.4" x2="469.4" y2="21.4" stroke="#3a9f3a" stroke-width="1.0"/><line x1="465.4" y1="26.6" x2="469.4" y2="26.6" stroke="#3a9f3a" stroke-width="1.0"/><line x1="523.0" y1="21.3" x2="523.0" y2="30.7" stroke="#3a9f3a" stroke-width="1.0"/><line x1="521.0" y1="21.3" x2="525.0" y2="21.3" stroke="#3a9f3a" stroke-width="1.0"/><line x1="521.0" y1="30.7" x2="525.0" y2="30.7" stroke="#3a9f3a" stroke-width="1.0"/><line x1="578.5" y1="29.2" x2="578.5" y2="34.0" stroke="#3a9f3a" stroke-width="1.0"/><line x1="576.5" y1="29.2" x2="580.5" y2="29.2" stroke="#3a9f3a" stroke-width="1.0"/><line x1="576.5" y1="34.0" x2="580.5" y2="34.0" stroke="#3a9f3a" stroke-width="1.0"/><line x1="611.9" y1="41.5" x2="611.9" y2="48.1" stroke="#3a9f3a" stroke-width="1.0"/><line x1="609.9" y1="41.5" x2="613.9" y2="41.5" stroke="#3a9f3a" stroke-width="1.0"/><line x1="609.9" y1="48.1" x2="613.9" y2="48.1" stroke="#3a9f3a" stroke-width="1.0"/>
<polyline points="411.9,31.5 467.4,156.0 523.0,199.3 578.5,216.6 611.9,218.6" fill="none" stroke="#ff3333" stroke-width="1.25" stroke-dasharray="2.6 1.3"/>
<line x1="411.9" y1="28.1" x2="411.9" y2="34.9" stroke="#ff3333" stroke-width="1.0"/><line x1="409.9" y1="28.1" x2="413.9" y2="28.1" stroke="#ff3333" stroke-width="1.0"/><line x1="409.9" y1="34.9" x2="413.9" y2="34.9" stroke="#ff3333" stroke-width="1.0"/><line x1="467.4" y1="146.0" x2="467.4" y2="166.0" stroke="#ff3333" stroke-width="1.0"/><line x1="465.4" y1="146.0" x2="469.4" y2="146.0" stroke="#ff3333" stroke-width="1.0"/><line x1="465.4" y1="166.0" x2="469.4" y2="166.0" stroke="#ff3333" stroke-width="1.0"/><line x1="523.0" y1="198.4" x2="523.0" y2="200.2" stroke="#ff3333" stroke-width="1.0"/><line x1="521.0" y1="198.4" x2="525.0" y2="198.4" stroke="#ff3333" stroke-width="1.0"/><line x1="521.0" y1="200.2" x2="525.0" y2="200.2" stroke="#ff3333" stroke-width="1.0"/><line x1="578.5" y1="215.8" x2="578.5" y2="217.4" stroke="#ff3333" stroke-width="1.0"/><line x1="576.5" y1="215.8" x2="580.5" y2="215.8" stroke="#ff3333" stroke-width="1.0"/><line x1="576.5" y1="217.4" x2="580.5" y2="217.4" stroke="#ff3333" stroke-width="1.0"/><line x1="611.9" y1="217.8" x2="611.9" y2="219.4" stroke="#ff3333" stroke-width="1.0"/><line x1="609.9" y1="217.8" x2="613.9" y2="217.8" stroke="#ff3333" stroke-width="1.0"/><line x1="609.9" y1="219.4" x2="613.9" y2="219.4" stroke="#ff3333" stroke-width="1.0"/>
<rect x="406.8" y="185.6" width="61.4" height="39.4" rx="2" fill="#fff" fill-opacity="0.85" stroke="#ddd" stroke-width="0.8"/>
<line x1="409.6" y1="192" x2="427" y2="192" stroke="#f8a51e" stroke-width="1.5" stroke-dasharray="4 2.5"/>
<line x1="418.4" y1="188" x2="418.4" y2="196" stroke="#f8a51e" stroke-width="1"/>
<line x1="416.4" y1="188" x2="420.4" y2="188" stroke="#f8a51e" stroke-width="1"/><line x1="416.4" y1="196" x2="420.4" y2="196" stroke="#f8a51e" stroke-width="1"/>
<line x1="409.6" y1="204.6" x2="427" y2="204.6" stroke="#3a9f3a" stroke-width="1.1"/>
<line x1="418.4" y1="200.6" x2="418.4" y2="208.6" stroke="#3a9f3a" stroke-width="1"/>
<line x1="416.4" y1="200.6" x2="420.4" y2="200.6" stroke="#3a9f3a" stroke-width="1"/><line x1="416.4" y1="208.6" x2="420.4" y2="208.6" stroke="#3a9f3a" stroke-width="1"/>
<line x1="409.6" y1="217" x2="427" y2="217" stroke="#ff3333" stroke-width="1.25" stroke-dasharray="2.6 1.3"/>
<line x1="418.4" y1="213" x2="418.4" y2="221" stroke="#ff3333" stroke-width="1"/>
<line x1="416.4" y1="213" x2="420.4" y2="213" stroke="#ff3333" stroke-width="1"/><line x1="416.4" y1="221" x2="420.4" y2="221" stroke="#ff3333" stroke-width="1"/>
<text transform="translate(434.48,194.96) scale(0.907,1)" style="font-family:'Liberation Sans', sans-serif;font-weight:normal;font-size:9.30px;fill:#333;stroke:#333;stroke-width:0.1px;white-space:pre">TS2Vec</text>
<text transform="translate(434.48,207.37) scale(0.920,1)" style="font-family:'Liberation Sans', sans-serif;font-weight:normal;font-size:9.44px;fill:#333;stroke:#333;stroke-width:0.1px;white-space:pre">T-Rep</text>
<text transform="translate(434.48,219.76) scale(0.924,1)" style="font-family:'Liberation Sans', sans-serif;font-weight:normal;font-size:9.43px;fill:#333;stroke:#333;stroke-width:0.1px;white-space:pre">T-Loss</text>
<text transform="translate(407.80,268.01) scale(1.065,1)" style="font-family:'Liberation Serif', serif;font-weight:normal;font-size:10.65px;fill:#111;stroke:#111;stroke-width:0.25px;white-space:pre">(b) Performance robustness with  missing data</text>
</svg>
</body></html>
